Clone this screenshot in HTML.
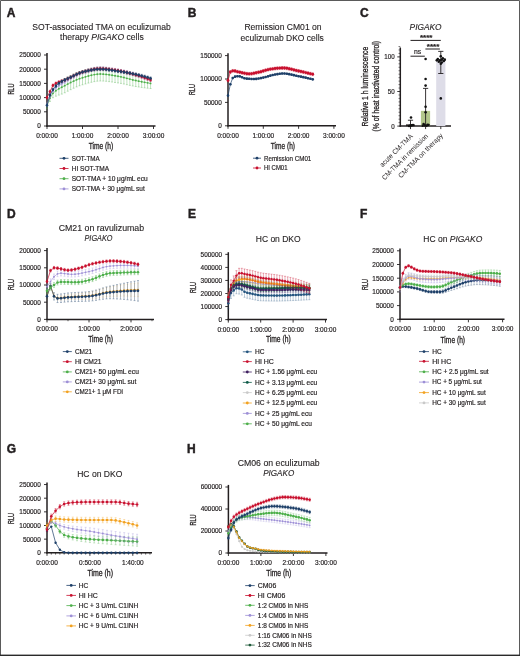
<!DOCTYPE html>
<html><head><meta charset="utf-8"><style>
html,body{margin:0;padding:0;background:#fff;width:520px;height:656px;overflow:hidden}
svg{display:block;will-change:transform}
text{font-family:"Liberation Sans", sans-serif}
</style></head><body>
<svg width="520" height="656" viewBox="0 0 520 656">
<rect x="0.5" y="0.5" width="519" height="655" fill="#fff" stroke="none"/>
<text x="6.80" y="16.65" font-size="12" font-weight="bold" fill="#231f20" stroke="#231f20" stroke-width="0.45">A</text>
<text x="101.50" y="29.60" font-size="9.2" text-anchor="middle" font-weight="normal" font-style="normal" fill="#231f20" stroke="#231f20" stroke-width="0.12" textLength="138.5" lengthAdjust="spacingAndGlyphs">SOT-associated TMA on eculizumab</text>
<text x="101.9" y="40.4" font-size="9.2" text-anchor="middle" fill="#231f20" stroke="#231f20" stroke-width="0.12" textLength="83.6" lengthAdjust="spacingAndGlyphs">therapy <tspan font-style="italic">PIGAKO</tspan> cells</text>
<line x1="47.00" y1="53.00" x2="47.00" y2="126.70" stroke="#231f20" stroke-width="1.5" stroke-opacity="1.0"/>
<line x1="46.30" y1="126.00" x2="155.50" y2="126.00" stroke="#231f20" stroke-width="1.5" stroke-opacity="1.0"/>
<line x1="44.00" y1="126.00" x2="47.00" y2="126.00" stroke="#231f20" stroke-width="0.9" stroke-opacity="1.0"/>
<text x="40.80" y="128.40" font-size="6.7" text-anchor="end" font-weight="normal" font-style="normal" fill="#231f20" stroke="#231f20" stroke-width="0.18" textLength="3.58" lengthAdjust="spacingAndGlyphs">0</text>
<line x1="44.00" y1="111.80" x2="47.00" y2="111.80" stroke="#231f20" stroke-width="0.9" stroke-opacity="1.0"/>
<text x="40.80" y="114.20" font-size="6.7" text-anchor="end" font-weight="normal" font-style="normal" fill="#231f20" stroke="#231f20" stroke-width="0.18" textLength="17.9" lengthAdjust="spacingAndGlyphs">50000</text>
<line x1="44.00" y1="97.60" x2="47.00" y2="97.60" stroke="#231f20" stroke-width="0.9" stroke-opacity="1.0"/>
<text x="40.80" y="100.00" font-size="6.7" text-anchor="end" font-weight="normal" font-style="normal" fill="#231f20" stroke="#231f20" stroke-width="0.18" textLength="21.48" lengthAdjust="spacingAndGlyphs">100000</text>
<line x1="44.00" y1="83.40" x2="47.00" y2="83.40" stroke="#231f20" stroke-width="0.9" stroke-opacity="1.0"/>
<text x="40.80" y="85.80" font-size="6.7" text-anchor="end" font-weight="normal" font-style="normal" fill="#231f20" stroke="#231f20" stroke-width="0.18" textLength="21.48" lengthAdjust="spacingAndGlyphs">150000</text>
<line x1="44.00" y1="69.20" x2="47.00" y2="69.20" stroke="#231f20" stroke-width="0.9" stroke-opacity="1.0"/>
<text x="40.80" y="71.60" font-size="6.7" text-anchor="end" font-weight="normal" font-style="normal" fill="#231f20" stroke="#231f20" stroke-width="0.18" textLength="21.48" lengthAdjust="spacingAndGlyphs">200000</text>
<line x1="44.00" y1="55.00" x2="47.00" y2="55.00" stroke="#231f20" stroke-width="0.9" stroke-opacity="1.0"/>
<text x="40.80" y="57.40" font-size="6.7" text-anchor="end" font-weight="normal" font-style="normal" fill="#231f20" stroke="#231f20" stroke-width="0.18" textLength="21.48" lengthAdjust="spacingAndGlyphs">250000</text>
<line x1="47.00" y1="126.00" x2="47.00" y2="129.00" stroke="#231f20" stroke-width="0.9" stroke-opacity="1.0"/>
<text x="47.00" y="138.00" font-size="6.6" text-anchor="middle" font-weight="normal" font-style="normal" fill="#231f20" stroke="#231f20" stroke-width="0.18" textLength="21.7" lengthAdjust="spacingAndGlyphs">0:00:00</text>
<line x1="82.50" y1="126.00" x2="82.50" y2="129.00" stroke="#231f20" stroke-width="0.9" stroke-opacity="1.0"/>
<text x="82.50" y="138.00" font-size="6.6" text-anchor="middle" font-weight="normal" font-style="normal" fill="#231f20" stroke="#231f20" stroke-width="0.18" textLength="21.7" lengthAdjust="spacingAndGlyphs">1:00:00</text>
<line x1="118.00" y1="126.00" x2="118.00" y2="129.00" stroke="#231f20" stroke-width="0.9" stroke-opacity="1.0"/>
<text x="118.00" y="138.00" font-size="6.6" text-anchor="middle" font-weight="normal" font-style="normal" fill="#231f20" stroke="#231f20" stroke-width="0.18" textLength="21.7" lengthAdjust="spacingAndGlyphs">2:00:00</text>
<line x1="153.50" y1="126.00" x2="153.50" y2="129.00" stroke="#231f20" stroke-width="0.9" stroke-opacity="1.0"/>
<text x="153.50" y="138.00" font-size="6.6" text-anchor="middle" font-weight="normal" font-style="normal" fill="#231f20" stroke="#231f20" stroke-width="0.18" textLength="21.7" lengthAdjust="spacingAndGlyphs">3:00:00</text>
<text x="13.70" y="89.10" font-size="9.2" text-anchor="middle" font-weight="normal" font-style="normal" fill="#231f20" stroke="#231f20" stroke-width="0.3" textLength="11" lengthAdjust="spacingAndGlyphs" transform="rotate(-90 13.7 89.1)">RLU</text>
<text x="101.00" y="149.00" font-size="8.5" text-anchor="middle" font-weight="normal" font-style="normal" fill="#231f20" stroke="#231f20" stroke-width="0.3" textLength="24.5" lengthAdjust="spacingAndGlyphs">Time (h)</text>
<g><path d="M47.00 103.85V108.39M46.00 103.85h2.00M46.00 108.39h2.00" stroke="#4daf4a" stroke-width="0.5" stroke-opacity="0.7" fill="none"/><path d="M49.96 94.85V101.44M48.96 94.85h2.00M48.96 101.44h2.00" stroke="#4daf4a" stroke-width="0.5" stroke-opacity="0.7" fill="none"/><path d="M52.92 88.98V97.72M51.92 88.98h2.00M51.92 97.72h2.00" stroke="#4daf4a" stroke-width="0.5" stroke-opacity="0.7" fill="none"/><path d="M55.88 85.36V96.16M54.88 85.36h2.00M54.88 96.16h2.00" stroke="#4daf4a" stroke-width="0.5" stroke-opacity="0.7" fill="none"/><path d="M58.83 82.53V95.08M57.83 82.53h2.00M57.83 95.08h2.00" stroke="#4daf4a" stroke-width="0.5" stroke-opacity="0.7" fill="none"/><path d="M61.79 80.33V94.08M60.79 80.33h2.00M60.79 94.08h2.00" stroke="#4daf4a" stroke-width="0.5" stroke-opacity="0.7" fill="none"/><path d="M64.75 78.57V92.77M63.75 78.57h2.00M63.75 92.77h2.00" stroke="#4daf4a" stroke-width="0.5" stroke-opacity="0.7" fill="none"/><path d="M67.71 77.00V91.20M66.71 77.00h2.00M66.71 91.20h2.00" stroke="#4daf4a" stroke-width="0.5" stroke-opacity="0.7" fill="none"/><path d="M70.67 75.47V89.67M69.67 75.47h2.00M69.67 89.67h2.00" stroke="#4daf4a" stroke-width="0.5" stroke-opacity="0.7" fill="none"/><path d="M73.62 74.04V88.23M72.62 74.04h2.00M72.62 88.23h2.00" stroke="#4daf4a" stroke-width="0.5" stroke-opacity="0.7" fill="none"/><path d="M76.58 72.73V86.92M75.58 72.73h2.00M75.58 86.92h2.00" stroke="#4daf4a" stroke-width="0.5" stroke-opacity="0.7" fill="none"/><path d="M79.54 71.58V85.76M78.54 71.58h2.00M78.54 85.76h2.00" stroke="#4daf4a" stroke-width="0.5" stroke-opacity="0.7" fill="none"/><path d="M82.50 70.64V84.80M81.50 70.64h2.00M81.50 84.80h2.00" stroke="#4daf4a" stroke-width="0.5" stroke-opacity="0.7" fill="none"/><path d="M85.46 69.79V83.94M84.46 69.79h2.00M84.46 83.94h2.00" stroke="#4daf4a" stroke-width="0.5" stroke-opacity="0.7" fill="none"/><path d="M88.42 68.96V83.07M87.42 68.96h2.00M87.42 83.07h2.00" stroke="#4daf4a" stroke-width="0.5" stroke-opacity="0.7" fill="none"/><path d="M91.38 68.20V82.28M90.38 68.20h2.00M90.38 82.28h2.00" stroke="#4daf4a" stroke-width="0.5" stroke-opacity="0.7" fill="none"/><path d="M94.33 67.59V81.63M93.33 67.59h2.00M93.33 81.63h2.00" stroke="#4daf4a" stroke-width="0.5" stroke-opacity="0.7" fill="none"/><path d="M97.29 67.19V81.18M96.29 67.19h2.00M96.29 81.18h2.00" stroke="#4daf4a" stroke-width="0.5" stroke-opacity="0.7" fill="none"/><path d="M100.25 67.07V80.99M99.25 67.07h2.00M99.25 80.99h2.00" stroke="#4daf4a" stroke-width="0.5" stroke-opacity="0.7" fill="none"/><path d="M103.21 67.21V81.05M102.21 67.21h2.00M102.21 81.05h2.00" stroke="#4daf4a" stroke-width="0.5" stroke-opacity="0.7" fill="none"/><path d="M106.17 67.52V81.27M105.17 67.52h2.00M105.17 81.27h2.00" stroke="#4daf4a" stroke-width="0.5" stroke-opacity="0.7" fill="none"/><path d="M109.12 67.97V81.62M108.12 67.97h2.00M108.12 81.62h2.00" stroke="#4daf4a" stroke-width="0.5" stroke-opacity="0.7" fill="none"/><path d="M112.08 68.50V82.04M111.08 68.50h2.00M111.08 82.04h2.00" stroke="#4daf4a" stroke-width="0.5" stroke-opacity="0.7" fill="none"/><path d="M115.04 69.09V82.49M114.04 69.09h2.00M114.04 82.49h2.00" stroke="#4daf4a" stroke-width="0.5" stroke-opacity="0.7" fill="none"/><path d="M118.00 69.67V82.93M117.00 69.67h2.00M117.00 82.93h2.00" stroke="#4daf4a" stroke-width="0.5" stroke-opacity="0.7" fill="none"/><path d="M120.96 70.33V83.41M119.96 70.33h2.00M119.96 83.41h2.00" stroke="#4daf4a" stroke-width="0.5" stroke-opacity="0.7" fill="none"/><path d="M123.92 71.11V84.02M122.92 71.11h2.00M122.92 84.02h2.00" stroke="#4daf4a" stroke-width="0.5" stroke-opacity="0.7" fill="none"/><path d="M126.88 71.98V84.68M125.88 71.98h2.00M125.88 84.68h2.00" stroke="#4daf4a" stroke-width="0.5" stroke-opacity="0.7" fill="none"/><path d="M129.83 72.88V85.35M128.83 72.88h2.00M128.83 85.35h2.00" stroke="#4daf4a" stroke-width="0.5" stroke-opacity="0.7" fill="none"/><path d="M132.79 73.77V85.99M131.79 73.77h2.00M131.79 85.99h2.00" stroke="#4daf4a" stroke-width="0.5" stroke-opacity="0.7" fill="none"/><path d="M135.75 74.58V86.54M134.75 74.58h2.00M134.75 86.54h2.00" stroke="#4daf4a" stroke-width="0.5" stroke-opacity="0.7" fill="none"/><path d="M138.71 75.34V87.01M137.71 75.34h2.00M137.71 87.01h2.00" stroke="#4daf4a" stroke-width="0.5" stroke-opacity="0.7" fill="none"/><path d="M141.67 76.09V87.44M140.67 76.09h2.00M140.67 87.44h2.00" stroke="#4daf4a" stroke-width="0.5" stroke-opacity="0.7" fill="none"/><path d="M144.62 76.83V87.83M143.62 76.83h2.00M143.62 87.83h2.00" stroke="#4daf4a" stroke-width="0.5" stroke-opacity="0.7" fill="none"/><path d="M147.58 77.55V88.19M146.58 77.55h2.00M146.58 88.19h2.00" stroke="#4daf4a" stroke-width="0.5" stroke-opacity="0.7" fill="none"/><path d="M150.54 78.26V88.50M149.54 78.26h2.00M149.54 88.50h2.00" stroke="#4daf4a" stroke-width="0.5" stroke-opacity="0.7" fill="none"/><polyline points="47.00,106.12 49.96,98.14 52.92,93.35 55.88,90.76 58.83,88.81 61.79,87.20 64.75,85.67 67.71,84.10 70.67,82.57 73.62,81.14 76.58,79.82 79.54,78.67 82.50,77.72 85.46,76.86 88.42,76.02 91.38,75.24 94.33,74.61 97.29,74.18 100.25,74.03 103.21,74.13 106.17,74.40 109.12,74.79 112.08,75.27 115.04,75.79 118.00,76.30 120.96,76.87 123.92,77.57 126.88,78.33 129.83,79.12 132.79,79.88 135.75,80.56 138.71,81.17 141.67,81.76 144.62,82.33 147.58,82.87 150.54,83.38" fill="none" stroke="#4daf4a" stroke-width="0.6"/><circle cx="47.00" cy="106.12" r="0.95" fill="#4daf4a"/><circle cx="49.96" cy="98.14" r="0.95" fill="#4daf4a"/><circle cx="52.92" cy="93.35" r="0.95" fill="#4daf4a"/><circle cx="55.88" cy="90.76" r="0.95" fill="#4daf4a"/><circle cx="58.83" cy="88.81" r="0.95" fill="#4daf4a"/><circle cx="61.79" cy="87.20" r="0.95" fill="#4daf4a"/><circle cx="64.75" cy="85.67" r="0.95" fill="#4daf4a"/><circle cx="67.71" cy="84.10" r="0.95" fill="#4daf4a"/><circle cx="70.67" cy="82.57" r="0.95" fill="#4daf4a"/><circle cx="73.62" cy="81.14" r="0.95" fill="#4daf4a"/><circle cx="76.58" cy="79.82" r="0.95" fill="#4daf4a"/><circle cx="79.54" cy="78.67" r="0.95" fill="#4daf4a"/><circle cx="82.50" cy="77.72" r="0.95" fill="#4daf4a"/><circle cx="85.46" cy="76.86" r="0.95" fill="#4daf4a"/><circle cx="88.42" cy="76.02" r="0.95" fill="#4daf4a"/><circle cx="91.38" cy="75.24" r="0.95" fill="#4daf4a"/><circle cx="94.33" cy="74.61" r="0.95" fill="#4daf4a"/><circle cx="97.29" cy="74.18" r="0.95" fill="#4daf4a"/><circle cx="100.25" cy="74.03" r="0.95" fill="#4daf4a"/><circle cx="103.21" cy="74.13" r="0.95" fill="#4daf4a"/><circle cx="106.17" cy="74.40" r="0.95" fill="#4daf4a"/><circle cx="109.12" cy="74.79" r="0.95" fill="#4daf4a"/><circle cx="112.08" cy="75.27" r="0.95" fill="#4daf4a"/><circle cx="115.04" cy="75.79" r="0.95" fill="#4daf4a"/><circle cx="118.00" cy="76.30" r="0.95" fill="#4daf4a"/><circle cx="120.96" cy="76.87" r="0.95" fill="#4daf4a"/><circle cx="123.92" cy="77.57" r="0.95" fill="#4daf4a"/><circle cx="126.88" cy="78.33" r="0.95" fill="#4daf4a"/><circle cx="129.83" cy="79.12" r="0.95" fill="#4daf4a"/><circle cx="132.79" cy="79.88" r="0.95" fill="#4daf4a"/><circle cx="135.75" cy="80.56" r="0.95" fill="#4daf4a"/><circle cx="138.71" cy="81.17" r="0.95" fill="#4daf4a"/><circle cx="141.67" cy="81.76" r="0.95" fill="#4daf4a"/><circle cx="144.62" cy="82.33" r="0.95" fill="#4daf4a"/><circle cx="147.58" cy="82.87" r="0.95" fill="#4daf4a"/><circle cx="150.54" cy="83.38" r="0.95" fill="#4daf4a"/></g>
<g><path d="M47.00 103.00V106.40M46.00 103.00h2.00M46.00 106.40h2.00" stroke="#9d8fd6" stroke-width="0.5" stroke-opacity="0.8" fill="none"/><path d="M49.96 94.45V97.86M48.96 94.45h2.00M48.96 97.86h2.00" stroke="#9d8fd6" stroke-width="0.5" stroke-opacity="0.8" fill="none"/><path d="M52.92 88.81V92.22M51.92 88.81h2.00M51.92 92.22h2.00" stroke="#9d8fd6" stroke-width="0.5" stroke-opacity="0.8" fill="none"/><path d="M55.88 85.90V89.31M54.88 85.90h2.00M54.88 89.31h2.00" stroke="#9d8fd6" stroke-width="0.5" stroke-opacity="0.8" fill="none"/><path d="M58.83 83.75V87.16M57.83 83.75h2.00M57.83 87.16h2.00" stroke="#9d8fd6" stroke-width="0.5" stroke-opacity="0.8" fill="none"/><path d="M61.79 82.00V85.40M60.79 82.00h2.00M60.79 85.40h2.00" stroke="#9d8fd6" stroke-width="0.5" stroke-opacity="0.8" fill="none"/><path d="M64.75 80.28V83.68M63.75 80.28h2.00M63.75 83.68h2.00" stroke="#9d8fd6" stroke-width="0.5" stroke-opacity="0.8" fill="none"/><path d="M67.71 78.45V81.86M66.71 78.45h2.00M66.71 81.86h2.00" stroke="#9d8fd6" stroke-width="0.5" stroke-opacity="0.8" fill="none"/><path d="M70.67 76.66V80.07M69.67 76.66h2.00M69.67 80.07h2.00" stroke="#9d8fd6" stroke-width="0.5" stroke-opacity="0.8" fill="none"/><path d="M73.62 74.96V78.36M72.62 74.96h2.00M72.62 78.36h2.00" stroke="#9d8fd6" stroke-width="0.5" stroke-opacity="0.8" fill="none"/><path d="M76.58 73.39V76.80M75.58 73.39h2.00M75.58 76.80h2.00" stroke="#9d8fd6" stroke-width="0.5" stroke-opacity="0.8" fill="none"/><path d="M79.54 72.02V75.43M78.54 72.02h2.00M78.54 75.43h2.00" stroke="#9d8fd6" stroke-width="0.5" stroke-opacity="0.8" fill="none"/><path d="M82.50 70.90V74.31M81.50 70.90h2.00M81.50 74.31h2.00" stroke="#9d8fd6" stroke-width="0.5" stroke-opacity="0.8" fill="none"/><path d="M85.46 69.91V73.32M84.46 69.91h2.00M84.46 73.32h2.00" stroke="#9d8fd6" stroke-width="0.5" stroke-opacity="0.8" fill="none"/><path d="M88.42 68.93V72.34M87.42 68.93h2.00M87.42 72.34h2.00" stroke="#9d8fd6" stroke-width="0.5" stroke-opacity="0.8" fill="none"/><path d="M91.38 68.04V71.45M90.38 68.04h2.00M90.38 71.45h2.00" stroke="#9d8fd6" stroke-width="0.5" stroke-opacity="0.8" fill="none"/><path d="M94.33 67.31V70.72M93.33 67.31h2.00M93.33 70.72h2.00" stroke="#9d8fd6" stroke-width="0.5" stroke-opacity="0.8" fill="none"/><path d="M97.29 66.82V70.23M96.29 66.82h2.00M96.29 70.23h2.00" stroke="#9d8fd6" stroke-width="0.5" stroke-opacity="0.8" fill="none"/><path d="M100.25 66.64V70.05M99.25 66.64h2.00M99.25 70.05h2.00" stroke="#9d8fd6" stroke-width="0.5" stroke-opacity="0.8" fill="none"/><path d="M103.21 66.74V70.15M102.21 66.74h2.00M102.21 70.15h2.00" stroke="#9d8fd6" stroke-width="0.5" stroke-opacity="0.8" fill="none"/><path d="M106.17 67.01V70.42M105.17 67.01h2.00M105.17 70.42h2.00" stroke="#9d8fd6" stroke-width="0.5" stroke-opacity="0.8" fill="none"/><path d="M109.12 67.41V70.82M108.12 67.41h2.00M108.12 70.82h2.00" stroke="#9d8fd6" stroke-width="0.5" stroke-opacity="0.8" fill="none"/><path d="M112.08 67.89V71.30M111.08 67.89h2.00M111.08 71.30h2.00" stroke="#9d8fd6" stroke-width="0.5" stroke-opacity="0.8" fill="none"/><path d="M115.04 68.40V71.81M114.04 68.40h2.00M114.04 71.81h2.00" stroke="#9d8fd6" stroke-width="0.5" stroke-opacity="0.8" fill="none"/><path d="M118.00 68.92V72.32M117.00 68.92h2.00M117.00 72.32h2.00" stroke="#9d8fd6" stroke-width="0.5" stroke-opacity="0.8" fill="none"/><path d="M120.96 69.46V72.87M119.96 69.46h2.00M119.96 72.87h2.00" stroke="#9d8fd6" stroke-width="0.5" stroke-opacity="0.8" fill="none"/><path d="M123.92 70.09V73.49M122.92 70.09h2.00M122.92 73.49h2.00" stroke="#9d8fd6" stroke-width="0.5" stroke-opacity="0.8" fill="none"/><path d="M126.88 70.79V74.19M125.88 70.79h2.00M125.88 74.19h2.00" stroke="#9d8fd6" stroke-width="0.5" stroke-opacity="0.8" fill="none"/><path d="M129.83 71.54V74.95M128.83 71.54h2.00M128.83 74.95h2.00" stroke="#9d8fd6" stroke-width="0.5" stroke-opacity="0.8" fill="none"/><path d="M132.79 72.35V75.75M131.79 72.35h2.00M131.79 75.75h2.00" stroke="#9d8fd6" stroke-width="0.5" stroke-opacity="0.8" fill="none"/><path d="M135.75 73.18V76.58M134.75 73.18h2.00M134.75 76.58h2.00" stroke="#9d8fd6" stroke-width="0.5" stroke-opacity="0.8" fill="none"/><path d="M138.71 74.06V77.46M137.71 74.06h2.00M137.71 77.46h2.00" stroke="#9d8fd6" stroke-width="0.5" stroke-opacity="0.8" fill="none"/><path d="M141.67 75.01V78.42M140.67 75.01h2.00M140.67 78.42h2.00" stroke="#9d8fd6" stroke-width="0.5" stroke-opacity="0.8" fill="none"/><path d="M144.62 76.03V79.44M143.62 76.03h2.00M143.62 79.44h2.00" stroke="#9d8fd6" stroke-width="0.5" stroke-opacity="0.8" fill="none"/><path d="M147.58 77.11V80.52M146.58 77.11h2.00M146.58 80.52h2.00" stroke="#9d8fd6" stroke-width="0.5" stroke-opacity="0.8" fill="none"/><path d="M150.54 78.24V81.65M149.54 78.24h2.00M149.54 81.65h2.00" stroke="#9d8fd6" stroke-width="0.5" stroke-opacity="0.8" fill="none"/><polyline points="47.00,104.70 49.96,96.15 52.92,90.51 55.88,87.61 58.83,85.46 61.79,83.70 64.75,81.98 67.71,80.16 70.67,78.36 73.62,76.66 76.58,75.10 79.54,73.73 82.50,72.61 85.46,71.61 88.42,70.64 91.38,69.75 94.33,69.02 97.29,68.53 100.25,68.35 103.21,68.45 106.17,68.72 109.12,69.11 112.08,69.59 115.04,70.11 118.00,70.62 120.96,71.16 123.92,71.79 126.88,72.49 129.83,73.25 132.79,74.05 135.75,74.88 138.71,75.76 141.67,76.71 144.62,77.74 147.58,78.82 150.54,79.95" fill="none" stroke="#9d8fd6" stroke-width="0.6"/><circle cx="47.00" cy="104.70" r="0.95" fill="#9d8fd6"/><circle cx="49.96" cy="96.15" r="0.95" fill="#9d8fd6"/><circle cx="52.92" cy="90.51" r="0.95" fill="#9d8fd6"/><circle cx="55.88" cy="87.61" r="0.95" fill="#9d8fd6"/><circle cx="58.83" cy="85.46" r="0.95" fill="#9d8fd6"/><circle cx="61.79" cy="83.70" r="0.95" fill="#9d8fd6"/><circle cx="64.75" cy="81.98" r="0.95" fill="#9d8fd6"/><circle cx="67.71" cy="80.16" r="0.95" fill="#9d8fd6"/><circle cx="70.67" cy="78.36" r="0.95" fill="#9d8fd6"/><circle cx="73.62" cy="76.66" r="0.95" fill="#9d8fd6"/><circle cx="76.58" cy="75.10" r="0.95" fill="#9d8fd6"/><circle cx="79.54" cy="73.73" r="0.95" fill="#9d8fd6"/><circle cx="82.50" cy="72.61" r="0.95" fill="#9d8fd6"/><circle cx="85.46" cy="71.61" r="0.95" fill="#9d8fd6"/><circle cx="88.42" cy="70.64" r="0.95" fill="#9d8fd6"/><circle cx="91.38" cy="69.75" r="0.95" fill="#9d8fd6"/><circle cx="94.33" cy="69.02" r="0.95" fill="#9d8fd6"/><circle cx="97.29" cy="68.53" r="0.95" fill="#9d8fd6"/><circle cx="100.25" cy="68.35" r="0.95" fill="#9d8fd6"/><circle cx="103.21" cy="68.45" r="0.95" fill="#9d8fd6"/><circle cx="106.17" cy="68.72" r="0.95" fill="#9d8fd6"/><circle cx="109.12" cy="69.11" r="0.95" fill="#9d8fd6"/><circle cx="112.08" cy="69.59" r="0.95" fill="#9d8fd6"/><circle cx="115.04" cy="70.11" r="0.95" fill="#9d8fd6"/><circle cx="118.00" cy="70.62" r="0.95" fill="#9d8fd6"/><circle cx="120.96" cy="71.16" r="0.95" fill="#9d8fd6"/><circle cx="123.92" cy="71.79" r="0.95" fill="#9d8fd6"/><circle cx="126.88" cy="72.49" r="0.95" fill="#9d8fd6"/><circle cx="129.83" cy="73.25" r="0.95" fill="#9d8fd6"/><circle cx="132.79" cy="74.05" r="0.95" fill="#9d8fd6"/><circle cx="135.75" cy="74.88" r="0.95" fill="#9d8fd6"/><circle cx="138.71" cy="75.76" r="0.95" fill="#9d8fd6"/><circle cx="141.67" cy="76.71" r="0.95" fill="#9d8fd6"/><circle cx="144.62" cy="77.74" r="0.95" fill="#9d8fd6"/><circle cx="147.58" cy="78.82" r="0.95" fill="#9d8fd6"/><circle cx="150.54" cy="79.95" r="0.95" fill="#9d8fd6"/></g>
<g><path d="M47.00 96.18V99.02M46.00 96.18h2.00M46.00 99.02h2.00" stroke="#c8102e" stroke-width="0.5" stroke-opacity="0.8" fill="none"/><path d="M49.96 90.19V93.03M48.96 90.19h2.00M48.96 93.03h2.00" stroke="#c8102e" stroke-width="0.5" stroke-opacity="0.8" fill="none"/><path d="M52.92 83.98V86.82M51.92 83.98h2.00M51.92 86.82h2.00" stroke="#c8102e" stroke-width="0.5" stroke-opacity="0.8" fill="none"/><path d="M55.88 81.98V84.82M54.88 81.98h2.00M54.88 84.82h2.00" stroke="#c8102e" stroke-width="0.5" stroke-opacity="0.8" fill="none"/><path d="M58.83 80.69V83.53M57.83 80.69h2.00M57.83 83.53h2.00" stroke="#c8102e" stroke-width="0.5" stroke-opacity="0.8" fill="none"/><path d="M61.79 79.66V82.50M60.79 79.66h2.00M60.79 82.50h2.00" stroke="#c8102e" stroke-width="0.5" stroke-opacity="0.8" fill="none"/><path d="M64.75 78.57V81.41M63.75 78.57h2.00M63.75 81.41h2.00" stroke="#c8102e" stroke-width="0.5" stroke-opacity="0.8" fill="none"/><path d="M67.71 77.25V80.09M66.71 77.25h2.00M66.71 80.09h2.00" stroke="#c8102e" stroke-width="0.5" stroke-opacity="0.8" fill="none"/><path d="M70.67 75.79V78.63M69.67 75.79h2.00M69.67 78.63h2.00" stroke="#c8102e" stroke-width="0.5" stroke-opacity="0.8" fill="none"/><path d="M73.62 74.28V77.12M72.62 74.28h2.00M72.62 77.12h2.00" stroke="#c8102e" stroke-width="0.5" stroke-opacity="0.8" fill="none"/><path d="M76.58 72.85V75.69M75.58 72.85h2.00M75.58 75.69h2.00" stroke="#c8102e" stroke-width="0.5" stroke-opacity="0.8" fill="none"/><path d="M79.54 71.59V74.43M78.54 71.59h2.00M78.54 74.43h2.00" stroke="#c8102e" stroke-width="0.5" stroke-opacity="0.8" fill="none"/><path d="M82.50 70.62V73.46M81.50 70.62h2.00M81.50 73.46h2.00" stroke="#c8102e" stroke-width="0.5" stroke-opacity="0.8" fill="none"/><path d="M85.46 69.82V72.66M84.46 69.82h2.00M84.46 72.66h2.00" stroke="#c8102e" stroke-width="0.5" stroke-opacity="0.8" fill="none"/><path d="M88.42 69.03V71.87M87.42 69.03h2.00M87.42 71.87h2.00" stroke="#c8102e" stroke-width="0.5" stroke-opacity="0.8" fill="none"/><path d="M91.38 68.32V71.16M90.38 68.32h2.00M90.38 71.16h2.00" stroke="#c8102e" stroke-width="0.5" stroke-opacity="0.8" fill="none"/><path d="M94.33 67.74V70.58M93.33 67.74h2.00M93.33 70.58h2.00" stroke="#c8102e" stroke-width="0.5" stroke-opacity="0.8" fill="none"/><path d="M97.29 67.35V70.19M96.29 67.35h2.00M96.29 70.19h2.00" stroke="#c8102e" stroke-width="0.5" stroke-opacity="0.8" fill="none"/><path d="M100.25 67.21V70.05M99.25 67.21h2.00M99.25 70.05h2.00" stroke="#c8102e" stroke-width="0.5" stroke-opacity="0.8" fill="none"/><path d="M103.21 67.30V70.14M102.21 67.30h2.00M102.21 70.14h2.00" stroke="#c8102e" stroke-width="0.5" stroke-opacity="0.8" fill="none"/><path d="M106.17 67.53V70.37M105.17 67.53h2.00M105.17 70.37h2.00" stroke="#c8102e" stroke-width="0.5" stroke-opacity="0.8" fill="none"/><path d="M109.12 67.87V70.71M108.12 67.87h2.00M108.12 70.71h2.00" stroke="#c8102e" stroke-width="0.5" stroke-opacity="0.8" fill="none"/><path d="M112.08 68.28V71.12M111.08 68.28h2.00M111.08 71.12h2.00" stroke="#c8102e" stroke-width="0.5" stroke-opacity="0.8" fill="none"/><path d="M115.04 68.74V71.58M114.04 68.74h2.00M114.04 71.58h2.00" stroke="#c8102e" stroke-width="0.5" stroke-opacity="0.8" fill="none"/><path d="M118.00 69.20V72.04M117.00 69.20h2.00M117.00 72.04h2.00" stroke="#c8102e" stroke-width="0.5" stroke-opacity="0.8" fill="none"/><path d="M120.96 69.71V72.55M119.96 69.71h2.00M119.96 72.55h2.00" stroke="#c8102e" stroke-width="0.5" stroke-opacity="0.8" fill="none"/><path d="M123.92 70.33V73.17M122.92 70.33h2.00M122.92 73.17h2.00" stroke="#c8102e" stroke-width="0.5" stroke-opacity="0.8" fill="none"/><path d="M126.88 71.04V73.88M125.88 71.04h2.00M125.88 73.88h2.00" stroke="#c8102e" stroke-width="0.5" stroke-opacity="0.8" fill="none"/><path d="M129.83 71.81V74.65M128.83 71.81h2.00M128.83 74.65h2.00" stroke="#c8102e" stroke-width="0.5" stroke-opacity="0.8" fill="none"/><path d="M132.79 72.62V75.46M131.79 72.62h2.00M131.79 75.46h2.00" stroke="#c8102e" stroke-width="0.5" stroke-opacity="0.8" fill="none"/><path d="M135.75 73.46V76.30M134.75 73.46h2.00M134.75 76.30h2.00" stroke="#c8102e" stroke-width="0.5" stroke-opacity="0.8" fill="none"/><path d="M138.71 74.34V77.18M137.71 74.34h2.00M137.71 77.18h2.00" stroke="#c8102e" stroke-width="0.5" stroke-opacity="0.8" fill="none"/><path d="M141.67 75.29V78.13M140.67 75.29h2.00M140.67 78.13h2.00" stroke="#c8102e" stroke-width="0.5" stroke-opacity="0.8" fill="none"/><path d="M144.62 76.32V79.16M143.62 76.32h2.00M143.62 79.16h2.00" stroke="#c8102e" stroke-width="0.5" stroke-opacity="0.8" fill="none"/><path d="M147.58 77.40V80.24M146.58 77.40h2.00M146.58 80.24h2.00" stroke="#c8102e" stroke-width="0.5" stroke-opacity="0.8" fill="none"/><path d="M150.54 78.53V81.37M149.54 78.53h2.00M149.54 81.37h2.00" stroke="#c8102e" stroke-width="0.5" stroke-opacity="0.8" fill="none"/><polyline points="47.00,97.60 49.96,91.61 52.92,85.40 55.88,83.40 58.83,82.11 61.79,81.08 64.75,79.99 67.71,78.67 70.67,77.21 73.62,75.70 76.58,74.27 79.54,73.01 82.50,72.04 85.46,71.24 88.42,70.45 91.38,69.74 94.33,69.16 97.29,68.77 100.25,68.63 103.21,68.72 106.17,68.95 109.12,69.29 112.08,69.70 115.04,70.16 118.00,70.62 120.96,71.13 123.92,71.75 126.88,72.46 129.83,73.23 132.79,74.04 135.75,74.88 138.71,75.76 141.67,76.71 144.62,77.74 147.58,78.82 150.54,79.95" fill="none" stroke="#c8102e" stroke-width="0.7"/><circle cx="47.00" cy="97.60" r="1.3" fill="#c8102e"/><circle cx="49.96" cy="91.61" r="1.3" fill="#c8102e"/><circle cx="52.92" cy="85.40" r="1.3" fill="#c8102e"/><circle cx="55.88" cy="83.40" r="1.3" fill="#c8102e"/><circle cx="58.83" cy="82.11" r="1.3" fill="#c8102e"/><circle cx="61.79" cy="81.08" r="1.3" fill="#c8102e"/><circle cx="64.75" cy="79.99" r="1.3" fill="#c8102e"/><circle cx="67.71" cy="78.67" r="1.3" fill="#c8102e"/><circle cx="70.67" cy="77.21" r="1.3" fill="#c8102e"/><circle cx="73.62" cy="75.70" r="1.3" fill="#c8102e"/><circle cx="76.58" cy="74.27" r="1.3" fill="#c8102e"/><circle cx="79.54" cy="73.01" r="1.3" fill="#c8102e"/><circle cx="82.50" cy="72.04" r="1.3" fill="#c8102e"/><circle cx="85.46" cy="71.24" r="1.3" fill="#c8102e"/><circle cx="88.42" cy="70.45" r="1.3" fill="#c8102e"/><circle cx="91.38" cy="69.74" r="1.3" fill="#c8102e"/><circle cx="94.33" cy="69.16" r="1.3" fill="#c8102e"/><circle cx="97.29" cy="68.77" r="1.3" fill="#c8102e"/><circle cx="100.25" cy="68.63" r="1.3" fill="#c8102e"/><circle cx="103.21" cy="68.72" r="1.3" fill="#c8102e"/><circle cx="106.17" cy="68.95" r="1.3" fill="#c8102e"/><circle cx="109.12" cy="69.29" r="1.3" fill="#c8102e"/><circle cx="112.08" cy="69.70" r="1.3" fill="#c8102e"/><circle cx="115.04" cy="70.16" r="1.3" fill="#c8102e"/><circle cx="118.00" cy="70.62" r="1.3" fill="#c8102e"/><circle cx="120.96" cy="71.13" r="1.3" fill="#c8102e"/><circle cx="123.92" cy="71.75" r="1.3" fill="#c8102e"/><circle cx="126.88" cy="72.46" r="1.3" fill="#c8102e"/><circle cx="129.83" cy="73.23" r="1.3" fill="#c8102e"/><circle cx="132.79" cy="74.04" r="1.3" fill="#c8102e"/><circle cx="135.75" cy="74.88" r="1.3" fill="#c8102e"/><circle cx="138.71" cy="75.76" r="1.3" fill="#c8102e"/><circle cx="141.67" cy="76.71" r="1.3" fill="#c8102e"/><circle cx="144.62" cy="77.74" r="1.3" fill="#c8102e"/><circle cx="147.58" cy="78.82" r="1.3" fill="#c8102e"/><circle cx="150.54" cy="79.95" r="1.3" fill="#c8102e"/></g>
<g><path d="M47.00 103.85V106.69M46.00 103.85h2.00M46.00 106.69h2.00" stroke="#1d3f68" stroke-width="0.5" stroke-opacity="0.8" fill="none"/><path d="M49.96 93.60V96.44M48.96 93.60h2.00M48.96 96.44h2.00" stroke="#1d3f68" stroke-width="0.5" stroke-opacity="0.8" fill="none"/><path d="M52.92 88.24V91.08M51.92 88.24h2.00M51.92 91.08h2.00" stroke="#1d3f68" stroke-width="0.5" stroke-opacity="0.8" fill="none"/><path d="M55.88 84.57V87.41M54.88 84.57h2.00M54.88 87.41h2.00" stroke="#1d3f68" stroke-width="0.5" stroke-opacity="0.8" fill="none"/><path d="M58.83 81.89V84.73M57.83 81.89h2.00M57.83 84.73h2.00" stroke="#1d3f68" stroke-width="0.5" stroke-opacity="0.8" fill="none"/><path d="M61.79 80.00V82.84M60.79 80.00h2.00M60.79 82.84h2.00" stroke="#1d3f68" stroke-width="0.5" stroke-opacity="0.8" fill="none"/><path d="M64.75 78.47V81.31M63.75 78.47h2.00M63.75 81.31h2.00" stroke="#1d3f68" stroke-width="0.5" stroke-opacity="0.8" fill="none"/><path d="M67.71 77.12V79.96M66.71 77.12h2.00M66.71 79.96h2.00" stroke="#1d3f68" stroke-width="0.5" stroke-opacity="0.8" fill="none"/><path d="M70.67 75.79V78.63M69.67 75.79h2.00M69.67 78.63h2.00" stroke="#1d3f68" stroke-width="0.5" stroke-opacity="0.8" fill="none"/><path d="M73.62 74.33V77.17M72.62 74.33h2.00M72.62 77.17h2.00" stroke="#1d3f68" stroke-width="0.5" stroke-opacity="0.8" fill="none"/><path d="M76.58 72.87V75.71M75.58 72.87h2.00M75.58 75.71h2.00" stroke="#1d3f68" stroke-width="0.5" stroke-opacity="0.8" fill="none"/><path d="M79.54 71.57V74.41M78.54 71.57h2.00M78.54 74.41h2.00" stroke="#1d3f68" stroke-width="0.5" stroke-opacity="0.8" fill="none"/><path d="M82.50 70.62V73.46M81.50 70.62h2.00M81.50 73.46h2.00" stroke="#1d3f68" stroke-width="0.5" stroke-opacity="0.8" fill="none"/><path d="M85.46 69.91V72.75M84.46 69.91h2.00M84.46 72.75h2.00" stroke="#1d3f68" stroke-width="0.5" stroke-opacity="0.8" fill="none"/><path d="M88.42 69.25V72.09M87.42 69.25h2.00M87.42 72.09h2.00" stroke="#1d3f68" stroke-width="0.5" stroke-opacity="0.8" fill="none"/><path d="M91.38 68.66V71.50M90.38 68.66h2.00M90.38 71.50h2.00" stroke="#1d3f68" stroke-width="0.5" stroke-opacity="0.8" fill="none"/><path d="M94.33 68.20V71.04M93.33 68.20h2.00M93.33 71.04h2.00" stroke="#1d3f68" stroke-width="0.5" stroke-opacity="0.8" fill="none"/><path d="M97.29 67.89V70.73M96.29 67.89h2.00M96.29 70.73h2.00" stroke="#1d3f68" stroke-width="0.5" stroke-opacity="0.8" fill="none"/><path d="M100.25 67.78V70.62M99.25 67.78h2.00M99.25 70.62h2.00" stroke="#1d3f68" stroke-width="0.5" stroke-opacity="0.8" fill="none"/><path d="M103.21 67.87V70.71M102.21 67.87h2.00M102.21 70.71h2.00" stroke="#1d3f68" stroke-width="0.5" stroke-opacity="0.8" fill="none"/><path d="M106.17 68.12V70.96M105.17 68.12h2.00M105.17 70.96h2.00" stroke="#1d3f68" stroke-width="0.5" stroke-opacity="0.8" fill="none"/><path d="M109.12 68.47V71.31M108.12 68.47h2.00M108.12 71.31h2.00" stroke="#1d3f68" stroke-width="0.5" stroke-opacity="0.8" fill="none"/><path d="M112.08 68.89V71.73M111.08 68.89h2.00M111.08 71.73h2.00" stroke="#1d3f68" stroke-width="0.5" stroke-opacity="0.8" fill="none"/><path d="M115.04 69.34V72.18M114.04 69.34h2.00M114.04 72.18h2.00" stroke="#1d3f68" stroke-width="0.5" stroke-opacity="0.8" fill="none"/><path d="M118.00 69.77V72.61M117.00 69.77h2.00M117.00 72.61h2.00" stroke="#1d3f68" stroke-width="0.5" stroke-opacity="0.8" fill="none"/><path d="M120.96 70.19V73.03M119.96 70.19h2.00M119.96 73.03h2.00" stroke="#1d3f68" stroke-width="0.5" stroke-opacity="0.8" fill="none"/><path d="M123.92 70.66V73.50M122.92 70.66h2.00M122.92 73.50h2.00" stroke="#1d3f68" stroke-width="0.5" stroke-opacity="0.8" fill="none"/><path d="M126.88 71.16V74.00M125.88 71.16h2.00M125.88 74.00h2.00" stroke="#1d3f68" stroke-width="0.5" stroke-opacity="0.8" fill="none"/><path d="M129.83 71.70V74.54M128.83 71.70h2.00M128.83 74.54h2.00" stroke="#1d3f68" stroke-width="0.5" stroke-opacity="0.8" fill="none"/><path d="M132.79 72.28V75.12M131.79 72.28h2.00M131.79 75.12h2.00" stroke="#1d3f68" stroke-width="0.5" stroke-opacity="0.8" fill="none"/><path d="M135.75 72.89V75.73M134.75 72.89h2.00M134.75 75.73h2.00" stroke="#1d3f68" stroke-width="0.5" stroke-opacity="0.8" fill="none"/><path d="M138.71 73.56V76.40M137.71 73.56h2.00M137.71 76.40h2.00" stroke="#1d3f68" stroke-width="0.5" stroke-opacity="0.8" fill="none"/><path d="M141.67 74.30V77.14M140.67 74.30h2.00M140.67 77.14h2.00" stroke="#1d3f68" stroke-width="0.5" stroke-opacity="0.8" fill="none"/><path d="M144.62 75.09V77.93M143.62 75.09h2.00M143.62 77.93h2.00" stroke="#1d3f68" stroke-width="0.5" stroke-opacity="0.8" fill="none"/><path d="M147.58 75.94V78.78M146.58 75.94h2.00M146.58 78.78h2.00" stroke="#1d3f68" stroke-width="0.5" stroke-opacity="0.8" fill="none"/><path d="M150.54 76.83V79.67M149.54 76.83h2.00M149.54 79.67h2.00" stroke="#1d3f68" stroke-width="0.5" stroke-opacity="0.8" fill="none"/><polyline points="47.00,105.27 49.96,95.02 52.92,89.66 55.88,85.99 58.83,83.31 61.79,81.42 64.75,79.89 67.71,78.54 70.67,77.21 73.62,75.75 76.58,74.29 79.54,72.99 82.50,72.04 85.46,71.33 88.42,70.67 91.38,70.08 94.33,69.62 97.29,69.31 100.25,69.20 103.21,69.29 106.17,69.54 109.12,69.89 112.08,70.31 115.04,70.76 118.00,71.19 120.96,71.61 123.92,72.08 126.88,72.58 129.83,73.12 132.79,73.70 135.75,74.31 138.71,74.98 141.67,75.72 144.62,76.51 147.58,77.36 150.54,78.25" fill="none" stroke="#1d3f68" stroke-width="0.7"/><circle cx="47.00" cy="105.27" r="1.3" fill="#1d3f68"/><circle cx="49.96" cy="95.02" r="1.3" fill="#1d3f68"/><circle cx="52.92" cy="89.66" r="1.3" fill="#1d3f68"/><circle cx="55.88" cy="85.99" r="1.3" fill="#1d3f68"/><circle cx="58.83" cy="83.31" r="1.3" fill="#1d3f68"/><circle cx="61.79" cy="81.42" r="1.3" fill="#1d3f68"/><circle cx="64.75" cy="79.89" r="1.3" fill="#1d3f68"/><circle cx="67.71" cy="78.54" r="1.3" fill="#1d3f68"/><circle cx="70.67" cy="77.21" r="1.3" fill="#1d3f68"/><circle cx="73.62" cy="75.75" r="1.3" fill="#1d3f68"/><circle cx="76.58" cy="74.29" r="1.3" fill="#1d3f68"/><circle cx="79.54" cy="72.99" r="1.3" fill="#1d3f68"/><circle cx="82.50" cy="72.04" r="1.3" fill="#1d3f68"/><circle cx="85.46" cy="71.33" r="1.3" fill="#1d3f68"/><circle cx="88.42" cy="70.67" r="1.3" fill="#1d3f68"/><circle cx="91.38" cy="70.08" r="1.3" fill="#1d3f68"/><circle cx="94.33" cy="69.62" r="1.3" fill="#1d3f68"/><circle cx="97.29" cy="69.31" r="1.3" fill="#1d3f68"/><circle cx="100.25" cy="69.20" r="1.3" fill="#1d3f68"/><circle cx="103.21" cy="69.29" r="1.3" fill="#1d3f68"/><circle cx="106.17" cy="69.54" r="1.3" fill="#1d3f68"/><circle cx="109.12" cy="69.89" r="1.3" fill="#1d3f68"/><circle cx="112.08" cy="70.31" r="1.3" fill="#1d3f68"/><circle cx="115.04" cy="70.76" r="1.3" fill="#1d3f68"/><circle cx="118.00" cy="71.19" r="1.3" fill="#1d3f68"/><circle cx="120.96" cy="71.61" r="1.3" fill="#1d3f68"/><circle cx="123.92" cy="72.08" r="1.3" fill="#1d3f68"/><circle cx="126.88" cy="72.58" r="1.3" fill="#1d3f68"/><circle cx="129.83" cy="73.12" r="1.3" fill="#1d3f68"/><circle cx="132.79" cy="73.70" r="1.3" fill="#1d3f68"/><circle cx="135.75" cy="74.31" r="1.3" fill="#1d3f68"/><circle cx="138.71" cy="74.98" r="1.3" fill="#1d3f68"/><circle cx="141.67" cy="75.72" r="1.3" fill="#1d3f68"/><circle cx="144.62" cy="76.51" r="1.3" fill="#1d3f68"/><circle cx="147.58" cy="77.36" r="1.3" fill="#1d3f68"/><circle cx="150.54" cy="78.25" r="1.3" fill="#1d3f68"/></g>
<line x1="59.50" y1="158.30" x2="68.50" y2="158.30" stroke="#1d3f68" stroke-width="0.8" stroke-opacity="1.0"/>
<circle cx="64.00" cy="158.30" r="1.4" fill="#1d3f68"/>
<text x="71.70" y="160.65" font-size="6.6" text-anchor="start" font-weight="normal" font-style="normal" fill="#231f20" stroke="#231f20" stroke-width="0.18" textLength="28" lengthAdjust="spacingAndGlyphs">SOT-TMA</text>
<line x1="59.50" y1="168.50" x2="68.50" y2="168.50" stroke="#c8102e" stroke-width="0.8" stroke-opacity="1.0"/>
<circle cx="64.00" cy="168.50" r="1.4" fill="#c8102e"/>
<text x="71.70" y="170.85" font-size="6.6" text-anchor="start" font-weight="normal" font-style="normal" fill="#231f20" stroke="#231f20" stroke-width="0.18" textLength="37.5" lengthAdjust="spacingAndGlyphs">HI SOT-TMA</text>
<line x1="59.50" y1="178.70" x2="68.50" y2="178.70" stroke="#4daf4a" stroke-width="0.8" stroke-opacity="1.0"/>
<circle cx="64.00" cy="178.70" r="1.4" fill="#4daf4a"/>
<text x="71.70" y="181.05" font-size="6.6" text-anchor="start" font-weight="normal" font-style="normal" fill="#231f20" stroke="#231f20" stroke-width="0.18" textLength="76" lengthAdjust="spacingAndGlyphs">SOT-TMA + 10 μg/mL ecu</text>
<line x1="59.50" y1="188.90" x2="68.50" y2="188.90" stroke="#9d8fd6" stroke-width="0.8" stroke-opacity="1.0"/>
<circle cx="64.00" cy="188.90" r="1.4" fill="#9d8fd6"/>
<text x="71.70" y="191.25" font-size="6.6" text-anchor="start" font-weight="normal" font-style="normal" fill="#231f20" stroke="#231f20" stroke-width="0.18" textLength="73" lengthAdjust="spacingAndGlyphs">SOT-TMA + 30 μg/mL sut</text>
<text x="187.70" y="16.65" font-size="12" font-weight="bold" fill="#231f20" stroke="#231f20" stroke-width="0.45">B</text>
<text x="283.00" y="29.50" font-size="9.2" text-anchor="middle" font-weight="normal" font-style="normal" fill="#231f20" stroke="#231f20" stroke-width="0.12" textLength="77.2" lengthAdjust="spacingAndGlyphs">Remission CM01 on</text>
<text x="282.20" y="40.80" font-size="9.2" text-anchor="middle" font-weight="normal" font-style="normal" fill="#231f20" stroke="#231f20" stroke-width="0.12" textLength="83.3" lengthAdjust="spacingAndGlyphs">eculizumab DKO cells</text>
<line x1="228.00" y1="53.30" x2="228.00" y2="126.50" stroke="#231f20" stroke-width="1.5" stroke-opacity="1.0"/>
<line x1="227.30" y1="125.80" x2="336.00" y2="125.80" stroke="#231f20" stroke-width="1.5" stroke-opacity="1.0"/>
<line x1="225.00" y1="125.80" x2="228.00" y2="125.80" stroke="#231f20" stroke-width="0.9" stroke-opacity="1.0"/>
<text x="221.80" y="128.20" font-size="6.7" text-anchor="end" font-weight="normal" font-style="normal" fill="#231f20" stroke="#231f20" stroke-width="0.18" textLength="3.58" lengthAdjust="spacingAndGlyphs">0</text>
<line x1="225.00" y1="102.40" x2="228.00" y2="102.40" stroke="#231f20" stroke-width="0.9" stroke-opacity="1.0"/>
<text x="221.80" y="104.80" font-size="6.7" text-anchor="end" font-weight="normal" font-style="normal" fill="#231f20" stroke="#231f20" stroke-width="0.18" textLength="17.9" lengthAdjust="spacingAndGlyphs">50000</text>
<line x1="225.00" y1="79.00" x2="228.00" y2="79.00" stroke="#231f20" stroke-width="0.9" stroke-opacity="1.0"/>
<text x="221.80" y="81.40" font-size="6.7" text-anchor="end" font-weight="normal" font-style="normal" fill="#231f20" stroke="#231f20" stroke-width="0.18" textLength="21.48" lengthAdjust="spacingAndGlyphs">100000</text>
<line x1="225.00" y1="55.60" x2="228.00" y2="55.60" stroke="#231f20" stroke-width="0.9" stroke-opacity="1.0"/>
<text x="221.80" y="58.00" font-size="6.7" text-anchor="end" font-weight="normal" font-style="normal" fill="#231f20" stroke="#231f20" stroke-width="0.18" textLength="21.48" lengthAdjust="spacingAndGlyphs">150000</text>
<line x1="228.00" y1="125.80" x2="228.00" y2="128.80" stroke="#231f20" stroke-width="0.9" stroke-opacity="1.0"/>
<text x="228.00" y="137.80" font-size="6.6" text-anchor="middle" font-weight="normal" font-style="normal" fill="#231f20" stroke="#231f20" stroke-width="0.18" textLength="21.7" lengthAdjust="spacingAndGlyphs">0:00:00</text>
<line x1="263.30" y1="125.80" x2="263.30" y2="128.80" stroke="#231f20" stroke-width="0.9" stroke-opacity="1.0"/>
<text x="263.30" y="137.80" font-size="6.6" text-anchor="middle" font-weight="normal" font-style="normal" fill="#231f20" stroke="#231f20" stroke-width="0.18" textLength="21.7" lengthAdjust="spacingAndGlyphs">1:00:00</text>
<line x1="298.60" y1="125.80" x2="298.60" y2="128.80" stroke="#231f20" stroke-width="0.9" stroke-opacity="1.0"/>
<text x="298.60" y="137.80" font-size="6.6" text-anchor="middle" font-weight="normal" font-style="normal" fill="#231f20" stroke="#231f20" stroke-width="0.18" textLength="21.7" lengthAdjust="spacingAndGlyphs">2:00:00</text>
<line x1="333.90" y1="125.80" x2="333.90" y2="128.80" stroke="#231f20" stroke-width="0.9" stroke-opacity="1.0"/>
<text x="333.90" y="137.80" font-size="6.6" text-anchor="middle" font-weight="normal" font-style="normal" fill="#231f20" stroke="#231f20" stroke-width="0.18" textLength="21.7" lengthAdjust="spacingAndGlyphs">3:00:00</text>
<text x="195.00" y="89.60" font-size="9.2" text-anchor="middle" font-weight="normal" font-style="normal" fill="#231f20" stroke="#231f20" stroke-width="0.3" textLength="11" lengthAdjust="spacingAndGlyphs" transform="rotate(-90 195.0 89.6)">RLU</text>
<text x="282.90" y="149.20" font-size="8.5" text-anchor="middle" font-weight="normal" font-style="normal" fill="#231f20" stroke="#231f20" stroke-width="0.3" textLength="24.2" lengthAdjust="spacingAndGlyphs">Time (h)</text>
<g><path d="M228.00 79.00V81.81M227.00 79.00h2.00M227.00 81.81h2.00" stroke="#c8102e" stroke-width="0.5" stroke-opacity="0.8" fill="none"/><path d="M230.35 70.58V73.39M229.35 70.58h2.00M229.35 73.39h2.00" stroke="#c8102e" stroke-width="0.5" stroke-opacity="0.8" fill="none"/><path d="M232.71 69.46V72.27M231.71 69.46h2.00M231.71 72.27h2.00" stroke="#c8102e" stroke-width="0.5" stroke-opacity="0.8" fill="none"/><path d="M235.06 69.63V72.44M234.06 69.63h2.00M234.06 72.44h2.00" stroke="#c8102e" stroke-width="0.5" stroke-opacity="0.8" fill="none"/><path d="M237.41 70.29V73.09M236.41 70.29h2.00M236.41 73.09h2.00" stroke="#c8102e" stroke-width="0.5" stroke-opacity="0.8" fill="none"/><path d="M239.77 70.83V73.63M238.77 70.83h2.00M238.77 73.63h2.00" stroke="#c8102e" stroke-width="0.5" stroke-opacity="0.8" fill="none"/><path d="M242.12 71.37V74.18M241.12 71.37h2.00M241.12 74.18h2.00" stroke="#c8102e" stroke-width="0.5" stroke-opacity="0.8" fill="none"/><path d="M244.47 71.90V74.71M243.47 71.90h2.00M243.47 74.71h2.00" stroke="#c8102e" stroke-width="0.5" stroke-opacity="0.8" fill="none"/><path d="M246.83 72.29V75.10M245.83 72.29h2.00M245.83 75.10h2.00" stroke="#c8102e" stroke-width="0.5" stroke-opacity="0.8" fill="none"/><path d="M249.18 72.45V75.26M248.18 72.45h2.00M248.18 75.26h2.00" stroke="#c8102e" stroke-width="0.5" stroke-opacity="0.8" fill="none"/><path d="M251.53 72.30V75.11M250.53 72.30h2.00M250.53 75.11h2.00" stroke="#c8102e" stroke-width="0.5" stroke-opacity="0.8" fill="none"/><path d="M253.89 71.91V74.72M252.89 71.91h2.00M252.89 74.72h2.00" stroke="#c8102e" stroke-width="0.5" stroke-opacity="0.8" fill="none"/><path d="M256.24 71.39V74.20M255.24 71.39h2.00M255.24 74.20h2.00" stroke="#c8102e" stroke-width="0.5" stroke-opacity="0.8" fill="none"/><path d="M258.59 70.84V73.65M257.59 70.84h2.00M257.59 73.65h2.00" stroke="#c8102e" stroke-width="0.5" stroke-opacity="0.8" fill="none"/><path d="M260.95 70.30V73.11M259.95 70.30h2.00M259.95 73.11h2.00" stroke="#c8102e" stroke-width="0.5" stroke-opacity="0.8" fill="none"/><path d="M263.30 69.62V72.43M262.30 69.62h2.00M262.30 72.43h2.00" stroke="#c8102e" stroke-width="0.5" stroke-opacity="0.8" fill="none"/><path d="M265.65 68.89V71.70M264.65 68.89h2.00M264.65 71.70h2.00" stroke="#c8102e" stroke-width="0.5" stroke-opacity="0.8" fill="none"/><path d="M268.01 68.23V71.04M267.01 68.23h2.00M267.01 71.04h2.00" stroke="#c8102e" stroke-width="0.5" stroke-opacity="0.8" fill="none"/><path d="M270.36 67.77V70.58M269.36 67.77h2.00M269.36 70.58h2.00" stroke="#c8102e" stroke-width="0.5" stroke-opacity="0.8" fill="none"/><path d="M272.71 67.45V70.25M271.71 67.45h2.00M271.71 70.25h2.00" stroke="#c8102e" stroke-width="0.5" stroke-opacity="0.8" fill="none"/><path d="M275.07 67.15V69.95M274.07 67.15h2.00M274.07 69.95h2.00" stroke="#c8102e" stroke-width="0.5" stroke-opacity="0.8" fill="none"/><path d="M277.42 66.89V69.70M276.42 66.89h2.00M276.42 69.70h2.00" stroke="#c8102e" stroke-width="0.5" stroke-opacity="0.8" fill="none"/><path d="M279.77 66.71V69.51M278.77 66.71h2.00M278.77 69.51h2.00" stroke="#c8102e" stroke-width="0.5" stroke-opacity="0.8" fill="none"/><path d="M282.13 66.61V69.42M281.13 66.61h2.00M281.13 69.42h2.00" stroke="#c8102e" stroke-width="0.5" stroke-opacity="0.8" fill="none"/><path d="M284.48 66.64V69.45M283.48 66.64h2.00M283.48 69.45h2.00" stroke="#c8102e" stroke-width="0.5" stroke-opacity="0.8" fill="none"/><path d="M286.83 66.90V69.71M285.83 66.90h2.00M285.83 69.71h2.00" stroke="#c8102e" stroke-width="0.5" stroke-opacity="0.8" fill="none"/><path d="M289.19 67.33V70.14M288.19 67.33h2.00M288.19 70.14h2.00" stroke="#c8102e" stroke-width="0.5" stroke-opacity="0.8" fill="none"/><path d="M291.54 67.88V70.69M290.54 67.88h2.00M290.54 70.69h2.00" stroke="#c8102e" stroke-width="0.5" stroke-opacity="0.8" fill="none"/><path d="M293.89 68.49V71.30M292.89 68.49h2.00M292.89 71.30h2.00" stroke="#c8102e" stroke-width="0.5" stroke-opacity="0.8" fill="none"/><path d="M296.25 69.09V71.90M295.25 69.09h2.00M295.25 71.90h2.00" stroke="#c8102e" stroke-width="0.5" stroke-opacity="0.8" fill="none"/><path d="M298.60 69.64V72.45M297.60 69.64h2.00M297.60 72.45h2.00" stroke="#c8102e" stroke-width="0.5" stroke-opacity="0.8" fill="none"/><path d="M300.95 70.14V72.95M299.95 70.14h2.00M299.95 72.95h2.00" stroke="#c8102e" stroke-width="0.5" stroke-opacity="0.8" fill="none"/><path d="M303.31 70.66V73.47M302.31 70.66h2.00M302.31 73.47h2.00" stroke="#c8102e" stroke-width="0.5" stroke-opacity="0.8" fill="none"/><path d="M305.66 71.19V74.00M304.66 71.19h2.00M304.66 74.00h2.00" stroke="#c8102e" stroke-width="0.5" stroke-opacity="0.8" fill="none"/><path d="M308.01 71.73V74.54M307.01 71.73h2.00M307.01 74.54h2.00" stroke="#c8102e" stroke-width="0.5" stroke-opacity="0.8" fill="none"/><path d="M310.37 72.28V75.09M309.37 72.28h2.00M309.37 75.09h2.00" stroke="#c8102e" stroke-width="0.5" stroke-opacity="0.8" fill="none"/><path d="M312.72 72.85V75.65M311.72 72.85h2.00M311.72 75.65h2.00" stroke="#c8102e" stroke-width="0.5" stroke-opacity="0.8" fill="none"/><polyline points="228.00,80.40 230.35,71.99 232.71,70.86 235.06,71.04 237.41,71.69 239.77,72.23 242.12,72.78 244.47,73.30 246.83,73.70 249.18,73.85 251.53,73.70 253.89,73.32 256.24,72.80 258.59,72.24 260.95,71.70 263.30,71.03 265.65,70.30 268.01,69.64 270.36,69.17 272.71,68.85 275.07,68.55 277.42,68.30 279.77,68.11 282.13,68.01 284.48,68.05 286.83,68.31 289.19,68.74 291.54,69.29 293.89,69.89 296.25,70.50 298.60,71.04 300.95,71.55 303.31,72.06 305.66,72.59 308.01,73.13 310.37,73.69 312.72,74.25" fill="none" stroke="#c8102e" stroke-width="0.7"/><circle cx="228.00" cy="80.40" r="1.45" fill="#c8102e"/><circle cx="230.35" cy="71.99" r="1.45" fill="#c8102e"/><circle cx="232.71" cy="70.86" r="1.45" fill="#c8102e"/><circle cx="235.06" cy="71.04" r="1.45" fill="#c8102e"/><circle cx="237.41" cy="71.69" r="1.45" fill="#c8102e"/><circle cx="239.77" cy="72.23" r="1.45" fill="#c8102e"/><circle cx="242.12" cy="72.78" r="1.45" fill="#c8102e"/><circle cx="244.47" cy="73.30" r="1.45" fill="#c8102e"/><circle cx="246.83" cy="73.70" r="1.45" fill="#c8102e"/><circle cx="249.18" cy="73.85" r="1.45" fill="#c8102e"/><circle cx="251.53" cy="73.70" r="1.45" fill="#c8102e"/><circle cx="253.89" cy="73.32" r="1.45" fill="#c8102e"/><circle cx="256.24" cy="72.80" r="1.45" fill="#c8102e"/><circle cx="258.59" cy="72.24" r="1.45" fill="#c8102e"/><circle cx="260.95" cy="71.70" r="1.45" fill="#c8102e"/><circle cx="263.30" cy="71.03" r="1.45" fill="#c8102e"/><circle cx="265.65" cy="70.30" r="1.45" fill="#c8102e"/><circle cx="268.01" cy="69.64" r="1.45" fill="#c8102e"/><circle cx="270.36" cy="69.17" r="1.45" fill="#c8102e"/><circle cx="272.71" cy="68.85" r="1.45" fill="#c8102e"/><circle cx="275.07" cy="68.55" r="1.45" fill="#c8102e"/><circle cx="277.42" cy="68.30" r="1.45" fill="#c8102e"/><circle cx="279.77" cy="68.11" r="1.45" fill="#c8102e"/><circle cx="282.13" cy="68.01" r="1.45" fill="#c8102e"/><circle cx="284.48" cy="68.05" r="1.45" fill="#c8102e"/><circle cx="286.83" cy="68.31" r="1.45" fill="#c8102e"/><circle cx="289.19" cy="68.74" r="1.45" fill="#c8102e"/><circle cx="291.54" cy="69.29" r="1.45" fill="#c8102e"/><circle cx="293.89" cy="69.89" r="1.45" fill="#c8102e"/><circle cx="296.25" cy="70.50" r="1.45" fill="#c8102e"/><circle cx="298.60" cy="71.04" r="1.45" fill="#c8102e"/><circle cx="300.95" cy="71.55" r="1.45" fill="#c8102e"/><circle cx="303.31" cy="72.06" r="1.45" fill="#c8102e"/><circle cx="305.66" cy="72.59" r="1.45" fill="#c8102e"/><circle cx="308.01" cy="73.13" r="1.45" fill="#c8102e"/><circle cx="310.37" cy="73.69" r="1.45" fill="#c8102e"/><circle cx="312.72" cy="74.25" r="1.45" fill="#c8102e"/></g>
<g><path d="M228.00 94.91V96.32M227.00 94.91h2.00M227.00 96.32h2.00" stroke="#1d3f68" stroke-width="0.5" stroke-opacity="0.8" fill="none"/><path d="M230.35 83.49V84.89M229.35 83.49h2.00M229.35 84.89h2.00" stroke="#1d3f68" stroke-width="0.5" stroke-opacity="0.8" fill="none"/><path d="M232.71 77.35V78.75M231.71 77.35h2.00M231.71 78.75h2.00" stroke="#1d3f68" stroke-width="0.5" stroke-opacity="0.8" fill="none"/><path d="M235.06 75.96V77.36M234.06 75.96h2.00M234.06 77.36h2.00" stroke="#1d3f68" stroke-width="0.5" stroke-opacity="0.8" fill="none"/><path d="M237.41 75.55V76.96M236.41 75.55h2.00M236.41 76.96h2.00" stroke="#1d3f68" stroke-width="0.5" stroke-opacity="0.8" fill="none"/><path d="M239.77 75.65V77.05M238.77 75.65h2.00M238.77 77.05h2.00" stroke="#1d3f68" stroke-width="0.5" stroke-opacity="0.8" fill="none"/><path d="M242.12 76.58V77.98M241.12 76.58h2.00M241.12 77.98h2.00" stroke="#1d3f68" stroke-width="0.5" stroke-opacity="0.8" fill="none"/><path d="M244.47 77.58V78.98M243.47 77.58h2.00M243.47 78.98h2.00" stroke="#1d3f68" stroke-width="0.5" stroke-opacity="0.8" fill="none"/><path d="M246.83 77.94V79.34M245.83 77.94h2.00M245.83 79.34h2.00" stroke="#1d3f68" stroke-width="0.5" stroke-opacity="0.8" fill="none"/><path d="M249.18 78.11V79.52M248.18 78.11h2.00M248.18 79.52h2.00" stroke="#1d3f68" stroke-width="0.5" stroke-opacity="0.8" fill="none"/><path d="M251.53 78.24V79.64M250.53 78.24h2.00M250.53 79.64h2.00" stroke="#1d3f68" stroke-width="0.5" stroke-opacity="0.8" fill="none"/><path d="M253.89 78.30V79.70M252.89 78.30h2.00M252.89 79.70h2.00" stroke="#1d3f68" stroke-width="0.5" stroke-opacity="0.8" fill="none"/><path d="M256.24 78.21V79.61M255.24 78.21h2.00M255.24 79.61h2.00" stroke="#1d3f68" stroke-width="0.5" stroke-opacity="0.8" fill="none"/><path d="M258.59 77.87V79.27M257.59 77.87h2.00M257.59 79.27h2.00" stroke="#1d3f68" stroke-width="0.5" stroke-opacity="0.8" fill="none"/><path d="M260.95 77.39V78.79M259.95 77.39h2.00M259.95 78.79h2.00" stroke="#1d3f68" stroke-width="0.5" stroke-opacity="0.8" fill="none"/><path d="M263.30 76.89V78.30M262.30 76.89h2.00M262.30 78.30h2.00" stroke="#1d3f68" stroke-width="0.5" stroke-opacity="0.8" fill="none"/><path d="M265.65 76.33V77.74M264.65 76.33h2.00M264.65 77.74h2.00" stroke="#1d3f68" stroke-width="0.5" stroke-opacity="0.8" fill="none"/><path d="M268.01 75.65V77.05M267.01 75.65h2.00M267.01 77.05h2.00" stroke="#1d3f68" stroke-width="0.5" stroke-opacity="0.8" fill="none"/><path d="M270.36 74.94V76.35M269.36 74.94h2.00M269.36 76.35h2.00" stroke="#1d3f68" stroke-width="0.5" stroke-opacity="0.8" fill="none"/><path d="M272.71 74.33V75.73M271.71 74.33h2.00M271.71 75.73h2.00" stroke="#1d3f68" stroke-width="0.5" stroke-opacity="0.8" fill="none"/><path d="M275.07 73.87V75.27M274.07 73.87h2.00M274.07 75.27h2.00" stroke="#1d3f68" stroke-width="0.5" stroke-opacity="0.8" fill="none"/><path d="M277.42 73.43V74.83M276.42 73.43h2.00M276.42 74.83h2.00" stroke="#1d3f68" stroke-width="0.5" stroke-opacity="0.8" fill="none"/><path d="M279.77 73.06V74.46M278.77 73.06h2.00M278.77 74.46h2.00" stroke="#1d3f68" stroke-width="0.5" stroke-opacity="0.8" fill="none"/><path d="M282.13 72.84V74.25M281.13 72.84h2.00M281.13 74.25h2.00" stroke="#1d3f68" stroke-width="0.5" stroke-opacity="0.8" fill="none"/><path d="M284.48 72.86V74.27M283.48 72.86h2.00M283.48 74.27h2.00" stroke="#1d3f68" stroke-width="0.5" stroke-opacity="0.8" fill="none"/><path d="M286.83 73.08V74.49M285.83 73.08h2.00M285.83 74.49h2.00" stroke="#1d3f68" stroke-width="0.5" stroke-opacity="0.8" fill="none"/><path d="M289.19 73.45V74.86M288.19 73.45h2.00M288.19 74.86h2.00" stroke="#1d3f68" stroke-width="0.5" stroke-opacity="0.8" fill="none"/><path d="M291.54 73.93V75.33M290.54 73.93h2.00M290.54 75.33h2.00" stroke="#1d3f68" stroke-width="0.5" stroke-opacity="0.8" fill="none"/><path d="M293.89 74.46V75.86M292.89 74.46h2.00M292.89 75.86h2.00" stroke="#1d3f68" stroke-width="0.5" stroke-opacity="0.8" fill="none"/><path d="M296.25 74.99V76.40M295.25 74.99h2.00M295.25 76.40h2.00" stroke="#1d3f68" stroke-width="0.5" stroke-opacity="0.8" fill="none"/><path d="M298.60 75.49V76.89M297.60 75.49h2.00M297.60 76.89h2.00" stroke="#1d3f68" stroke-width="0.5" stroke-opacity="0.8" fill="none"/><path d="M300.95 75.96V77.36M299.95 75.96h2.00M299.95 77.36h2.00" stroke="#1d3f68" stroke-width="0.5" stroke-opacity="0.8" fill="none"/><path d="M303.31 76.46V77.86M302.31 76.46h2.00M302.31 77.86h2.00" stroke="#1d3f68" stroke-width="0.5" stroke-opacity="0.8" fill="none"/><path d="M305.66 76.97V78.38M304.66 76.97h2.00M304.66 78.38h2.00" stroke="#1d3f68" stroke-width="0.5" stroke-opacity="0.8" fill="none"/><path d="M308.01 77.51V78.91M307.01 77.51h2.00M307.01 78.91h2.00" stroke="#1d3f68" stroke-width="0.5" stroke-opacity="0.8" fill="none"/><path d="M310.37 78.07V79.47M309.37 78.07h2.00M309.37 79.47h2.00" stroke="#1d3f68" stroke-width="0.5" stroke-opacity="0.8" fill="none"/><path d="M312.72 78.64V80.05M311.72 78.64h2.00M311.72 80.05h2.00" stroke="#1d3f68" stroke-width="0.5" stroke-opacity="0.8" fill="none"/><polyline points="228.00,95.61 230.35,84.19 232.71,78.05 235.06,76.66 237.41,76.25 239.77,76.35 242.12,77.28 244.47,78.28 246.83,78.64 249.18,78.82 251.53,78.94 253.89,79.00 256.24,78.91 258.59,78.57 260.95,78.09 263.30,77.60 265.65,77.03 268.01,76.35 270.36,75.64 272.71,75.03 275.07,74.57 277.42,74.13 279.77,73.76 282.13,73.55 284.48,73.56 286.83,73.78 289.19,74.16 291.54,74.63 293.89,75.16 296.25,75.70 298.60,76.19 300.95,76.66 303.31,77.16 305.66,77.67 308.01,78.21 310.37,78.77 312.72,79.34" fill="none" stroke="#1d3f68" stroke-width="0.7"/><circle cx="228.00" cy="95.61" r="1.3" fill="#1d3f68"/><circle cx="230.35" cy="84.19" r="1.3" fill="#1d3f68"/><circle cx="232.71" cy="78.05" r="1.3" fill="#1d3f68"/><circle cx="235.06" cy="76.66" r="1.3" fill="#1d3f68"/><circle cx="237.41" cy="76.25" r="1.3" fill="#1d3f68"/><circle cx="239.77" cy="76.35" r="1.3" fill="#1d3f68"/><circle cx="242.12" cy="77.28" r="1.3" fill="#1d3f68"/><circle cx="244.47" cy="78.28" r="1.3" fill="#1d3f68"/><circle cx="246.83" cy="78.64" r="1.3" fill="#1d3f68"/><circle cx="249.18" cy="78.82" r="1.3" fill="#1d3f68"/><circle cx="251.53" cy="78.94" r="1.3" fill="#1d3f68"/><circle cx="253.89" cy="79.00" r="1.3" fill="#1d3f68"/><circle cx="256.24" cy="78.91" r="1.3" fill="#1d3f68"/><circle cx="258.59" cy="78.57" r="1.3" fill="#1d3f68"/><circle cx="260.95" cy="78.09" r="1.3" fill="#1d3f68"/><circle cx="263.30" cy="77.60" r="1.3" fill="#1d3f68"/><circle cx="265.65" cy="77.03" r="1.3" fill="#1d3f68"/><circle cx="268.01" cy="76.35" r="1.3" fill="#1d3f68"/><circle cx="270.36" cy="75.64" r="1.3" fill="#1d3f68"/><circle cx="272.71" cy="75.03" r="1.3" fill="#1d3f68"/><circle cx="275.07" cy="74.57" r="1.3" fill="#1d3f68"/><circle cx="277.42" cy="74.13" r="1.3" fill="#1d3f68"/><circle cx="279.77" cy="73.76" r="1.3" fill="#1d3f68"/><circle cx="282.13" cy="73.55" r="1.3" fill="#1d3f68"/><circle cx="284.48" cy="73.56" r="1.3" fill="#1d3f68"/><circle cx="286.83" cy="73.78" r="1.3" fill="#1d3f68"/><circle cx="289.19" cy="74.16" r="1.3" fill="#1d3f68"/><circle cx="291.54" cy="74.63" r="1.3" fill="#1d3f68"/><circle cx="293.89" cy="75.16" r="1.3" fill="#1d3f68"/><circle cx="296.25" cy="75.70" r="1.3" fill="#1d3f68"/><circle cx="298.60" cy="76.19" r="1.3" fill="#1d3f68"/><circle cx="300.95" cy="76.66" r="1.3" fill="#1d3f68"/><circle cx="303.31" cy="77.16" r="1.3" fill="#1d3f68"/><circle cx="305.66" cy="77.67" r="1.3" fill="#1d3f68"/><circle cx="308.01" cy="78.21" r="1.3" fill="#1d3f68"/><circle cx="310.37" cy="78.77" r="1.3" fill="#1d3f68"/><circle cx="312.72" cy="79.34" r="1.3" fill="#1d3f68"/></g>
<line x1="253.00" y1="158.20" x2="261.00" y2="158.20" stroke="#1d3f68" stroke-width="0.8" stroke-opacity="1.0"/>
<circle cx="257.00" cy="158.20" r="1.4" fill="#1d3f68"/>
<text x="264.00" y="160.55" font-size="6.6" text-anchor="start" font-weight="normal" font-style="normal" fill="#231f20" stroke="#231f20" stroke-width="0.18" textLength="47.3" lengthAdjust="spacingAndGlyphs">Remission CM01</text>
<line x1="253.00" y1="168.00" x2="261.00" y2="168.00" stroke="#c8102e" stroke-width="0.8" stroke-opacity="1.0"/>
<circle cx="257.00" cy="168.00" r="1.4" fill="#c8102e"/>
<text x="264.00" y="170.35" font-size="6.6" text-anchor="start" font-weight="normal" font-style="normal" fill="#231f20" stroke="#231f20" stroke-width="0.18" textLength="23.5" lengthAdjust="spacingAndGlyphs">HI CM01</text>
<text x="359.90" y="16.65" font-size="12" font-weight="bold" fill="#231f20" stroke="#231f20" stroke-width="0.45">C</text>
<text x="425.60" y="30.30" font-size="9.0" text-anchor="middle" font-weight="normal" font-style="italic" fill="#231f20" stroke="#231f20" stroke-width="0.12" textLength="32.0" lengthAdjust="spacingAndGlyphs">PIGAKO</text>
<line x1="400.30" y1="47.50" x2="400.30" y2="126.80" stroke="#231f20" stroke-width="1.5" stroke-opacity="1.0"/>
<line x1="399.60" y1="126.10" x2="451.00" y2="126.10" stroke="#231f20" stroke-width="1.5" stroke-opacity="1.0"/>
<line x1="397.30" y1="126.10" x2="400.30" y2="126.10" stroke="#231f20" stroke-width="0.9" stroke-opacity="1.0"/>
<text x="394.70" y="128.50" font-size="6.6" text-anchor="end" font-weight="normal" font-style="normal" fill="#231f20" stroke="#231f20" stroke-width="0.18" textLength="3.45" lengthAdjust="spacingAndGlyphs">0</text>
<line x1="397.30" y1="91.50" x2="400.30" y2="91.50" stroke="#231f20" stroke-width="0.9" stroke-opacity="1.0"/>
<text x="394.70" y="93.90" font-size="6.6" text-anchor="end" font-weight="normal" font-style="normal" fill="#231f20" stroke="#231f20" stroke-width="0.18" textLength="6.9" lengthAdjust="spacingAndGlyphs">50</text>
<line x1="397.30" y1="56.90" x2="400.30" y2="56.90" stroke="#231f20" stroke-width="0.9" stroke-opacity="1.0"/>
<text x="394.70" y="59.30" font-size="6.6" text-anchor="end" font-weight="normal" font-style="normal" fill="#231f20" stroke="#231f20" stroke-width="0.18" textLength="10.350000000000001" lengthAdjust="spacingAndGlyphs">100</text>
<line x1="398.50" y1="122.64" x2="400.30" y2="122.64" stroke="#231f20" stroke-width="0.6" stroke-opacity="1.0"/>
<line x1="398.50" y1="119.18" x2="400.30" y2="119.18" stroke="#231f20" stroke-width="0.6" stroke-opacity="1.0"/>
<line x1="398.50" y1="115.72" x2="400.30" y2="115.72" stroke="#231f20" stroke-width="0.6" stroke-opacity="1.0"/>
<line x1="398.50" y1="112.26" x2="400.30" y2="112.26" stroke="#231f20" stroke-width="0.6" stroke-opacity="1.0"/>
<line x1="398.50" y1="108.80" x2="400.30" y2="108.80" stroke="#231f20" stroke-width="0.6" stroke-opacity="1.0"/>
<line x1="398.50" y1="105.34" x2="400.30" y2="105.34" stroke="#231f20" stroke-width="0.6" stroke-opacity="1.0"/>
<line x1="398.50" y1="101.88" x2="400.30" y2="101.88" stroke="#231f20" stroke-width="0.6" stroke-opacity="1.0"/>
<line x1="398.50" y1="98.42" x2="400.30" y2="98.42" stroke="#231f20" stroke-width="0.6" stroke-opacity="1.0"/>
<line x1="398.50" y1="94.96" x2="400.30" y2="94.96" stroke="#231f20" stroke-width="0.6" stroke-opacity="1.0"/>
<line x1="398.50" y1="88.04" x2="400.30" y2="88.04" stroke="#231f20" stroke-width="0.6" stroke-opacity="1.0"/>
<line x1="398.50" y1="84.58" x2="400.30" y2="84.58" stroke="#231f20" stroke-width="0.6" stroke-opacity="1.0"/>
<line x1="398.50" y1="81.12" x2="400.30" y2="81.12" stroke="#231f20" stroke-width="0.6" stroke-opacity="1.0"/>
<line x1="398.50" y1="77.66" x2="400.30" y2="77.66" stroke="#231f20" stroke-width="0.6" stroke-opacity="1.0"/>
<line x1="398.50" y1="74.20" x2="400.30" y2="74.20" stroke="#231f20" stroke-width="0.6" stroke-opacity="1.0"/>
<line x1="398.50" y1="70.74" x2="400.30" y2="70.74" stroke="#231f20" stroke-width="0.6" stroke-opacity="1.0"/>
<line x1="398.50" y1="67.28" x2="400.30" y2="67.28" stroke="#231f20" stroke-width="0.6" stroke-opacity="1.0"/>
<line x1="398.50" y1="63.82" x2="400.30" y2="63.82" stroke="#231f20" stroke-width="0.6" stroke-opacity="1.0"/>
<line x1="398.50" y1="60.36" x2="400.30" y2="60.36" stroke="#231f20" stroke-width="0.6" stroke-opacity="1.0"/>
<line x1="398.50" y1="53.44" x2="400.30" y2="53.44" stroke="#231f20" stroke-width="0.6" stroke-opacity="1.0"/>
<line x1="398.50" y1="49.98" x2="400.30" y2="49.98" stroke="#231f20" stroke-width="0.6" stroke-opacity="1.0"/>
<line x1="398.50" y1="46.52" x2="400.30" y2="46.52" stroke="#231f20" stroke-width="0.6" stroke-opacity="1.0"/>
<line x1="410.50" y1="126.10" x2="410.50" y2="129.10" stroke="#231f20" stroke-width="0.9" stroke-opacity="1.0"/>
<line x1="425.60" y1="126.10" x2="425.60" y2="129.10" stroke="#231f20" stroke-width="0.9" stroke-opacity="1.0"/>
<line x1="440.80" y1="126.10" x2="440.80" y2="129.10" stroke="#231f20" stroke-width="0.9" stroke-opacity="1.0"/>
<rect x="420.9" y="110.88" width="9.2" height="15.22" fill="#b3c78c"/>
<rect x="436.2" y="59.67" width="9.2" height="66.43" fill="#dedde8"/>
<rect x="406.0" y="124.4" width="8.8" height="1.8" fill="#231f20"/>
<line x1="410.50" y1="120.22" x2="410.50" y2="126.10" stroke="#231f20" stroke-width="0.9" stroke-opacity="1.0"/>
<line x1="407.90" y1="120.22" x2="413.10" y2="120.22" stroke="#231f20" stroke-width="0.9" stroke-opacity="1.0"/>
<line x1="425.60" y1="88.39" x2="425.60" y2="126.10" stroke="#231f20" stroke-width="0.9" stroke-opacity="1.0"/>
<line x1="423.00" y1="88.39" x2="428.20" y2="88.39" stroke="#231f20" stroke-width="0.9" stroke-opacity="1.0"/>
<line x1="440.80" y1="51.36" x2="440.80" y2="73.51" stroke="#231f20" stroke-width="0.9" stroke-opacity="1.0"/>
<line x1="438.20" y1="51.36" x2="443.40" y2="51.36" stroke="#231f20" stroke-width="0.9" stroke-opacity="1.0"/>
<line x1="438.20" y1="73.51" x2="443.40" y2="73.51" stroke="#231f20" stroke-width="0.9" stroke-opacity="1.0"/>
<circle cx="411.00" cy="117.45" r="1.3" fill="#111"/>
<circle cx="411.50" cy="125.41" r="1.3" fill="#111"/>
<circle cx="410.00" cy="125.75" r="1.3" fill="#111"/>
<circle cx="409.10" cy="125.96" r="1.3" fill="#111"/>
<circle cx="413.00" cy="125.06" r="1.3" fill="#111"/>
<circle cx="425.60" cy="58.98" r="1.3" fill="#111"/>
<circle cx="425.60" cy="79.04" r="1.3" fill="#111"/>
<circle cx="425.60" cy="85.62" r="1.3" fill="#111"/>
<circle cx="425.60" cy="106.72" r="1.3" fill="#111"/>
<circle cx="425.60" cy="112.26" r="1.3" fill="#111"/>
<circle cx="423.60" cy="124.02" r="1.3" fill="#111"/>
<circle cx="427.60" cy="124.72" r="1.3" fill="#111"/>
<circle cx="424.60" cy="125.41" r="1.3" fill="#111"/>
<circle cx="426.60" cy="125.75" r="1.3" fill="#111"/>
<circle cx="428.60" cy="125.06" r="1.3" fill="#111"/>
<circle cx="422.60" cy="125.75" r="1.3" fill="#111"/>
<circle cx="440.80" cy="98.42" r="1.3" fill="#111"/>
<circle cx="437.80" cy="58.98" r="1.3" fill="#111"/>
<circle cx="439.80" cy="60.36" r="1.3" fill="#111"/>
<circle cx="441.80" cy="59.67" r="1.3" fill="#111"/>
<circle cx="443.80" cy="61.05" r="1.3" fill="#111"/>
<circle cx="442.80" cy="58.28" r="1.3" fill="#111"/>
<circle cx="438.80" cy="61.74" r="1.3" fill="#111"/>
<circle cx="440.80" cy="56.21" r="1.3" fill="#111"/>
<circle cx="444.80" cy="59.67" r="1.3" fill="#111"/>
<circle cx="436.80" cy="60.36" r="1.3" fill="#111"/>
<circle cx="441.80" cy="62.44" r="1.3" fill="#111"/>
<circle cx="440.80" cy="63.82" r="1.3" fill="#111"/>
<line x1="410.50" y1="40.40" x2="440.80" y2="40.40" stroke="#231f20" stroke-width="1.0" stroke-opacity="1.0"/>
<text x="426.20" y="40.00" font-size="8.0" text-anchor="middle" font-weight="bold" font-style="normal" fill="#231f20" stroke="#231f20" stroke-width="0.18" textLength="12.5" lengthAdjust="spacingAndGlyphs">****</text>
<line x1="425.40" y1="49.00" x2="439.90" y2="49.00" stroke="#231f20" stroke-width="1.0" stroke-opacity="1.0"/>
<text x="433.00" y="48.60" font-size="8.0" text-anchor="middle" font-weight="bold" font-style="normal" fill="#231f20" stroke="#231f20" stroke-width="0.18" textLength="12.5" lengthAdjust="spacingAndGlyphs">****</text>
<line x1="410.50" y1="56.20" x2="424.80" y2="56.20" stroke="#231f20" stroke-width="1.0" stroke-opacity="1.0"/>
<text x="417.60" y="54.40" font-size="6.6" text-anchor="middle" font-weight="normal" font-style="normal" fill="#231f20" stroke="#231f20" stroke-width="0.18" textLength="7.2" lengthAdjust="spacingAndGlyphs">ns</text>
<text x="368.00" y="86.60" font-size="8.6" text-anchor="middle" font-weight="normal" font-style="normal" fill="#231f20" stroke="#231f20" stroke-width="0.3" textLength="79.7" lengthAdjust="spacingAndGlyphs" transform="rotate(-90 368.0 86.6)">Relative 1 h luminescence</text>
<text x="379.00" y="86.20" font-size="8.6" text-anchor="middle" font-weight="normal" font-style="normal" fill="#231f20" stroke="#231f20" stroke-width="0.3" textLength="90.5" lengthAdjust="spacingAndGlyphs" transform="rotate(-90 379.0 86.2)">(% of heat inactivated control)</text>
<text x="413.2" y="136.8" font-size="7.0" text-anchor="end" fill="#231f20" textLength="43.5" lengthAdjust="spacingAndGlyphs" transform="rotate(-45 413.2 136.8)">acute CM-TMA</text>
<text x="428.5" y="136.6" font-size="7.0" text-anchor="end" fill="#231f20" textLength="62.0" lengthAdjust="spacingAndGlyphs" transform="rotate(-45 428.5 136.6)">CM-TMA in remission</text>
<text x="443.4" y="136.0" font-size="7.0" text-anchor="end" fill="#231f20" textLength="60.0" lengthAdjust="spacingAndGlyphs" transform="rotate(-45 443.4 136.0)">CM-TMA on therapy</text>
<text x="6.90" y="218.25" font-size="12" font-weight="bold" fill="#231f20" stroke="#231f20" stroke-width="0.45">D</text>
<text x="101.40" y="231.30" font-size="9.2" text-anchor="middle" font-weight="normal" font-style="normal" fill="#231f20" stroke="#231f20" stroke-width="0.12" textLength="85.5" lengthAdjust="spacingAndGlyphs">CM21 on ravulizumab</text>
<text x="98.50" y="241.30" font-size="9.2" text-anchor="middle" font-weight="normal" font-style="italic" fill="#231f20" stroke="#231f20" stroke-width="0.12" textLength="28.0" lengthAdjust="spacingAndGlyphs">PIGAKO</text>
<line x1="47.00" y1="248.00" x2="47.00" y2="320.10" stroke="#231f20" stroke-width="1.5" stroke-opacity="1.0"/>
<line x1="46.30" y1="319.40" x2="154.00" y2="319.40" stroke="#231f20" stroke-width="1.5" stroke-opacity="1.0"/>
<line x1="44.00" y1="319.40" x2="47.00" y2="319.40" stroke="#231f20" stroke-width="0.9" stroke-opacity="1.0"/>
<text x="40.80" y="321.80" font-size="6.7" text-anchor="end" font-weight="normal" font-style="normal" fill="#231f20" stroke="#231f20" stroke-width="0.18" textLength="3.58" lengthAdjust="spacingAndGlyphs">0</text>
<line x1="44.00" y1="302.20" x2="47.00" y2="302.20" stroke="#231f20" stroke-width="0.9" stroke-opacity="1.0"/>
<text x="40.80" y="304.60" font-size="6.7" text-anchor="end" font-weight="normal" font-style="normal" fill="#231f20" stroke="#231f20" stroke-width="0.18" textLength="17.9" lengthAdjust="spacingAndGlyphs">50000</text>
<line x1="44.00" y1="285.00" x2="47.00" y2="285.00" stroke="#231f20" stroke-width="0.9" stroke-opacity="1.0"/>
<text x="40.80" y="287.40" font-size="6.7" text-anchor="end" font-weight="normal" font-style="normal" fill="#231f20" stroke="#231f20" stroke-width="0.18" textLength="21.48" lengthAdjust="spacingAndGlyphs">100000</text>
<line x1="44.00" y1="267.80" x2="47.00" y2="267.80" stroke="#231f20" stroke-width="0.9" stroke-opacity="1.0"/>
<text x="40.80" y="270.20" font-size="6.7" text-anchor="end" font-weight="normal" font-style="normal" fill="#231f20" stroke="#231f20" stroke-width="0.18" textLength="21.48" lengthAdjust="spacingAndGlyphs">150000</text>
<line x1="44.00" y1="250.60" x2="47.00" y2="250.60" stroke="#231f20" stroke-width="0.9" stroke-opacity="1.0"/>
<text x="40.80" y="253.00" font-size="6.7" text-anchor="end" font-weight="normal" font-style="normal" fill="#231f20" stroke="#231f20" stroke-width="0.18" textLength="21.48" lengthAdjust="spacingAndGlyphs">200000</text>
<line x1="47.00" y1="319.40" x2="47.00" y2="322.40" stroke="#231f20" stroke-width="0.9" stroke-opacity="1.0"/>
<text x="47.00" y="331.40" font-size="6.6" text-anchor="middle" font-weight="normal" font-style="normal" fill="#231f20" stroke="#231f20" stroke-width="0.18" textLength="21.7" lengthAdjust="spacingAndGlyphs">0:00:00</text>
<line x1="89.00" y1="319.40" x2="89.00" y2="322.40" stroke="#231f20" stroke-width="0.9" stroke-opacity="1.0"/>
<text x="89.00" y="331.40" font-size="6.6" text-anchor="middle" font-weight="normal" font-style="normal" fill="#231f20" stroke="#231f20" stroke-width="0.18" textLength="21.7" lengthAdjust="spacingAndGlyphs">1:00:00</text>
<line x1="131.00" y1="319.40" x2="131.00" y2="322.40" stroke="#231f20" stroke-width="0.9" stroke-opacity="1.0"/>
<text x="131.00" y="331.40" font-size="6.6" text-anchor="middle" font-weight="normal" font-style="normal" fill="#231f20" stroke="#231f20" stroke-width="0.18" textLength="21.7" lengthAdjust="spacingAndGlyphs">2:00:00</text>
<line x1="68.00" y1="319.40" x2="68.00" y2="321.20" stroke="#231f20" stroke-width="0.7" stroke-opacity="1.0"/>
<line x1="110.00" y1="319.40" x2="110.00" y2="321.20" stroke="#231f20" stroke-width="0.7" stroke-opacity="1.0"/>
<line x1="152.00" y1="319.40" x2="152.00" y2="321.20" stroke="#231f20" stroke-width="0.7" stroke-opacity="1.0"/>
<text x="13.50" y="284.50" font-size="9.2" text-anchor="middle" font-weight="normal" font-style="normal" fill="#231f20" stroke="#231f20" stroke-width="0.3" textLength="11" lengthAdjust="spacingAndGlyphs" transform="rotate(-90 13.5 284.5)">RLU</text>
<text x="100.60" y="342.20" font-size="8.5" text-anchor="middle" font-weight="normal" font-style="normal" fill="#231f20" stroke="#231f20" stroke-width="0.3" textLength="24.8" lengthAdjust="spacingAndGlyphs">Time (h)</text>
<g><path d="M47.00 294.29V297.73M46.00 294.29h2.00M46.00 297.73h2.00" stroke="#f2a11f" stroke-width="0.5" stroke-opacity="0.35" fill="none"/><path d="M50.50 284.21V287.85M49.50 284.21h2.00M49.50 287.85h2.00" stroke="#f2a11f" stroke-width="0.5" stroke-opacity="0.35" fill="none"/><path d="M54.00 294.06V297.93M53.00 294.06h2.00M53.00 297.93h2.00" stroke="#f2a11f" stroke-width="0.5" stroke-opacity="0.35" fill="none"/><path d="M57.50 296.02V300.12M56.50 296.02h2.00M56.50 300.12h2.00" stroke="#f2a11f" stroke-width="0.5" stroke-opacity="0.35" fill="none"/><path d="M61.00 295.68V300.04M60.00 295.68h2.00M60.00 300.04h2.00" stroke="#f2a11f" stroke-width="0.5" stroke-opacity="0.35" fill="none"/><path d="M64.50 295.11V299.74M63.50 295.11h2.00M63.50 299.74h2.00" stroke="#f2a11f" stroke-width="0.5" stroke-opacity="0.35" fill="none"/><path d="M68.00 294.58V299.50M67.00 294.58h2.00M67.00 299.50h2.00" stroke="#f2a11f" stroke-width="0.5" stroke-opacity="0.35" fill="none"/><path d="M71.50 294.21V299.42M70.50 294.21h2.00M70.50 299.42h2.00" stroke="#f2a11f" stroke-width="0.5" stroke-opacity="0.35" fill="none"/><path d="M75.00 293.87V299.39M74.00 293.87h2.00M74.00 299.39h2.00" stroke="#f2a11f" stroke-width="0.5" stroke-opacity="0.35" fill="none"/><path d="M78.50 293.55V299.40M77.50 293.55h2.00M77.50 299.40h2.00" stroke="#f2a11f" stroke-width="0.5" stroke-opacity="0.35" fill="none"/><path d="M82.00 293.22V299.40M81.00 293.22h2.00M81.00 299.40h2.00" stroke="#f2a11f" stroke-width="0.5" stroke-opacity="0.35" fill="none"/><path d="M85.50 292.84V299.37M84.50 292.84h2.00M84.50 299.37h2.00" stroke="#f2a11f" stroke-width="0.5" stroke-opacity="0.35" fill="none"/><path d="M89.00 292.40V299.28M88.00 292.40h2.00M88.00 299.28h2.00" stroke="#f2a11f" stroke-width="0.5" stroke-opacity="0.35" fill="none"/><path d="M92.50 291.74V298.99M91.50 291.74h2.00M91.50 298.99h2.00" stroke="#f2a11f" stroke-width="0.5" stroke-opacity="0.35" fill="none"/><path d="M96.00 290.83V298.47M95.00 290.83h2.00M95.00 298.47h2.00" stroke="#f2a11f" stroke-width="0.5" stroke-opacity="0.35" fill="none"/><path d="M99.50 289.78V297.83M98.50 289.78h2.00M98.50 297.83h2.00" stroke="#f2a11f" stroke-width="0.5" stroke-opacity="0.35" fill="none"/><path d="M103.00 288.72V297.20M102.00 288.72h2.00M102.00 297.20h2.00" stroke="#f2a11f" stroke-width="0.5" stroke-opacity="0.35" fill="none"/><path d="M106.50 287.75V296.69M105.50 287.75h2.00M105.50 296.69h2.00" stroke="#f2a11f" stroke-width="0.5" stroke-opacity="0.35" fill="none"/><path d="M110.00 287.01V296.41M109.00 287.01h2.00M109.00 296.41h2.00" stroke="#f2a11f" stroke-width="0.5" stroke-opacity="0.35" fill="none"/><path d="M113.50 286.41V296.30M112.50 286.41h2.00M112.50 296.30h2.00" stroke="#f2a11f" stroke-width="0.5" stroke-opacity="0.35" fill="none"/><path d="M117.00 285.81V296.21M116.00 285.81h2.00M116.00 296.21h2.00" stroke="#f2a11f" stroke-width="0.5" stroke-opacity="0.35" fill="none"/><path d="M120.50 285.24V296.15M119.50 285.24h2.00M119.50 296.15h2.00" stroke="#f2a11f" stroke-width="0.5" stroke-opacity="0.35" fill="none"/><path d="M124.00 284.68V296.13M123.00 284.68h2.00M123.00 296.13h2.00" stroke="#f2a11f" stroke-width="0.5" stroke-opacity="0.35" fill="none"/><path d="M127.50 284.17V296.17M126.50 284.17h2.00M126.50 296.17h2.00" stroke="#f2a11f" stroke-width="0.5" stroke-opacity="0.35" fill="none"/><path d="M131.00 283.70V296.26M130.00 283.70h2.00M130.00 296.26h2.00" stroke="#f2a11f" stroke-width="0.5" stroke-opacity="0.35" fill="none"/><path d="M134.50 283.29V296.43M133.50 283.29h2.00M133.50 296.43h2.00" stroke="#f2a11f" stroke-width="0.5" stroke-opacity="0.35" fill="none"/><path d="M138.00 282.95V296.68M137.00 282.95h2.00M137.00 296.68h2.00" stroke="#f2a11f" stroke-width="0.5" stroke-opacity="0.35" fill="none"/><polyline points="47.00,296.01 50.50,286.03 54.00,295.99 57.50,298.07 61.00,297.86 64.50,297.42 68.00,297.04 71.50,296.81 75.00,296.63 78.50,296.48 82.00,296.31 85.50,296.10 89.00,295.84 92.50,295.36 96.00,294.65 99.50,293.81 103.00,292.96 106.50,292.22 110.00,291.71 113.50,291.35 117.00,291.01 120.50,290.69 124.00,290.41 127.50,290.17 131.00,289.98 134.50,289.86 138.00,289.82" fill="none" stroke="#f2a11f" stroke-width="0.7"/><circle cx="47.00" cy="296.01" r="1.1" fill="#f2a11f"/><circle cx="50.50" cy="286.03" r="1.1" fill="#f2a11f"/><circle cx="54.00" cy="295.99" r="1.1" fill="#f2a11f"/><circle cx="57.50" cy="298.07" r="1.1" fill="#f2a11f"/><circle cx="61.00" cy="297.86" r="1.1" fill="#f2a11f"/><circle cx="64.50" cy="297.42" r="1.1" fill="#f2a11f"/><circle cx="68.00" cy="297.04" r="1.1" fill="#f2a11f"/><circle cx="71.50" cy="296.81" r="1.1" fill="#f2a11f"/><circle cx="75.00" cy="296.63" r="1.1" fill="#f2a11f"/><circle cx="78.50" cy="296.48" r="1.1" fill="#f2a11f"/><circle cx="82.00" cy="296.31" r="1.1" fill="#f2a11f"/><circle cx="85.50" cy="296.10" r="1.1" fill="#f2a11f"/><circle cx="89.00" cy="295.84" r="1.1" fill="#f2a11f"/><circle cx="92.50" cy="295.36" r="1.1" fill="#f2a11f"/><circle cx="96.00" cy="294.65" r="1.1" fill="#f2a11f"/><circle cx="99.50" cy="293.81" r="1.1" fill="#f2a11f"/><circle cx="103.00" cy="292.96" r="1.1" fill="#f2a11f"/><circle cx="106.50" cy="292.22" r="1.1" fill="#f2a11f"/><circle cx="110.00" cy="291.71" r="1.1" fill="#f2a11f"/><circle cx="113.50" cy="291.35" r="1.1" fill="#f2a11f"/><circle cx="117.00" cy="291.01" r="1.1" fill="#f2a11f"/><circle cx="120.50" cy="290.69" r="1.1" fill="#f2a11f"/><circle cx="124.00" cy="290.41" r="1.1" fill="#f2a11f"/><circle cx="127.50" cy="290.17" r="1.1" fill="#f2a11f"/><circle cx="131.00" cy="289.98" r="1.1" fill="#f2a11f"/><circle cx="134.50" cy="289.86" r="1.1" fill="#f2a11f"/><circle cx="138.00" cy="289.82" r="1.1" fill="#f2a11f"/></g>
<g><path d="M47.00 294.63V298.07M46.00 294.63h2.00M46.00 298.07h2.00" stroke="#1d3f68" stroke-width="0.5" stroke-opacity="0.7" fill="none"/><path d="M50.50 283.29V288.78M49.50 283.29h2.00M49.50 288.78h2.00" stroke="#1d3f68" stroke-width="0.5" stroke-opacity="0.7" fill="none"/><path d="M54.00 292.69V299.99M53.00 292.69h2.00M53.00 299.99h2.00" stroke="#1d3f68" stroke-width="0.5" stroke-opacity="0.7" fill="none"/><path d="M57.50 294.29V302.54M56.50 294.29h2.00M56.50 302.54h2.00" stroke="#1d3f68" stroke-width="0.5" stroke-opacity="0.7" fill="none"/><path d="M61.00 293.93V302.47M60.00 293.93h2.00M60.00 302.47h2.00" stroke="#1d3f68" stroke-width="0.5" stroke-opacity="0.7" fill="none"/><path d="M64.50 293.39V302.13M63.50 293.39h2.00M63.50 302.13h2.00" stroke="#1d3f68" stroke-width="0.5" stroke-opacity="0.7" fill="none"/><path d="M68.00 292.94V301.82M67.00 292.94h2.00M67.00 301.82h2.00" stroke="#1d3f68" stroke-width="0.5" stroke-opacity="0.7" fill="none"/><path d="M71.50 292.69V301.67M70.50 292.69h2.00M70.50 301.67h2.00" stroke="#1d3f68" stroke-width="0.5" stroke-opacity="0.7" fill="none"/><path d="M75.00 292.49V301.56M74.00 292.49h2.00M74.00 301.56h2.00" stroke="#1d3f68" stroke-width="0.5" stroke-opacity="0.7" fill="none"/><path d="M78.50 292.31V301.48M77.50 292.31h2.00M77.50 301.48h2.00" stroke="#1d3f68" stroke-width="0.5" stroke-opacity="0.7" fill="none"/><path d="M82.00 292.12V301.39M81.00 292.12h2.00M81.00 301.39h2.00" stroke="#1d3f68" stroke-width="0.5" stroke-opacity="0.7" fill="none"/><path d="M85.50 291.87V301.30M84.50 291.87h2.00M84.50 301.30h2.00" stroke="#1d3f68" stroke-width="0.5" stroke-opacity="0.7" fill="none"/><path d="M89.00 291.54V301.17M88.00 291.54h2.00M88.00 301.17h2.00" stroke="#1d3f68" stroke-width="0.5" stroke-opacity="0.7" fill="none"/><path d="M92.50 290.95V300.87M91.50 290.95h2.00M91.50 300.87h2.00" stroke="#1d3f68" stroke-width="0.5" stroke-opacity="0.7" fill="none"/><path d="M96.00 290.06V300.38M95.00 290.06h2.00M95.00 300.38h2.00" stroke="#1d3f68" stroke-width="0.5" stroke-opacity="0.7" fill="none"/><path d="M99.50 289.00V299.79M98.50 289.00h2.00M98.50 299.79h2.00" stroke="#1d3f68" stroke-width="0.5" stroke-opacity="0.7" fill="none"/><path d="M103.00 287.90V299.25M102.00 287.90h2.00M102.00 299.25h2.00" stroke="#1d3f68" stroke-width="0.5" stroke-opacity="0.7" fill="none"/><path d="M106.50 286.87V298.86M105.50 286.87h2.00M105.50 298.86h2.00" stroke="#1d3f68" stroke-width="0.5" stroke-opacity="0.7" fill="none"/><path d="M110.00 286.04V298.75M109.00 286.04h2.00M109.00 298.75h2.00" stroke="#1d3f68" stroke-width="0.5" stroke-opacity="0.7" fill="none"/><path d="M113.50 285.35V298.84M112.50 285.35h2.00M112.50 298.84h2.00" stroke="#1d3f68" stroke-width="0.5" stroke-opacity="0.7" fill="none"/><path d="M117.00 284.64V298.99M116.00 284.64h2.00M116.00 298.99h2.00" stroke="#1d3f68" stroke-width="0.5" stroke-opacity="0.7" fill="none"/><path d="M120.50 283.92V299.18M119.50 283.92h2.00M119.50 299.18h2.00" stroke="#1d3f68" stroke-width="0.5" stroke-opacity="0.7" fill="none"/><path d="M124.00 283.20V299.44M123.00 283.20h2.00M123.00 299.44h2.00" stroke="#1d3f68" stroke-width="0.5" stroke-opacity="0.7" fill="none"/><path d="M127.50 282.50V299.76M126.50 282.50h2.00M126.50 299.76h2.00" stroke="#1d3f68" stroke-width="0.5" stroke-opacity="0.7" fill="none"/><path d="M131.00 281.81V300.14M130.00 281.81h2.00M130.00 300.14h2.00" stroke="#1d3f68" stroke-width="0.5" stroke-opacity="0.7" fill="none"/><path d="M134.50 281.16V300.60M133.50 281.16h2.00M133.50 300.60h2.00" stroke="#1d3f68" stroke-width="0.5" stroke-opacity="0.7" fill="none"/><path d="M138.00 280.55V301.14M137.00 280.55h2.00M137.00 301.14h2.00" stroke="#1d3f68" stroke-width="0.5" stroke-opacity="0.7" fill="none"/><polyline points="47.00,296.35 50.50,286.03 54.00,296.34 57.50,298.42 61.00,298.20 64.50,297.76 68.00,297.38 71.50,297.18 75.00,297.03 78.50,296.89 82.00,296.76 85.50,296.58 89.00,296.35 92.50,295.91 96.00,295.22 99.50,294.40 103.00,293.57 106.50,292.86 110.00,292.40 113.50,292.10 117.00,291.81 120.50,291.55 124.00,291.32 127.50,291.13 131.00,290.98 134.50,290.88 138.00,290.85" fill="none" stroke="#1d3f68" stroke-width="0.7"/><circle cx="47.00" cy="296.35" r="1.3" fill="#1d3f68"/><circle cx="50.50" cy="286.03" r="1.3" fill="#1d3f68"/><circle cx="54.00" cy="296.34" r="1.3" fill="#1d3f68"/><circle cx="57.50" cy="298.42" r="1.3" fill="#1d3f68"/><circle cx="61.00" cy="298.20" r="1.3" fill="#1d3f68"/><circle cx="64.50" cy="297.76" r="1.3" fill="#1d3f68"/><circle cx="68.00" cy="297.38" r="1.3" fill="#1d3f68"/><circle cx="71.50" cy="297.18" r="1.3" fill="#1d3f68"/><circle cx="75.00" cy="297.03" r="1.3" fill="#1d3f68"/><circle cx="78.50" cy="296.89" r="1.3" fill="#1d3f68"/><circle cx="82.00" cy="296.76" r="1.3" fill="#1d3f68"/><circle cx="85.50" cy="296.58" r="1.3" fill="#1d3f68"/><circle cx="89.00" cy="296.35" r="1.3" fill="#1d3f68"/><circle cx="92.50" cy="295.91" r="1.3" fill="#1d3f68"/><circle cx="96.00" cy="295.22" r="1.3" fill="#1d3f68"/><circle cx="99.50" cy="294.40" r="1.3" fill="#1d3f68"/><circle cx="103.00" cy="293.57" r="1.3" fill="#1d3f68"/><circle cx="106.50" cy="292.86" r="1.3" fill="#1d3f68"/><circle cx="110.00" cy="292.40" r="1.3" fill="#1d3f68"/><circle cx="113.50" cy="292.10" r="1.3" fill="#1d3f68"/><circle cx="117.00" cy="291.81" r="1.3" fill="#1d3f68"/><circle cx="120.50" cy="291.55" r="1.3" fill="#1d3f68"/><circle cx="124.00" cy="291.32" r="1.3" fill="#1d3f68"/><circle cx="127.50" cy="291.13" r="1.3" fill="#1d3f68"/><circle cx="131.00" cy="290.98" r="1.3" fill="#1d3f68"/><circle cx="134.50" cy="290.88" r="1.3" fill="#1d3f68"/><circle cx="138.00" cy="290.85" r="1.3" fill="#1d3f68"/></g>
<g><path d="M47.00 288.44V293.26M46.00 288.44h2.00M46.00 293.26h2.00" stroke="#4daf4a" stroke-width="0.5" stroke-opacity="0.7" fill="none"/><path d="M50.50 285.33V290.15M49.50 285.33h2.00M49.50 290.15h2.00" stroke="#4daf4a" stroke-width="0.5" stroke-opacity="0.7" fill="none"/><path d="M54.00 282.60V287.42M53.00 282.60h2.00M53.00 287.42h2.00" stroke="#4daf4a" stroke-width="0.5" stroke-opacity="0.7" fill="none"/><path d="M57.50 280.16V284.97M56.50 280.16h2.00M56.50 284.97h2.00" stroke="#4daf4a" stroke-width="0.5" stroke-opacity="0.7" fill="none"/><path d="M61.00 279.50V284.32M60.00 279.50h2.00M60.00 284.32h2.00" stroke="#4daf4a" stroke-width="0.5" stroke-opacity="0.7" fill="none"/><path d="M64.50 279.57V284.38M63.50 279.57h2.00M63.50 284.38h2.00" stroke="#4daf4a" stroke-width="0.5" stroke-opacity="0.7" fill="none"/><path d="M68.00 279.67V284.48M67.00 279.67h2.00M67.00 284.48h2.00" stroke="#4daf4a" stroke-width="0.5" stroke-opacity="0.7" fill="none"/><path d="M71.50 279.77V284.59M70.50 279.77h2.00M70.50 284.59h2.00" stroke="#4daf4a" stroke-width="0.5" stroke-opacity="0.7" fill="none"/><path d="M75.00 279.83V284.65M74.00 279.83h2.00M74.00 284.65h2.00" stroke="#4daf4a" stroke-width="0.5" stroke-opacity="0.7" fill="none"/><path d="M78.50 279.75V284.57M77.50 279.75h2.00M77.50 284.57h2.00" stroke="#4daf4a" stroke-width="0.5" stroke-opacity="0.7" fill="none"/><path d="M82.00 279.27V284.09M81.00 279.27h2.00M81.00 284.09h2.00" stroke="#4daf4a" stroke-width="0.5" stroke-opacity="0.7" fill="none"/><path d="M85.50 278.55V283.37M84.50 278.55h2.00M84.50 283.37h2.00" stroke="#4daf4a" stroke-width="0.5" stroke-opacity="0.7" fill="none"/><path d="M89.00 277.78V282.59M88.00 277.78h2.00M88.00 282.59h2.00" stroke="#4daf4a" stroke-width="0.5" stroke-opacity="0.7" fill="none"/><path d="M92.50 276.78V281.60M91.50 276.78h2.00M91.50 281.60h2.00" stroke="#4daf4a" stroke-width="0.5" stroke-opacity="0.7" fill="none"/><path d="M96.00 275.44V280.25M95.00 275.44h2.00M95.00 280.25h2.00" stroke="#4daf4a" stroke-width="0.5" stroke-opacity="0.7" fill="none"/><path d="M99.50 273.96V278.77M98.50 273.96h2.00M98.50 278.77h2.00" stroke="#4daf4a" stroke-width="0.5" stroke-opacity="0.7" fill="none"/><path d="M103.00 272.56V277.38M102.00 272.56h2.00M102.00 277.38h2.00" stroke="#4daf4a" stroke-width="0.5" stroke-opacity="0.7" fill="none"/><path d="M106.50 271.47V276.29M105.50 271.47h2.00M105.50 276.29h2.00" stroke="#4daf4a" stroke-width="0.5" stroke-opacity="0.7" fill="none"/><path d="M110.00 270.90V275.71M109.00 270.90h2.00M109.00 275.71h2.00" stroke="#4daf4a" stroke-width="0.5" stroke-opacity="0.7" fill="none"/><path d="M113.50 270.67V275.48M112.50 270.67h2.00M112.50 275.48h2.00" stroke="#4daf4a" stroke-width="0.5" stroke-opacity="0.7" fill="none"/><path d="M117.00 270.47V275.28M116.00 270.47h2.00M116.00 275.28h2.00" stroke="#4daf4a" stroke-width="0.5" stroke-opacity="0.7" fill="none"/><path d="M120.50 270.29V275.11M119.50 270.29h2.00M119.50 275.11h2.00" stroke="#4daf4a" stroke-width="0.5" stroke-opacity="0.7" fill="none"/><path d="M124.00 270.14V274.96M123.00 270.14h2.00M123.00 274.96h2.00" stroke="#4daf4a" stroke-width="0.5" stroke-opacity="0.7" fill="none"/><path d="M127.50 270.02V274.84M126.50 270.02h2.00M126.50 274.84h2.00" stroke="#4daf4a" stroke-width="0.5" stroke-opacity="0.7" fill="none"/><path d="M131.00 269.94V274.75M130.00 269.94h2.00M130.00 274.75h2.00" stroke="#4daf4a" stroke-width="0.5" stroke-opacity="0.7" fill="none"/><path d="M134.50 269.88V274.70M133.50 269.88h2.00M133.50 274.70h2.00" stroke="#4daf4a" stroke-width="0.5" stroke-opacity="0.7" fill="none"/><path d="M138.00 269.86V274.68M137.00 269.86h2.00M137.00 274.68h2.00" stroke="#4daf4a" stroke-width="0.5" stroke-opacity="0.7" fill="none"/><polyline points="47.00,290.85 50.50,287.74 54.00,285.01 57.50,282.56 61.00,281.91 64.50,281.97 68.00,282.08 71.50,282.18 75.00,282.24 78.50,282.16 82.00,281.68 85.50,280.96 89.00,280.18 92.50,279.19 96.00,277.85 99.50,276.37 103.00,274.97 106.50,273.88 110.00,273.30 113.50,273.08 117.00,272.87 120.50,272.70 124.00,272.55 127.50,272.43 131.00,272.34 134.50,272.29 138.00,272.27" fill="none" stroke="#4daf4a" stroke-width="0.7"/><circle cx="47.00" cy="290.85" r="1.3" fill="#4daf4a"/><circle cx="50.50" cy="287.74" r="1.3" fill="#4daf4a"/><circle cx="54.00" cy="285.01" r="1.3" fill="#4daf4a"/><circle cx="57.50" cy="282.56" r="1.3" fill="#4daf4a"/><circle cx="61.00" cy="281.91" r="1.3" fill="#4daf4a"/><circle cx="64.50" cy="281.97" r="1.3" fill="#4daf4a"/><circle cx="68.00" cy="282.08" r="1.3" fill="#4daf4a"/><circle cx="71.50" cy="282.18" r="1.3" fill="#4daf4a"/><circle cx="75.00" cy="282.24" r="1.3" fill="#4daf4a"/><circle cx="78.50" cy="282.16" r="1.3" fill="#4daf4a"/><circle cx="82.00" cy="281.68" r="1.3" fill="#4daf4a"/><circle cx="85.50" cy="280.96" r="1.3" fill="#4daf4a"/><circle cx="89.00" cy="280.18" r="1.3" fill="#4daf4a"/><circle cx="92.50" cy="279.19" r="1.3" fill="#4daf4a"/><circle cx="96.00" cy="277.85" r="1.3" fill="#4daf4a"/><circle cx="99.50" cy="276.37" r="1.3" fill="#4daf4a"/><circle cx="103.00" cy="274.97" r="1.3" fill="#4daf4a"/><circle cx="106.50" cy="273.88" r="1.3" fill="#4daf4a"/><circle cx="110.00" cy="273.30" r="1.3" fill="#4daf4a"/><circle cx="113.50" cy="273.08" r="1.3" fill="#4daf4a"/><circle cx="117.00" cy="272.87" r="1.3" fill="#4daf4a"/><circle cx="120.50" cy="272.70" r="1.3" fill="#4daf4a"/><circle cx="124.00" cy="272.55" r="1.3" fill="#4daf4a"/><circle cx="127.50" cy="272.43" r="1.3" fill="#4daf4a"/><circle cx="131.00" cy="272.34" r="1.3" fill="#4daf4a"/><circle cx="134.50" cy="272.29" r="1.3" fill="#4daf4a"/><circle cx="138.00" cy="272.27" r="1.3" fill="#4daf4a"/></g>
<g><path d="M47.00 283.97V289.47M46.00 283.97h2.00M46.00 289.47h2.00" stroke="#9d8fd6" stroke-width="0.5" stroke-opacity="0.6" fill="none"/><path d="M50.50 278.79V284.29M49.50 278.79h2.00M49.50 284.29h2.00" stroke="#9d8fd6" stroke-width="0.5" stroke-opacity="0.6" fill="none"/><path d="M54.00 274.00V279.51M53.00 274.00h2.00M53.00 279.51h2.00" stroke="#9d8fd6" stroke-width="0.5" stroke-opacity="0.6" fill="none"/><path d="M57.50 271.08V276.59M56.50 271.08h2.00M56.50 276.59h2.00" stroke="#9d8fd6" stroke-width="0.5" stroke-opacity="0.6" fill="none"/><path d="M61.00 270.42V275.93M60.00 270.42h2.00M60.00 275.93h2.00" stroke="#9d8fd6" stroke-width="0.5" stroke-opacity="0.6" fill="none"/><path d="M64.50 270.78V276.29M63.50 270.78h2.00M63.50 276.29h2.00" stroke="#9d8fd6" stroke-width="0.5" stroke-opacity="0.6" fill="none"/><path d="M68.00 271.27V276.78M67.00 271.27h2.00M67.00 276.78h2.00" stroke="#9d8fd6" stroke-width="0.5" stroke-opacity="0.6" fill="none"/><path d="M71.50 271.57V277.08M70.50 271.57h2.00M70.50 277.08h2.00" stroke="#9d8fd6" stroke-width="0.5" stroke-opacity="0.6" fill="none"/><path d="M75.00 271.46V276.96M74.00 271.46h2.00M74.00 276.96h2.00" stroke="#9d8fd6" stroke-width="0.5" stroke-opacity="0.6" fill="none"/><path d="M78.50 271.01V276.51M77.50 271.01h2.00M77.50 276.51h2.00" stroke="#9d8fd6" stroke-width="0.5" stroke-opacity="0.6" fill="none"/><path d="M82.00 270.34V275.85M81.00 270.34h2.00M81.00 275.85h2.00" stroke="#9d8fd6" stroke-width="0.5" stroke-opacity="0.6" fill="none"/><path d="M85.50 269.58V275.08M84.50 269.58h2.00M84.50 275.08h2.00" stroke="#9d8fd6" stroke-width="0.5" stroke-opacity="0.6" fill="none"/><path d="M89.00 268.83V274.34M88.00 268.83h2.00M88.00 274.34h2.00" stroke="#9d8fd6" stroke-width="0.5" stroke-opacity="0.6" fill="none"/><path d="M92.50 267.98V273.48M91.50 267.98h2.00M91.50 273.48h2.00" stroke="#9d8fd6" stroke-width="0.5" stroke-opacity="0.6" fill="none"/><path d="M96.00 266.92V272.42M95.00 266.92h2.00M95.00 272.42h2.00" stroke="#9d8fd6" stroke-width="0.5" stroke-opacity="0.6" fill="none"/><path d="M99.50 265.78V271.28M98.50 265.78h2.00M98.50 271.28h2.00" stroke="#9d8fd6" stroke-width="0.5" stroke-opacity="0.6" fill="none"/><path d="M103.00 264.71V270.21M102.00 264.71h2.00M102.00 270.21h2.00" stroke="#9d8fd6" stroke-width="0.5" stroke-opacity="0.6" fill="none"/><path d="M106.50 263.85V269.35M105.50 263.85h2.00M105.50 269.35h2.00" stroke="#9d8fd6" stroke-width="0.5" stroke-opacity="0.6" fill="none"/><path d="M110.00 263.33V268.83M109.00 263.33h2.00M109.00 268.83h2.00" stroke="#9d8fd6" stroke-width="0.5" stroke-opacity="0.6" fill="none"/><path d="M113.50 263.04V268.55M112.50 263.04h2.00M112.50 268.55h2.00" stroke="#9d8fd6" stroke-width="0.5" stroke-opacity="0.6" fill="none"/><path d="M117.00 262.81V268.31M116.00 262.81h2.00M116.00 268.31h2.00" stroke="#9d8fd6" stroke-width="0.5" stroke-opacity="0.6" fill="none"/><path d="M120.50 262.67V268.17M119.50 262.67h2.00M119.50 268.17h2.00" stroke="#9d8fd6" stroke-width="0.5" stroke-opacity="0.6" fill="none"/><path d="M124.00 262.64V268.15M123.00 262.64h2.00M123.00 268.15h2.00" stroke="#9d8fd6" stroke-width="0.5" stroke-opacity="0.6" fill="none"/><path d="M127.50 262.70V268.20M126.50 262.70h2.00M126.50 268.20h2.00" stroke="#9d8fd6" stroke-width="0.5" stroke-opacity="0.6" fill="none"/><path d="M131.00 262.82V268.32M130.00 262.82h2.00M130.00 268.32h2.00" stroke="#9d8fd6" stroke-width="0.5" stroke-opacity="0.6" fill="none"/><path d="M134.50 263.02V268.53M133.50 263.02h2.00M133.50 268.53h2.00" stroke="#9d8fd6" stroke-width="0.5" stroke-opacity="0.6" fill="none"/><path d="M138.00 263.31V268.82M137.00 263.31h2.00M137.00 268.82h2.00" stroke="#9d8fd6" stroke-width="0.5" stroke-opacity="0.6" fill="none"/><polyline points="47.00,286.72 50.50,281.54 54.00,276.76 57.50,273.84 61.00,273.17 64.50,273.54 68.00,274.02 71.50,274.33 75.00,274.21 78.50,273.76 82.00,273.10 85.50,272.33 89.00,271.58 92.50,270.73 96.00,269.67 99.50,268.53 103.00,267.46 106.50,266.60 110.00,266.08 113.50,265.79 117.00,265.56 120.50,265.42 124.00,265.40 127.50,265.45 131.00,265.57 134.50,265.77 138.00,266.07" fill="none" stroke="#9d8fd6" stroke-width="0.6"/><circle cx="47.00" cy="286.72" r="0.9" fill="#9d8fd6"/><circle cx="50.50" cy="281.54" r="0.9" fill="#9d8fd6"/><circle cx="54.00" cy="276.76" r="0.9" fill="#9d8fd6"/><circle cx="57.50" cy="273.84" r="0.9" fill="#9d8fd6"/><circle cx="61.00" cy="273.17" r="0.9" fill="#9d8fd6"/><circle cx="64.50" cy="273.54" r="0.9" fill="#9d8fd6"/><circle cx="68.00" cy="274.02" r="0.9" fill="#9d8fd6"/><circle cx="71.50" cy="274.33" r="0.9" fill="#9d8fd6"/><circle cx="75.00" cy="274.21" r="0.9" fill="#9d8fd6"/><circle cx="78.50" cy="273.76" r="0.9" fill="#9d8fd6"/><circle cx="82.00" cy="273.10" r="0.9" fill="#9d8fd6"/><circle cx="85.50" cy="272.33" r="0.9" fill="#9d8fd6"/><circle cx="89.00" cy="271.58" r="0.9" fill="#9d8fd6"/><circle cx="92.50" cy="270.73" r="0.9" fill="#9d8fd6"/><circle cx="96.00" cy="269.67" r="0.9" fill="#9d8fd6"/><circle cx="99.50" cy="268.53" r="0.9" fill="#9d8fd6"/><circle cx="103.00" cy="267.46" r="0.9" fill="#9d8fd6"/><circle cx="106.50" cy="266.60" r="0.9" fill="#9d8fd6"/><circle cx="110.00" cy="266.08" r="0.9" fill="#9d8fd6"/><circle cx="113.50" cy="265.79" r="0.9" fill="#9d8fd6"/><circle cx="117.00" cy="265.56" r="0.9" fill="#9d8fd6"/><circle cx="120.50" cy="265.42" r="0.9" fill="#9d8fd6"/><circle cx="124.00" cy="265.40" r="0.9" fill="#9d8fd6"/><circle cx="127.50" cy="265.45" r="0.9" fill="#9d8fd6"/><circle cx="131.00" cy="265.57" r="0.9" fill="#9d8fd6"/><circle cx="134.50" cy="265.77" r="0.9" fill="#9d8fd6"/><circle cx="138.00" cy="266.07" r="0.9" fill="#9d8fd6"/></g>
<g><path d="M47.00 280.18V282.94M46.00 280.18h2.00M46.00 282.94h2.00" stroke="#c8102e" stroke-width="0.5" stroke-opacity="0.8" fill="none"/><path d="M50.50 269.16V271.91M49.50 269.16h2.00M49.50 271.91h2.00" stroke="#c8102e" stroke-width="0.5" stroke-opacity="0.8" fill="none"/><path d="M54.00 266.42V269.18M53.00 266.42h2.00M53.00 269.18h2.00" stroke="#c8102e" stroke-width="0.5" stroke-opacity="0.8" fill="none"/><path d="M57.50 266.77V269.52M56.50 266.77h2.00M56.50 269.52h2.00" stroke="#c8102e" stroke-width="0.5" stroke-opacity="0.8" fill="none"/><path d="M61.00 267.50V270.25M60.00 267.50h2.00M60.00 270.25h2.00" stroke="#c8102e" stroke-width="0.5" stroke-opacity="0.8" fill="none"/><path d="M64.50 268.39V271.15M63.50 268.39h2.00M63.50 271.15h2.00" stroke="#c8102e" stroke-width="0.5" stroke-opacity="0.8" fill="none"/><path d="M68.00 268.83V271.58M67.00 268.83h2.00M67.00 271.58h2.00" stroke="#c8102e" stroke-width="0.5" stroke-opacity="0.8" fill="none"/><path d="M71.50 268.56V271.31M70.50 268.56h2.00M70.50 271.31h2.00" stroke="#c8102e" stroke-width="0.5" stroke-opacity="0.8" fill="none"/><path d="M75.00 267.87V270.62M74.00 267.87h2.00M74.00 270.62h2.00" stroke="#c8102e" stroke-width="0.5" stroke-opacity="0.8" fill="none"/><path d="M78.50 266.98V269.73M77.50 266.98h2.00M77.50 269.73h2.00" stroke="#c8102e" stroke-width="0.5" stroke-opacity="0.8" fill="none"/><path d="M82.00 266.00V268.75M81.00 266.00h2.00M81.00 268.75h2.00" stroke="#c8102e" stroke-width="0.5" stroke-opacity="0.8" fill="none"/><path d="M85.50 264.61V267.36M84.50 264.61h2.00M84.50 267.36h2.00" stroke="#c8102e" stroke-width="0.5" stroke-opacity="0.8" fill="none"/><path d="M89.00 263.33V266.08M88.00 263.33h2.00M88.00 266.08h2.00" stroke="#c8102e" stroke-width="0.5" stroke-opacity="0.8" fill="none"/><path d="M92.50 262.40V265.15M91.50 262.40h2.00M91.50 265.15h2.00" stroke="#c8102e" stroke-width="0.5" stroke-opacity="0.8" fill="none"/><path d="M96.00 261.58V264.33M95.00 261.58h2.00M95.00 264.33h2.00" stroke="#c8102e" stroke-width="0.5" stroke-opacity="0.8" fill="none"/><path d="M99.50 260.90V263.66M98.50 260.90h2.00M98.50 263.66h2.00" stroke="#c8102e" stroke-width="0.5" stroke-opacity="0.8" fill="none"/><path d="M103.00 260.37V263.12M102.00 260.37h2.00M102.00 263.12h2.00" stroke="#c8102e" stroke-width="0.5" stroke-opacity="0.8" fill="none"/><path d="M106.50 259.88V262.63M105.50 259.88h2.00M105.50 262.63h2.00" stroke="#c8102e" stroke-width="0.5" stroke-opacity="0.8" fill="none"/><path d="M110.00 259.57V262.32M109.00 259.57h2.00M109.00 262.32h2.00" stroke="#c8102e" stroke-width="0.5" stroke-opacity="0.8" fill="none"/><path d="M113.50 259.58V262.33M112.50 259.58h2.00M112.50 262.33h2.00" stroke="#c8102e" stroke-width="0.5" stroke-opacity="0.8" fill="none"/><path d="M117.00 259.77V262.52M116.00 259.77h2.00M116.00 262.52h2.00" stroke="#c8102e" stroke-width="0.5" stroke-opacity="0.8" fill="none"/><path d="M120.50 260.05V262.80M119.50 260.05h2.00M119.50 262.80h2.00" stroke="#c8102e" stroke-width="0.5" stroke-opacity="0.8" fill="none"/><path d="M124.00 260.37V263.12M123.00 260.37h2.00M123.00 263.12h2.00" stroke="#c8102e" stroke-width="0.5" stroke-opacity="0.8" fill="none"/><path d="M127.50 260.82V263.58M126.50 260.82h2.00M126.50 263.58h2.00" stroke="#c8102e" stroke-width="0.5" stroke-opacity="0.8" fill="none"/><path d="M131.00 261.42V264.17M130.00 261.42h2.00M130.00 264.17h2.00" stroke="#c8102e" stroke-width="0.5" stroke-opacity="0.8" fill="none"/><path d="M134.50 262.14V264.89M133.50 262.14h2.00M133.50 264.89h2.00" stroke="#c8102e" stroke-width="0.5" stroke-opacity="0.8" fill="none"/><path d="M138.00 262.95V265.70M137.00 262.95h2.00M137.00 265.70h2.00" stroke="#c8102e" stroke-width="0.5" stroke-opacity="0.8" fill="none"/><polyline points="47.00,281.56 50.50,270.53 54.00,267.80 57.50,268.14 61.00,268.87 64.50,269.77 68.00,270.21 71.50,269.93 75.00,269.25 78.50,268.35 82.00,267.37 85.50,265.98 89.00,264.70 92.50,263.77 96.00,262.96 99.50,262.28 103.00,261.75 106.50,261.26 110.00,260.95 113.50,260.96 117.00,261.14 120.50,261.42 124.00,261.75 127.50,262.20 131.00,262.80 134.50,263.51 138.00,264.33" fill="none" stroke="#c8102e" stroke-width="0.7"/><circle cx="47.00" cy="281.56" r="1.3" fill="#c8102e"/><circle cx="50.50" cy="270.53" r="1.3" fill="#c8102e"/><circle cx="54.00" cy="267.80" r="1.3" fill="#c8102e"/><circle cx="57.50" cy="268.14" r="1.3" fill="#c8102e"/><circle cx="61.00" cy="268.87" r="1.3" fill="#c8102e"/><circle cx="64.50" cy="269.77" r="1.3" fill="#c8102e"/><circle cx="68.00" cy="270.21" r="1.3" fill="#c8102e"/><circle cx="71.50" cy="269.93" r="1.3" fill="#c8102e"/><circle cx="75.00" cy="269.25" r="1.3" fill="#c8102e"/><circle cx="78.50" cy="268.35" r="1.3" fill="#c8102e"/><circle cx="82.00" cy="267.37" r="1.3" fill="#c8102e"/><circle cx="85.50" cy="265.98" r="1.3" fill="#c8102e"/><circle cx="89.00" cy="264.70" r="1.3" fill="#c8102e"/><circle cx="92.50" cy="263.77" r="1.3" fill="#c8102e"/><circle cx="96.00" cy="262.96" r="1.3" fill="#c8102e"/><circle cx="99.50" cy="262.28" r="1.3" fill="#c8102e"/><circle cx="103.00" cy="261.75" r="1.3" fill="#c8102e"/><circle cx="106.50" cy="261.26" r="1.3" fill="#c8102e"/><circle cx="110.00" cy="260.95" r="1.3" fill="#c8102e"/><circle cx="113.50" cy="260.96" r="1.3" fill="#c8102e"/><circle cx="117.00" cy="261.14" r="1.3" fill="#c8102e"/><circle cx="120.50" cy="261.42" r="1.3" fill="#c8102e"/><circle cx="124.00" cy="261.75" r="1.3" fill="#c8102e"/><circle cx="127.50" cy="262.20" r="1.3" fill="#c8102e"/><circle cx="131.00" cy="262.80" r="1.3" fill="#c8102e"/><circle cx="134.50" cy="263.51" r="1.3" fill="#c8102e"/><circle cx="138.00" cy="264.33" r="1.3" fill="#c8102e"/></g>
<line x1="62.80" y1="351.60" x2="71.80" y2="351.60" stroke="#1d3f68" stroke-width="0.8" stroke-opacity="1.0"/>
<circle cx="67.30" cy="351.60" r="1.4" fill="#1d3f68"/>
<text x="74.90" y="353.95" font-size="6.6" text-anchor="start" font-weight="normal" font-style="normal" fill="#231f20" stroke="#231f20" stroke-width="0.18" textLength="17.3" lengthAdjust="spacingAndGlyphs">CM21</text>
<line x1="62.80" y1="361.70" x2="71.80" y2="361.70" stroke="#c8102e" stroke-width="0.8" stroke-opacity="1.0"/>
<circle cx="67.30" cy="361.70" r="1.4" fill="#c8102e"/>
<text x="74.90" y="364.05" font-size="6.6" text-anchor="start" font-weight="normal" font-style="normal" fill="#231f20" stroke="#231f20" stroke-width="0.18" textLength="26.5" lengthAdjust="spacingAndGlyphs">HI CM21</text>
<line x1="62.80" y1="371.90" x2="71.80" y2="371.90" stroke="#4daf4a" stroke-width="0.8" stroke-opacity="1.0"/>
<circle cx="67.30" cy="371.90" r="1.4" fill="#4daf4a"/>
<text x="74.90" y="374.25" font-size="6.6" text-anchor="start" font-weight="normal" font-style="normal" fill="#231f20" stroke="#231f20" stroke-width="0.18" textLength="64.0" lengthAdjust="spacingAndGlyphs">CM21+ 50 μg/mL ecu</text>
<line x1="62.80" y1="381.90" x2="71.80" y2="381.90" stroke="#9d8fd6" stroke-width="0.8" stroke-opacity="1.0"/>
<circle cx="67.30" cy="381.90" r="1.4" fill="#9d8fd6"/>
<text x="74.90" y="384.25" font-size="6.6" text-anchor="start" font-weight="normal" font-style="normal" fill="#231f20" stroke="#231f20" stroke-width="0.18" textLength="61.5" lengthAdjust="spacingAndGlyphs">CM21+ 30 μg/mL sut</text>
<line x1="62.80" y1="391.80" x2="71.80" y2="391.80" stroke="#f2a11f" stroke-width="0.8" stroke-opacity="1.0"/>
<circle cx="67.30" cy="391.80" r="1.4" fill="#f2a11f"/>
<text x="74.90" y="394.15" font-size="6.6" text-anchor="start" font-weight="normal" font-style="normal" fill="#231f20" stroke="#231f20" stroke-width="0.18" textLength="48.0" lengthAdjust="spacingAndGlyphs">CM21+ 1 μM FDi</text>
<text x="188.10" y="218.25" font-size="12" font-weight="bold" fill="#231f20" stroke="#231f20" stroke-width="0.45">E</text>
<text x="278.20" y="241.90" font-size="9.2" text-anchor="middle" font-weight="normal" font-style="normal" fill="#231f20" stroke="#231f20" stroke-width="0.12" textLength="44.9" lengthAdjust="spacingAndGlyphs">HC on DKO</text>
<line x1="228.30" y1="252.20" x2="228.30" y2="320.30" stroke="#231f20" stroke-width="1.5" stroke-opacity="1.0"/>
<line x1="227.60" y1="319.60" x2="327.00" y2="319.60" stroke="#231f20" stroke-width="1.5" stroke-opacity="1.0"/>
<line x1="225.30" y1="319.60" x2="228.30" y2="319.60" stroke="#231f20" stroke-width="0.9" stroke-opacity="1.0"/>
<text x="222.10" y="322.00" font-size="6.7" text-anchor="end" font-weight="normal" font-style="normal" fill="#231f20" stroke="#231f20" stroke-width="0.18" textLength="3.58" lengthAdjust="spacingAndGlyphs">0</text>
<line x1="225.30" y1="306.55" x2="228.30" y2="306.55" stroke="#231f20" stroke-width="0.9" stroke-opacity="1.0"/>
<text x="222.10" y="308.95" font-size="6.7" text-anchor="end" font-weight="normal" font-style="normal" fill="#231f20" stroke="#231f20" stroke-width="0.18" textLength="21.48" lengthAdjust="spacingAndGlyphs">100000</text>
<line x1="225.30" y1="293.50" x2="228.30" y2="293.50" stroke="#231f20" stroke-width="0.9" stroke-opacity="1.0"/>
<text x="222.10" y="295.90" font-size="6.7" text-anchor="end" font-weight="normal" font-style="normal" fill="#231f20" stroke="#231f20" stroke-width="0.18" textLength="21.48" lengthAdjust="spacingAndGlyphs">200000</text>
<line x1="225.30" y1="280.45" x2="228.30" y2="280.45" stroke="#231f20" stroke-width="0.9" stroke-opacity="1.0"/>
<text x="222.10" y="282.85" font-size="6.7" text-anchor="end" font-weight="normal" font-style="normal" fill="#231f20" stroke="#231f20" stroke-width="0.18" textLength="21.48" lengthAdjust="spacingAndGlyphs">300000</text>
<line x1="225.30" y1="267.40" x2="228.30" y2="267.40" stroke="#231f20" stroke-width="0.9" stroke-opacity="1.0"/>
<text x="222.10" y="269.80" font-size="6.7" text-anchor="end" font-weight="normal" font-style="normal" fill="#231f20" stroke="#231f20" stroke-width="0.18" textLength="21.48" lengthAdjust="spacingAndGlyphs">400000</text>
<line x1="225.30" y1="254.35" x2="228.30" y2="254.35" stroke="#231f20" stroke-width="0.9" stroke-opacity="1.0"/>
<text x="222.10" y="256.75" font-size="6.7" text-anchor="end" font-weight="normal" font-style="normal" fill="#231f20" stroke="#231f20" stroke-width="0.18" textLength="21.48" lengthAdjust="spacingAndGlyphs">500000</text>
<line x1="228.30" y1="319.60" x2="228.30" y2="322.60" stroke="#231f20" stroke-width="0.9" stroke-opacity="1.0"/>
<text x="228.30" y="331.60" font-size="6.6" text-anchor="middle" font-weight="normal" font-style="normal" fill="#231f20" stroke="#231f20" stroke-width="0.18" textLength="21.7" lengthAdjust="spacingAndGlyphs">0:00:00</text>
<line x1="260.70" y1="319.60" x2="260.70" y2="322.60" stroke="#231f20" stroke-width="0.9" stroke-opacity="1.0"/>
<text x="260.70" y="331.60" font-size="6.6" text-anchor="middle" font-weight="normal" font-style="normal" fill="#231f20" stroke="#231f20" stroke-width="0.18" textLength="21.7" lengthAdjust="spacingAndGlyphs">1:00:00</text>
<line x1="293.10" y1="319.60" x2="293.10" y2="322.60" stroke="#231f20" stroke-width="0.9" stroke-opacity="1.0"/>
<text x="293.10" y="331.60" font-size="6.6" text-anchor="middle" font-weight="normal" font-style="normal" fill="#231f20" stroke="#231f20" stroke-width="0.18" textLength="21.7" lengthAdjust="spacingAndGlyphs">2:00:00</text>
<line x1="325.50" y1="319.60" x2="325.50" y2="322.60" stroke="#231f20" stroke-width="0.9" stroke-opacity="1.0"/>
<text x="325.50" y="331.60" font-size="6.6" text-anchor="middle" font-weight="normal" font-style="normal" fill="#231f20" stroke="#231f20" stroke-width="0.18" textLength="21.7" lengthAdjust="spacingAndGlyphs">3:00:00</text>
<text x="195.50" y="287.50" font-size="9.2" text-anchor="middle" font-weight="normal" font-style="normal" fill="#231f20" stroke="#231f20" stroke-width="0.3" textLength="11" lengthAdjust="spacingAndGlyphs" transform="rotate(-90 195.5 287.5)">RLU</text>
<text x="278.30" y="342.40" font-size="8.5" text-anchor="middle" font-weight="normal" font-style="normal" fill="#231f20" stroke="#231f20" stroke-width="0.3" textLength="24.8" lengthAdjust="spacingAndGlyphs">Time (h)</text>
<g><path d="M228.30 292.59V301.72M227.30 292.59h2.00M227.30 301.72h2.00" stroke="#c9c9c9" stroke-width="0.5" stroke-opacity="0.5" fill="none"/><path d="M231.00 283.68V292.82M230.00 283.68h2.00M230.00 292.82h2.00" stroke="#c9c9c9" stroke-width="0.5" stroke-opacity="0.5" fill="none"/><path d="M233.70 277.86V286.99M232.70 277.86h2.00M232.70 286.99h2.00" stroke="#c9c9c9" stroke-width="0.5" stroke-opacity="0.5" fill="none"/><path d="M236.40 273.53V282.67M235.40 273.53h2.00M235.40 282.67h2.00" stroke="#c9c9c9" stroke-width="0.5" stroke-opacity="0.5" fill="none"/><path d="M239.10 272.58V281.72M238.10 272.58h2.00M238.10 281.72h2.00" stroke="#c9c9c9" stroke-width="0.5" stroke-opacity="0.5" fill="none"/><path d="M241.80 272.23V281.36M240.80 272.23h2.00M240.80 281.36h2.00" stroke="#c9c9c9" stroke-width="0.5" stroke-opacity="0.5" fill="none"/><path d="M244.50 272.38V281.51M243.50 272.38h2.00M243.50 281.51h2.00" stroke="#c9c9c9" stroke-width="0.5" stroke-opacity="0.5" fill="none"/><path d="M247.20 272.80V281.94M246.20 272.80h2.00M246.20 281.94h2.00" stroke="#c9c9c9" stroke-width="0.5" stroke-opacity="0.5" fill="none"/><path d="M249.90 273.42V282.55M248.90 273.42h2.00M248.90 282.55h2.00" stroke="#c9c9c9" stroke-width="0.5" stroke-opacity="0.5" fill="none"/><path d="M252.60 274.14V283.28M251.60 274.14h2.00M251.60 283.28h2.00" stroke="#c9c9c9" stroke-width="0.5" stroke-opacity="0.5" fill="none"/><path d="M255.30 274.89V284.03M254.30 274.89h2.00M254.30 284.03h2.00" stroke="#c9c9c9" stroke-width="0.5" stroke-opacity="0.5" fill="none"/><path d="M258.00 275.59V284.72M257.00 275.59h2.00M257.00 284.72h2.00" stroke="#c9c9c9" stroke-width="0.5" stroke-opacity="0.5" fill="none"/><path d="M260.70 276.14V285.28M259.70 276.14h2.00M259.70 285.28h2.00" stroke="#c9c9c9" stroke-width="0.5" stroke-opacity="0.5" fill="none"/><path d="M263.40 276.58V285.72M262.40 276.58h2.00M262.40 285.72h2.00" stroke="#c9c9c9" stroke-width="0.5" stroke-opacity="0.5" fill="none"/><path d="M266.10 276.99V286.12M265.10 276.99h2.00M265.10 286.12h2.00" stroke="#c9c9c9" stroke-width="0.5" stroke-opacity="0.5" fill="none"/><path d="M268.80 277.37V286.50M267.80 277.37h2.00M267.80 286.50h2.00" stroke="#c9c9c9" stroke-width="0.5" stroke-opacity="0.5" fill="none"/><path d="M271.50 277.74V286.87M270.50 277.74h2.00M270.50 286.87h2.00" stroke="#c9c9c9" stroke-width="0.5" stroke-opacity="0.5" fill="none"/><path d="M274.20 278.11V287.25M273.20 278.11h2.00M273.20 287.25h2.00" stroke="#c9c9c9" stroke-width="0.5" stroke-opacity="0.5" fill="none"/><path d="M276.90 278.49V287.63M275.90 278.49h2.00M275.90 287.63h2.00" stroke="#c9c9c9" stroke-width="0.5" stroke-opacity="0.5" fill="none"/><path d="M279.60 278.88V288.02M278.60 278.88h2.00M278.60 288.02h2.00" stroke="#c9c9c9" stroke-width="0.5" stroke-opacity="0.5" fill="none"/><path d="M282.30 279.26V288.40M281.30 279.26h2.00M281.30 288.40h2.00" stroke="#c9c9c9" stroke-width="0.5" stroke-opacity="0.5" fill="none"/><path d="M285.00 279.65V288.78M284.00 279.65h2.00M284.00 288.78h2.00" stroke="#c9c9c9" stroke-width="0.5" stroke-opacity="0.5" fill="none"/><path d="M287.70 280.04V289.17M286.70 280.04h2.00M286.70 289.17h2.00" stroke="#c9c9c9" stroke-width="0.5" stroke-opacity="0.5" fill="none"/><path d="M290.40 280.43V289.57M289.40 280.43h2.00M289.40 289.57h2.00" stroke="#c9c9c9" stroke-width="0.5" stroke-opacity="0.5" fill="none"/><path d="M293.10 280.84V289.98M292.10 280.84h2.00M292.10 289.98h2.00" stroke="#c9c9c9" stroke-width="0.5" stroke-opacity="0.5" fill="none"/><path d="M295.80 281.26V290.40M294.80 281.26h2.00M294.80 290.40h2.00" stroke="#c9c9c9" stroke-width="0.5" stroke-opacity="0.5" fill="none"/><path d="M298.50 281.69V290.82M297.50 281.69h2.00M297.50 290.82h2.00" stroke="#c9c9c9" stroke-width="0.5" stroke-opacity="0.5" fill="none"/><path d="M301.20 282.13V291.26M300.20 282.13h2.00M300.20 291.26h2.00" stroke="#c9c9c9" stroke-width="0.5" stroke-opacity="0.5" fill="none"/><path d="M303.90 282.57V291.71M302.90 282.57h2.00M302.90 291.71h2.00" stroke="#c9c9c9" stroke-width="0.5" stroke-opacity="0.5" fill="none"/><path d="M306.60 283.03V292.16M305.60 283.03h2.00M305.60 292.16h2.00" stroke="#c9c9c9" stroke-width="0.5" stroke-opacity="0.5" fill="none"/><path d="M309.30 283.49V292.62M308.30 283.49h2.00M308.30 292.62h2.00" stroke="#c9c9c9" stroke-width="0.5" stroke-opacity="0.5" fill="none"/><polyline points="228.30,297.15 231.00,288.25 233.70,282.43 236.40,278.10 239.10,277.15 241.80,276.80 244.50,276.95 247.20,277.37 249.90,277.99 252.60,278.71 255.30,279.46 258.00,280.15 260.70,280.71 263.40,281.15 266.10,281.55 268.80,281.94 271.50,282.31 274.20,282.68 276.90,283.06 279.60,283.45 282.30,283.83 285.00,284.22 287.70,284.60 290.40,285.00 293.10,285.41 295.80,285.83 298.50,286.26 301.20,286.69 303.90,287.14 306.60,287.59 309.30,288.06" fill="none" stroke="#c9c9c9" stroke-width="0.6"/><circle cx="228.30" cy="297.15" r="0.95" fill="#c9c9c9"/><circle cx="231.00" cy="288.25" r="0.95" fill="#c9c9c9"/><circle cx="233.70" cy="282.43" r="0.95" fill="#c9c9c9"/><circle cx="236.40" cy="278.10" r="0.95" fill="#c9c9c9"/><circle cx="239.10" cy="277.15" r="0.95" fill="#c9c9c9"/><circle cx="241.80" cy="276.80" r="0.95" fill="#c9c9c9"/><circle cx="244.50" cy="276.95" r="0.95" fill="#c9c9c9"/><circle cx="247.20" cy="277.37" r="0.95" fill="#c9c9c9"/><circle cx="249.90" cy="277.99" r="0.95" fill="#c9c9c9"/><circle cx="252.60" cy="278.71" r="0.95" fill="#c9c9c9"/><circle cx="255.30" cy="279.46" r="0.95" fill="#c9c9c9"/><circle cx="258.00" cy="280.15" r="0.95" fill="#c9c9c9"/><circle cx="260.70" cy="280.71" r="0.95" fill="#c9c9c9"/><circle cx="263.40" cy="281.15" r="0.95" fill="#c9c9c9"/><circle cx="266.10" cy="281.55" r="0.95" fill="#c9c9c9"/><circle cx="268.80" cy="281.94" r="0.95" fill="#c9c9c9"/><circle cx="271.50" cy="282.31" r="0.95" fill="#c9c9c9"/><circle cx="274.20" cy="282.68" r="0.95" fill="#c9c9c9"/><circle cx="276.90" cy="283.06" r="0.95" fill="#c9c9c9"/><circle cx="279.60" cy="283.45" r="0.95" fill="#c9c9c9"/><circle cx="282.30" cy="283.83" r="0.95" fill="#c9c9c9"/><circle cx="285.00" cy="284.22" r="0.95" fill="#c9c9c9"/><circle cx="287.70" cy="284.60" r="0.95" fill="#c9c9c9"/><circle cx="290.40" cy="285.00" r="0.95" fill="#c9c9c9"/><circle cx="293.10" cy="285.41" r="0.95" fill="#c9c9c9"/><circle cx="295.80" cy="285.83" r="0.95" fill="#c9c9c9"/><circle cx="298.50" cy="286.26" r="0.95" fill="#c9c9c9"/><circle cx="301.20" cy="286.69" r="0.95" fill="#c9c9c9"/><circle cx="303.90" cy="287.14" r="0.95" fill="#c9c9c9"/><circle cx="306.60" cy="287.59" r="0.95" fill="#c9c9c9"/><circle cx="309.30" cy="288.06" r="0.95" fill="#c9c9c9"/></g>
<g><path d="M228.30 293.24V301.07M227.30 293.24h2.00M227.30 301.07h2.00" stroke="#9d8fd6" stroke-width="0.5" stroke-opacity="0.5" fill="none"/><path d="M231.00 285.65V293.48M230.00 285.65h2.00M230.00 293.48h2.00" stroke="#9d8fd6" stroke-width="0.5" stroke-opacity="0.5" fill="none"/><path d="M233.70 281.12V288.95M232.70 281.12h2.00M232.70 288.95h2.00" stroke="#9d8fd6" stroke-width="0.5" stroke-opacity="0.5" fill="none"/><path d="M236.40 278.49V286.32M235.40 278.49h2.00M235.40 286.32h2.00" stroke="#9d8fd6" stroke-width="0.5" stroke-opacity="0.5" fill="none"/><path d="M239.10 277.83V285.66M238.10 277.83h2.00M238.10 285.66h2.00" stroke="#9d8fd6" stroke-width="0.5" stroke-opacity="0.5" fill="none"/><path d="M241.80 277.58V285.41M240.80 277.58h2.00M240.80 285.41h2.00" stroke="#9d8fd6" stroke-width="0.5" stroke-opacity="0.5" fill="none"/><path d="M244.50 277.67V285.50M243.50 277.67h2.00M243.50 285.50h2.00" stroke="#9d8fd6" stroke-width="0.5" stroke-opacity="0.5" fill="none"/><path d="M247.20 277.92V285.75M246.20 277.92h2.00M246.20 285.75h2.00" stroke="#9d8fd6" stroke-width="0.5" stroke-opacity="0.5" fill="none"/><path d="M249.90 278.28V286.11M248.90 278.28h2.00M248.90 286.11h2.00" stroke="#9d8fd6" stroke-width="0.5" stroke-opacity="0.5" fill="none"/><path d="M252.60 278.71V286.54M251.60 278.71h2.00M251.60 286.54h2.00" stroke="#9d8fd6" stroke-width="0.5" stroke-opacity="0.5" fill="none"/><path d="M255.30 279.16V286.99M254.30 279.16h2.00M254.30 286.99h2.00" stroke="#9d8fd6" stroke-width="0.5" stroke-opacity="0.5" fill="none"/><path d="M258.00 279.58V287.41M257.00 279.58h2.00M257.00 287.41h2.00" stroke="#9d8fd6" stroke-width="0.5" stroke-opacity="0.5" fill="none"/><path d="M260.70 279.93V287.76M259.70 279.93h2.00M259.70 287.76h2.00" stroke="#9d8fd6" stroke-width="0.5" stroke-opacity="0.5" fill="none"/><path d="M263.40 280.21V288.04M262.40 280.21h2.00M262.40 288.04h2.00" stroke="#9d8fd6" stroke-width="0.5" stroke-opacity="0.5" fill="none"/><path d="M266.10 280.49V288.32M265.10 280.49h2.00M265.10 288.32h2.00" stroke="#9d8fd6" stroke-width="0.5" stroke-opacity="0.5" fill="none"/><path d="M268.80 280.75V288.58M267.80 280.75h2.00M267.80 288.58h2.00" stroke="#9d8fd6" stroke-width="0.5" stroke-opacity="0.5" fill="none"/><path d="M271.50 281.01V288.84M270.50 281.01h2.00M270.50 288.84h2.00" stroke="#9d8fd6" stroke-width="0.5" stroke-opacity="0.5" fill="none"/><path d="M274.20 281.25V289.08M273.20 281.25h2.00M273.20 289.08h2.00" stroke="#9d8fd6" stroke-width="0.5" stroke-opacity="0.5" fill="none"/><path d="M276.90 281.49V289.32M275.90 281.49h2.00M275.90 289.32h2.00" stroke="#9d8fd6" stroke-width="0.5" stroke-opacity="0.5" fill="none"/><path d="M279.60 281.72V289.55M278.60 281.72h2.00M278.60 289.55h2.00" stroke="#9d8fd6" stroke-width="0.5" stroke-opacity="0.5" fill="none"/><path d="M282.30 281.93V289.76M281.30 281.93h2.00M281.30 289.76h2.00" stroke="#9d8fd6" stroke-width="0.5" stroke-opacity="0.5" fill="none"/><path d="M285.00 282.14V289.97M284.00 282.14h2.00M284.00 289.97h2.00" stroke="#9d8fd6" stroke-width="0.5" stroke-opacity="0.5" fill="none"/><path d="M287.70 282.35V290.18M286.70 282.35h2.00M286.70 290.18h2.00" stroke="#9d8fd6" stroke-width="0.5" stroke-opacity="0.5" fill="none"/><path d="M290.40 282.57V290.40M289.40 282.57h2.00M289.40 290.40h2.00" stroke="#9d8fd6" stroke-width="0.5" stroke-opacity="0.5" fill="none"/><path d="M293.10 282.80V290.63M292.10 282.80h2.00M292.10 290.63h2.00" stroke="#9d8fd6" stroke-width="0.5" stroke-opacity="0.5" fill="none"/><path d="M295.80 283.05V290.88M294.80 283.05h2.00M294.80 290.88h2.00" stroke="#9d8fd6" stroke-width="0.5" stroke-opacity="0.5" fill="none"/><path d="M298.50 283.31V291.14M297.50 283.31h2.00M297.50 291.14h2.00" stroke="#9d8fd6" stroke-width="0.5" stroke-opacity="0.5" fill="none"/><path d="M301.20 283.59V291.42M300.20 283.59h2.00M300.20 291.42h2.00" stroke="#9d8fd6" stroke-width="0.5" stroke-opacity="0.5" fill="none"/><path d="M303.90 283.87V291.70M302.90 283.87h2.00M302.90 291.70h2.00" stroke="#9d8fd6" stroke-width="0.5" stroke-opacity="0.5" fill="none"/><path d="M306.60 284.17V292.00M305.60 284.17h2.00M305.60 292.00h2.00" stroke="#9d8fd6" stroke-width="0.5" stroke-opacity="0.5" fill="none"/><path d="M309.30 284.48V292.31M308.30 284.48h2.00M308.30 292.31h2.00" stroke="#9d8fd6" stroke-width="0.5" stroke-opacity="0.5" fill="none"/><polyline points="228.30,297.15 231.00,289.56 233.70,285.03 236.40,282.41 239.10,281.75 241.80,281.49 244.50,281.58 247.20,281.83 249.90,282.19 252.60,282.62 255.30,283.07 258.00,283.50 260.70,283.84 263.40,284.13 266.10,284.40 268.80,284.67 271.50,284.92 274.20,285.17 276.90,285.41 279.60,285.64 282.30,285.85 285.00,286.06 287.70,286.26 290.40,286.48 293.10,286.71 295.80,286.97 298.50,287.23 301.20,287.50 303.90,287.79 306.60,288.08 309.30,288.39" fill="none" stroke="#9d8fd6" stroke-width="0.6"/><circle cx="228.30" cy="297.15" r="0.95" fill="#9d8fd6"/><circle cx="231.00" cy="289.56" r="0.95" fill="#9d8fd6"/><circle cx="233.70" cy="285.03" r="0.95" fill="#9d8fd6"/><circle cx="236.40" cy="282.41" r="0.95" fill="#9d8fd6"/><circle cx="239.10" cy="281.75" r="0.95" fill="#9d8fd6"/><circle cx="241.80" cy="281.49" r="0.95" fill="#9d8fd6"/><circle cx="244.50" cy="281.58" r="0.95" fill="#9d8fd6"/><circle cx="247.20" cy="281.83" r="0.95" fill="#9d8fd6"/><circle cx="249.90" cy="282.19" r="0.95" fill="#9d8fd6"/><circle cx="252.60" cy="282.62" r="0.95" fill="#9d8fd6"/><circle cx="255.30" cy="283.07" r="0.95" fill="#9d8fd6"/><circle cx="258.00" cy="283.50" r="0.95" fill="#9d8fd6"/><circle cx="260.70" cy="283.84" r="0.95" fill="#9d8fd6"/><circle cx="263.40" cy="284.13" r="0.95" fill="#9d8fd6"/><circle cx="266.10" cy="284.40" r="0.95" fill="#9d8fd6"/><circle cx="268.80" cy="284.67" r="0.95" fill="#9d8fd6"/><circle cx="271.50" cy="284.92" r="0.95" fill="#9d8fd6"/><circle cx="274.20" cy="285.17" r="0.95" fill="#9d8fd6"/><circle cx="276.90" cy="285.41" r="0.95" fill="#9d8fd6"/><circle cx="279.60" cy="285.64" r="0.95" fill="#9d8fd6"/><circle cx="282.30" cy="285.85" r="0.95" fill="#9d8fd6"/><circle cx="285.00" cy="286.06" r="0.95" fill="#9d8fd6"/><circle cx="287.70" cy="286.26" r="0.95" fill="#9d8fd6"/><circle cx="290.40" cy="286.48" r="0.95" fill="#9d8fd6"/><circle cx="293.10" cy="286.71" r="0.95" fill="#9d8fd6"/><circle cx="295.80" cy="286.97" r="0.95" fill="#9d8fd6"/><circle cx="298.50" cy="287.23" r="0.95" fill="#9d8fd6"/><circle cx="301.20" cy="287.50" r="0.95" fill="#9d8fd6"/><circle cx="303.90" cy="287.79" r="0.95" fill="#9d8fd6"/><circle cx="306.60" cy="288.08" r="0.95" fill="#9d8fd6"/><circle cx="309.30" cy="288.39" r="0.95" fill="#9d8fd6"/></g>
<g><path d="M228.30 294.81V301.33M227.30 294.81h2.00M227.30 301.33h2.00" stroke="#4daf4a" stroke-width="0.5" stroke-opacity="0.5" fill="none"/><path d="M231.00 285.65V292.17M230.00 285.65h2.00M230.00 292.17h2.00" stroke="#4daf4a" stroke-width="0.5" stroke-opacity="0.5" fill="none"/><path d="M233.70 282.15V288.68M232.70 282.15h2.00M232.70 288.68h2.00" stroke="#4daf4a" stroke-width="0.5" stroke-opacity="0.5" fill="none"/><path d="M236.40 280.92V287.44M235.40 280.92h2.00M235.40 287.44h2.00" stroke="#4daf4a" stroke-width="0.5" stroke-opacity="0.5" fill="none"/><path d="M239.10 280.45V286.98M238.10 280.45h2.00M238.10 286.98h2.00" stroke="#4daf4a" stroke-width="0.5" stroke-opacity="0.5" fill="none"/><path d="M241.80 280.74V287.26M240.80 280.74h2.00M240.80 287.26h2.00" stroke="#4daf4a" stroke-width="0.5" stroke-opacity="0.5" fill="none"/><path d="M244.50 281.36V287.88M243.50 281.36h2.00M243.50 287.88h2.00" stroke="#4daf4a" stroke-width="0.5" stroke-opacity="0.5" fill="none"/><path d="M247.20 282.03V288.56M246.20 282.03h2.00M246.20 288.56h2.00" stroke="#4daf4a" stroke-width="0.5" stroke-opacity="0.5" fill="none"/><path d="M249.90 282.67V289.19M248.90 282.67h2.00M248.90 289.19h2.00" stroke="#4daf4a" stroke-width="0.5" stroke-opacity="0.5" fill="none"/><path d="M252.60 283.45V289.97M251.60 283.45h2.00M251.60 289.97h2.00" stroke="#4daf4a" stroke-width="0.5" stroke-opacity="0.5" fill="none"/><path d="M255.30 284.21V290.73M254.30 284.21h2.00M254.30 290.73h2.00" stroke="#4daf4a" stroke-width="0.5" stroke-opacity="0.5" fill="none"/><path d="M258.00 284.79V291.31M257.00 284.79h2.00M257.00 291.31h2.00" stroke="#4daf4a" stroke-width="0.5" stroke-opacity="0.5" fill="none"/><path d="M260.70 285.02V291.54M259.70 285.02h2.00M259.70 291.54h2.00" stroke="#4daf4a" stroke-width="0.5" stroke-opacity="0.5" fill="none"/><path d="M263.40 285.00V291.52M262.40 285.00h2.00M262.40 291.52h2.00" stroke="#4daf4a" stroke-width="0.5" stroke-opacity="0.5" fill="none"/><path d="M266.10 284.95V291.47M265.10 284.95h2.00M265.10 291.47h2.00" stroke="#4daf4a" stroke-width="0.5" stroke-opacity="0.5" fill="none"/><path d="M268.80 284.87V291.40M267.80 284.87h2.00M267.80 291.40h2.00" stroke="#4daf4a" stroke-width="0.5" stroke-opacity="0.5" fill="none"/><path d="M271.50 284.79V291.31M270.50 284.79h2.00M270.50 291.31h2.00" stroke="#4daf4a" stroke-width="0.5" stroke-opacity="0.5" fill="none"/><path d="M274.20 284.70V291.23M273.20 284.70h2.00M273.20 291.23h2.00" stroke="#4daf4a" stroke-width="0.5" stroke-opacity="0.5" fill="none"/><path d="M276.90 284.63V291.15M275.90 284.63h2.00M275.90 291.15h2.00" stroke="#4daf4a" stroke-width="0.5" stroke-opacity="0.5" fill="none"/><path d="M279.60 284.55V291.08M278.60 284.55h2.00M278.60 291.08h2.00" stroke="#4daf4a" stroke-width="0.5" stroke-opacity="0.5" fill="none"/><path d="M282.30 284.47V290.99M281.30 284.47h2.00M281.30 290.99h2.00" stroke="#4daf4a" stroke-width="0.5" stroke-opacity="0.5" fill="none"/><path d="M285.00 284.38V290.91M284.00 284.38h2.00M284.00 290.91h2.00" stroke="#4daf4a" stroke-width="0.5" stroke-opacity="0.5" fill="none"/><path d="M287.70 284.31V290.83M286.70 284.31h2.00M286.70 290.83h2.00" stroke="#4daf4a" stroke-width="0.5" stroke-opacity="0.5" fill="none"/><path d="M290.40 284.25V290.78M289.40 284.25h2.00M289.40 290.78h2.00" stroke="#4daf4a" stroke-width="0.5" stroke-opacity="0.5" fill="none"/><path d="M293.10 284.23V290.76M292.10 284.23h2.00M292.10 290.76h2.00" stroke="#4daf4a" stroke-width="0.5" stroke-opacity="0.5" fill="none"/><path d="M295.80 284.26V290.78M294.80 284.26h2.00M294.80 290.78h2.00" stroke="#4daf4a" stroke-width="0.5" stroke-opacity="0.5" fill="none"/><path d="M298.50 284.32V290.84M297.50 284.32h2.00M297.50 290.84h2.00" stroke="#4daf4a" stroke-width="0.5" stroke-opacity="0.5" fill="none"/><path d="M301.20 284.42V290.95M300.20 284.42h2.00M300.20 290.95h2.00" stroke="#4daf4a" stroke-width="0.5" stroke-opacity="0.5" fill="none"/><path d="M303.90 284.56V291.08M302.90 284.56h2.00M302.90 291.08h2.00" stroke="#4daf4a" stroke-width="0.5" stroke-opacity="0.5" fill="none"/><path d="M306.60 284.72V291.25M305.60 284.72h2.00M305.60 291.25h2.00" stroke="#4daf4a" stroke-width="0.5" stroke-opacity="0.5" fill="none"/><path d="M309.30 284.92V291.44M308.30 284.92h2.00M308.30 291.44h2.00" stroke="#4daf4a" stroke-width="0.5" stroke-opacity="0.5" fill="none"/><polyline points="228.30,298.07 231.00,288.91 233.70,285.41 236.40,284.18 239.10,283.71 241.80,284.00 244.50,284.62 247.20,285.29 249.90,285.93 252.60,286.71 255.30,287.47 258.00,288.05 260.70,288.28 263.40,288.26 266.10,288.21 268.80,288.13 271.50,288.05 274.20,287.96 276.90,287.89 279.60,287.81 282.30,287.73 285.00,287.64 287.70,287.57 290.40,287.52 293.10,287.50 295.80,287.52 298.50,287.58 301.20,287.68 303.90,287.82 306.60,287.98 309.30,288.18" fill="none" stroke="#4daf4a" stroke-width="0.7"/><circle cx="228.30" cy="298.07" r="1.3" fill="#4daf4a"/><circle cx="231.00" cy="288.91" r="1.3" fill="#4daf4a"/><circle cx="233.70" cy="285.41" r="1.3" fill="#4daf4a"/><circle cx="236.40" cy="284.18" r="1.3" fill="#4daf4a"/><circle cx="239.10" cy="283.71" r="1.3" fill="#4daf4a"/><circle cx="241.80" cy="284.00" r="1.3" fill="#4daf4a"/><circle cx="244.50" cy="284.62" r="1.3" fill="#4daf4a"/><circle cx="247.20" cy="285.29" r="1.3" fill="#4daf4a"/><circle cx="249.90" cy="285.93" r="1.3" fill="#4daf4a"/><circle cx="252.60" cy="286.71" r="1.3" fill="#4daf4a"/><circle cx="255.30" cy="287.47" r="1.3" fill="#4daf4a"/><circle cx="258.00" cy="288.05" r="1.3" fill="#4daf4a"/><circle cx="260.70" cy="288.28" r="1.3" fill="#4daf4a"/><circle cx="263.40" cy="288.26" r="1.3" fill="#4daf4a"/><circle cx="266.10" cy="288.21" r="1.3" fill="#4daf4a"/><circle cx="268.80" cy="288.13" r="1.3" fill="#4daf4a"/><circle cx="271.50" cy="288.05" r="1.3" fill="#4daf4a"/><circle cx="274.20" cy="287.96" r="1.3" fill="#4daf4a"/><circle cx="276.90" cy="287.89" r="1.3" fill="#4daf4a"/><circle cx="279.60" cy="287.81" r="1.3" fill="#4daf4a"/><circle cx="282.30" cy="287.73" r="1.3" fill="#4daf4a"/><circle cx="285.00" cy="287.64" r="1.3" fill="#4daf4a"/><circle cx="287.70" cy="287.57" r="1.3" fill="#4daf4a"/><circle cx="290.40" cy="287.52" r="1.3" fill="#4daf4a"/><circle cx="293.10" cy="287.50" r="1.3" fill="#4daf4a"/><circle cx="295.80" cy="287.52" r="1.3" fill="#4daf4a"/><circle cx="298.50" cy="287.58" r="1.3" fill="#4daf4a"/><circle cx="301.20" cy="287.68" r="1.3" fill="#4daf4a"/><circle cx="303.90" cy="287.82" r="1.3" fill="#4daf4a"/><circle cx="306.60" cy="287.98" r="1.3" fill="#4daf4a"/><circle cx="309.30" cy="288.18" r="1.3" fill="#4daf4a"/></g>
<g><path d="M228.30 293.89V300.42M227.30 293.89h2.00M227.30 300.42h2.00" stroke="#f2a11f" stroke-width="0.5" stroke-opacity="0.6" fill="none"/><path d="M231.00 285.64V292.17M230.00 285.64h2.00M230.00 292.17h2.00" stroke="#f2a11f" stroke-width="0.5" stroke-opacity="0.6" fill="none"/><path d="M233.70 280.47V286.99M232.70 280.47h2.00M232.70 286.99h2.00" stroke="#f2a11f" stroke-width="0.5" stroke-opacity="0.6" fill="none"/><path d="M236.40 277.19V283.71M235.40 277.19h2.00M235.40 283.71h2.00" stroke="#f2a11f" stroke-width="0.5" stroke-opacity="0.6" fill="none"/><path d="M239.10 276.39V282.92M238.10 276.39h2.00M238.10 282.92h2.00" stroke="#f2a11f" stroke-width="0.5" stroke-opacity="0.6" fill="none"/><path d="M241.80 275.91V282.44M240.80 275.91h2.00M240.80 282.44h2.00" stroke="#f2a11f" stroke-width="0.5" stroke-opacity="0.6" fill="none"/><path d="M244.50 275.75V282.28M243.50 275.75h2.00M243.50 282.28h2.00" stroke="#f2a11f" stroke-width="0.5" stroke-opacity="0.6" fill="none"/><path d="M247.20 275.93V282.45M246.20 275.93h2.00M246.20 282.45h2.00" stroke="#f2a11f" stroke-width="0.5" stroke-opacity="0.6" fill="none"/><path d="M249.90 276.39V282.91M248.90 276.39h2.00M248.90 282.91h2.00" stroke="#f2a11f" stroke-width="0.5" stroke-opacity="0.6" fill="none"/><path d="M252.60 277.02V283.54M251.60 277.02h2.00M251.60 283.54h2.00" stroke="#f2a11f" stroke-width="0.5" stroke-opacity="0.6" fill="none"/><path d="M255.30 277.72V284.24M254.30 277.72h2.00M254.30 284.24h2.00" stroke="#f2a11f" stroke-width="0.5" stroke-opacity="0.6" fill="none"/><path d="M258.00 278.37V284.90M257.00 278.37h2.00M257.00 284.90h2.00" stroke="#f2a11f" stroke-width="0.5" stroke-opacity="0.6" fill="none"/><path d="M260.70 278.88V285.41M259.70 278.88h2.00M259.70 285.41h2.00" stroke="#f2a11f" stroke-width="0.5" stroke-opacity="0.6" fill="none"/><path d="M263.40 279.26V285.79M262.40 279.26h2.00M262.40 285.79h2.00" stroke="#f2a11f" stroke-width="0.5" stroke-opacity="0.6" fill="none"/><path d="M266.10 279.61V286.13M265.10 279.61h2.00M265.10 286.13h2.00" stroke="#f2a11f" stroke-width="0.5" stroke-opacity="0.6" fill="none"/><path d="M268.80 279.93V286.45M267.80 279.93h2.00M267.80 286.45h2.00" stroke="#f2a11f" stroke-width="0.5" stroke-opacity="0.6" fill="none"/><path d="M271.50 280.23V286.76M270.50 280.23h2.00M270.50 286.76h2.00" stroke="#f2a11f" stroke-width="0.5" stroke-opacity="0.6" fill="none"/><path d="M274.20 280.53V287.06M273.20 280.53h2.00M273.20 287.06h2.00" stroke="#f2a11f" stroke-width="0.5" stroke-opacity="0.6" fill="none"/><path d="M276.90 280.84V287.37M275.90 280.84h2.00M275.90 287.37h2.00" stroke="#f2a11f" stroke-width="0.5" stroke-opacity="0.6" fill="none"/><path d="M279.60 281.15V287.67M278.60 281.15h2.00M278.60 287.67h2.00" stroke="#f2a11f" stroke-width="0.5" stroke-opacity="0.6" fill="none"/><path d="M282.30 281.45V287.97M281.30 281.45h2.00M281.30 287.97h2.00" stroke="#f2a11f" stroke-width="0.5" stroke-opacity="0.6" fill="none"/><path d="M285.00 281.74V288.27M284.00 281.74h2.00M284.00 288.27h2.00" stroke="#f2a11f" stroke-width="0.5" stroke-opacity="0.6" fill="none"/><path d="M287.70 282.04V288.57M286.70 282.04h2.00M286.70 288.57h2.00" stroke="#f2a11f" stroke-width="0.5" stroke-opacity="0.6" fill="none"/><path d="M290.40 282.35V288.87M289.40 282.35h2.00M289.40 288.87h2.00" stroke="#f2a11f" stroke-width="0.5" stroke-opacity="0.6" fill="none"/><path d="M293.10 282.67V289.19M292.10 282.67h2.00M292.10 289.19h2.00" stroke="#f2a11f" stroke-width="0.5" stroke-opacity="0.6" fill="none"/><path d="M295.80 283.00V289.53M294.80 283.00h2.00M294.80 289.53h2.00" stroke="#f2a11f" stroke-width="0.5" stroke-opacity="0.6" fill="none"/><path d="M298.50 283.35V289.88M297.50 283.35h2.00M297.50 289.88h2.00" stroke="#f2a11f" stroke-width="0.5" stroke-opacity="0.6" fill="none"/><path d="M301.20 283.71V290.23M300.20 283.71h2.00M300.20 290.23h2.00" stroke="#f2a11f" stroke-width="0.5" stroke-opacity="0.6" fill="none"/><path d="M303.90 284.07V290.60M302.90 284.07h2.00M302.90 290.60h2.00" stroke="#f2a11f" stroke-width="0.5" stroke-opacity="0.6" fill="none"/><path d="M306.60 284.45V290.97M305.60 284.45h2.00M305.60 290.97h2.00" stroke="#f2a11f" stroke-width="0.5" stroke-opacity="0.6" fill="none"/><path d="M309.30 284.83V291.36M308.30 284.83h2.00M308.30 291.36h2.00" stroke="#f2a11f" stroke-width="0.5" stroke-opacity="0.6" fill="none"/><polyline points="228.30,297.15 231.00,288.91 233.70,283.73 236.40,280.45 239.10,279.65 241.80,279.17 244.50,279.01 247.20,279.19 249.90,279.65 252.60,280.28 255.30,280.98 258.00,281.64 260.70,282.15 263.40,282.53 266.10,282.87 268.80,283.19 271.50,283.49 274.20,283.80 276.90,284.10 279.60,284.41 282.30,284.71 285.00,285.01 287.70,285.30 290.40,285.61 293.10,285.93 295.80,286.27 298.50,286.61 301.20,286.97 303.90,287.33 306.60,287.71 309.30,288.09" fill="none" stroke="#f2a11f" stroke-width="0.7"/><circle cx="228.30" cy="297.15" r="1.3" fill="#f2a11f"/><circle cx="231.00" cy="288.91" r="1.3" fill="#f2a11f"/><circle cx="233.70" cy="283.73" r="1.3" fill="#f2a11f"/><circle cx="236.40" cy="280.45" r="1.3" fill="#f2a11f"/><circle cx="239.10" cy="279.65" r="1.3" fill="#f2a11f"/><circle cx="241.80" cy="279.17" r="1.3" fill="#f2a11f"/><circle cx="244.50" cy="279.01" r="1.3" fill="#f2a11f"/><circle cx="247.20" cy="279.19" r="1.3" fill="#f2a11f"/><circle cx="249.90" cy="279.65" r="1.3" fill="#f2a11f"/><circle cx="252.60" cy="280.28" r="1.3" fill="#f2a11f"/><circle cx="255.30" cy="280.98" r="1.3" fill="#f2a11f"/><circle cx="258.00" cy="281.64" r="1.3" fill="#f2a11f"/><circle cx="260.70" cy="282.15" r="1.3" fill="#f2a11f"/><circle cx="263.40" cy="282.53" r="1.3" fill="#f2a11f"/><circle cx="266.10" cy="282.87" r="1.3" fill="#f2a11f"/><circle cx="268.80" cy="283.19" r="1.3" fill="#f2a11f"/><circle cx="271.50" cy="283.49" r="1.3" fill="#f2a11f"/><circle cx="274.20" cy="283.80" r="1.3" fill="#f2a11f"/><circle cx="276.90" cy="284.10" r="1.3" fill="#f2a11f"/><circle cx="279.60" cy="284.41" r="1.3" fill="#f2a11f"/><circle cx="282.30" cy="284.71" r="1.3" fill="#f2a11f"/><circle cx="285.00" cy="285.01" r="1.3" fill="#f2a11f"/><circle cx="287.70" cy="285.30" r="1.3" fill="#f2a11f"/><circle cx="290.40" cy="285.61" r="1.3" fill="#f2a11f"/><circle cx="293.10" cy="285.93" r="1.3" fill="#f2a11f"/><circle cx="295.80" cy="286.27" r="1.3" fill="#f2a11f"/><circle cx="298.50" cy="286.61" r="1.3" fill="#f2a11f"/><circle cx="301.20" cy="286.97" r="1.3" fill="#f2a11f"/><circle cx="303.90" cy="287.33" r="1.3" fill="#f2a11f"/><circle cx="306.60" cy="287.71" r="1.3" fill="#f2a11f"/><circle cx="309.30" cy="288.09" r="1.3" fill="#f2a11f"/></g>
<g><path d="M228.30 297.81V308.77M227.30 297.81h2.00M227.30 308.77h2.00" stroke="#24557f" stroke-width="0.5" stroke-opacity="0.6" fill="none"/><path d="M231.00 287.48V298.44M230.00 287.48h2.00M230.00 298.44h2.00" stroke="#24557f" stroke-width="0.5" stroke-opacity="0.6" fill="none"/><path d="M233.70 284.90V295.86M232.70 284.90h2.00M232.70 295.86h2.00" stroke="#24557f" stroke-width="0.5" stroke-opacity="0.6" fill="none"/><path d="M236.40 282.80V293.76M235.40 282.80h2.00M235.40 293.76h2.00" stroke="#24557f" stroke-width="0.5" stroke-opacity="0.6" fill="none"/><path d="M239.10 283.08V294.04M238.10 283.08h2.00M238.10 294.04h2.00" stroke="#24557f" stroke-width="0.5" stroke-opacity="0.6" fill="none"/><path d="M241.80 284.05V295.01M240.80 284.05h2.00M240.80 295.01h2.00" stroke="#24557f" stroke-width="0.5" stroke-opacity="0.6" fill="none"/><path d="M244.50 286.32V297.28M243.50 286.32h2.00M243.50 297.28h2.00" stroke="#24557f" stroke-width="0.5" stroke-opacity="0.6" fill="none"/><path d="M247.20 287.26V298.22M246.20 287.26h2.00M246.20 298.22h2.00" stroke="#24557f" stroke-width="0.5" stroke-opacity="0.6" fill="none"/><path d="M249.90 287.88V298.84M248.90 287.88h2.00M248.90 298.84h2.00" stroke="#24557f" stroke-width="0.5" stroke-opacity="0.6" fill="none"/><path d="M252.60 288.41V299.37M251.60 288.41h2.00M251.60 299.37h2.00" stroke="#24557f" stroke-width="0.5" stroke-opacity="0.6" fill="none"/><path d="M255.30 289.02V299.98M254.30 289.02h2.00M254.30 299.98h2.00" stroke="#24557f" stroke-width="0.5" stroke-opacity="0.6" fill="none"/><path d="M258.00 289.56V300.52M257.00 289.56h2.00M257.00 300.52h2.00" stroke="#24557f" stroke-width="0.5" stroke-opacity="0.6" fill="none"/><path d="M260.70 289.85V300.81M259.70 289.85h2.00M259.70 300.81h2.00" stroke="#24557f" stroke-width="0.5" stroke-opacity="0.6" fill="none"/><path d="M263.40 289.93V300.89M262.40 289.93h2.00M262.40 300.89h2.00" stroke="#24557f" stroke-width="0.5" stroke-opacity="0.6" fill="none"/><path d="M266.10 289.99V300.95M265.10 289.99h2.00M265.10 300.95h2.00" stroke="#24557f" stroke-width="0.5" stroke-opacity="0.6" fill="none"/><path d="M268.80 290.04V301.00M267.80 290.04h2.00M267.80 301.00h2.00" stroke="#24557f" stroke-width="0.5" stroke-opacity="0.6" fill="none"/><path d="M271.50 290.08V301.04M270.50 290.08h2.00M270.50 301.04h2.00" stroke="#24557f" stroke-width="0.5" stroke-opacity="0.6" fill="none"/><path d="M274.20 290.10V301.06M273.20 290.10h2.00M273.20 301.06h2.00" stroke="#24557f" stroke-width="0.5" stroke-opacity="0.6" fill="none"/><path d="M276.90 290.11V301.07M275.90 290.11h2.00M275.90 301.07h2.00" stroke="#24557f" stroke-width="0.5" stroke-opacity="0.6" fill="none"/><path d="M279.60 290.08V301.05M278.60 290.08h2.00M278.60 301.05h2.00" stroke="#24557f" stroke-width="0.5" stroke-opacity="0.6" fill="none"/><path d="M282.30 290.02V300.98M281.30 290.02h2.00M281.30 300.98h2.00" stroke="#24557f" stroke-width="0.5" stroke-opacity="0.6" fill="none"/><path d="M285.00 289.93V300.89M284.00 289.93h2.00M284.00 300.89h2.00" stroke="#24557f" stroke-width="0.5" stroke-opacity="0.6" fill="none"/><path d="M287.70 289.82V300.78M286.70 289.82h2.00M286.70 300.78h2.00" stroke="#24557f" stroke-width="0.5" stroke-opacity="0.6" fill="none"/><path d="M290.40 289.70V300.66M289.40 289.70h2.00M289.40 300.66h2.00" stroke="#24557f" stroke-width="0.5" stroke-opacity="0.6" fill="none"/><path d="M293.10 289.59V300.55M292.10 289.59h2.00M292.10 300.55h2.00" stroke="#24557f" stroke-width="0.5" stroke-opacity="0.6" fill="none"/><path d="M295.80 289.47V300.43M294.80 289.47h2.00M294.80 300.43h2.00" stroke="#24557f" stroke-width="0.5" stroke-opacity="0.6" fill="none"/><path d="M298.50 289.35V300.31M297.50 289.35h2.00M297.50 300.31h2.00" stroke="#24557f" stroke-width="0.5" stroke-opacity="0.6" fill="none"/><path d="M301.20 289.21V300.17M300.20 289.21h2.00M300.20 300.17h2.00" stroke="#24557f" stroke-width="0.5" stroke-opacity="0.6" fill="none"/><path d="M303.90 289.07V300.03M302.90 289.07h2.00M302.90 300.03h2.00" stroke="#24557f" stroke-width="0.5" stroke-opacity="0.6" fill="none"/><path d="M306.60 288.91V299.88M305.60 288.91h2.00M305.60 299.88h2.00" stroke="#24557f" stroke-width="0.5" stroke-opacity="0.6" fill="none"/><path d="M309.30 288.75V299.71M308.30 288.75h2.00M308.30 299.71h2.00" stroke="#24557f" stroke-width="0.5" stroke-opacity="0.6" fill="none"/><polyline points="228.30,303.29 231.00,292.96 233.70,290.38 236.40,288.28 239.10,288.56 241.80,289.53 244.50,291.80 247.20,292.74 249.90,293.36 252.60,293.89 255.30,294.50 258.00,295.04 260.70,295.33 263.40,295.41 266.10,295.47 268.80,295.52 271.50,295.56 274.20,295.58 276.90,295.59 279.60,295.56 282.30,295.50 285.00,295.41 287.70,295.30 290.40,295.18 293.10,295.07 295.80,294.95 298.50,294.83 301.20,294.69 303.90,294.55 306.60,294.39 309.30,294.23" fill="none" stroke="#24557f" stroke-width="0.7"/><circle cx="228.30" cy="303.29" r="1.3" fill="#24557f"/><circle cx="231.00" cy="292.96" r="1.3" fill="#24557f"/><circle cx="233.70" cy="290.38" r="1.3" fill="#24557f"/><circle cx="236.40" cy="288.28" r="1.3" fill="#24557f"/><circle cx="239.10" cy="288.56" r="1.3" fill="#24557f"/><circle cx="241.80" cy="289.53" r="1.3" fill="#24557f"/><circle cx="244.50" cy="291.80" r="1.3" fill="#24557f"/><circle cx="247.20" cy="292.74" r="1.3" fill="#24557f"/><circle cx="249.90" cy="293.36" r="1.3" fill="#24557f"/><circle cx="252.60" cy="293.89" r="1.3" fill="#24557f"/><circle cx="255.30" cy="294.50" r="1.3" fill="#24557f"/><circle cx="258.00" cy="295.04" r="1.3" fill="#24557f"/><circle cx="260.70" cy="295.33" r="1.3" fill="#24557f"/><circle cx="263.40" cy="295.41" r="1.3" fill="#24557f"/><circle cx="266.10" cy="295.47" r="1.3" fill="#24557f"/><circle cx="268.80" cy="295.52" r="1.3" fill="#24557f"/><circle cx="271.50" cy="295.56" r="1.3" fill="#24557f"/><circle cx="274.20" cy="295.58" r="1.3" fill="#24557f"/><circle cx="276.90" cy="295.59" r="1.3" fill="#24557f"/><circle cx="279.60" cy="295.56" r="1.3" fill="#24557f"/><circle cx="282.30" cy="295.50" r="1.3" fill="#24557f"/><circle cx="285.00" cy="295.41" r="1.3" fill="#24557f"/><circle cx="287.70" cy="295.30" r="1.3" fill="#24557f"/><circle cx="290.40" cy="295.18" r="1.3" fill="#24557f"/><circle cx="293.10" cy="295.07" r="1.3" fill="#24557f"/><circle cx="295.80" cy="294.95" r="1.3" fill="#24557f"/><circle cx="298.50" cy="294.83" r="1.3" fill="#24557f"/><circle cx="301.20" cy="294.69" r="1.3" fill="#24557f"/><circle cx="303.90" cy="294.55" r="1.3" fill="#24557f"/><circle cx="306.60" cy="294.39" r="1.3" fill="#24557f"/><circle cx="309.30" cy="294.23" r="1.3" fill="#24557f"/></g>
<g><path d="M228.30 296.11V301.33M227.30 296.11h2.00M227.30 301.33h2.00" stroke="#0e5a48" stroke-width="0.5" stroke-opacity="0.6" fill="none"/><path d="M231.00 286.30V291.52M230.00 286.30h2.00M230.00 291.52h2.00" stroke="#0e5a48" stroke-width="0.5" stroke-opacity="0.6" fill="none"/><path d="M233.70 282.80V288.02M232.70 282.80h2.00M232.70 288.02h2.00" stroke="#0e5a48" stroke-width="0.5" stroke-opacity="0.6" fill="none"/><path d="M236.40 281.75V286.97M235.40 281.75h2.00M235.40 286.97h2.00" stroke="#0e5a48" stroke-width="0.5" stroke-opacity="0.6" fill="none"/><path d="M239.10 281.36V286.58M238.10 281.36h2.00M238.10 286.58h2.00" stroke="#0e5a48" stroke-width="0.5" stroke-opacity="0.6" fill="none"/><path d="M241.80 281.70V286.92M240.80 281.70h2.00M240.80 286.92h2.00" stroke="#0e5a48" stroke-width="0.5" stroke-opacity="0.6" fill="none"/><path d="M244.50 282.42V287.64M243.50 282.42h2.00M243.50 287.64h2.00" stroke="#0e5a48" stroke-width="0.5" stroke-opacity="0.6" fill="none"/><path d="M247.20 283.19V288.41M246.20 283.19h2.00M246.20 288.41h2.00" stroke="#0e5a48" stroke-width="0.5" stroke-opacity="0.6" fill="none"/><path d="M249.90 283.88V289.10M248.90 283.88h2.00M248.90 289.10h2.00" stroke="#0e5a48" stroke-width="0.5" stroke-opacity="0.6" fill="none"/><path d="M252.60 284.70V289.92M251.60 284.70h2.00M251.60 289.92h2.00" stroke="#0e5a48" stroke-width="0.5" stroke-opacity="0.6" fill="none"/><path d="M255.30 285.49V290.71M254.30 285.49h2.00M254.30 290.71h2.00" stroke="#0e5a48" stroke-width="0.5" stroke-opacity="0.6" fill="none"/><path d="M258.00 286.09V291.31M257.00 286.09h2.00M257.00 291.31h2.00" stroke="#0e5a48" stroke-width="0.5" stroke-opacity="0.6" fill="none"/><path d="M260.70 286.32V291.54M259.70 286.32h2.00M259.70 291.54h2.00" stroke="#0e5a48" stroke-width="0.5" stroke-opacity="0.6" fill="none"/><path d="M263.40 286.30V291.52M262.40 286.30h2.00M262.40 291.52h2.00" stroke="#0e5a48" stroke-width="0.5" stroke-opacity="0.6" fill="none"/><path d="M266.10 286.26V291.48M265.10 286.26h2.00M265.10 291.48h2.00" stroke="#0e5a48" stroke-width="0.5" stroke-opacity="0.6" fill="none"/><path d="M268.80 286.19V291.41M267.80 286.19h2.00M267.80 291.41h2.00" stroke="#0e5a48" stroke-width="0.5" stroke-opacity="0.6" fill="none"/><path d="M271.50 286.11V291.33M270.50 286.11h2.00M270.50 291.33h2.00" stroke="#0e5a48" stroke-width="0.5" stroke-opacity="0.6" fill="none"/><path d="M274.20 286.02V291.24M273.20 286.02h2.00M273.20 291.24h2.00" stroke="#0e5a48" stroke-width="0.5" stroke-opacity="0.6" fill="none"/><path d="M276.90 285.93V291.15M275.90 285.93h2.00M275.90 291.15h2.00" stroke="#0e5a48" stroke-width="0.5" stroke-opacity="0.6" fill="none"/><path d="M279.60 285.83V291.05M278.60 285.83h2.00M278.60 291.05h2.00" stroke="#0e5a48" stroke-width="0.5" stroke-opacity="0.6" fill="none"/><path d="M282.30 285.69V290.91M281.30 285.69h2.00M281.30 290.91h2.00" stroke="#0e5a48" stroke-width="0.5" stroke-opacity="0.6" fill="none"/><path d="M285.00 285.54V290.76M284.00 285.54h2.00M284.00 290.76h2.00" stroke="#0e5a48" stroke-width="0.5" stroke-opacity="0.6" fill="none"/><path d="M287.70 285.41V290.63M286.70 285.41h2.00M286.70 290.63h2.00" stroke="#0e5a48" stroke-width="0.5" stroke-opacity="0.6" fill="none"/><path d="M290.40 285.32V290.54M289.40 285.32h2.00M289.40 290.54h2.00" stroke="#0e5a48" stroke-width="0.5" stroke-opacity="0.6" fill="none"/><path d="M293.10 285.28V290.50M292.10 285.28h2.00M292.10 290.50h2.00" stroke="#0e5a48" stroke-width="0.5" stroke-opacity="0.6" fill="none"/><path d="M295.80 285.28V290.50M294.80 285.28h2.00M294.80 290.50h2.00" stroke="#0e5a48" stroke-width="0.5" stroke-opacity="0.6" fill="none"/><path d="M298.50 285.28V290.50M297.50 285.28h2.00M297.50 290.50h2.00" stroke="#0e5a48" stroke-width="0.5" stroke-opacity="0.6" fill="none"/><path d="M301.20 285.28V290.50M300.20 285.28h2.00M300.20 290.50h2.00" stroke="#0e5a48" stroke-width="0.5" stroke-opacity="0.6" fill="none"/><path d="M303.90 285.28V290.50M302.90 285.28h2.00M302.90 290.50h2.00" stroke="#0e5a48" stroke-width="0.5" stroke-opacity="0.6" fill="none"/><path d="M306.60 285.28V290.50M305.60 285.28h2.00M305.60 290.50h2.00" stroke="#0e5a48" stroke-width="0.5" stroke-opacity="0.6" fill="none"/><path d="M309.30 285.28V290.50M308.30 285.28h2.00M308.30 290.50h2.00" stroke="#0e5a48" stroke-width="0.5" stroke-opacity="0.6" fill="none"/><polyline points="228.30,298.72 231.00,288.91 233.70,285.41 236.40,284.36 239.10,283.97 241.80,284.31 244.50,285.03 247.20,285.80 249.90,286.49 252.60,287.31 255.30,288.10 258.00,288.70 260.70,288.93 263.40,288.91 266.10,288.87 268.80,288.80 271.50,288.72 274.20,288.63 276.90,288.54 279.60,288.44 282.30,288.30 285.00,288.15 287.70,288.02 290.40,287.93 293.10,287.89 295.80,287.89 298.50,287.89 301.20,287.89 303.90,287.89 306.60,287.89 309.30,287.89" fill="none" stroke="#0e5a48" stroke-width="0.7"/><circle cx="228.30" cy="298.72" r="1.3" fill="#0e5a48"/><circle cx="231.00" cy="288.91" r="1.3" fill="#0e5a48"/><circle cx="233.70" cy="285.41" r="1.3" fill="#0e5a48"/><circle cx="236.40" cy="284.36" r="1.3" fill="#0e5a48"/><circle cx="239.10" cy="283.97" r="1.3" fill="#0e5a48"/><circle cx="241.80" cy="284.31" r="1.3" fill="#0e5a48"/><circle cx="244.50" cy="285.03" r="1.3" fill="#0e5a48"/><circle cx="247.20" cy="285.80" r="1.3" fill="#0e5a48"/><circle cx="249.90" cy="286.49" r="1.3" fill="#0e5a48"/><circle cx="252.60" cy="287.31" r="1.3" fill="#0e5a48"/><circle cx="255.30" cy="288.10" r="1.3" fill="#0e5a48"/><circle cx="258.00" cy="288.70" r="1.3" fill="#0e5a48"/><circle cx="260.70" cy="288.93" r="1.3" fill="#0e5a48"/><circle cx="263.40" cy="288.91" r="1.3" fill="#0e5a48"/><circle cx="266.10" cy="288.87" r="1.3" fill="#0e5a48"/><circle cx="268.80" cy="288.80" r="1.3" fill="#0e5a48"/><circle cx="271.50" cy="288.72" r="1.3" fill="#0e5a48"/><circle cx="274.20" cy="288.63" r="1.3" fill="#0e5a48"/><circle cx="276.90" cy="288.54" r="1.3" fill="#0e5a48"/><circle cx="279.60" cy="288.44" r="1.3" fill="#0e5a48"/><circle cx="282.30" cy="288.30" r="1.3" fill="#0e5a48"/><circle cx="285.00" cy="288.15" r="1.3" fill="#0e5a48"/><circle cx="287.70" cy="288.02" r="1.3" fill="#0e5a48"/><circle cx="290.40" cy="287.93" r="1.3" fill="#0e5a48"/><circle cx="293.10" cy="287.89" r="1.3" fill="#0e5a48"/><circle cx="295.80" cy="287.89" r="1.3" fill="#0e5a48"/><circle cx="298.50" cy="287.89" r="1.3" fill="#0e5a48"/><circle cx="301.20" cy="287.89" r="1.3" fill="#0e5a48"/><circle cx="303.90" cy="287.89" r="1.3" fill="#0e5a48"/><circle cx="306.60" cy="287.89" r="1.3" fill="#0e5a48"/><circle cx="309.30" cy="287.89" r="1.3" fill="#0e5a48"/></g>
<g><path d="M228.30 297.42V302.64M227.30 297.42h2.00M227.30 302.64h2.00" stroke="#3f1f5f" stroke-width="0.5" stroke-opacity="0.6" fill="none"/><path d="M231.00 287.35V292.57M230.00 287.35h2.00M230.00 292.57h2.00" stroke="#3f1f5f" stroke-width="0.5" stroke-opacity="0.6" fill="none"/><path d="M233.70 284.11V289.33M232.70 284.11h2.00M232.70 289.33h2.00" stroke="#3f1f5f" stroke-width="0.5" stroke-opacity="0.6" fill="none"/><path d="M236.40 282.80V288.02M235.40 282.80h2.00M235.40 288.02h2.00" stroke="#3f1f5f" stroke-width="0.5" stroke-opacity="0.6" fill="none"/><path d="M239.10 282.28V287.50M238.10 282.28h2.00M238.10 287.50h2.00" stroke="#3f1f5f" stroke-width="0.5" stroke-opacity="0.6" fill="none"/><path d="M241.80 282.84V288.06M240.80 282.84h2.00M240.80 288.06h2.00" stroke="#3f1f5f" stroke-width="0.5" stroke-opacity="0.6" fill="none"/><path d="M244.50 283.71V288.93M243.50 283.71h2.00M243.50 288.93h2.00" stroke="#3f1f5f" stroke-width="0.5" stroke-opacity="0.6" fill="none"/><path d="M247.20 284.38V289.60M246.20 284.38h2.00M246.20 289.60h2.00" stroke="#3f1f5f" stroke-width="0.5" stroke-opacity="0.6" fill="none"/><path d="M249.90 285.03V290.25M248.90 285.03h2.00M248.90 290.25h2.00" stroke="#3f1f5f" stroke-width="0.5" stroke-opacity="0.6" fill="none"/><path d="M252.60 285.67V290.89M251.60 285.67h2.00M251.60 290.89h2.00" stroke="#3f1f5f" stroke-width="0.5" stroke-opacity="0.6" fill="none"/><path d="M255.30 286.42V291.64M254.30 286.42h2.00M254.30 291.64h2.00" stroke="#3f1f5f" stroke-width="0.5" stroke-opacity="0.6" fill="none"/><path d="M258.00 287.16V292.38M257.00 287.16h2.00M257.00 292.38h2.00" stroke="#3f1f5f" stroke-width="0.5" stroke-opacity="0.6" fill="none"/><path d="M260.70 287.50V292.72M259.70 287.50h2.00M259.70 292.72h2.00" stroke="#3f1f5f" stroke-width="0.5" stroke-opacity="0.6" fill="none"/><path d="M263.40 287.50V292.72M262.40 287.50h2.00M262.40 292.72h2.00" stroke="#3f1f5f" stroke-width="0.5" stroke-opacity="0.6" fill="none"/><path d="M266.10 287.50V292.72M265.10 287.50h2.00M265.10 292.72h2.00" stroke="#3f1f5f" stroke-width="0.5" stroke-opacity="0.6" fill="none"/><path d="M268.80 287.50V292.72M267.80 287.50h2.00M267.80 292.72h2.00" stroke="#3f1f5f" stroke-width="0.5" stroke-opacity="0.6" fill="none"/><path d="M271.50 287.50V292.72M270.50 287.50h2.00M270.50 292.72h2.00" stroke="#3f1f5f" stroke-width="0.5" stroke-opacity="0.6" fill="none"/><path d="M274.20 287.50V292.72M273.20 287.50h2.00M273.20 292.72h2.00" stroke="#3f1f5f" stroke-width="0.5" stroke-opacity="0.6" fill="none"/><path d="M276.90 287.50V292.72M275.90 287.50h2.00M275.90 292.72h2.00" stroke="#3f1f5f" stroke-width="0.5" stroke-opacity="0.6" fill="none"/><path d="M279.60 287.46V292.68M278.60 287.46h2.00M278.60 292.68h2.00" stroke="#3f1f5f" stroke-width="0.5" stroke-opacity="0.6" fill="none"/><path d="M282.30 287.36V292.58M281.30 287.36h2.00M281.30 292.58h2.00" stroke="#3f1f5f" stroke-width="0.5" stroke-opacity="0.6" fill="none"/><path d="M285.00 287.24V292.46M284.00 287.24h2.00M284.00 292.46h2.00" stroke="#3f1f5f" stroke-width="0.5" stroke-opacity="0.6" fill="none"/><path d="M287.70 287.11V292.33M286.70 287.11h2.00M286.70 292.33h2.00" stroke="#3f1f5f" stroke-width="0.5" stroke-opacity="0.6" fill="none"/><path d="M290.40 287.01V292.23M289.40 287.01h2.00M289.40 292.23h2.00" stroke="#3f1f5f" stroke-width="0.5" stroke-opacity="0.6" fill="none"/><path d="M293.10 286.98V292.20M292.10 286.98h2.00M292.10 292.20h2.00" stroke="#3f1f5f" stroke-width="0.5" stroke-opacity="0.6" fill="none"/><path d="M295.80 286.99V292.21M294.80 286.99h2.00M294.80 292.21h2.00" stroke="#3f1f5f" stroke-width="0.5" stroke-opacity="0.6" fill="none"/><path d="M298.50 287.02V292.24M297.50 287.02h2.00M297.50 292.24h2.00" stroke="#3f1f5f" stroke-width="0.5" stroke-opacity="0.6" fill="none"/><path d="M301.20 287.08V292.30M300.20 287.08h2.00M300.20 292.30h2.00" stroke="#3f1f5f" stroke-width="0.5" stroke-opacity="0.6" fill="none"/><path d="M303.90 287.17V292.39M302.90 287.17h2.00M302.90 292.39h2.00" stroke="#3f1f5f" stroke-width="0.5" stroke-opacity="0.6" fill="none"/><path d="M306.60 287.28V292.50M305.60 287.28h2.00M305.60 292.50h2.00" stroke="#3f1f5f" stroke-width="0.5" stroke-opacity="0.6" fill="none"/><path d="M309.30 287.42V292.64M308.30 287.42h2.00M308.30 292.64h2.00" stroke="#3f1f5f" stroke-width="0.5" stroke-opacity="0.6" fill="none"/><polyline points="228.30,300.03 231.00,289.96 233.70,286.72 236.40,285.41 239.10,284.89 241.80,285.45 244.50,286.32 247.20,286.99 249.90,287.64 252.60,288.28 255.30,289.03 258.00,289.77 260.70,290.11 263.40,290.11 266.10,290.11 268.80,290.11 271.50,290.11 274.20,290.11 276.90,290.11 279.60,290.07 282.30,289.97 285.00,289.85 287.70,289.72 290.40,289.62 293.10,289.59 295.80,289.60 298.50,289.63 301.20,289.69 303.90,289.78 306.60,289.89 309.30,290.03" fill="none" stroke="#3f1f5f" stroke-width="0.7"/><circle cx="228.30" cy="300.03" r="1.25" fill="#3f1f5f"/><circle cx="231.00" cy="289.96" r="1.25" fill="#3f1f5f"/><circle cx="233.70" cy="286.72" r="1.25" fill="#3f1f5f"/><circle cx="236.40" cy="285.41" r="1.25" fill="#3f1f5f"/><circle cx="239.10" cy="284.89" r="1.25" fill="#3f1f5f"/><circle cx="241.80" cy="285.45" r="1.25" fill="#3f1f5f"/><circle cx="244.50" cy="286.32" r="1.25" fill="#3f1f5f"/><circle cx="247.20" cy="286.99" r="1.25" fill="#3f1f5f"/><circle cx="249.90" cy="287.64" r="1.25" fill="#3f1f5f"/><circle cx="252.60" cy="288.28" r="1.25" fill="#3f1f5f"/><circle cx="255.30" cy="289.03" r="1.25" fill="#3f1f5f"/><circle cx="258.00" cy="289.77" r="1.25" fill="#3f1f5f"/><circle cx="260.70" cy="290.11" r="1.25" fill="#3f1f5f"/><circle cx="263.40" cy="290.11" r="1.25" fill="#3f1f5f"/><circle cx="266.10" cy="290.11" r="1.25" fill="#3f1f5f"/><circle cx="268.80" cy="290.11" r="1.25" fill="#3f1f5f"/><circle cx="271.50" cy="290.11" r="1.25" fill="#3f1f5f"/><circle cx="274.20" cy="290.11" r="1.25" fill="#3f1f5f"/><circle cx="276.90" cy="290.11" r="1.25" fill="#3f1f5f"/><circle cx="279.60" cy="290.07" r="1.25" fill="#3f1f5f"/><circle cx="282.30" cy="289.97" r="1.25" fill="#3f1f5f"/><circle cx="285.00" cy="289.85" r="1.25" fill="#3f1f5f"/><circle cx="287.70" cy="289.72" r="1.25" fill="#3f1f5f"/><circle cx="290.40" cy="289.62" r="1.25" fill="#3f1f5f"/><circle cx="293.10" cy="289.59" r="1.25" fill="#3f1f5f"/><circle cx="295.80" cy="289.60" r="1.25" fill="#3f1f5f"/><circle cx="298.50" cy="289.63" r="1.25" fill="#3f1f5f"/><circle cx="301.20" cy="289.69" r="1.25" fill="#3f1f5f"/><circle cx="303.90" cy="289.78" r="1.25" fill="#3f1f5f"/><circle cx="306.60" cy="289.89" r="1.25" fill="#3f1f5f"/><circle cx="309.30" cy="290.03" r="1.25" fill="#3f1f5f"/></g>
<g><path d="M228.30 292.20V302.11M227.30 292.20h2.00M227.30 302.11h2.00" stroke="#c8102e" stroke-width="0.5" stroke-opacity="0.7" fill="none"/><path d="M231.00 279.90V289.82M230.00 279.90h2.00M230.00 289.82h2.00" stroke="#c8102e" stroke-width="0.5" stroke-opacity="0.7" fill="none"/><path d="M233.70 275.90V285.82M232.70 275.90h2.00M232.70 285.82h2.00" stroke="#c8102e" stroke-width="0.5" stroke-opacity="0.7" fill="none"/><path d="M236.40 270.66V280.58M235.40 270.66h2.00M235.40 280.58h2.00" stroke="#c8102e" stroke-width="0.5" stroke-opacity="0.7" fill="none"/><path d="M239.10 268.31V278.23M238.10 268.31h2.00M238.10 278.23h2.00" stroke="#c8102e" stroke-width="0.5" stroke-opacity="0.7" fill="none"/><path d="M241.80 268.31V278.23M240.80 268.31h2.00M240.80 278.23h2.00" stroke="#c8102e" stroke-width="0.5" stroke-opacity="0.7" fill="none"/><path d="M244.50 268.97V278.88M243.50 268.97h2.00M243.50 278.88h2.00" stroke="#c8102e" stroke-width="0.5" stroke-opacity="0.7" fill="none"/><path d="M247.20 269.55V279.46M246.20 269.55h2.00M246.20 279.46h2.00" stroke="#c8102e" stroke-width="0.5" stroke-opacity="0.7" fill="none"/><path d="M249.90 270.08V280.00M248.90 270.08h2.00M248.90 280.00h2.00" stroke="#c8102e" stroke-width="0.5" stroke-opacity="0.7" fill="none"/><path d="M252.60 270.66V280.58M251.60 270.66h2.00M251.60 280.58h2.00" stroke="#c8102e" stroke-width="0.5" stroke-opacity="0.7" fill="none"/><path d="M255.30 271.37V281.29M254.30 271.37h2.00M254.30 281.29h2.00" stroke="#c8102e" stroke-width="0.5" stroke-opacity="0.7" fill="none"/><path d="M258.00 272.13V282.05M257.00 272.13h2.00M257.00 282.05h2.00" stroke="#c8102e" stroke-width="0.5" stroke-opacity="0.7" fill="none"/><path d="M260.70 272.75V282.67M259.70 272.75h2.00M259.70 282.67h2.00" stroke="#c8102e" stroke-width="0.5" stroke-opacity="0.7" fill="none"/><path d="M263.40 273.18V283.10M262.40 273.18h2.00M262.40 283.10h2.00" stroke="#c8102e" stroke-width="0.5" stroke-opacity="0.7" fill="none"/><path d="M266.10 273.53V283.45M265.10 273.53h2.00M265.10 283.45h2.00" stroke="#c8102e" stroke-width="0.5" stroke-opacity="0.7" fill="none"/><path d="M268.80 273.84V283.76M267.80 273.84h2.00M267.80 283.76h2.00" stroke="#c8102e" stroke-width="0.5" stroke-opacity="0.7" fill="none"/><path d="M271.50 274.13V284.05M270.50 274.13h2.00M270.50 284.05h2.00" stroke="#c8102e" stroke-width="0.5" stroke-opacity="0.7" fill="none"/><path d="M274.20 274.46V284.37M273.20 274.46h2.00M273.20 284.37h2.00" stroke="#c8102e" stroke-width="0.5" stroke-opacity="0.7" fill="none"/><path d="M276.90 274.84V284.76M275.90 274.84h2.00M275.90 284.76h2.00" stroke="#c8102e" stroke-width="0.5" stroke-opacity="0.7" fill="none"/><path d="M279.60 275.28V285.20M278.60 275.28h2.00M278.60 285.20h2.00" stroke="#c8102e" stroke-width="0.5" stroke-opacity="0.7" fill="none"/><path d="M282.30 275.76V285.68M281.30 275.76h2.00M281.30 285.68h2.00" stroke="#c8102e" stroke-width="0.5" stroke-opacity="0.7" fill="none"/><path d="M285.00 276.28V286.20M284.00 276.28h2.00M284.00 286.20h2.00" stroke="#c8102e" stroke-width="0.5" stroke-opacity="0.7" fill="none"/><path d="M287.70 276.85V286.76M286.70 276.85h2.00M286.70 286.76h2.00" stroke="#c8102e" stroke-width="0.5" stroke-opacity="0.7" fill="none"/><path d="M290.40 277.45V287.37M289.40 277.45h2.00M289.40 287.37h2.00" stroke="#c8102e" stroke-width="0.5" stroke-opacity="0.7" fill="none"/><path d="M293.10 278.10V288.02M292.10 278.10h2.00M292.10 288.02h2.00" stroke="#c8102e" stroke-width="0.5" stroke-opacity="0.7" fill="none"/><path d="M295.80 278.81V288.73M294.80 278.81h2.00M294.80 288.73h2.00" stroke="#c8102e" stroke-width="0.5" stroke-opacity="0.7" fill="none"/><path d="M298.50 279.59V289.51M297.50 279.59h2.00M297.50 289.51h2.00" stroke="#c8102e" stroke-width="0.5" stroke-opacity="0.7" fill="none"/><path d="M301.20 280.44V290.36M300.20 280.44h2.00M300.20 290.36h2.00" stroke="#c8102e" stroke-width="0.5" stroke-opacity="0.7" fill="none"/><path d="M303.90 281.35V291.27M302.90 281.35h2.00M302.90 291.27h2.00" stroke="#c8102e" stroke-width="0.5" stroke-opacity="0.7" fill="none"/><path d="M306.60 282.32V292.24M305.60 282.32h2.00M305.60 292.24h2.00" stroke="#c8102e" stroke-width="0.5" stroke-opacity="0.7" fill="none"/><path d="M309.30 283.34V293.26M308.30 283.34h2.00M308.30 293.26h2.00" stroke="#c8102e" stroke-width="0.5" stroke-opacity="0.7" fill="none"/><polyline points="228.30,297.15 231.00,284.86 233.70,280.86 236.40,275.62 239.10,273.27 241.80,273.27 244.50,273.93 247.20,274.50 249.90,275.04 252.60,275.62 255.30,276.33 258.00,277.09 260.70,277.71 263.40,278.14 266.10,278.49 268.80,278.80 271.50,279.09 274.20,279.42 276.90,279.80 279.60,280.24 282.30,280.72 285.00,281.24 287.70,281.81 290.40,282.41 293.10,283.06 295.80,283.77 298.50,284.55 301.20,285.40 303.90,286.31 306.60,287.28 309.30,288.30" fill="none" stroke="#c8102e" stroke-width="0.7"/><circle cx="228.30" cy="297.15" r="1.2" fill="#c8102e"/><circle cx="231.00" cy="284.86" r="1.2" fill="#c8102e"/><circle cx="233.70" cy="280.86" r="1.2" fill="#c8102e"/><circle cx="236.40" cy="275.62" r="1.2" fill="#c8102e"/><circle cx="239.10" cy="273.27" r="1.2" fill="#c8102e"/><circle cx="241.80" cy="273.27" r="1.2" fill="#c8102e"/><circle cx="244.50" cy="273.93" r="1.2" fill="#c8102e"/><circle cx="247.20" cy="274.50" r="1.2" fill="#c8102e"/><circle cx="249.90" cy="275.04" r="1.2" fill="#c8102e"/><circle cx="252.60" cy="275.62" r="1.2" fill="#c8102e"/><circle cx="255.30" cy="276.33" r="1.2" fill="#c8102e"/><circle cx="258.00" cy="277.09" r="1.2" fill="#c8102e"/><circle cx="260.70" cy="277.71" r="1.2" fill="#c8102e"/><circle cx="263.40" cy="278.14" r="1.2" fill="#c8102e"/><circle cx="266.10" cy="278.49" r="1.2" fill="#c8102e"/><circle cx="268.80" cy="278.80" r="1.2" fill="#c8102e"/><circle cx="271.50" cy="279.09" r="1.2" fill="#c8102e"/><circle cx="274.20" cy="279.42" r="1.2" fill="#c8102e"/><circle cx="276.90" cy="279.80" r="1.2" fill="#c8102e"/><circle cx="279.60" cy="280.24" r="1.2" fill="#c8102e"/><circle cx="282.30" cy="280.72" r="1.2" fill="#c8102e"/><circle cx="285.00" cy="281.24" r="1.2" fill="#c8102e"/><circle cx="287.70" cy="281.81" r="1.2" fill="#c8102e"/><circle cx="290.40" cy="282.41" r="1.2" fill="#c8102e"/><circle cx="293.10" cy="283.06" r="1.2" fill="#c8102e"/><circle cx="295.80" cy="283.77" r="1.2" fill="#c8102e"/><circle cx="298.50" cy="284.55" r="1.2" fill="#c8102e"/><circle cx="301.20" cy="285.40" r="1.2" fill="#c8102e"/><circle cx="303.90" cy="286.31" r="1.2" fill="#c8102e"/><circle cx="306.60" cy="287.28" r="1.2" fill="#c8102e"/><circle cx="309.30" cy="288.30" r="1.2" fill="#c8102e"/></g>
<line x1="242.80" y1="351.80" x2="251.80" y2="351.80" stroke="#24557f" stroke-width="0.8" stroke-opacity="1.0"/>
<circle cx="247.30" cy="351.80" r="1.4" fill="#24557f"/>
<text x="254.90" y="354.15" font-size="6.6" text-anchor="start" font-weight="normal" font-style="normal" fill="#231f20" stroke="#231f20" stroke-width="0.18" textLength="9.5" lengthAdjust="spacingAndGlyphs">HC</text>
<line x1="242.80" y1="361.60" x2="251.80" y2="361.60" stroke="#c8102e" stroke-width="0.8" stroke-opacity="1.0"/>
<circle cx="247.30" cy="361.60" r="1.4" fill="#c8102e"/>
<text x="254.90" y="363.95" font-size="6.6" text-anchor="start" font-weight="normal" font-style="normal" fill="#231f20" stroke="#231f20" stroke-width="0.18" textLength="19.0" lengthAdjust="spacingAndGlyphs">HI HC</text>
<line x1="242.80" y1="372.00" x2="251.80" y2="372.00" stroke="#3f1f5f" stroke-width="0.8" stroke-opacity="1.0"/>
<circle cx="247.30" cy="372.00" r="1.4" fill="#3f1f5f"/>
<text x="254.90" y="374.35" font-size="6.6" text-anchor="start" font-weight="normal" font-style="normal" fill="#231f20" stroke="#231f20" stroke-width="0.18" textLength="62.3" lengthAdjust="spacingAndGlyphs">HC + 1.56 μg/mL ecu</text>
<line x1="242.80" y1="382.40" x2="251.80" y2="382.40" stroke="#0e5a48" stroke-width="0.8" stroke-opacity="1.0"/>
<circle cx="247.30" cy="382.40" r="1.4" fill="#0e5a48"/>
<text x="254.90" y="384.75" font-size="6.6" text-anchor="start" font-weight="normal" font-style="normal" fill="#231f20" stroke="#231f20" stroke-width="0.18" textLength="62.3" lengthAdjust="spacingAndGlyphs">HC + 3.13 μg/mL ecu</text>
<line x1="242.80" y1="392.60" x2="251.80" y2="392.60" stroke="#c9c9c9" stroke-width="0.8" stroke-opacity="1.0"/>
<circle cx="247.30" cy="392.60" r="1.4" fill="#c9c9c9"/>
<text x="254.90" y="394.95" font-size="6.6" text-anchor="start" font-weight="normal" font-style="normal" fill="#231f20" stroke="#231f20" stroke-width="0.18" textLength="62.3" lengthAdjust="spacingAndGlyphs">HC + 6.25 μg/mL ecu</text>
<line x1="242.80" y1="403.00" x2="251.80" y2="403.00" stroke="#f2a11f" stroke-width="0.8" stroke-opacity="1.0"/>
<circle cx="247.30" cy="403.00" r="1.4" fill="#f2a11f"/>
<text x="254.90" y="405.35" font-size="6.6" text-anchor="start" font-weight="normal" font-style="normal" fill="#231f20" stroke="#231f20" stroke-width="0.18" textLength="62.3" lengthAdjust="spacingAndGlyphs">HC + 12.5 μg/mL ecu</text>
<line x1="242.80" y1="413.40" x2="251.80" y2="413.40" stroke="#9d8fd6" stroke-width="0.8" stroke-opacity="1.0"/>
<circle cx="247.30" cy="413.40" r="1.4" fill="#9d8fd6"/>
<text x="254.90" y="415.75" font-size="6.6" text-anchor="start" font-weight="normal" font-style="normal" fill="#231f20" stroke="#231f20" stroke-width="0.18" textLength="57.0" lengthAdjust="spacingAndGlyphs">HC + 25 μg/mL ecu</text>
<line x1="242.80" y1="423.80" x2="251.80" y2="423.80" stroke="#4daf4a" stroke-width="0.8" stroke-opacity="1.0"/>
<circle cx="247.30" cy="423.80" r="1.4" fill="#4daf4a"/>
<text x="254.90" y="426.15" font-size="6.6" text-anchor="start" font-weight="normal" font-style="normal" fill="#231f20" stroke="#231f20" stroke-width="0.18" textLength="57.0" lengthAdjust="spacingAndGlyphs">HC + 50 μg/mL ecu</text>
<text x="360.00" y="218.25" font-size="12" font-weight="bold" fill="#231f20" stroke="#231f20" stroke-width="0.45">F</text>
<text x="452.8" y="241.9" font-size="9.2" text-anchor="middle" fill="#231f20" stroke="#231f20" stroke-width="0.12" textLength="59.0" lengthAdjust="spacingAndGlyphs">HC on <tspan font-style="italic">PIGAKO</tspan></text>
<line x1="400.00" y1="248.60" x2="400.00" y2="320.00" stroke="#231f20" stroke-width="1.5" stroke-opacity="1.0"/>
<line x1="399.30" y1="319.30" x2="504.50" y2="319.30" stroke="#231f20" stroke-width="1.5" stroke-opacity="1.0"/>
<line x1="397.00" y1="319.30" x2="400.00" y2="319.30" stroke="#231f20" stroke-width="0.9" stroke-opacity="1.0"/>
<text x="393.80" y="321.70" font-size="6.7" text-anchor="end" font-weight="normal" font-style="normal" fill="#231f20" stroke="#231f20" stroke-width="0.18" textLength="3.58" lengthAdjust="spacingAndGlyphs">0</text>
<line x1="397.00" y1="305.60" x2="400.00" y2="305.60" stroke="#231f20" stroke-width="0.9" stroke-opacity="1.0"/>
<text x="393.80" y="308.00" font-size="6.7" text-anchor="end" font-weight="normal" font-style="normal" fill="#231f20" stroke="#231f20" stroke-width="0.18" textLength="17.9" lengthAdjust="spacingAndGlyphs">50000</text>
<line x1="397.00" y1="291.90" x2="400.00" y2="291.90" stroke="#231f20" stroke-width="0.9" stroke-opacity="1.0"/>
<text x="393.80" y="294.30" font-size="6.7" text-anchor="end" font-weight="normal" font-style="normal" fill="#231f20" stroke="#231f20" stroke-width="0.18" textLength="21.48" lengthAdjust="spacingAndGlyphs">100000</text>
<line x1="397.00" y1="278.20" x2="400.00" y2="278.20" stroke="#231f20" stroke-width="0.9" stroke-opacity="1.0"/>
<text x="393.80" y="280.60" font-size="6.7" text-anchor="end" font-weight="normal" font-style="normal" fill="#231f20" stroke="#231f20" stroke-width="0.18" textLength="21.48" lengthAdjust="spacingAndGlyphs">150000</text>
<line x1="397.00" y1="264.50" x2="400.00" y2="264.50" stroke="#231f20" stroke-width="0.9" stroke-opacity="1.0"/>
<text x="393.80" y="266.90" font-size="6.7" text-anchor="end" font-weight="normal" font-style="normal" fill="#231f20" stroke="#231f20" stroke-width="0.18" textLength="21.48" lengthAdjust="spacingAndGlyphs">200000</text>
<line x1="397.00" y1="250.80" x2="400.00" y2="250.80" stroke="#231f20" stroke-width="0.9" stroke-opacity="1.0"/>
<text x="393.80" y="253.20" font-size="6.7" text-anchor="end" font-weight="normal" font-style="normal" fill="#231f20" stroke="#231f20" stroke-width="0.18" textLength="21.48" lengthAdjust="spacingAndGlyphs">250000</text>
<line x1="400.00" y1="319.30" x2="400.00" y2="322.30" stroke="#231f20" stroke-width="0.9" stroke-opacity="1.0"/>
<text x="400.00" y="331.30" font-size="6.6" text-anchor="middle" font-weight="normal" font-style="normal" fill="#231f20" stroke="#231f20" stroke-width="0.18" textLength="21.7" lengthAdjust="spacingAndGlyphs">0:00:00</text>
<line x1="434.20" y1="319.30" x2="434.20" y2="322.30" stroke="#231f20" stroke-width="0.9" stroke-opacity="1.0"/>
<text x="434.20" y="331.30" font-size="6.6" text-anchor="middle" font-weight="normal" font-style="normal" fill="#231f20" stroke="#231f20" stroke-width="0.18" textLength="21.7" lengthAdjust="spacingAndGlyphs">1:00:00</text>
<line x1="468.40" y1="319.30" x2="468.40" y2="322.30" stroke="#231f20" stroke-width="0.9" stroke-opacity="1.0"/>
<text x="468.40" y="331.30" font-size="6.6" text-anchor="middle" font-weight="normal" font-style="normal" fill="#231f20" stroke="#231f20" stroke-width="0.18" textLength="21.7" lengthAdjust="spacingAndGlyphs">2:00:00</text>
<line x1="502.60" y1="319.30" x2="502.60" y2="322.30" stroke="#231f20" stroke-width="0.9" stroke-opacity="1.0"/>
<text x="502.60" y="331.30" font-size="6.6" text-anchor="middle" font-weight="normal" font-style="normal" fill="#231f20" stroke="#231f20" stroke-width="0.18" textLength="21.7" lengthAdjust="spacingAndGlyphs">3:00:00</text>
<text x="367.50" y="284.50" font-size="9.2" text-anchor="middle" font-weight="normal" font-style="normal" fill="#231f20" stroke="#231f20" stroke-width="0.3" textLength="11" lengthAdjust="spacingAndGlyphs" transform="rotate(-90 367.5 284.5)">RLU</text>
<text x="452.80" y="343.00" font-size="8.5" text-anchor="middle" font-weight="normal" font-style="normal" fill="#231f20" stroke="#231f20" stroke-width="0.3" textLength="24.5" lengthAdjust="spacingAndGlyphs">Time (h)</text>
<g><path d="M400.00 286.15V288.34M399.00 286.15h2.00M399.00 288.34h2.00" stroke="#1d3f68" stroke-width="0.5" stroke-opacity="0.6" fill="none"/><path d="M402.85 285.32V287.52M401.85 285.32h2.00M401.85 287.52h2.00" stroke="#1d3f68" stroke-width="0.5" stroke-opacity="0.6" fill="none"/><path d="M405.70 285.50V287.71M404.70 285.50h2.00M404.70 287.71h2.00" stroke="#1d3f68" stroke-width="0.5" stroke-opacity="0.6" fill="none"/><path d="M408.55 285.85V288.08M407.55 285.85h2.00M407.55 288.08h2.00" stroke="#1d3f68" stroke-width="0.5" stroke-opacity="0.6" fill="none"/><path d="M411.40 286.29V288.55M410.40 286.29h2.00M410.40 288.55h2.00" stroke="#1d3f68" stroke-width="0.5" stroke-opacity="0.6" fill="none"/><path d="M414.25 286.85V289.15M413.25 286.85h2.00M413.25 289.15h2.00" stroke="#1d3f68" stroke-width="0.5" stroke-opacity="0.6" fill="none"/><path d="M417.10 287.44V289.78M416.10 287.44h2.00M416.10 289.78h2.00" stroke="#1d3f68" stroke-width="0.5" stroke-opacity="0.6" fill="none"/><path d="M419.95 288.16V290.56M418.95 288.16h2.00M418.95 290.56h2.00" stroke="#1d3f68" stroke-width="0.5" stroke-opacity="0.6" fill="none"/><path d="M422.80 289.03V291.48M421.80 289.03h2.00M421.80 291.48h2.00" stroke="#1d3f68" stroke-width="0.5" stroke-opacity="0.6" fill="none"/><path d="M425.65 289.86V292.37M424.65 289.86h2.00M424.65 292.37h2.00" stroke="#1d3f68" stroke-width="0.5" stroke-opacity="0.6" fill="none"/><path d="M428.50 290.43V293.02M427.50 290.43h2.00M427.50 293.02h2.00" stroke="#1d3f68" stroke-width="0.5" stroke-opacity="0.6" fill="none"/><path d="M431.35 290.57V293.23M430.35 290.57h2.00M430.35 293.23h2.00" stroke="#1d3f68" stroke-width="0.5" stroke-opacity="0.6" fill="none"/><path d="M434.20 290.53V293.27M433.20 290.53h2.00M433.20 293.27h2.00" stroke="#1d3f68" stroke-width="0.5" stroke-opacity="0.6" fill="none"/><path d="M437.05 290.45V293.35M436.05 290.45h2.00M436.05 293.35h2.00" stroke="#1d3f68" stroke-width="0.5" stroke-opacity="0.6" fill="none"/><path d="M439.90 290.30V293.50M438.90 290.30h2.00M438.90 293.50h2.00" stroke="#1d3f68" stroke-width="0.5" stroke-opacity="0.6" fill="none"/><path d="M442.75 289.67V293.28M441.75 289.67h2.00M441.75 293.28h2.00" stroke="#1d3f68" stroke-width="0.5" stroke-opacity="0.6" fill="none"/><path d="M445.60 288.33V292.44M444.60 288.33h2.00M444.60 292.44h2.00" stroke="#1d3f68" stroke-width="0.5" stroke-opacity="0.6" fill="none"/><path d="M448.45 286.69V291.36M447.45 286.69h2.00M447.45 291.36h2.00" stroke="#1d3f68" stroke-width="0.5" stroke-opacity="0.6" fill="none"/><path d="M451.30 285.15V290.43M450.30 285.15h2.00M450.30 290.43h2.00" stroke="#1d3f68" stroke-width="0.5" stroke-opacity="0.6" fill="none"/><path d="M454.15 283.73V289.62M453.15 283.73h2.00M453.15 289.62h2.00" stroke="#1d3f68" stroke-width="0.5" stroke-opacity="0.6" fill="none"/><path d="M457.00 282.23V288.71M456.00 282.23h2.00M456.00 288.71h2.00" stroke="#1d3f68" stroke-width="0.5" stroke-opacity="0.6" fill="none"/><path d="M459.85 280.74V287.78M458.85 280.74h2.00M458.85 287.78h2.00" stroke="#1d3f68" stroke-width="0.5" stroke-opacity="0.6" fill="none"/><path d="M462.70 279.37V286.90M461.70 279.37h2.00M461.70 286.90h2.00" stroke="#1d3f68" stroke-width="0.5" stroke-opacity="0.6" fill="none"/><path d="M465.55 278.22V286.15M464.55 278.22h2.00M464.55 286.15h2.00" stroke="#1d3f68" stroke-width="0.5" stroke-opacity="0.6" fill="none"/><path d="M468.40 277.38V285.60M467.40 277.38h2.00M467.40 285.60h2.00" stroke="#1d3f68" stroke-width="0.5" stroke-opacity="0.6" fill="none"/><path d="M471.25 276.73V285.17M470.25 276.73h2.00M470.25 285.17h2.00" stroke="#1d3f68" stroke-width="0.5" stroke-opacity="0.6" fill="none"/><path d="M474.10 276.15V284.80M473.10 276.15h2.00M473.10 284.80h2.00" stroke="#1d3f68" stroke-width="0.5" stroke-opacity="0.6" fill="none"/><path d="M476.95 275.74V284.61M475.95 275.74h2.00M475.95 284.61h2.00" stroke="#1d3f68" stroke-width="0.5" stroke-opacity="0.6" fill="none"/><path d="M479.80 275.59V284.65M478.80 275.59h2.00M478.80 284.65h2.00" stroke="#1d3f68" stroke-width="0.5" stroke-opacity="0.6" fill="none"/><path d="M482.65 275.50V284.75M481.65 275.50h2.00M481.65 284.75h2.00" stroke="#1d3f68" stroke-width="0.5" stroke-opacity="0.6" fill="none"/><path d="M485.50 275.46V284.86M484.50 275.46h2.00M484.50 284.86h2.00" stroke="#1d3f68" stroke-width="0.5" stroke-opacity="0.6" fill="none"/><path d="M488.35 275.46V285.01M487.35 275.46h2.00M487.35 285.01h2.00" stroke="#1d3f68" stroke-width="0.5" stroke-opacity="0.6" fill="none"/><path d="M491.20 275.54V285.21M490.20 275.54h2.00M490.20 285.21h2.00" stroke="#1d3f68" stroke-width="0.5" stroke-opacity="0.6" fill="none"/><path d="M494.05 275.71V285.48M493.05 275.71h2.00M493.05 285.48h2.00" stroke="#1d3f68" stroke-width="0.5" stroke-opacity="0.6" fill="none"/><path d="M496.90 275.99V285.83M495.90 275.99h2.00M495.90 285.83h2.00" stroke="#1d3f68" stroke-width="0.5" stroke-opacity="0.6" fill="none"/><path d="M499.75 276.41V286.27M498.75 276.41h2.00M498.75 286.27h2.00" stroke="#1d3f68" stroke-width="0.5" stroke-opacity="0.6" fill="none"/><polyline points="400.00,287.24 402.85,286.42 405.70,286.61 408.55,286.97 411.40,287.42 414.25,288.00 417.10,288.61 419.95,289.36 422.80,290.26 425.65,291.11 428.50,291.72 431.35,291.90 434.20,291.90 437.05,291.90 439.90,291.90 442.75,291.48 445.60,290.39 448.45,289.03 451.30,287.79 454.15,286.67 457.00,285.47 459.85,284.26 462.70,283.14 465.55,282.18 468.40,281.49 471.25,280.95 474.10,280.48 476.95,280.17 479.80,280.12 482.65,280.13 485.50,280.16 488.35,280.24 491.20,280.38 494.05,280.59 496.90,280.91 499.75,281.34" fill="none" stroke="#1d3f68" stroke-width="0.7"/><circle cx="400.00" cy="287.24" r="1.3" fill="#1d3f68"/><circle cx="402.85" cy="286.42" r="1.3" fill="#1d3f68"/><circle cx="405.70" cy="286.61" r="1.3" fill="#1d3f68"/><circle cx="408.55" cy="286.97" r="1.3" fill="#1d3f68"/><circle cx="411.40" cy="287.42" r="1.3" fill="#1d3f68"/><circle cx="414.25" cy="288.00" r="1.3" fill="#1d3f68"/><circle cx="417.10" cy="288.61" r="1.3" fill="#1d3f68"/><circle cx="419.95" cy="289.36" r="1.3" fill="#1d3f68"/><circle cx="422.80" cy="290.26" r="1.3" fill="#1d3f68"/><circle cx="425.65" cy="291.11" r="1.3" fill="#1d3f68"/><circle cx="428.50" cy="291.72" r="1.3" fill="#1d3f68"/><circle cx="431.35" cy="291.90" r="1.3" fill="#1d3f68"/><circle cx="434.20" cy="291.90" r="1.3" fill="#1d3f68"/><circle cx="437.05" cy="291.90" r="1.3" fill="#1d3f68"/><circle cx="439.90" cy="291.90" r="1.3" fill="#1d3f68"/><circle cx="442.75" cy="291.48" r="1.3" fill="#1d3f68"/><circle cx="445.60" cy="290.39" r="1.3" fill="#1d3f68"/><circle cx="448.45" cy="289.03" r="1.3" fill="#1d3f68"/><circle cx="451.30" cy="287.79" r="1.3" fill="#1d3f68"/><circle cx="454.15" cy="286.67" r="1.3" fill="#1d3f68"/><circle cx="457.00" cy="285.47" r="1.3" fill="#1d3f68"/><circle cx="459.85" cy="284.26" r="1.3" fill="#1d3f68"/><circle cx="462.70" cy="283.14" r="1.3" fill="#1d3f68"/><circle cx="465.55" cy="282.18" r="1.3" fill="#1d3f68"/><circle cx="468.40" cy="281.49" r="1.3" fill="#1d3f68"/><circle cx="471.25" cy="280.95" r="1.3" fill="#1d3f68"/><circle cx="474.10" cy="280.48" r="1.3" fill="#1d3f68"/><circle cx="476.95" cy="280.17" r="1.3" fill="#1d3f68"/><circle cx="479.80" cy="280.12" r="1.3" fill="#1d3f68"/><circle cx="482.65" cy="280.13" r="1.3" fill="#1d3f68"/><circle cx="485.50" cy="280.16" r="1.3" fill="#1d3f68"/><circle cx="488.35" cy="280.24" r="1.3" fill="#1d3f68"/><circle cx="491.20" cy="280.38" r="1.3" fill="#1d3f68"/><circle cx="494.05" cy="280.59" r="1.3" fill="#1d3f68"/><circle cx="496.90" cy="280.91" r="1.3" fill="#1d3f68"/><circle cx="499.75" cy="281.34" r="1.3" fill="#1d3f68"/></g>
<g><path d="M400.00 286.97V289.16M399.00 286.97h2.00M399.00 289.16h2.00" stroke="#4daf4a" stroke-width="0.5" stroke-opacity="0.6" fill="none"/><path d="M402.85 283.95V286.14M401.85 283.95h2.00M401.85 286.14h2.00" stroke="#4daf4a" stroke-width="0.5" stroke-opacity="0.6" fill="none"/><path d="M405.70 282.96V285.17M404.70 282.96h2.00M404.70 285.17h2.00" stroke="#4daf4a" stroke-width="0.5" stroke-opacity="0.6" fill="none"/><path d="M408.55 282.56V284.80M407.55 282.56h2.00M407.55 284.80h2.00" stroke="#4daf4a" stroke-width="0.5" stroke-opacity="0.6" fill="none"/><path d="M411.40 282.81V285.07M410.40 282.81h2.00M410.40 285.07h2.00" stroke="#4daf4a" stroke-width="0.5" stroke-opacity="0.6" fill="none"/><path d="M414.25 283.35V285.66M413.25 283.35h2.00M413.25 285.66h2.00" stroke="#4daf4a" stroke-width="0.5" stroke-opacity="0.6" fill="none"/><path d="M417.10 283.87V286.23M416.10 283.87h2.00M416.10 286.23h2.00" stroke="#4daf4a" stroke-width="0.5" stroke-opacity="0.6" fill="none"/><path d="M419.95 284.33V286.74M418.95 284.33h2.00M418.95 286.74h2.00" stroke="#4daf4a" stroke-width="0.5" stroke-opacity="0.6" fill="none"/><path d="M422.80 284.83V287.29M421.80 284.83h2.00M421.80 287.29h2.00" stroke="#4daf4a" stroke-width="0.5" stroke-opacity="0.6" fill="none"/><path d="M425.65 285.28V287.80M424.65 285.28h2.00M424.65 287.80h2.00" stroke="#4daf4a" stroke-width="0.5" stroke-opacity="0.6" fill="none"/><path d="M428.50 285.58V288.17M427.50 285.58h2.00M427.50 288.17h2.00" stroke="#4daf4a" stroke-width="0.5" stroke-opacity="0.6" fill="none"/><path d="M431.35 285.63V288.30M430.35 285.63h2.00M430.35 288.30h2.00" stroke="#4daf4a" stroke-width="0.5" stroke-opacity="0.6" fill="none"/><path d="M434.20 285.56V288.30M433.20 285.56h2.00M433.20 288.30h2.00" stroke="#4daf4a" stroke-width="0.5" stroke-opacity="0.6" fill="none"/><path d="M437.05 285.41V288.26M436.05 285.41h2.00M436.05 288.26h2.00" stroke="#4daf4a" stroke-width="0.5" stroke-opacity="0.6" fill="none"/><path d="M439.90 285.19V288.21M438.90 285.19h2.00M438.90 288.21h2.00" stroke="#4daf4a" stroke-width="0.5" stroke-opacity="0.6" fill="none"/><path d="M442.75 284.54V287.76M441.75 284.54h2.00M441.75 287.76h2.00" stroke="#4daf4a" stroke-width="0.5" stroke-opacity="0.6" fill="none"/><path d="M445.60 283.26V286.72M444.60 283.26h2.00M444.60 286.72h2.00" stroke="#4daf4a" stroke-width="0.5" stroke-opacity="0.6" fill="none"/><path d="M448.45 281.71V285.45M447.45 281.71h2.00M447.45 285.45h2.00" stroke="#4daf4a" stroke-width="0.5" stroke-opacity="0.6" fill="none"/><path d="M451.30 280.30V284.32M450.30 280.30h2.00M450.30 284.32h2.00" stroke="#4daf4a" stroke-width="0.5" stroke-opacity="0.6" fill="none"/><path d="M454.15 279.05V283.36M453.15 279.05h2.00M453.15 283.36h2.00" stroke="#4daf4a" stroke-width="0.5" stroke-opacity="0.6" fill="none"/><path d="M457.00 277.76V282.36M456.00 277.76h2.00M456.00 282.36h2.00" stroke="#4daf4a" stroke-width="0.5" stroke-opacity="0.6" fill="none"/><path d="M459.85 276.50V281.37M458.85 276.50h2.00M458.85 281.37h2.00" stroke="#4daf4a" stroke-width="0.5" stroke-opacity="0.6" fill="none"/><path d="M462.70 275.30V280.41M461.70 275.30h2.00M461.70 280.41h2.00" stroke="#4daf4a" stroke-width="0.5" stroke-opacity="0.6" fill="none"/><path d="M465.55 274.21V279.52M464.55 274.21h2.00M464.55 279.52h2.00" stroke="#4daf4a" stroke-width="0.5" stroke-opacity="0.6" fill="none"/><path d="M468.40 273.27V278.75M467.40 273.27h2.00M467.40 278.75h2.00" stroke="#4daf4a" stroke-width="0.5" stroke-opacity="0.6" fill="none"/><path d="M471.25 272.37V277.99M470.25 272.37h2.00M470.25 277.99h2.00" stroke="#4daf4a" stroke-width="0.5" stroke-opacity="0.6" fill="none"/><path d="M474.10 271.47V277.22M473.10 271.47h2.00M473.10 277.22h2.00" stroke="#4daf4a" stroke-width="0.5" stroke-opacity="0.6" fill="none"/><path d="M476.95 270.68V276.55M475.95 270.68h2.00M475.95 276.55h2.00" stroke="#4daf4a" stroke-width="0.5" stroke-opacity="0.6" fill="none"/><path d="M479.80 270.14V276.13M478.80 270.14h2.00M478.80 276.13h2.00" stroke="#4daf4a" stroke-width="0.5" stroke-opacity="0.6" fill="none"/><path d="M482.65 269.94V276.05M481.65 269.94h2.00M481.65 276.05h2.00" stroke="#4daf4a" stroke-width="0.5" stroke-opacity="0.6" fill="none"/><path d="M485.50 269.89V276.10M484.50 269.89h2.00M484.50 276.10h2.00" stroke="#4daf4a" stroke-width="0.5" stroke-opacity="0.6" fill="none"/><path d="M488.35 269.87V276.18M487.35 269.87h2.00M487.35 276.18h2.00" stroke="#4daf4a" stroke-width="0.5" stroke-opacity="0.6" fill="none"/><path d="M491.20 269.90V276.29M490.20 269.90h2.00M490.20 276.29h2.00" stroke="#4daf4a" stroke-width="0.5" stroke-opacity="0.6" fill="none"/><path d="M494.05 269.99V276.45M493.05 269.99h2.00M493.05 276.45h2.00" stroke="#4daf4a" stroke-width="0.5" stroke-opacity="0.6" fill="none"/><path d="M496.90 270.16V276.68M495.90 270.16h2.00M495.90 276.68h2.00" stroke="#4daf4a" stroke-width="0.5" stroke-opacity="0.6" fill="none"/><path d="M499.75 270.43V277.00M498.75 270.43h2.00M498.75 277.00h2.00" stroke="#4daf4a" stroke-width="0.5" stroke-opacity="0.6" fill="none"/><polyline points="400.00,288.06 402.85,285.05 405.70,284.06 408.55,283.68 411.40,283.94 414.25,284.50 417.10,285.05 419.95,285.53 422.80,286.06 425.65,286.54 428.50,286.87 431.35,286.97 434.20,286.93 437.05,286.83 439.90,286.70 442.75,286.15 445.60,284.99 448.45,283.58 451.30,282.31 454.15,281.20 457.00,280.06 459.85,278.93 462.70,277.85 465.55,276.87 468.40,276.01 471.25,275.18 474.10,274.34 476.95,273.62 479.80,273.13 482.65,272.99 485.50,273.00 488.35,273.03 491.20,273.09 494.05,273.22 496.90,273.42 499.75,273.71" fill="none" stroke="#4daf4a" stroke-width="0.7"/><circle cx="400.00" cy="288.06" r="1.3" fill="#4daf4a"/><circle cx="402.85" cy="285.05" r="1.3" fill="#4daf4a"/><circle cx="405.70" cy="284.06" r="1.3" fill="#4daf4a"/><circle cx="408.55" cy="283.68" r="1.3" fill="#4daf4a"/><circle cx="411.40" cy="283.94" r="1.3" fill="#4daf4a"/><circle cx="414.25" cy="284.50" r="1.3" fill="#4daf4a"/><circle cx="417.10" cy="285.05" r="1.3" fill="#4daf4a"/><circle cx="419.95" cy="285.53" r="1.3" fill="#4daf4a"/><circle cx="422.80" cy="286.06" r="1.3" fill="#4daf4a"/><circle cx="425.65" cy="286.54" r="1.3" fill="#4daf4a"/><circle cx="428.50" cy="286.87" r="1.3" fill="#4daf4a"/><circle cx="431.35" cy="286.97" r="1.3" fill="#4daf4a"/><circle cx="434.20" cy="286.93" r="1.3" fill="#4daf4a"/><circle cx="437.05" cy="286.83" r="1.3" fill="#4daf4a"/><circle cx="439.90" cy="286.70" r="1.3" fill="#4daf4a"/><circle cx="442.75" cy="286.15" r="1.3" fill="#4daf4a"/><circle cx="445.60" cy="284.99" r="1.3" fill="#4daf4a"/><circle cx="448.45" cy="283.58" r="1.3" fill="#4daf4a"/><circle cx="451.30" cy="282.31" r="1.3" fill="#4daf4a"/><circle cx="454.15" cy="281.20" r="1.3" fill="#4daf4a"/><circle cx="457.00" cy="280.06" r="1.3" fill="#4daf4a"/><circle cx="459.85" cy="278.93" r="1.3" fill="#4daf4a"/><circle cx="462.70" cy="277.85" r="1.3" fill="#4daf4a"/><circle cx="465.55" cy="276.87" r="1.3" fill="#4daf4a"/><circle cx="468.40" cy="276.01" r="1.3" fill="#4daf4a"/><circle cx="471.25" cy="275.18" r="1.3" fill="#4daf4a"/><circle cx="474.10" cy="274.34" r="1.3" fill="#4daf4a"/><circle cx="476.95" cy="273.62" r="1.3" fill="#4daf4a"/><circle cx="479.80" cy="273.13" r="1.3" fill="#4daf4a"/><circle cx="482.65" cy="272.99" r="1.3" fill="#4daf4a"/><circle cx="485.50" cy="273.00" r="1.3" fill="#4daf4a"/><circle cx="488.35" cy="273.03" r="1.3" fill="#4daf4a"/><circle cx="491.20" cy="273.09" r="1.3" fill="#4daf4a"/><circle cx="494.05" cy="273.22" r="1.3" fill="#4daf4a"/><circle cx="496.90" cy="273.42" r="1.3" fill="#4daf4a"/><circle cx="499.75" cy="273.71" r="1.3" fill="#4daf4a"/></g>
<g><path d="M400.00 287.24V289.98M399.00 287.24h2.00M399.00 289.98h2.00" stroke="#f2a11f" stroke-width="0.5" stroke-opacity="0.4" fill="none"/><path d="M402.85 281.75V284.49M401.85 281.75h2.00M401.85 284.49h2.00" stroke="#f2a11f" stroke-width="0.5" stroke-opacity="0.4" fill="none"/><path d="M405.70 278.06V280.80M404.70 278.06h2.00M404.70 280.80h2.00" stroke="#f2a11f" stroke-width="0.5" stroke-opacity="0.4" fill="none"/><path d="M408.55 276.28V279.02M407.55 276.28h2.00M407.55 279.02h2.00" stroke="#f2a11f" stroke-width="0.5" stroke-opacity="0.4" fill="none"/><path d="M411.40 276.44V279.18M410.40 276.44h2.00M410.40 279.18h2.00" stroke="#f2a11f" stroke-width="0.5" stroke-opacity="0.4" fill="none"/><path d="M414.25 276.79V279.53M413.25 276.79h2.00M413.25 279.53h2.00" stroke="#f2a11f" stroke-width="0.5" stroke-opacity="0.4" fill="none"/><path d="M417.10 277.16V279.90M416.10 277.16h2.00M416.10 279.90h2.00" stroke="#f2a11f" stroke-width="0.5" stroke-opacity="0.4" fill="none"/><path d="M419.95 277.37V280.11M418.95 277.37h2.00M418.95 280.11h2.00" stroke="#f2a11f" stroke-width="0.5" stroke-opacity="0.4" fill="none"/><path d="M422.80 277.38V280.12M421.80 277.38h2.00M421.80 280.12h2.00" stroke="#f2a11f" stroke-width="0.5" stroke-opacity="0.4" fill="none"/><path d="M425.65 277.38V280.12M424.65 277.38h2.00M424.65 280.12h2.00" stroke="#f2a11f" stroke-width="0.5" stroke-opacity="0.4" fill="none"/><path d="M428.50 277.38V280.12M427.50 277.38h2.00M427.50 280.12h2.00" stroke="#f2a11f" stroke-width="0.5" stroke-opacity="0.4" fill="none"/><path d="M431.35 277.38V280.12M430.35 277.38h2.00M430.35 280.12h2.00" stroke="#f2a11f" stroke-width="0.5" stroke-opacity="0.4" fill="none"/><path d="M434.20 277.38V280.12M433.20 277.38h2.00M433.20 280.12h2.00" stroke="#f2a11f" stroke-width="0.5" stroke-opacity="0.4" fill="none"/><path d="M437.05 277.31V280.05M436.05 277.31h2.00M436.05 280.05h2.00" stroke="#f2a11f" stroke-width="0.5" stroke-opacity="0.4" fill="none"/><path d="M439.90 277.13V279.87M438.90 277.13h2.00M438.90 279.87h2.00" stroke="#f2a11f" stroke-width="0.5" stroke-opacity="0.4" fill="none"/><path d="M442.75 276.88V279.62M441.75 276.88h2.00M441.75 279.62h2.00" stroke="#f2a11f" stroke-width="0.5" stroke-opacity="0.4" fill="none"/><path d="M445.60 276.63V279.37M444.60 276.63h2.00M444.60 279.37h2.00" stroke="#f2a11f" stroke-width="0.5" stroke-opacity="0.4" fill="none"/><path d="M448.45 276.41V279.15M447.45 276.41h2.00M447.45 279.15h2.00" stroke="#f2a11f" stroke-width="0.5" stroke-opacity="0.4" fill="none"/><path d="M451.30 276.28V279.02M450.30 276.28h2.00M450.30 279.02h2.00" stroke="#f2a11f" stroke-width="0.5" stroke-opacity="0.4" fill="none"/><path d="M454.15 276.21V278.95M453.15 276.21h2.00M453.15 278.95h2.00" stroke="#f2a11f" stroke-width="0.5" stroke-opacity="0.4" fill="none"/><path d="M457.00 276.15V278.89M456.00 276.15h2.00M456.00 278.89h2.00" stroke="#f2a11f" stroke-width="0.5" stroke-opacity="0.4" fill="none"/><path d="M459.85 276.09V278.83M458.85 276.09h2.00M458.85 278.83h2.00" stroke="#f2a11f" stroke-width="0.5" stroke-opacity="0.4" fill="none"/><path d="M462.70 276.05V278.79M461.70 276.05h2.00M461.70 278.79h2.00" stroke="#f2a11f" stroke-width="0.5" stroke-opacity="0.4" fill="none"/><path d="M465.55 276.02V278.76M464.55 276.02h2.00M464.55 278.76h2.00" stroke="#f2a11f" stroke-width="0.5" stroke-opacity="0.4" fill="none"/><path d="M468.40 276.01V278.75M467.40 276.01h2.00M467.40 278.75h2.00" stroke="#f2a11f" stroke-width="0.5" stroke-opacity="0.4" fill="none"/><path d="M471.25 276.04V278.78M470.25 276.04h2.00M470.25 278.78h2.00" stroke="#f2a11f" stroke-width="0.5" stroke-opacity="0.4" fill="none"/><path d="M474.10 276.12V278.86M473.10 276.12h2.00M473.10 278.86h2.00" stroke="#f2a11f" stroke-width="0.5" stroke-opacity="0.4" fill="none"/><path d="M476.95 276.26V279.00M475.95 276.26h2.00M475.95 279.00h2.00" stroke="#f2a11f" stroke-width="0.5" stroke-opacity="0.4" fill="none"/><path d="M479.80 276.44V279.18M478.80 276.44h2.00M478.80 279.18h2.00" stroke="#f2a11f" stroke-width="0.5" stroke-opacity="0.4" fill="none"/><path d="M482.65 276.68V279.42M481.65 276.68h2.00M481.65 279.42h2.00" stroke="#f2a11f" stroke-width="0.5" stroke-opacity="0.4" fill="none"/><path d="M485.50 276.95V279.69M484.50 276.95h2.00M484.50 279.69h2.00" stroke="#f2a11f" stroke-width="0.5" stroke-opacity="0.4" fill="none"/><path d="M488.35 277.27V280.01M487.35 277.27h2.00M487.35 280.01h2.00" stroke="#f2a11f" stroke-width="0.5" stroke-opacity="0.4" fill="none"/><path d="M491.20 277.63V280.37M490.20 277.63h2.00M490.20 280.37h2.00" stroke="#f2a11f" stroke-width="0.5" stroke-opacity="0.4" fill="none"/><path d="M494.05 278.02V280.76M493.05 278.02h2.00M493.05 280.76h2.00" stroke="#f2a11f" stroke-width="0.5" stroke-opacity="0.4" fill="none"/><path d="M496.90 278.44V281.18M495.90 278.44h2.00M495.90 281.18h2.00" stroke="#f2a11f" stroke-width="0.5" stroke-opacity="0.4" fill="none"/><path d="M499.75 278.89V281.63M498.75 278.89h2.00M498.75 281.63h2.00" stroke="#f2a11f" stroke-width="0.5" stroke-opacity="0.4" fill="none"/><polyline points="400.00,288.61 402.85,283.12 405.70,279.43 408.55,277.65 411.40,277.81 414.25,278.16 417.10,278.53 419.95,278.74 422.80,278.75 425.65,278.75 428.50,278.75 431.35,278.75 434.20,278.75 437.05,278.68 439.90,278.50 442.75,278.25 445.60,278.00 448.45,277.78 451.30,277.65 454.15,277.58 457.00,277.52 459.85,277.46 462.70,277.42 465.55,277.39 468.40,277.38 471.25,277.41 474.10,277.49 476.95,277.63 479.80,277.81 482.65,278.05 485.50,278.32 488.35,278.64 491.20,279.00 494.05,279.39 496.90,279.81 499.75,280.26" fill="none" stroke="#f2a11f" stroke-width="0.6"/><circle cx="400.00" cy="288.61" r="0.9" fill="#f2a11f"/><circle cx="402.85" cy="283.12" r="0.9" fill="#f2a11f"/><circle cx="405.70" cy="279.43" r="0.9" fill="#f2a11f"/><circle cx="408.55" cy="277.65" r="0.9" fill="#f2a11f"/><circle cx="411.40" cy="277.81" r="0.9" fill="#f2a11f"/><circle cx="414.25" cy="278.16" r="0.9" fill="#f2a11f"/><circle cx="417.10" cy="278.53" r="0.9" fill="#f2a11f"/><circle cx="419.95" cy="278.74" r="0.9" fill="#f2a11f"/><circle cx="422.80" cy="278.75" r="0.9" fill="#f2a11f"/><circle cx="425.65" cy="278.75" r="0.9" fill="#f2a11f"/><circle cx="428.50" cy="278.75" r="0.9" fill="#f2a11f"/><circle cx="431.35" cy="278.75" r="0.9" fill="#f2a11f"/><circle cx="434.20" cy="278.75" r="0.9" fill="#f2a11f"/><circle cx="437.05" cy="278.68" r="0.9" fill="#f2a11f"/><circle cx="439.90" cy="278.50" r="0.9" fill="#f2a11f"/><circle cx="442.75" cy="278.25" r="0.9" fill="#f2a11f"/><circle cx="445.60" cy="278.00" r="0.9" fill="#f2a11f"/><circle cx="448.45" cy="277.78" r="0.9" fill="#f2a11f"/><circle cx="451.30" cy="277.65" r="0.9" fill="#f2a11f"/><circle cx="454.15" cy="277.58" r="0.9" fill="#f2a11f"/><circle cx="457.00" cy="277.52" r="0.9" fill="#f2a11f"/><circle cx="459.85" cy="277.46" r="0.9" fill="#f2a11f"/><circle cx="462.70" cy="277.42" r="0.9" fill="#f2a11f"/><circle cx="465.55" cy="277.39" r="0.9" fill="#f2a11f"/><circle cx="468.40" cy="277.38" r="0.9" fill="#f2a11f"/><circle cx="471.25" cy="277.41" r="0.9" fill="#f2a11f"/><circle cx="474.10" cy="277.49" r="0.9" fill="#f2a11f"/><circle cx="476.95" cy="277.63" r="0.9" fill="#f2a11f"/><circle cx="479.80" cy="277.81" r="0.9" fill="#f2a11f"/><circle cx="482.65" cy="278.05" r="0.9" fill="#f2a11f"/><circle cx="485.50" cy="278.32" r="0.9" fill="#f2a11f"/><circle cx="488.35" cy="278.64" r="0.9" fill="#f2a11f"/><circle cx="491.20" cy="279.00" r="0.9" fill="#f2a11f"/><circle cx="494.05" cy="279.39" r="0.9" fill="#f2a11f"/><circle cx="496.90" cy="279.81" r="0.9" fill="#f2a11f"/><circle cx="499.75" cy="280.26" r="0.9" fill="#f2a11f"/></g>
<g><path d="M400.00 285.32V291.90M399.00 285.32h2.00M399.00 291.90h2.00" stroke="#9d8fd6" stroke-width="0.5" stroke-opacity="0.7" fill="none"/><path d="M402.85 278.18V284.76M401.85 278.18h2.00M401.85 284.76h2.00" stroke="#9d8fd6" stroke-width="0.5" stroke-opacity="0.7" fill="none"/><path d="M405.70 274.41V280.99M404.70 274.41h2.00M404.70 280.99h2.00" stroke="#9d8fd6" stroke-width="0.5" stroke-opacity="0.7" fill="none"/><path d="M408.55 272.72V279.30M407.55 272.72h2.00M407.55 279.30h2.00" stroke="#9d8fd6" stroke-width="0.5" stroke-opacity="0.7" fill="none"/><path d="M411.40 273.06V279.64M410.40 273.06h2.00M410.40 279.64h2.00" stroke="#9d8fd6" stroke-width="0.5" stroke-opacity="0.7" fill="none"/><path d="M414.25 273.86V280.43M413.25 273.86h2.00M413.25 280.43h2.00" stroke="#9d8fd6" stroke-width="0.5" stroke-opacity="0.7" fill="none"/><path d="M417.10 274.75V281.32M416.10 274.75h2.00M416.10 281.32h2.00" stroke="#9d8fd6" stroke-width="0.5" stroke-opacity="0.7" fill="none"/><path d="M419.95 275.39V281.97M418.95 275.39h2.00M418.95 281.97h2.00" stroke="#9d8fd6" stroke-width="0.5" stroke-opacity="0.7" fill="none"/><path d="M422.80 275.67V282.25M421.80 275.67h2.00M421.80 282.25h2.00" stroke="#9d8fd6" stroke-width="0.5" stroke-opacity="0.7" fill="none"/><path d="M425.65 275.91V282.49M424.65 275.91h2.00M424.65 282.49h2.00" stroke="#9d8fd6" stroke-width="0.5" stroke-opacity="0.7" fill="none"/><path d="M428.50 276.11V282.68M427.50 276.11h2.00M427.50 282.68h2.00" stroke="#9d8fd6" stroke-width="0.5" stroke-opacity="0.7" fill="none"/><path d="M431.35 276.24V282.81M430.35 276.24h2.00M430.35 282.81h2.00" stroke="#9d8fd6" stroke-width="0.5" stroke-opacity="0.7" fill="none"/><path d="M434.20 276.28V282.86M433.20 276.28h2.00M433.20 282.86h2.00" stroke="#9d8fd6" stroke-width="0.5" stroke-opacity="0.7" fill="none"/><path d="M437.05 276.20V282.78M436.05 276.20h2.00M436.05 282.78h2.00" stroke="#9d8fd6" stroke-width="0.5" stroke-opacity="0.7" fill="none"/><path d="M439.90 276.00V282.58M438.90 276.00h2.00M438.90 282.58h2.00" stroke="#9d8fd6" stroke-width="0.5" stroke-opacity="0.7" fill="none"/><path d="M442.75 275.73V282.30M441.75 275.73h2.00M441.75 282.30h2.00" stroke="#9d8fd6" stroke-width="0.5" stroke-opacity="0.7" fill="none"/><path d="M445.60 275.42V282.00M444.60 275.42h2.00M444.60 282.00h2.00" stroke="#9d8fd6" stroke-width="0.5" stroke-opacity="0.7" fill="none"/><path d="M448.45 275.13V281.71M447.45 275.13h2.00M447.45 281.71h2.00" stroke="#9d8fd6" stroke-width="0.5" stroke-opacity="0.7" fill="none"/><path d="M451.30 274.91V281.49M450.30 274.91h2.00M450.30 281.49h2.00" stroke="#9d8fd6" stroke-width="0.5" stroke-opacity="0.7" fill="none"/><path d="M454.15 274.73V281.31M453.15 274.73h2.00M453.15 281.31h2.00" stroke="#9d8fd6" stroke-width="0.5" stroke-opacity="0.7" fill="none"/><path d="M457.00 274.55V281.12M456.00 274.55h2.00M456.00 281.12h2.00" stroke="#9d8fd6" stroke-width="0.5" stroke-opacity="0.7" fill="none"/><path d="M459.85 274.37V280.95M458.85 274.37h2.00M458.85 280.95h2.00" stroke="#9d8fd6" stroke-width="0.5" stroke-opacity="0.7" fill="none"/><path d="M462.70 274.23V280.80M461.70 274.23h2.00M461.70 280.80h2.00" stroke="#9d8fd6" stroke-width="0.5" stroke-opacity="0.7" fill="none"/><path d="M465.55 274.13V280.70M464.55 274.13h2.00M464.55 280.70h2.00" stroke="#9d8fd6" stroke-width="0.5" stroke-opacity="0.7" fill="none"/><path d="M468.40 274.09V280.67M467.40 274.09h2.00M467.40 280.67h2.00" stroke="#9d8fd6" stroke-width="0.5" stroke-opacity="0.7" fill="none"/><path d="M471.25 274.20V280.78M470.25 274.20h2.00M470.25 280.78h2.00" stroke="#9d8fd6" stroke-width="0.5" stroke-opacity="0.7" fill="none"/><path d="M474.10 274.50V281.07M473.10 274.50h2.00M473.10 281.07h2.00" stroke="#9d8fd6" stroke-width="0.5" stroke-opacity="0.7" fill="none"/><path d="M476.95 274.91V281.49M475.95 274.91h2.00M475.95 281.49h2.00" stroke="#9d8fd6" stroke-width="0.5" stroke-opacity="0.7" fill="none"/><path d="M479.80 275.39V281.97M478.80 275.39h2.00M478.80 281.97h2.00" stroke="#9d8fd6" stroke-width="0.5" stroke-opacity="0.7" fill="none"/><path d="M482.65 275.87V282.44M481.65 275.87h2.00M481.65 282.44h2.00" stroke="#9d8fd6" stroke-width="0.5" stroke-opacity="0.7" fill="none"/><path d="M485.50 276.28V282.86M484.50 276.28h2.00M484.50 282.86h2.00" stroke="#9d8fd6" stroke-width="0.5" stroke-opacity="0.7" fill="none"/><path d="M488.35 276.65V283.22M487.35 276.65h2.00M487.35 283.22h2.00" stroke="#9d8fd6" stroke-width="0.5" stroke-opacity="0.7" fill="none"/><path d="M491.20 277.01V283.59M490.20 277.01h2.00M490.20 283.59h2.00" stroke="#9d8fd6" stroke-width="0.5" stroke-opacity="0.7" fill="none"/><path d="M494.05 277.37V283.95M493.05 277.37h2.00M493.05 283.95h2.00" stroke="#9d8fd6" stroke-width="0.5" stroke-opacity="0.7" fill="none"/><path d="M496.90 277.74V284.31M495.90 277.74h2.00M495.90 284.31h2.00" stroke="#9d8fd6" stroke-width="0.5" stroke-opacity="0.7" fill="none"/><path d="M499.75 278.10V284.67M498.75 278.10h2.00M498.75 284.67h2.00" stroke="#9d8fd6" stroke-width="0.5" stroke-opacity="0.7" fill="none"/><polyline points="400.00,288.61 402.85,281.47 405.70,277.70 408.55,276.01 411.40,276.35 414.25,277.14 417.10,278.04 419.95,278.68 422.80,278.96 425.65,279.20 428.50,279.39 431.35,279.52 434.20,279.57 437.05,279.49 439.90,279.29 442.75,279.01 445.60,278.71 448.45,278.42 451.30,278.20 454.15,278.02 457.00,277.83 459.85,277.66 462.70,277.51 465.55,277.42 468.40,277.38 471.25,277.49 474.10,277.78 476.95,278.20 479.80,278.68 482.65,279.15 485.50,279.57 488.35,279.93 491.20,280.30 494.05,280.66 496.90,281.02 499.75,281.39" fill="none" stroke="#9d8fd6" stroke-width="0.6"/><circle cx="400.00" cy="288.61" r="0.95" fill="#9d8fd6"/><circle cx="402.85" cy="281.47" r="0.95" fill="#9d8fd6"/><circle cx="405.70" cy="277.70" r="0.95" fill="#9d8fd6"/><circle cx="408.55" cy="276.01" r="0.95" fill="#9d8fd6"/><circle cx="411.40" cy="276.35" r="0.95" fill="#9d8fd6"/><circle cx="414.25" cy="277.14" r="0.95" fill="#9d8fd6"/><circle cx="417.10" cy="278.04" r="0.95" fill="#9d8fd6"/><circle cx="419.95" cy="278.68" r="0.95" fill="#9d8fd6"/><circle cx="422.80" cy="278.96" r="0.95" fill="#9d8fd6"/><circle cx="425.65" cy="279.20" r="0.95" fill="#9d8fd6"/><circle cx="428.50" cy="279.39" r="0.95" fill="#9d8fd6"/><circle cx="431.35" cy="279.52" r="0.95" fill="#9d8fd6"/><circle cx="434.20" cy="279.57" r="0.95" fill="#9d8fd6"/><circle cx="437.05" cy="279.49" r="0.95" fill="#9d8fd6"/><circle cx="439.90" cy="279.29" r="0.95" fill="#9d8fd6"/><circle cx="442.75" cy="279.01" r="0.95" fill="#9d8fd6"/><circle cx="445.60" cy="278.71" r="0.95" fill="#9d8fd6"/><circle cx="448.45" cy="278.42" r="0.95" fill="#9d8fd6"/><circle cx="451.30" cy="278.20" r="0.95" fill="#9d8fd6"/><circle cx="454.15" cy="278.02" r="0.95" fill="#9d8fd6"/><circle cx="457.00" cy="277.83" r="0.95" fill="#9d8fd6"/><circle cx="459.85" cy="277.66" r="0.95" fill="#9d8fd6"/><circle cx="462.70" cy="277.51" r="0.95" fill="#9d8fd6"/><circle cx="465.55" cy="277.42" r="0.95" fill="#9d8fd6"/><circle cx="468.40" cy="277.38" r="0.95" fill="#9d8fd6"/><circle cx="471.25" cy="277.49" r="0.95" fill="#9d8fd6"/><circle cx="474.10" cy="277.78" r="0.95" fill="#9d8fd6"/><circle cx="476.95" cy="278.20" r="0.95" fill="#9d8fd6"/><circle cx="479.80" cy="278.68" r="0.95" fill="#9d8fd6"/><circle cx="482.65" cy="279.15" r="0.95" fill="#9d8fd6"/><circle cx="485.50" cy="279.57" r="0.95" fill="#9d8fd6"/><circle cx="488.35" cy="279.93" r="0.95" fill="#9d8fd6"/><circle cx="491.20" cy="280.30" r="0.95" fill="#9d8fd6"/><circle cx="494.05" cy="280.66" r="0.95" fill="#9d8fd6"/><circle cx="496.90" cy="281.02" r="0.95" fill="#9d8fd6"/><circle cx="499.75" cy="281.39" r="0.95" fill="#9d8fd6"/></g>
<g><path d="M400.00 286.15V289.43M399.00 286.15h2.00M399.00 289.43h2.00" stroke="#c9c9c9" stroke-width="0.5" stroke-opacity="0.7" fill="none"/><path d="M402.85 278.73V282.02M401.85 278.73h2.00M401.85 282.02h2.00" stroke="#c9c9c9" stroke-width="0.5" stroke-opacity="0.7" fill="none"/><path d="M405.70 274.95V278.23M404.70 274.95h2.00M404.70 278.23h2.00" stroke="#c9c9c9" stroke-width="0.5" stroke-opacity="0.7" fill="none"/><path d="M408.55 273.27V276.56M407.55 273.27h2.00M407.55 276.56h2.00" stroke="#c9c9c9" stroke-width="0.5" stroke-opacity="0.7" fill="none"/><path d="M411.40 273.52V276.81M410.40 273.52h2.00M410.40 276.81h2.00" stroke="#c9c9c9" stroke-width="0.5" stroke-opacity="0.7" fill="none"/><path d="M414.25 274.01V277.30M413.25 274.01h2.00M413.25 277.30h2.00" stroke="#c9c9c9" stroke-width="0.5" stroke-opacity="0.7" fill="none"/><path d="M417.10 274.36V277.65M416.10 274.36h2.00M416.10 277.65h2.00" stroke="#c9c9c9" stroke-width="0.5" stroke-opacity="0.7" fill="none"/><path d="M419.95 274.51V277.80M418.95 274.51h2.00M418.95 277.80h2.00" stroke="#c9c9c9" stroke-width="0.5" stroke-opacity="0.7" fill="none"/><path d="M422.80 274.65V277.93M421.80 274.65h2.00M421.80 277.93h2.00" stroke="#c9c9c9" stroke-width="0.5" stroke-opacity="0.7" fill="none"/><path d="M425.65 274.76V278.04M424.65 274.76h2.00M424.65 278.04h2.00" stroke="#c9c9c9" stroke-width="0.5" stroke-opacity="0.7" fill="none"/><path d="M428.50 274.84V278.13M427.50 274.84h2.00M427.50 278.13h2.00" stroke="#c9c9c9" stroke-width="0.5" stroke-opacity="0.7" fill="none"/><path d="M431.35 274.89V278.18M430.35 274.89h2.00M430.35 278.18h2.00" stroke="#c9c9c9" stroke-width="0.5" stroke-opacity="0.7" fill="none"/><path d="M434.20 274.91V278.20M433.20 274.91h2.00M433.20 278.20h2.00" stroke="#c9c9c9" stroke-width="0.5" stroke-opacity="0.7" fill="none"/><path d="M437.05 274.87V278.16M436.05 274.87h2.00M436.05 278.16h2.00" stroke="#c9c9c9" stroke-width="0.5" stroke-opacity="0.7" fill="none"/><path d="M439.90 274.77V278.06M438.90 274.77h2.00M438.90 278.06h2.00" stroke="#c9c9c9" stroke-width="0.5" stroke-opacity="0.7" fill="none"/><path d="M442.75 274.64V277.93M441.75 274.64h2.00M441.75 277.93h2.00" stroke="#c9c9c9" stroke-width="0.5" stroke-opacity="0.7" fill="none"/><path d="M445.60 274.51V277.79M444.60 274.51h2.00M444.60 277.79h2.00" stroke="#c9c9c9" stroke-width="0.5" stroke-opacity="0.7" fill="none"/><path d="M448.45 274.40V277.69M447.45 274.40h2.00M447.45 277.69h2.00" stroke="#c9c9c9" stroke-width="0.5" stroke-opacity="0.7" fill="none"/><path d="M451.30 274.36V277.65M450.30 274.36h2.00M450.30 277.65h2.00" stroke="#c9c9c9" stroke-width="0.5" stroke-opacity="0.7" fill="none"/><path d="M454.15 274.43V277.71M453.15 274.43h2.00M453.15 277.71h2.00" stroke="#c9c9c9" stroke-width="0.5" stroke-opacity="0.7" fill="none"/><path d="M457.00 274.59V277.88M456.00 274.59h2.00M456.00 277.88h2.00" stroke="#c9c9c9" stroke-width="0.5" stroke-opacity="0.7" fill="none"/><path d="M459.85 274.84V278.13M458.85 274.84h2.00M458.85 278.13h2.00" stroke="#c9c9c9" stroke-width="0.5" stroke-opacity="0.7" fill="none"/><path d="M462.70 275.13V278.42M461.70 275.13h2.00M461.70 278.42h2.00" stroke="#c9c9c9" stroke-width="0.5" stroke-opacity="0.7" fill="none"/><path d="M465.55 275.44V278.73M464.55 275.44h2.00M464.55 278.73h2.00" stroke="#c9c9c9" stroke-width="0.5" stroke-opacity="0.7" fill="none"/><path d="M468.40 275.73V279.02M467.40 275.73h2.00M467.40 279.02h2.00" stroke="#c9c9c9" stroke-width="0.5" stroke-opacity="0.7" fill="none"/><path d="M471.25 276.05V279.34M470.25 276.05h2.00M470.25 279.34h2.00" stroke="#c9c9c9" stroke-width="0.5" stroke-opacity="0.7" fill="none"/><path d="M474.10 276.42V279.71M473.10 276.42h2.00M473.10 279.71h2.00" stroke="#c9c9c9" stroke-width="0.5" stroke-opacity="0.7" fill="none"/><path d="M476.95 276.81V280.10M475.95 276.81h2.00M475.95 280.10h2.00" stroke="#c9c9c9" stroke-width="0.5" stroke-opacity="0.7" fill="none"/><path d="M479.80 277.21V280.50M478.80 277.21h2.00M478.80 280.50h2.00" stroke="#c9c9c9" stroke-width="0.5" stroke-opacity="0.7" fill="none"/><path d="M482.65 277.59V280.88M481.65 277.59h2.00M481.65 280.88h2.00" stroke="#c9c9c9" stroke-width="0.5" stroke-opacity="0.7" fill="none"/><path d="M485.50 277.93V281.21M484.50 277.93h2.00M484.50 281.21h2.00" stroke="#c9c9c9" stroke-width="0.5" stroke-opacity="0.7" fill="none"/><path d="M488.35 278.22V281.51M487.35 278.22h2.00M487.35 281.51h2.00" stroke="#c9c9c9" stroke-width="0.5" stroke-opacity="0.7" fill="none"/><path d="M491.20 278.50V281.79M490.20 278.50h2.00M490.20 281.79h2.00" stroke="#c9c9c9" stroke-width="0.5" stroke-opacity="0.7" fill="none"/><path d="M494.05 278.76V282.05M493.05 278.76h2.00M493.05 282.05h2.00" stroke="#c9c9c9" stroke-width="0.5" stroke-opacity="0.7" fill="none"/><path d="M496.90 279.01V282.30M495.90 279.01h2.00M495.90 282.30h2.00" stroke="#c9c9c9" stroke-width="0.5" stroke-opacity="0.7" fill="none"/><path d="M499.75 279.24V282.52M498.75 279.24h2.00M498.75 282.52h2.00" stroke="#c9c9c9" stroke-width="0.5" stroke-opacity="0.7" fill="none"/><polyline points="400.00,287.79 402.85,280.38 405.70,276.59 408.55,274.91 411.40,275.16 414.25,275.65 417.10,276.01 419.95,276.16 422.80,276.29 425.65,276.40 428.50,276.48 431.35,276.54 434.20,276.56 437.05,276.52 439.90,276.41 442.75,276.28 445.60,276.15 448.45,276.05 451.30,276.01 454.15,276.07 457.00,276.24 459.85,276.48 462.70,276.77 465.55,277.08 468.40,277.38 471.25,277.69 474.10,278.06 476.95,278.46 479.80,278.86 482.65,279.24 485.50,279.57 488.35,279.87 491.20,280.15 494.05,280.41 496.90,280.65 499.75,280.88" fill="none" stroke="#c9c9c9" stroke-width="0.6"/><circle cx="400.00" cy="287.79" r="0.95" fill="#c9c9c9"/><circle cx="402.85" cy="280.38" r="0.95" fill="#c9c9c9"/><circle cx="405.70" cy="276.59" r="0.95" fill="#c9c9c9"/><circle cx="408.55" cy="274.91" r="0.95" fill="#c9c9c9"/><circle cx="411.40" cy="275.16" r="0.95" fill="#c9c9c9"/><circle cx="414.25" cy="275.65" r="0.95" fill="#c9c9c9"/><circle cx="417.10" cy="276.01" r="0.95" fill="#c9c9c9"/><circle cx="419.95" cy="276.16" r="0.95" fill="#c9c9c9"/><circle cx="422.80" cy="276.29" r="0.95" fill="#c9c9c9"/><circle cx="425.65" cy="276.40" r="0.95" fill="#c9c9c9"/><circle cx="428.50" cy="276.48" r="0.95" fill="#c9c9c9"/><circle cx="431.35" cy="276.54" r="0.95" fill="#c9c9c9"/><circle cx="434.20" cy="276.56" r="0.95" fill="#c9c9c9"/><circle cx="437.05" cy="276.52" r="0.95" fill="#c9c9c9"/><circle cx="439.90" cy="276.41" r="0.95" fill="#c9c9c9"/><circle cx="442.75" cy="276.28" r="0.95" fill="#c9c9c9"/><circle cx="445.60" cy="276.15" r="0.95" fill="#c9c9c9"/><circle cx="448.45" cy="276.05" r="0.95" fill="#c9c9c9"/><circle cx="451.30" cy="276.01" r="0.95" fill="#c9c9c9"/><circle cx="454.15" cy="276.07" r="0.95" fill="#c9c9c9"/><circle cx="457.00" cy="276.24" r="0.95" fill="#c9c9c9"/><circle cx="459.85" cy="276.48" r="0.95" fill="#c9c9c9"/><circle cx="462.70" cy="276.77" r="0.95" fill="#c9c9c9"/><circle cx="465.55" cy="277.08" r="0.95" fill="#c9c9c9"/><circle cx="468.40" cy="277.38" r="0.95" fill="#c9c9c9"/><circle cx="471.25" cy="277.69" r="0.95" fill="#c9c9c9"/><circle cx="474.10" cy="278.06" r="0.95" fill="#c9c9c9"/><circle cx="476.95" cy="278.46" r="0.95" fill="#c9c9c9"/><circle cx="479.80" cy="278.86" r="0.95" fill="#c9c9c9"/><circle cx="482.65" cy="279.24" r="0.95" fill="#c9c9c9"/><circle cx="485.50" cy="279.57" r="0.95" fill="#c9c9c9"/><circle cx="488.35" cy="279.87" r="0.95" fill="#c9c9c9"/><circle cx="491.20" cy="280.15" r="0.95" fill="#c9c9c9"/><circle cx="494.05" cy="280.41" r="0.95" fill="#c9c9c9"/><circle cx="496.90" cy="280.65" r="0.95" fill="#c9c9c9"/><circle cx="499.75" cy="280.88" r="0.95" fill="#c9c9c9"/></g>
<g><path d="M400.00 286.42V288.61M399.00 286.42h2.00M399.00 288.61h2.00" stroke="#c8102e" stroke-width="0.5" stroke-opacity="0.8" fill="none"/><path d="M402.85 272.14V274.33M401.85 272.14h2.00M401.85 274.33h2.00" stroke="#c8102e" stroke-width="0.5" stroke-opacity="0.8" fill="none"/><path d="M405.70 266.15V268.35M404.70 266.15h2.00M404.70 268.35h2.00" stroke="#c8102e" stroke-width="0.5" stroke-opacity="0.8" fill="none"/><path d="M408.55 264.77V266.97M407.55 264.77h2.00M407.55 266.97h2.00" stroke="#c8102e" stroke-width="0.5" stroke-opacity="0.8" fill="none"/><path d="M411.40 266.07V268.26M410.40 266.07h2.00M410.40 268.26h2.00" stroke="#c8102e" stroke-width="0.5" stroke-opacity="0.8" fill="none"/><path d="M414.25 267.77V269.96M413.25 267.77h2.00M413.25 269.96h2.00" stroke="#c8102e" stroke-width="0.5" stroke-opacity="0.8" fill="none"/><path d="M417.10 269.05V271.24M416.10 269.05h2.00M416.10 271.24h2.00" stroke="#c8102e" stroke-width="0.5" stroke-opacity="0.8" fill="none"/><path d="M419.95 269.91V272.10M418.95 269.91h2.00M418.95 272.10h2.00" stroke="#c8102e" stroke-width="0.5" stroke-opacity="0.8" fill="none"/><path d="M422.80 270.13V272.32M421.80 270.13h2.00M421.80 272.32h2.00" stroke="#c8102e" stroke-width="0.5" stroke-opacity="0.8" fill="none"/><path d="M425.65 270.26V272.45M424.65 270.26h2.00M424.65 272.45h2.00" stroke="#c8102e" stroke-width="0.5" stroke-opacity="0.8" fill="none"/><path d="M428.50 270.35V272.54M427.50 270.35h2.00M427.50 272.54h2.00" stroke="#c8102e" stroke-width="0.5" stroke-opacity="0.8" fill="none"/><path d="M431.35 270.43V272.62M430.35 270.43h2.00M430.35 272.62h2.00" stroke="#c8102e" stroke-width="0.5" stroke-opacity="0.8" fill="none"/><path d="M434.20 270.53V272.72M433.20 270.53h2.00M433.20 272.72h2.00" stroke="#c8102e" stroke-width="0.5" stroke-opacity="0.8" fill="none"/><path d="M437.05 270.65V272.85M436.05 270.65h2.00M436.05 272.85h2.00" stroke="#c8102e" stroke-width="0.5" stroke-opacity="0.8" fill="none"/><path d="M439.90 270.80V272.99M438.90 270.80h2.00M438.90 272.99h2.00" stroke="#c8102e" stroke-width="0.5" stroke-opacity="0.8" fill="none"/><path d="M442.75 270.96V273.15M441.75 270.96h2.00M441.75 273.15h2.00" stroke="#c8102e" stroke-width="0.5" stroke-opacity="0.8" fill="none"/><path d="M445.60 271.14V273.34M444.60 271.14h2.00M444.60 273.34h2.00" stroke="#c8102e" stroke-width="0.5" stroke-opacity="0.8" fill="none"/><path d="M448.45 271.36V273.55M447.45 271.36h2.00M447.45 273.55h2.00" stroke="#c8102e" stroke-width="0.5" stroke-opacity="0.8" fill="none"/><path d="M451.30 271.62V273.82M450.30 271.62h2.00M450.30 273.82h2.00" stroke="#c8102e" stroke-width="0.5" stroke-opacity="0.8" fill="none"/><path d="M454.15 271.99V274.18M453.15 271.99h2.00M453.15 274.18h2.00" stroke="#c8102e" stroke-width="0.5" stroke-opacity="0.8" fill="none"/><path d="M457.00 272.48V274.67M456.00 272.48h2.00M456.00 274.67h2.00" stroke="#c8102e" stroke-width="0.5" stroke-opacity="0.8" fill="none"/><path d="M459.85 273.06V275.25M458.85 273.06h2.00M458.85 275.25h2.00" stroke="#c8102e" stroke-width="0.5" stroke-opacity="0.8" fill="none"/><path d="M462.70 273.68V275.87M461.70 273.68h2.00M461.70 275.87h2.00" stroke="#c8102e" stroke-width="0.5" stroke-opacity="0.8" fill="none"/><path d="M465.55 274.31V276.51M464.55 274.31h2.00M464.55 276.51h2.00" stroke="#c8102e" stroke-width="0.5" stroke-opacity="0.8" fill="none"/><path d="M468.40 274.91V277.10M467.40 274.91h2.00M467.40 277.10h2.00" stroke="#c8102e" stroke-width="0.5" stroke-opacity="0.8" fill="none"/><path d="M471.25 275.50V277.70M470.25 275.50h2.00M470.25 277.70h2.00" stroke="#c8102e" stroke-width="0.5" stroke-opacity="0.8" fill="none"/><path d="M474.10 276.13V278.32M473.10 276.13h2.00M473.10 278.32h2.00" stroke="#c8102e" stroke-width="0.5" stroke-opacity="0.8" fill="none"/><path d="M476.95 276.76V278.95M475.95 276.76h2.00M475.95 278.95h2.00" stroke="#c8102e" stroke-width="0.5" stroke-opacity="0.8" fill="none"/><path d="M479.80 277.37V279.56M478.80 277.37h2.00M478.80 279.56h2.00" stroke="#c8102e" stroke-width="0.5" stroke-opacity="0.8" fill="none"/><path d="M482.65 277.95V280.14M481.65 277.95h2.00M481.65 280.14h2.00" stroke="#c8102e" stroke-width="0.5" stroke-opacity="0.8" fill="none"/><path d="M485.50 278.47V280.67M484.50 278.47h2.00M484.50 280.67h2.00" stroke="#c8102e" stroke-width="0.5" stroke-opacity="0.8" fill="none"/><path d="M488.35 278.95V281.14M487.35 278.95h2.00M487.35 281.14h2.00" stroke="#c8102e" stroke-width="0.5" stroke-opacity="0.8" fill="none"/><path d="M491.20 279.40V281.59M490.20 279.40h2.00M490.20 281.59h2.00" stroke="#c8102e" stroke-width="0.5" stroke-opacity="0.8" fill="none"/><path d="M494.05 279.82V282.01M493.05 279.82h2.00M493.05 282.01h2.00" stroke="#c8102e" stroke-width="0.5" stroke-opacity="0.8" fill="none"/><path d="M496.90 280.21V282.40M495.90 280.21h2.00M495.90 282.40h2.00" stroke="#c8102e" stroke-width="0.5" stroke-opacity="0.8" fill="none"/><path d="M499.75 280.57V282.76M498.75 280.57h2.00M498.75 282.76h2.00" stroke="#c8102e" stroke-width="0.5" stroke-opacity="0.8" fill="none"/><polyline points="400.00,287.52 402.85,273.23 405.70,267.25 408.55,265.87 411.40,267.16 414.25,268.86 417.10,270.15 419.95,271.01 422.80,271.23 425.65,271.36 428.50,271.44 431.35,271.52 434.20,271.62 437.05,271.75 439.90,271.89 442.75,272.06 445.60,272.24 448.45,272.46 451.30,272.72 454.15,273.09 457.00,273.58 459.85,274.16 462.70,274.78 465.55,275.41 468.40,276.01 471.25,276.60 474.10,277.22 476.95,277.85 479.80,278.47 482.65,279.05 485.50,279.57 488.35,280.05 491.20,280.49 494.05,280.92 496.90,281.31 499.75,281.67" fill="none" stroke="#c8102e" stroke-width="0.7"/><circle cx="400.00" cy="287.52" r="1.3" fill="#c8102e"/><circle cx="402.85" cy="273.23" r="1.3" fill="#c8102e"/><circle cx="405.70" cy="267.25" r="1.3" fill="#c8102e"/><circle cx="408.55" cy="265.87" r="1.3" fill="#c8102e"/><circle cx="411.40" cy="267.16" r="1.3" fill="#c8102e"/><circle cx="414.25" cy="268.86" r="1.3" fill="#c8102e"/><circle cx="417.10" cy="270.15" r="1.3" fill="#c8102e"/><circle cx="419.95" cy="271.01" r="1.3" fill="#c8102e"/><circle cx="422.80" cy="271.23" r="1.3" fill="#c8102e"/><circle cx="425.65" cy="271.36" r="1.3" fill="#c8102e"/><circle cx="428.50" cy="271.44" r="1.3" fill="#c8102e"/><circle cx="431.35" cy="271.52" r="1.3" fill="#c8102e"/><circle cx="434.20" cy="271.62" r="1.3" fill="#c8102e"/><circle cx="437.05" cy="271.75" r="1.3" fill="#c8102e"/><circle cx="439.90" cy="271.89" r="1.3" fill="#c8102e"/><circle cx="442.75" cy="272.06" r="1.3" fill="#c8102e"/><circle cx="445.60" cy="272.24" r="1.3" fill="#c8102e"/><circle cx="448.45" cy="272.46" r="1.3" fill="#c8102e"/><circle cx="451.30" cy="272.72" r="1.3" fill="#c8102e"/><circle cx="454.15" cy="273.09" r="1.3" fill="#c8102e"/><circle cx="457.00" cy="273.58" r="1.3" fill="#c8102e"/><circle cx="459.85" cy="274.16" r="1.3" fill="#c8102e"/><circle cx="462.70" cy="274.78" r="1.3" fill="#c8102e"/><circle cx="465.55" cy="275.41" r="1.3" fill="#c8102e"/><circle cx="468.40" cy="276.01" r="1.3" fill="#c8102e"/><circle cx="471.25" cy="276.60" r="1.3" fill="#c8102e"/><circle cx="474.10" cy="277.22" r="1.3" fill="#c8102e"/><circle cx="476.95" cy="277.85" r="1.3" fill="#c8102e"/><circle cx="479.80" cy="278.47" r="1.3" fill="#c8102e"/><circle cx="482.65" cy="279.05" r="1.3" fill="#c8102e"/><circle cx="485.50" cy="279.57" r="1.3" fill="#c8102e"/><circle cx="488.35" cy="280.05" r="1.3" fill="#c8102e"/><circle cx="491.20" cy="280.49" r="1.3" fill="#c8102e"/><circle cx="494.05" cy="280.92" r="1.3" fill="#c8102e"/><circle cx="496.90" cy="281.31" r="1.3" fill="#c8102e"/><circle cx="499.75" cy="281.67" r="1.3" fill="#c8102e"/></g>
<line x1="419.00" y1="351.60" x2="429.00" y2="351.60" stroke="#1d3f68" stroke-width="0.8" stroke-opacity="1.0"/>
<circle cx="424.00" cy="351.60" r="1.4" fill="#1d3f68"/>
<text x="432.20" y="353.95" font-size="6.6" text-anchor="start" font-weight="normal" font-style="normal" fill="#231f20" stroke="#231f20" stroke-width="0.18" textLength="9.5" lengthAdjust="spacingAndGlyphs">HC</text>
<line x1="419.00" y1="361.30" x2="429.00" y2="361.30" stroke="#c8102e" stroke-width="0.8" stroke-opacity="1.0"/>
<circle cx="424.00" cy="361.30" r="1.4" fill="#c8102e"/>
<text x="432.20" y="363.65" font-size="6.6" text-anchor="start" font-weight="normal" font-style="normal" fill="#231f20" stroke="#231f20" stroke-width="0.18" textLength="19.0" lengthAdjust="spacingAndGlyphs">HI HC</text>
<line x1="419.00" y1="371.80" x2="429.00" y2="371.80" stroke="#4daf4a" stroke-width="0.8" stroke-opacity="1.0"/>
<circle cx="424.00" cy="371.80" r="1.4" fill="#4daf4a"/>
<text x="432.20" y="374.15" font-size="6.6" text-anchor="start" font-weight="normal" font-style="normal" fill="#231f20" stroke="#231f20" stroke-width="0.18" textLength="56.5" lengthAdjust="spacingAndGlyphs">HC + 2.5 μg/mL sut</text>
<line x1="419.00" y1="382.10" x2="429.00" y2="382.10" stroke="#9d8fd6" stroke-width="0.8" stroke-opacity="1.0"/>
<circle cx="424.00" cy="382.10" r="1.4" fill="#9d8fd6"/>
<text x="432.20" y="384.45" font-size="6.6" text-anchor="start" font-weight="normal" font-style="normal" fill="#231f20" stroke="#231f20" stroke-width="0.18" textLength="49.5" lengthAdjust="spacingAndGlyphs">HC + 5 μg/mL sut</text>
<line x1="419.00" y1="392.60" x2="429.00" y2="392.60" stroke="#f2a11f" stroke-width="0.8" stroke-opacity="1.0"/>
<circle cx="424.00" cy="392.60" r="1.4" fill="#f2a11f"/>
<text x="432.20" y="394.95" font-size="6.6" text-anchor="start" font-weight="normal" font-style="normal" fill="#231f20" stroke="#231f20" stroke-width="0.18" textLength="53.5" lengthAdjust="spacingAndGlyphs">HC + 10 μg/mL sut</text>
<line x1="419.00" y1="402.90" x2="429.00" y2="402.90" stroke="#c9c9c9" stroke-width="0.8" stroke-opacity="1.0"/>
<circle cx="424.00" cy="402.90" r="1.4" fill="#c9c9c9"/>
<text x="432.20" y="405.25" font-size="6.6" text-anchor="start" font-weight="normal" font-style="normal" fill="#231f20" stroke="#231f20" stroke-width="0.18" textLength="53.5" lengthAdjust="spacingAndGlyphs">HC + 30 μg/mL sut</text>
<text x="6.80" y="453.20" font-size="12" font-weight="bold" fill="#231f20" stroke="#231f20" stroke-width="0.45">G</text>
<text x="99.80" y="476.60" font-size="9.2" text-anchor="middle" font-weight="normal" font-style="normal" fill="#231f20" stroke="#231f20" stroke-width="0.12" textLength="45.3" lengthAdjust="spacingAndGlyphs">HC on DKO</text>
<line x1="47.00" y1="482.50" x2="47.00" y2="553.50" stroke="#231f20" stroke-width="1.5" stroke-opacity="1.0"/>
<line x1="46.30" y1="552.80" x2="152.00" y2="552.80" stroke="#231f20" stroke-width="1.5" stroke-opacity="1.0"/>
<line x1="44.00" y1="552.80" x2="47.00" y2="552.80" stroke="#231f20" stroke-width="0.9" stroke-opacity="1.0"/>
<text x="40.80" y="555.20" font-size="6.7" text-anchor="end" font-weight="normal" font-style="normal" fill="#231f20" stroke="#231f20" stroke-width="0.18" textLength="3.58" lengthAdjust="spacingAndGlyphs">0</text>
<line x1="44.00" y1="539.15" x2="47.00" y2="539.15" stroke="#231f20" stroke-width="0.9" stroke-opacity="1.0"/>
<text x="40.80" y="541.55" font-size="6.7" text-anchor="end" font-weight="normal" font-style="normal" fill="#231f20" stroke="#231f20" stroke-width="0.18" textLength="17.9" lengthAdjust="spacingAndGlyphs">50000</text>
<line x1="44.00" y1="525.50" x2="47.00" y2="525.50" stroke="#231f20" stroke-width="0.9" stroke-opacity="1.0"/>
<text x="40.80" y="527.90" font-size="6.7" text-anchor="end" font-weight="normal" font-style="normal" fill="#231f20" stroke="#231f20" stroke-width="0.18" textLength="21.48" lengthAdjust="spacingAndGlyphs">100000</text>
<line x1="44.00" y1="511.85" x2="47.00" y2="511.85" stroke="#231f20" stroke-width="0.9" stroke-opacity="1.0"/>
<text x="40.80" y="514.25" font-size="6.7" text-anchor="end" font-weight="normal" font-style="normal" fill="#231f20" stroke="#231f20" stroke-width="0.18" textLength="21.48" lengthAdjust="spacingAndGlyphs">150000</text>
<line x1="44.00" y1="498.20" x2="47.00" y2="498.20" stroke="#231f20" stroke-width="0.9" stroke-opacity="1.0"/>
<text x="40.80" y="500.60" font-size="6.7" text-anchor="end" font-weight="normal" font-style="normal" fill="#231f20" stroke="#231f20" stroke-width="0.18" textLength="21.48" lengthAdjust="spacingAndGlyphs">200000</text>
<line x1="44.00" y1="484.55" x2="47.00" y2="484.55" stroke="#231f20" stroke-width="0.9" stroke-opacity="1.0"/>
<text x="40.80" y="486.95" font-size="6.7" text-anchor="end" font-weight="normal" font-style="normal" fill="#231f20" stroke="#231f20" stroke-width="0.18" textLength="21.48" lengthAdjust="spacingAndGlyphs">250000</text>
<line x1="47.00" y1="552.80" x2="47.00" y2="555.80" stroke="#231f20" stroke-width="0.9" stroke-opacity="1.0"/>
<text x="47.00" y="564.80" font-size="6.6" text-anchor="middle" font-weight="normal" font-style="normal" fill="#231f20" stroke="#231f20" stroke-width="0.18" textLength="21.7" lengthAdjust="spacingAndGlyphs">0:00:00</text>
<line x1="89.90" y1="552.80" x2="89.90" y2="555.80" stroke="#231f20" stroke-width="0.9" stroke-opacity="1.0"/>
<text x="89.90" y="564.80" font-size="6.6" text-anchor="middle" font-weight="normal" font-style="normal" fill="#231f20" stroke="#231f20" stroke-width="0.18" textLength="21.7" lengthAdjust="spacingAndGlyphs">0:50:00</text>
<line x1="132.80" y1="552.80" x2="132.80" y2="555.80" stroke="#231f20" stroke-width="0.9" stroke-opacity="1.0"/>
<text x="132.80" y="564.80" font-size="6.6" text-anchor="middle" font-weight="normal" font-style="normal" fill="#231f20" stroke="#231f20" stroke-width="0.18" textLength="21.7" lengthAdjust="spacingAndGlyphs">1:40:00</text>
<line x1="51.29" y1="552.80" x2="51.29" y2="554.60" stroke="#231f20" stroke-width="0.7" stroke-opacity="1.0"/>
<line x1="55.58" y1="552.80" x2="55.58" y2="554.60" stroke="#231f20" stroke-width="0.7" stroke-opacity="1.0"/>
<line x1="59.87" y1="552.80" x2="59.87" y2="554.60" stroke="#231f20" stroke-width="0.7" stroke-opacity="1.0"/>
<line x1="64.16" y1="552.80" x2="64.16" y2="554.60" stroke="#231f20" stroke-width="0.7" stroke-opacity="1.0"/>
<line x1="68.45" y1="552.80" x2="68.45" y2="554.60" stroke="#231f20" stroke-width="0.7" stroke-opacity="1.0"/>
<line x1="72.74" y1="552.80" x2="72.74" y2="554.60" stroke="#231f20" stroke-width="0.7" stroke-opacity="1.0"/>
<line x1="77.03" y1="552.80" x2="77.03" y2="554.60" stroke="#231f20" stroke-width="0.7" stroke-opacity="1.0"/>
<line x1="81.32" y1="552.80" x2="81.32" y2="554.60" stroke="#231f20" stroke-width="0.7" stroke-opacity="1.0"/>
<line x1="85.61" y1="552.80" x2="85.61" y2="554.60" stroke="#231f20" stroke-width="0.7" stroke-opacity="1.0"/>
<line x1="94.19" y1="552.80" x2="94.19" y2="554.60" stroke="#231f20" stroke-width="0.7" stroke-opacity="1.0"/>
<line x1="98.48" y1="552.80" x2="98.48" y2="554.60" stroke="#231f20" stroke-width="0.7" stroke-opacity="1.0"/>
<line x1="102.77" y1="552.80" x2="102.77" y2="554.60" stroke="#231f20" stroke-width="0.7" stroke-opacity="1.0"/>
<line x1="107.06" y1="552.80" x2="107.06" y2="554.60" stroke="#231f20" stroke-width="0.7" stroke-opacity="1.0"/>
<line x1="111.35" y1="552.80" x2="111.35" y2="554.60" stroke="#231f20" stroke-width="0.7" stroke-opacity="1.0"/>
<line x1="115.64" y1="552.80" x2="115.64" y2="554.60" stroke="#231f20" stroke-width="0.7" stroke-opacity="1.0"/>
<line x1="119.93" y1="552.80" x2="119.93" y2="554.60" stroke="#231f20" stroke-width="0.7" stroke-opacity="1.0"/>
<line x1="124.22" y1="552.80" x2="124.22" y2="554.60" stroke="#231f20" stroke-width="0.7" stroke-opacity="1.0"/>
<line x1="128.51" y1="552.80" x2="128.51" y2="554.60" stroke="#231f20" stroke-width="0.7" stroke-opacity="1.0"/>
<line x1="137.09" y1="552.80" x2="137.09" y2="554.60" stroke="#231f20" stroke-width="0.7" stroke-opacity="1.0"/>
<line x1="141.38" y1="552.80" x2="141.38" y2="554.60" stroke="#231f20" stroke-width="0.7" stroke-opacity="1.0"/>
<line x1="145.67" y1="552.80" x2="145.67" y2="554.60" stroke="#231f20" stroke-width="0.7" stroke-opacity="1.0"/>
<line x1="149.96" y1="552.80" x2="149.96" y2="554.60" stroke="#231f20" stroke-width="0.7" stroke-opacity="1.0"/>
<text x="13.50" y="518.50" font-size="9.2" text-anchor="middle" font-weight="normal" font-style="normal" fill="#231f20" stroke="#231f20" stroke-width="0.3" textLength="11" lengthAdjust="spacingAndGlyphs" transform="rotate(-90 13.5 518.5)">RLU</text>
<text x="100.20" y="575.90" font-size="8.5" text-anchor="middle" font-weight="normal" font-style="normal" fill="#231f20" stroke="#231f20" stroke-width="0.3" textLength="25.6" lengthAdjust="spacingAndGlyphs">Time (h)</text>
<g><polyline points="47.00,530.96 51.29,526.59 55.58,542.70 59.87,549.80 64.16,552.25 68.45,552.80 72.74,552.80 77.03,552.80 81.32,552.80 85.61,552.80 89.90,552.80 94.19,552.80 98.48,552.80 102.77,552.80 107.06,552.80 111.35,552.80 115.64,552.80 119.93,552.80 124.22,552.80 128.51,552.80 132.80,552.80 137.09,552.80" fill="none" stroke="#1d3f68" stroke-width="0.7"/><circle cx="47.00" cy="530.96" r="1.2" fill="#1d3f68"/><circle cx="51.29" cy="526.59" r="1.2" fill="#1d3f68"/><circle cx="55.58" cy="542.70" r="1.2" fill="#1d3f68"/><circle cx="59.87" cy="549.80" r="1.2" fill="#1d3f68"/><circle cx="64.16" cy="552.25" r="1.2" fill="#1d3f68"/><circle cx="68.45" cy="552.80" r="1.2" fill="#1d3f68"/><circle cx="72.74" cy="552.80" r="1.2" fill="#1d3f68"/><circle cx="77.03" cy="552.80" r="1.2" fill="#1d3f68"/><circle cx="81.32" cy="552.80" r="1.2" fill="#1d3f68"/><circle cx="85.61" cy="552.80" r="1.2" fill="#1d3f68"/><circle cx="89.90" cy="552.80" r="1.2" fill="#1d3f68"/><circle cx="94.19" cy="552.80" r="1.2" fill="#1d3f68"/><circle cx="98.48" cy="552.80" r="1.2" fill="#1d3f68"/><circle cx="102.77" cy="552.80" r="1.2" fill="#1d3f68"/><circle cx="107.06" cy="552.80" r="1.2" fill="#1d3f68"/><circle cx="111.35" cy="552.80" r="1.2" fill="#1d3f68"/><circle cx="115.64" cy="552.80" r="1.2" fill="#1d3f68"/><circle cx="119.93" cy="552.80" r="1.2" fill="#1d3f68"/><circle cx="124.22" cy="552.80" r="1.2" fill="#1d3f68"/><circle cx="128.51" cy="552.80" r="1.2" fill="#1d3f68"/><circle cx="132.80" cy="552.80" r="1.2" fill="#1d3f68"/><circle cx="137.09" cy="552.80" r="1.2" fill="#1d3f68"/></g>
<g><path d="M47.00 526.87V529.59M46.00 526.87h2.00M46.00 529.59h2.00" stroke="#4daf4a" stroke-width="0.5" stroke-opacity="0.6" fill="none"/><path d="M51.29 519.78V523.03M50.29 519.78h2.00M50.29 523.03h2.00" stroke="#4daf4a" stroke-width="0.5" stroke-opacity="0.6" fill="none"/><path d="M55.58 523.63V527.37M54.58 523.63h2.00M54.58 527.37h2.00" stroke="#4daf4a" stroke-width="0.5" stroke-opacity="0.6" fill="none"/><path d="M59.87 529.39V533.62M58.87 529.39h2.00M58.87 533.62h2.00" stroke="#4daf4a" stroke-width="0.5" stroke-opacity="0.6" fill="none"/><path d="M64.16 532.72V537.39M63.16 532.72h2.00M63.16 537.39h2.00" stroke="#4daf4a" stroke-width="0.5" stroke-opacity="0.6" fill="none"/><path d="M68.45 533.87V538.96M67.45 533.87h2.00M67.45 538.96h2.00" stroke="#4daf4a" stroke-width="0.5" stroke-opacity="0.6" fill="none"/><path d="M72.74 534.51V539.97M71.74 534.51h2.00M71.74 539.97h2.00" stroke="#4daf4a" stroke-width="0.5" stroke-opacity="0.6" fill="none"/><path d="M77.03 534.97V540.77M76.03 534.97h2.00M76.03 540.77h2.00" stroke="#4daf4a" stroke-width="0.5" stroke-opacity="0.6" fill="none"/><path d="M81.32 535.32V541.45M80.32 535.32h2.00M80.32 541.45h2.00" stroke="#4daf4a" stroke-width="0.5" stroke-opacity="0.6" fill="none"/><path d="M85.61 535.58V542.03M84.61 535.58h2.00M84.61 542.03h2.00" stroke="#4daf4a" stroke-width="0.5" stroke-opacity="0.6" fill="none"/><path d="M89.90 535.76V542.54M88.90 535.76h2.00M88.90 542.54h2.00" stroke="#4daf4a" stroke-width="0.5" stroke-opacity="0.6" fill="none"/><path d="M94.19 535.90V542.98M93.19 535.90h2.00M93.19 542.98h2.00" stroke="#4daf4a" stroke-width="0.5" stroke-opacity="0.6" fill="none"/><path d="M98.48 536.00V543.38M97.48 536.00h2.00M97.48 543.38h2.00" stroke="#4daf4a" stroke-width="0.5" stroke-opacity="0.6" fill="none"/><path d="M102.77 536.07V543.73M101.77 536.07h2.00M101.77 543.73h2.00" stroke="#4daf4a" stroke-width="0.5" stroke-opacity="0.6" fill="none"/><path d="M107.06 536.14V544.07M106.06 536.14h2.00M106.06 544.07h2.00" stroke="#4daf4a" stroke-width="0.5" stroke-opacity="0.6" fill="none"/><path d="M111.35 536.21V544.40M110.35 536.21h2.00M110.35 544.40h2.00" stroke="#4daf4a" stroke-width="0.5" stroke-opacity="0.6" fill="none"/><path d="M115.64 536.30V544.73M114.64 536.30h2.00M114.64 544.73h2.00" stroke="#4daf4a" stroke-width="0.5" stroke-opacity="0.6" fill="none"/><path d="M119.93 536.42V545.06M118.93 536.42h2.00M118.93 545.06h2.00" stroke="#4daf4a" stroke-width="0.5" stroke-opacity="0.6" fill="none"/><path d="M124.22 536.54V545.37M123.22 536.54h2.00M123.22 545.37h2.00" stroke="#4daf4a" stroke-width="0.5" stroke-opacity="0.6" fill="none"/><path d="M128.51 536.67V545.68M127.51 536.67h2.00M127.51 545.68h2.00" stroke="#4daf4a" stroke-width="0.5" stroke-opacity="0.6" fill="none"/><path d="M132.80 536.81V545.97M131.80 536.81h2.00M131.80 545.97h2.00" stroke="#4daf4a" stroke-width="0.5" stroke-opacity="0.6" fill="none"/><path d="M137.09 536.97V546.25M136.09 536.97h2.00M136.09 546.25h2.00" stroke="#4daf4a" stroke-width="0.5" stroke-opacity="0.6" fill="none"/><polyline points="47.00,528.23 51.29,521.40 55.58,525.50 59.87,531.51 64.16,535.05 68.45,536.42 72.74,537.24 77.03,537.87 81.32,538.38 85.61,538.80 89.90,539.15 94.19,539.44 98.48,539.69 102.77,539.90 107.06,540.10 111.35,540.30 115.64,540.51 119.93,540.74 124.22,540.96 128.51,541.18 132.80,541.39 137.09,541.61" fill="none" stroke="#4daf4a" stroke-width="0.7"/><circle cx="47.00" cy="528.23" r="1.3" fill="#4daf4a"/><circle cx="51.29" cy="521.40" r="1.3" fill="#4daf4a"/><circle cx="55.58" cy="525.50" r="1.3" fill="#4daf4a"/><circle cx="59.87" cy="531.51" r="1.3" fill="#4daf4a"/><circle cx="64.16" cy="535.05" r="1.3" fill="#4daf4a"/><circle cx="68.45" cy="536.42" r="1.3" fill="#4daf4a"/><circle cx="72.74" cy="537.24" r="1.3" fill="#4daf4a"/><circle cx="77.03" cy="537.87" r="1.3" fill="#4daf4a"/><circle cx="81.32" cy="538.38" r="1.3" fill="#4daf4a"/><circle cx="85.61" cy="538.80" r="1.3" fill="#4daf4a"/><circle cx="89.90" cy="539.15" r="1.3" fill="#4daf4a"/><circle cx="94.19" cy="539.44" r="1.3" fill="#4daf4a"/><circle cx="98.48" cy="539.69" r="1.3" fill="#4daf4a"/><circle cx="102.77" cy="539.90" r="1.3" fill="#4daf4a"/><circle cx="107.06" cy="540.10" r="1.3" fill="#4daf4a"/><circle cx="111.35" cy="540.30" r="1.3" fill="#4daf4a"/><circle cx="115.64" cy="540.51" r="1.3" fill="#4daf4a"/><circle cx="119.93" cy="540.74" r="1.3" fill="#4daf4a"/><circle cx="124.22" cy="540.96" r="1.3" fill="#4daf4a"/><circle cx="128.51" cy="541.18" r="1.3" fill="#4daf4a"/><circle cx="132.80" cy="541.39" r="1.3" fill="#4daf4a"/><circle cx="137.09" cy="541.61" r="1.3" fill="#4daf4a"/></g>
<g><path d="M47.00 526.87V529.59M46.00 526.87h2.00M46.00 529.59h2.00" stroke="#9d8fd6" stroke-width="0.5" stroke-opacity="0.6" fill="none"/><path d="M51.29 520.61V523.84M50.29 520.61h2.00M50.29 523.84h2.00" stroke="#9d8fd6" stroke-width="0.5" stroke-opacity="0.6" fill="none"/><path d="M55.58 521.46V525.18M54.58 521.46h2.00M54.58 525.18h2.00" stroke="#9d8fd6" stroke-width="0.5" stroke-opacity="0.6" fill="none"/><path d="M59.87 523.40V527.60M58.87 523.40h2.00M58.87 527.60h2.00" stroke="#9d8fd6" stroke-width="0.5" stroke-opacity="0.6" fill="none"/><path d="M64.16 524.54V529.19M63.16 524.54h2.00M63.16 529.19h2.00" stroke="#9d8fd6" stroke-width="0.5" stroke-opacity="0.6" fill="none"/><path d="M68.45 525.38V530.45M67.45 525.38h2.00M67.45 530.45h2.00" stroke="#9d8fd6" stroke-width="0.5" stroke-opacity="0.6" fill="none"/><path d="M72.74 526.05V531.51M71.74 526.05h2.00M71.74 531.51h2.00" stroke="#9d8fd6" stroke-width="0.5" stroke-opacity="0.6" fill="none"/><path d="M77.03 526.55V532.38M76.03 526.55h2.00M76.03 532.38h2.00" stroke="#9d8fd6" stroke-width="0.5" stroke-opacity="0.6" fill="none"/><path d="M81.32 526.96V533.14M80.32 526.96h2.00M80.32 533.14h2.00" stroke="#9d8fd6" stroke-width="0.5" stroke-opacity="0.6" fill="none"/><path d="M85.61 527.34V533.88M84.61 527.34h2.00M84.61 533.88h2.00" stroke="#9d8fd6" stroke-width="0.5" stroke-opacity="0.6" fill="none"/><path d="M89.90 527.79V534.67M88.90 527.79h2.00M88.90 534.67h2.00" stroke="#9d8fd6" stroke-width="0.5" stroke-opacity="0.6" fill="none"/><path d="M94.19 528.34V535.56M93.19 528.34h2.00M93.19 535.56h2.00" stroke="#9d8fd6" stroke-width="0.5" stroke-opacity="0.6" fill="none"/><path d="M98.48 528.96V536.50M97.48 528.96h2.00M97.48 536.50h2.00" stroke="#9d8fd6" stroke-width="0.5" stroke-opacity="0.6" fill="none"/><path d="M102.77 529.61V537.46M101.77 529.61h2.00M101.77 537.46h2.00" stroke="#9d8fd6" stroke-width="0.5" stroke-opacity="0.6" fill="none"/><path d="M107.06 530.27V538.42M106.06 530.27h2.00M106.06 538.42h2.00" stroke="#9d8fd6" stroke-width="0.5" stroke-opacity="0.6" fill="none"/><path d="M111.35 530.91V539.35M110.35 530.91h2.00M110.35 539.35h2.00" stroke="#9d8fd6" stroke-width="0.5" stroke-opacity="0.6" fill="none"/><path d="M115.64 531.52V540.23M114.64 531.52h2.00M114.64 540.23h2.00" stroke="#9d8fd6" stroke-width="0.5" stroke-opacity="0.6" fill="none"/><path d="M119.93 532.08V541.06M118.93 532.08h2.00M118.93 541.06h2.00" stroke="#9d8fd6" stroke-width="0.5" stroke-opacity="0.6" fill="none"/><path d="M124.22 532.64V541.86M123.22 532.64h2.00M123.22 541.86h2.00" stroke="#9d8fd6" stroke-width="0.5" stroke-opacity="0.6" fill="none"/><path d="M128.51 533.18V542.62M127.51 533.18h2.00M127.51 542.62h2.00" stroke="#9d8fd6" stroke-width="0.5" stroke-opacity="0.6" fill="none"/><path d="M132.80 533.72V543.36M131.80 533.72h2.00M131.80 543.36h2.00" stroke="#9d8fd6" stroke-width="0.5" stroke-opacity="0.6" fill="none"/><path d="M137.09 534.24V544.06M136.09 534.24h2.00M136.09 544.06h2.00" stroke="#9d8fd6" stroke-width="0.5" stroke-opacity="0.6" fill="none"/><polyline points="47.00,528.23 51.29,522.22 55.58,523.32 59.87,525.50 64.16,526.87 68.45,527.92 72.74,528.78 77.03,529.46 81.32,530.05 85.61,530.61 89.90,531.23 94.19,531.95 98.48,532.73 102.77,533.53 107.06,534.34 111.35,535.13 115.64,535.87 119.93,536.57 124.22,537.25 128.51,537.90 132.80,538.54 137.09,539.15" fill="none" stroke="#9d8fd6" stroke-width="0.6"/><circle cx="47.00" cy="528.23" r="0.95" fill="#9d8fd6"/><circle cx="51.29" cy="522.22" r="0.95" fill="#9d8fd6"/><circle cx="55.58" cy="523.32" r="0.95" fill="#9d8fd6"/><circle cx="59.87" cy="525.50" r="0.95" fill="#9d8fd6"/><circle cx="64.16" cy="526.87" r="0.95" fill="#9d8fd6"/><circle cx="68.45" cy="527.92" r="0.95" fill="#9d8fd6"/><circle cx="72.74" cy="528.78" r="0.95" fill="#9d8fd6"/><circle cx="77.03" cy="529.46" r="0.95" fill="#9d8fd6"/><circle cx="81.32" cy="530.05" r="0.95" fill="#9d8fd6"/><circle cx="85.61" cy="530.61" r="0.95" fill="#9d8fd6"/><circle cx="89.90" cy="531.23" r="0.95" fill="#9d8fd6"/><circle cx="94.19" cy="531.95" r="0.95" fill="#9d8fd6"/><circle cx="98.48" cy="532.73" r="0.95" fill="#9d8fd6"/><circle cx="102.77" cy="533.53" r="0.95" fill="#9d8fd6"/><circle cx="107.06" cy="534.34" r="0.95" fill="#9d8fd6"/><circle cx="111.35" cy="535.13" r="0.95" fill="#9d8fd6"/><circle cx="115.64" cy="535.87" r="0.95" fill="#9d8fd6"/><circle cx="119.93" cy="536.57" r="0.95" fill="#9d8fd6"/><circle cx="124.22" cy="537.25" r="0.95" fill="#9d8fd6"/><circle cx="128.51" cy="537.90" r="0.95" fill="#9d8fd6"/><circle cx="132.80" cy="538.54" r="0.95" fill="#9d8fd6"/><circle cx="137.09" cy="539.15" r="0.95" fill="#9d8fd6"/></g>
<g><path d="M47.00 522.77V528.23M46.00 522.77h2.00M46.00 528.23h2.00" stroke="#f2a11f" stroke-width="0.5" stroke-opacity="0.6" fill="none"/><path d="M51.29 517.31V522.77M50.29 517.31h2.00M50.29 522.77h2.00" stroke="#f2a11f" stroke-width="0.5" stroke-opacity="0.6" fill="none"/><path d="M55.58 515.94V521.40M54.58 515.94h2.00M54.58 521.40h2.00" stroke="#f2a11f" stroke-width="0.5" stroke-opacity="0.6" fill="none"/><path d="M59.87 516.31V521.77M58.87 516.31h2.00M58.87 521.77h2.00" stroke="#f2a11f" stroke-width="0.5" stroke-opacity="0.6" fill="none"/><path d="M64.16 516.76V522.22M63.16 516.76h2.00M63.16 522.22h2.00" stroke="#f2a11f" stroke-width="0.5" stroke-opacity="0.6" fill="none"/><path d="M68.45 516.92V522.38M67.45 516.92h2.00M67.45 522.38h2.00" stroke="#f2a11f" stroke-width="0.5" stroke-opacity="0.6" fill="none"/><path d="M72.74 517.05V522.51M71.74 517.05h2.00M71.74 522.51h2.00" stroke="#f2a11f" stroke-width="0.5" stroke-opacity="0.6" fill="none"/><path d="M77.03 517.16V522.62M76.03 517.16h2.00M76.03 522.62h2.00" stroke="#f2a11f" stroke-width="0.5" stroke-opacity="0.6" fill="none"/><path d="M81.32 517.24V522.70M80.32 517.24h2.00M80.32 522.70h2.00" stroke="#f2a11f" stroke-width="0.5" stroke-opacity="0.6" fill="none"/><path d="M85.61 517.29V522.75M84.61 517.29h2.00M84.61 522.75h2.00" stroke="#f2a11f" stroke-width="0.5" stroke-opacity="0.6" fill="none"/><path d="M89.90 517.31V522.77M88.90 517.31h2.00M88.90 522.77h2.00" stroke="#f2a11f" stroke-width="0.5" stroke-opacity="0.6" fill="none"/><path d="M94.19 517.31V522.77M93.19 517.31h2.00M93.19 522.77h2.00" stroke="#f2a11f" stroke-width="0.5" stroke-opacity="0.6" fill="none"/><path d="M98.48 517.31V522.77M97.48 517.31h2.00M97.48 522.77h2.00" stroke="#f2a11f" stroke-width="0.5" stroke-opacity="0.6" fill="none"/><path d="M102.77 517.31V522.77M101.77 517.31h2.00M101.77 522.77h2.00" stroke="#f2a11f" stroke-width="0.5" stroke-opacity="0.6" fill="none"/><path d="M107.06 517.31V522.77M106.06 517.31h2.00M106.06 522.77h2.00" stroke="#f2a11f" stroke-width="0.5" stroke-opacity="0.6" fill="none"/><path d="M111.35 517.31V522.77M110.35 517.31h2.00M110.35 522.77h2.00" stroke="#f2a11f" stroke-width="0.5" stroke-opacity="0.6" fill="none"/><path d="M115.64 517.68V523.14M114.64 517.68h2.00M114.64 523.14h2.00" stroke="#f2a11f" stroke-width="0.5" stroke-opacity="0.6" fill="none"/><path d="M119.93 518.54V524.00M118.93 518.54h2.00M118.93 524.00h2.00" stroke="#f2a11f" stroke-width="0.5" stroke-opacity="0.6" fill="none"/><path d="M124.22 519.49V524.95M123.22 519.49h2.00M123.22 524.95h2.00" stroke="#f2a11f" stroke-width="0.5" stroke-opacity="0.6" fill="none"/><path d="M128.51 520.45V525.91M127.51 520.45h2.00M127.51 525.91h2.00" stroke="#f2a11f" stroke-width="0.5" stroke-opacity="0.6" fill="none"/><path d="M132.80 521.55V527.01M131.80 521.55h2.00M131.80 527.01h2.00" stroke="#f2a11f" stroke-width="0.5" stroke-opacity="0.6" fill="none"/><path d="M137.09 522.77V528.23M136.09 522.77h2.00M136.09 528.23h2.00" stroke="#f2a11f" stroke-width="0.5" stroke-opacity="0.6" fill="none"/><polyline points="47.00,525.50 51.29,520.04 55.58,518.67 59.87,519.04 64.16,519.49 68.45,519.65 72.74,519.78 77.03,519.89 81.32,519.97 85.61,520.02 89.90,520.04 94.19,520.04 98.48,520.04 102.77,520.04 107.06,520.04 111.35,520.04 115.64,520.41 119.93,521.27 124.22,522.22 128.51,523.18 132.80,524.28 137.09,525.50" fill="none" stroke="#f2a11f" stroke-width="0.7"/><circle cx="47.00" cy="525.50" r="1.3" fill="#f2a11f"/><circle cx="51.29" cy="520.04" r="1.3" fill="#f2a11f"/><circle cx="55.58" cy="518.67" r="1.3" fill="#f2a11f"/><circle cx="59.87" cy="519.04" r="1.3" fill="#f2a11f"/><circle cx="64.16" cy="519.49" r="1.3" fill="#f2a11f"/><circle cx="68.45" cy="519.65" r="1.3" fill="#f2a11f"/><circle cx="72.74" cy="519.78" r="1.3" fill="#f2a11f"/><circle cx="77.03" cy="519.89" r="1.3" fill="#f2a11f"/><circle cx="81.32" cy="519.97" r="1.3" fill="#f2a11f"/><circle cx="85.61" cy="520.02" r="1.3" fill="#f2a11f"/><circle cx="89.90" cy="520.04" r="1.3" fill="#f2a11f"/><circle cx="94.19" cy="520.04" r="1.3" fill="#f2a11f"/><circle cx="98.48" cy="520.04" r="1.3" fill="#f2a11f"/><circle cx="102.77" cy="520.04" r="1.3" fill="#f2a11f"/><circle cx="107.06" cy="520.04" r="1.3" fill="#f2a11f"/><circle cx="111.35" cy="520.04" r="1.3" fill="#f2a11f"/><circle cx="115.64" cy="520.41" r="1.3" fill="#f2a11f"/><circle cx="119.93" cy="521.27" r="1.3" fill="#f2a11f"/><circle cx="124.22" cy="522.22" r="1.3" fill="#f2a11f"/><circle cx="128.51" cy="523.18" r="1.3" fill="#f2a11f"/><circle cx="132.80" cy="524.28" r="1.3" fill="#f2a11f"/><circle cx="137.09" cy="525.50" r="1.3" fill="#f2a11f"/></g>
<g><path d="M47.00 527.41V531.78M46.00 527.41h2.00M46.00 531.78h2.00" stroke="#c8102e" stroke-width="0.5" stroke-opacity="0.8" fill="none"/><path d="M51.29 514.03V518.40M50.29 514.03h2.00M50.29 518.40h2.00" stroke="#c8102e" stroke-width="0.5" stroke-opacity="0.8" fill="none"/><path d="M55.58 508.57V512.94M54.58 508.57h2.00M54.58 512.94h2.00" stroke="#c8102e" stroke-width="0.5" stroke-opacity="0.8" fill="none"/><path d="M59.87 504.48V508.85M58.87 504.48h2.00M58.87 508.85h2.00" stroke="#c8102e" stroke-width="0.5" stroke-opacity="0.8" fill="none"/><path d="M64.16 501.75V506.12M63.16 501.75h2.00M63.16 506.12h2.00" stroke="#c8102e" stroke-width="0.5" stroke-opacity="0.8" fill="none"/><path d="M68.45 500.93V505.30M67.45 500.93h2.00M67.45 505.30h2.00" stroke="#c8102e" stroke-width="0.5" stroke-opacity="0.8" fill="none"/><path d="M72.74 500.38V504.75M71.74 500.38h2.00M71.74 504.75h2.00" stroke="#c8102e" stroke-width="0.5" stroke-opacity="0.8" fill="none"/><path d="M77.03 500.16V504.53M76.03 500.16h2.00M76.03 504.53h2.00" stroke="#c8102e" stroke-width="0.5" stroke-opacity="0.8" fill="none"/><path d="M81.32 499.99V504.35M80.32 499.99h2.00M80.32 504.35h2.00" stroke="#c8102e" stroke-width="0.5" stroke-opacity="0.8" fill="none"/><path d="M85.61 499.88V504.24M84.61 499.88h2.00M84.61 504.24h2.00" stroke="#c8102e" stroke-width="0.5" stroke-opacity="0.8" fill="none"/><path d="M89.90 499.84V504.21M88.90 499.84h2.00M88.90 504.21h2.00" stroke="#c8102e" stroke-width="0.5" stroke-opacity="0.8" fill="none"/><path d="M94.19 499.84V504.21M93.19 499.84h2.00M93.19 504.21h2.00" stroke="#c8102e" stroke-width="0.5" stroke-opacity="0.8" fill="none"/><path d="M98.48 499.84V504.21M97.48 499.84h2.00M97.48 504.21h2.00" stroke="#c8102e" stroke-width="0.5" stroke-opacity="0.8" fill="none"/><path d="M102.77 499.84V504.21M101.77 499.84h2.00M101.77 504.21h2.00" stroke="#c8102e" stroke-width="0.5" stroke-opacity="0.8" fill="none"/><path d="M107.06 499.84V504.21M106.06 499.84h2.00M106.06 504.21h2.00" stroke="#c8102e" stroke-width="0.5" stroke-opacity="0.8" fill="none"/><path d="M111.35 499.84V504.21M110.35 499.84h2.00M110.35 504.21h2.00" stroke="#c8102e" stroke-width="0.5" stroke-opacity="0.8" fill="none"/><path d="M115.64 499.84V504.21M114.64 499.84h2.00M114.64 504.21h2.00" stroke="#c8102e" stroke-width="0.5" stroke-opacity="0.8" fill="none"/><path d="M119.93 500.16V504.53M118.93 500.16h2.00M118.93 504.53h2.00" stroke="#c8102e" stroke-width="0.5" stroke-opacity="0.8" fill="none"/><path d="M124.22 500.85V505.21M123.22 500.85h2.00M123.22 505.21h2.00" stroke="#c8102e" stroke-width="0.5" stroke-opacity="0.8" fill="none"/><path d="M128.51 501.48V505.84M127.51 501.48h2.00M127.51 505.84h2.00" stroke="#c8102e" stroke-width="0.5" stroke-opacity="0.8" fill="none"/><path d="M132.80 501.91V506.28M131.80 501.91h2.00M131.80 506.28h2.00" stroke="#c8102e" stroke-width="0.5" stroke-opacity="0.8" fill="none"/><path d="M137.09 502.29V506.66M136.09 502.29h2.00M136.09 506.66h2.00" stroke="#c8102e" stroke-width="0.5" stroke-opacity="0.8" fill="none"/><polyline points="47.00,529.59 51.29,516.22 55.58,510.76 59.87,506.66 64.16,503.93 68.45,503.11 72.74,502.57 77.03,502.34 81.32,502.17 85.61,502.06 89.90,502.02 94.19,502.02 98.48,502.02 102.77,502.02 107.06,502.02 111.35,502.02 115.64,502.02 119.93,502.34 124.22,503.03 128.51,503.66 132.80,504.10 137.09,504.48" fill="none" stroke="#c8102e" stroke-width="0.7"/><circle cx="47.00" cy="529.59" r="1.3" fill="#c8102e"/><circle cx="51.29" cy="516.22" r="1.3" fill="#c8102e"/><circle cx="55.58" cy="510.76" r="1.3" fill="#c8102e"/><circle cx="59.87" cy="506.66" r="1.3" fill="#c8102e"/><circle cx="64.16" cy="503.93" r="1.3" fill="#c8102e"/><circle cx="68.45" cy="503.11" r="1.3" fill="#c8102e"/><circle cx="72.74" cy="502.57" r="1.3" fill="#c8102e"/><circle cx="77.03" cy="502.34" r="1.3" fill="#c8102e"/><circle cx="81.32" cy="502.17" r="1.3" fill="#c8102e"/><circle cx="85.61" cy="502.06" r="1.3" fill="#c8102e"/><circle cx="89.90" cy="502.02" r="1.3" fill="#c8102e"/><circle cx="94.19" cy="502.02" r="1.3" fill="#c8102e"/><circle cx="98.48" cy="502.02" r="1.3" fill="#c8102e"/><circle cx="102.77" cy="502.02" r="1.3" fill="#c8102e"/><circle cx="107.06" cy="502.02" r="1.3" fill="#c8102e"/><circle cx="111.35" cy="502.02" r="1.3" fill="#c8102e"/><circle cx="115.64" cy="502.02" r="1.3" fill="#c8102e"/><circle cx="119.93" cy="502.34" r="1.3" fill="#c8102e"/><circle cx="124.22" cy="503.03" r="1.3" fill="#c8102e"/><circle cx="128.51" cy="503.66" r="1.3" fill="#c8102e"/><circle cx="132.80" cy="504.10" r="1.3" fill="#c8102e"/><circle cx="137.09" cy="504.48" r="1.3" fill="#c8102e"/></g>
<line x1="66.40" y1="585.40" x2="76.00" y2="585.40" stroke="#1d3f68" stroke-width="0.8" stroke-opacity="1.0"/>
<circle cx="71.20" cy="585.40" r="1.4" fill="#1d3f68"/>
<text x="78.80" y="587.75" font-size="6.6" text-anchor="start" font-weight="normal" font-style="normal" fill="#231f20" stroke="#231f20" stroke-width="0.18" textLength="9.5" lengthAdjust="spacingAndGlyphs">HC</text>
<line x1="66.40" y1="595.40" x2="76.00" y2="595.40" stroke="#c8102e" stroke-width="0.8" stroke-opacity="1.0"/>
<circle cx="71.20" cy="595.40" r="1.4" fill="#c8102e"/>
<text x="78.80" y="597.75" font-size="6.6" text-anchor="start" font-weight="normal" font-style="normal" fill="#231f20" stroke="#231f20" stroke-width="0.18" textLength="19.0" lengthAdjust="spacingAndGlyphs">HI HC</text>
<line x1="66.40" y1="605.60" x2="76.00" y2="605.60" stroke="#4daf4a" stroke-width="0.8" stroke-opacity="1.0"/>
<circle cx="71.20" cy="605.60" r="1.4" fill="#4daf4a"/>
<text x="78.80" y="607.95" font-size="6.6" text-anchor="start" font-weight="normal" font-style="normal" fill="#231f20" stroke="#231f20" stroke-width="0.18" textLength="59.5" lengthAdjust="spacingAndGlyphs">HC + 3 U/mL C1INH</text>
<line x1="66.40" y1="615.90" x2="76.00" y2="615.90" stroke="#9d8fd6" stroke-width="0.8" stroke-opacity="1.0"/>
<circle cx="71.20" cy="615.90" r="1.4" fill="#9d8fd6"/>
<text x="78.80" y="618.25" font-size="6.6" text-anchor="start" font-weight="normal" font-style="normal" fill="#231f20" stroke="#231f20" stroke-width="0.18" textLength="59.5" lengthAdjust="spacingAndGlyphs">HC + 6 U/mL C1INH</text>
<line x1="66.40" y1="625.90" x2="76.00" y2="625.90" stroke="#f2a11f" stroke-width="0.8" stroke-opacity="1.0"/>
<circle cx="71.20" cy="625.90" r="1.4" fill="#f2a11f"/>
<text x="78.80" y="628.25" font-size="6.6" text-anchor="start" font-weight="normal" font-style="normal" fill="#231f20" stroke="#231f20" stroke-width="0.18" textLength="59.5" lengthAdjust="spacingAndGlyphs">HC + 9 U/mL C1INH</text>
<text x="186.90" y="453.20" font-size="12" font-weight="bold" fill="#231f20" stroke="#231f20" stroke-width="0.45">H</text>
<text x="278.70" y="466.20" font-size="9.2" text-anchor="middle" font-weight="normal" font-style="normal" fill="#231f20" stroke="#231f20" stroke-width="0.12" textLength="82.0" lengthAdjust="spacingAndGlyphs">CM06 on eculizumab</text>
<text x="278.70" y="476.20" font-size="9.2" text-anchor="middle" font-weight="normal" font-style="italic" fill="#231f20" stroke="#231f20" stroke-width="0.12" textLength="31.0" lengthAdjust="spacingAndGlyphs">PIGAKO</text>
<line x1="228.40" y1="484.90" x2="228.40" y2="553.70" stroke="#231f20" stroke-width="1.5" stroke-opacity="1.0"/>
<line x1="227.70" y1="553.00" x2="327.50" y2="553.00" stroke="#231f20" stroke-width="1.5" stroke-opacity="1.0"/>
<line x1="225.40" y1="553.00" x2="228.40" y2="553.00" stroke="#231f20" stroke-width="0.9" stroke-opacity="1.0"/>
<text x="222.20" y="555.40" font-size="6.7" text-anchor="end" font-weight="normal" font-style="normal" fill="#231f20" stroke="#231f20" stroke-width="0.18" textLength="3.58" lengthAdjust="spacingAndGlyphs">0</text>
<line x1="225.40" y1="531.00" x2="228.40" y2="531.00" stroke="#231f20" stroke-width="0.9" stroke-opacity="1.0"/>
<text x="222.20" y="533.40" font-size="6.7" text-anchor="end" font-weight="normal" font-style="normal" fill="#231f20" stroke="#231f20" stroke-width="0.18" textLength="21.48" lengthAdjust="spacingAndGlyphs">200000</text>
<line x1="225.40" y1="509.00" x2="228.40" y2="509.00" stroke="#231f20" stroke-width="0.9" stroke-opacity="1.0"/>
<text x="222.20" y="511.40" font-size="6.7" text-anchor="end" font-weight="normal" font-style="normal" fill="#231f20" stroke="#231f20" stroke-width="0.18" textLength="21.48" lengthAdjust="spacingAndGlyphs">400000</text>
<line x1="225.40" y1="487.00" x2="228.40" y2="487.00" stroke="#231f20" stroke-width="0.9" stroke-opacity="1.0"/>
<text x="222.20" y="489.40" font-size="6.7" text-anchor="end" font-weight="normal" font-style="normal" fill="#231f20" stroke="#231f20" stroke-width="0.18" textLength="21.48" lengthAdjust="spacingAndGlyphs">600000</text>
<line x1="228.40" y1="553.00" x2="228.40" y2="556.00" stroke="#231f20" stroke-width="0.9" stroke-opacity="1.0"/>
<text x="228.40" y="565.00" font-size="6.6" text-anchor="middle" font-weight="normal" font-style="normal" fill="#231f20" stroke="#231f20" stroke-width="0.18" textLength="21.7" lengthAdjust="spacingAndGlyphs">0:00:00</text>
<line x1="260.90" y1="553.00" x2="260.90" y2="556.00" stroke="#231f20" stroke-width="0.9" stroke-opacity="1.0"/>
<text x="260.90" y="565.00" font-size="6.6" text-anchor="middle" font-weight="normal" font-style="normal" fill="#231f20" stroke="#231f20" stroke-width="0.18" textLength="21.7" lengthAdjust="spacingAndGlyphs">1:00:00</text>
<line x1="293.40" y1="553.00" x2="293.40" y2="556.00" stroke="#231f20" stroke-width="0.9" stroke-opacity="1.0"/>
<text x="293.40" y="565.00" font-size="6.6" text-anchor="middle" font-weight="normal" font-style="normal" fill="#231f20" stroke="#231f20" stroke-width="0.18" textLength="21.7" lengthAdjust="spacingAndGlyphs">2:00:00</text>
<line x1="325.90" y1="553.00" x2="325.90" y2="556.00" stroke="#231f20" stroke-width="0.9" stroke-opacity="1.0"/>
<text x="325.90" y="565.00" font-size="6.6" text-anchor="middle" font-weight="normal" font-style="normal" fill="#231f20" stroke="#231f20" stroke-width="0.18" textLength="21.7" lengthAdjust="spacingAndGlyphs">3:00:00</text>
<text x="195.50" y="520.00" font-size="9.2" text-anchor="middle" font-weight="normal" font-style="normal" fill="#231f20" stroke="#231f20" stroke-width="0.3" textLength="11" lengthAdjust="spacingAndGlyphs" transform="rotate(-90 195.5 520.0)">RLU</text>
<text x="278.80" y="576.40" font-size="8.5" text-anchor="middle" font-weight="normal" font-style="normal" fill="#231f20" stroke="#231f20" stroke-width="0.3" textLength="25.1" lengthAdjust="spacingAndGlyphs">Time (h)</text>
<g><path d="M228.40 526.71V527.59M227.40 526.71h2.00M227.40 527.59h2.00" stroke="#c9c9c9" stroke-width="0.5" stroke-opacity="0.6" fill="none"/><path d="M231.11 525.61V526.49M230.11 525.61h2.00M230.11 526.49h2.00" stroke="#c9c9c9" stroke-width="0.5" stroke-opacity="0.6" fill="none"/><path d="M233.82 527.80V528.68M232.82 527.80h2.00M232.82 528.68h2.00" stroke="#c9c9c9" stroke-width="0.5" stroke-opacity="0.6" fill="none"/><path d="M236.53 533.86V534.74M235.53 533.86h2.00M235.53 534.74h2.00" stroke="#c9c9c9" stroke-width="0.5" stroke-opacity="0.6" fill="none"/><path d="M239.23 540.71V541.59M238.23 540.71h2.00M238.23 541.59h2.00" stroke="#c9c9c9" stroke-width="0.5" stroke-opacity="0.6" fill="none"/><path d="M241.94 546.37V547.25M240.94 546.37h2.00M240.94 547.25h2.00" stroke="#c9c9c9" stroke-width="0.5" stroke-opacity="0.6" fill="none"/><path d="M244.65 548.71V549.59M243.65 548.71h2.00M243.65 549.59h2.00" stroke="#c9c9c9" stroke-width="0.5" stroke-opacity="0.6" fill="none"/><path d="M247.36 549.75V550.63M246.36 549.75h2.00M246.36 550.63h2.00" stroke="#c9c9c9" stroke-width="0.5" stroke-opacity="0.6" fill="none"/><path d="M250.07 550.34V551.22M249.07 550.34h2.00M249.07 551.22h2.00" stroke="#c9c9c9" stroke-width="0.5" stroke-opacity="0.6" fill="none"/><path d="M252.78 550.68V551.56M251.78 550.68h2.00M251.78 551.56h2.00" stroke="#c9c9c9" stroke-width="0.5" stroke-opacity="0.6" fill="none"/><path d="M255.48 550.93V551.81M254.48 550.93h2.00M254.48 551.81h2.00" stroke="#c9c9c9" stroke-width="0.5" stroke-opacity="0.6" fill="none"/><path d="M258.19 551.12V552.00M257.19 551.12h2.00M257.19 552.00h2.00" stroke="#c9c9c9" stroke-width="0.5" stroke-opacity="0.6" fill="none"/><path d="M260.90 551.24V552.12M259.90 551.24h2.00M259.90 552.12h2.00" stroke="#c9c9c9" stroke-width="0.5" stroke-opacity="0.6" fill="none"/><path d="M263.61 551.33V552.21M262.61 551.33h2.00M262.61 552.21h2.00" stroke="#c9c9c9" stroke-width="0.5" stroke-opacity="0.6" fill="none"/><path d="M266.32 551.41V552.29M265.32 551.41h2.00M265.32 552.29h2.00" stroke="#c9c9c9" stroke-width="0.5" stroke-opacity="0.6" fill="none"/><path d="M269.02 551.49V552.37M268.02 551.49h2.00M268.02 552.37h2.00" stroke="#c9c9c9" stroke-width="0.5" stroke-opacity="0.6" fill="none"/><path d="M271.73 551.57V552.45M270.73 551.57h2.00M270.73 552.45h2.00" stroke="#c9c9c9" stroke-width="0.5" stroke-opacity="0.6" fill="none"/><path d="M274.44 551.64V552.52M273.44 551.64h2.00M273.44 552.52h2.00" stroke="#c9c9c9" stroke-width="0.5" stroke-opacity="0.6" fill="none"/><path d="M277.15 551.71V552.59M276.15 551.71h2.00M276.15 552.59h2.00" stroke="#c9c9c9" stroke-width="0.5" stroke-opacity="0.6" fill="none"/><path d="M279.86 551.77V552.65M278.86 551.77h2.00M278.86 552.65h2.00" stroke="#c9c9c9" stroke-width="0.5" stroke-opacity="0.6" fill="none"/><path d="M282.57 551.83V552.71M281.57 551.83h2.00M281.57 552.71h2.00" stroke="#c9c9c9" stroke-width="0.5" stroke-opacity="0.6" fill="none"/><path d="M285.27 551.88V552.76M284.27 551.88h2.00M284.27 552.76h2.00" stroke="#c9c9c9" stroke-width="0.5" stroke-opacity="0.6" fill="none"/><path d="M287.98 551.93V552.81M286.98 551.93h2.00M286.98 552.81h2.00" stroke="#c9c9c9" stroke-width="0.5" stroke-opacity="0.6" fill="none"/><path d="M290.69 551.97V552.85M289.69 551.97h2.00M289.69 552.85h2.00" stroke="#c9c9c9" stroke-width="0.5" stroke-opacity="0.6" fill="none"/><path d="M293.40 552.01V552.89M292.40 552.01h2.00M292.40 552.89h2.00" stroke="#c9c9c9" stroke-width="0.5" stroke-opacity="0.6" fill="none"/><path d="M296.11 552.04V552.92M295.11 552.04h2.00M295.11 552.92h2.00" stroke="#c9c9c9" stroke-width="0.5" stroke-opacity="0.6" fill="none"/><path d="M298.82 552.06V552.94M297.82 552.06h2.00M297.82 552.94h2.00" stroke="#c9c9c9" stroke-width="0.5" stroke-opacity="0.6" fill="none"/><path d="M301.52 552.09V552.97M300.52 552.09h2.00M300.52 552.97h2.00" stroke="#c9c9c9" stroke-width="0.5" stroke-opacity="0.6" fill="none"/><path d="M304.23 552.10V552.98M303.23 552.10h2.00M303.23 552.98h2.00" stroke="#c9c9c9" stroke-width="0.5" stroke-opacity="0.6" fill="none"/><path d="M306.94 552.11V552.99M305.94 552.11h2.00M305.94 552.99h2.00" stroke="#c9c9c9" stroke-width="0.5" stroke-opacity="0.6" fill="none"/><path d="M309.65 552.12V553.00M308.65 552.12h2.00M308.65 553.00h2.00" stroke="#c9c9c9" stroke-width="0.5" stroke-opacity="0.6" fill="none"/><polyline points="228.40,527.15 231.11,526.05 233.82,528.24 236.53,534.30 239.23,541.15 241.94,546.81 244.65,549.15 247.36,550.19 250.07,550.78 252.78,551.12 255.48,551.37 258.19,551.56 260.90,551.68 263.61,551.77 266.32,551.85 269.02,551.93 271.73,552.01 274.44,552.08 277.15,552.15 279.86,552.21 282.57,552.27 285.27,552.32 287.98,552.37 290.69,552.41 293.40,552.45 296.11,552.48 298.82,552.50 301.52,552.53 304.23,552.54 306.94,552.55 309.65,552.56" fill="none" stroke="#c9c9c9" stroke-width="0.6"/><circle cx="228.40" cy="527.15" r="0.95" fill="#c9c9c9"/><circle cx="231.11" cy="526.05" r="0.95" fill="#c9c9c9"/><circle cx="233.82" cy="528.24" r="0.95" fill="#c9c9c9"/><circle cx="236.53" cy="534.30" r="0.95" fill="#c9c9c9"/><circle cx="239.23" cy="541.15" r="0.95" fill="#c9c9c9"/><circle cx="241.94" cy="546.81" r="0.95" fill="#c9c9c9"/><circle cx="244.65" cy="549.15" r="0.95" fill="#c9c9c9"/><circle cx="247.36" cy="550.19" r="0.95" fill="#c9c9c9"/><circle cx="250.07" cy="550.78" r="0.95" fill="#c9c9c9"/><circle cx="252.78" cy="551.12" r="0.95" fill="#c9c9c9"/><circle cx="255.48" cy="551.37" r="0.95" fill="#c9c9c9"/><circle cx="258.19" cy="551.56" r="0.95" fill="#c9c9c9"/><circle cx="260.90" cy="551.68" r="0.95" fill="#c9c9c9"/><circle cx="263.61" cy="551.77" r="0.95" fill="#c9c9c9"/><circle cx="266.32" cy="551.85" r="0.95" fill="#c9c9c9"/><circle cx="269.02" cy="551.93" r="0.95" fill="#c9c9c9"/><circle cx="271.73" cy="552.01" r="0.95" fill="#c9c9c9"/><circle cx="274.44" cy="552.08" r="0.95" fill="#c9c9c9"/><circle cx="277.15" cy="552.15" r="0.95" fill="#c9c9c9"/><circle cx="279.86" cy="552.21" r="0.95" fill="#c9c9c9"/><circle cx="282.57" cy="552.27" r="0.95" fill="#c9c9c9"/><circle cx="285.27" cy="552.32" r="0.95" fill="#c9c9c9"/><circle cx="287.98" cy="552.37" r="0.95" fill="#c9c9c9"/><circle cx="290.69" cy="552.41" r="0.95" fill="#c9c9c9"/><circle cx="293.40" cy="552.45" r="0.95" fill="#c9c9c9"/><circle cx="296.11" cy="552.48" r="0.95" fill="#c9c9c9"/><circle cx="298.82" cy="552.50" r="0.95" fill="#c9c9c9"/><circle cx="301.52" cy="552.53" r="0.95" fill="#c9c9c9"/><circle cx="304.23" cy="552.54" r="0.95" fill="#c9c9c9"/><circle cx="306.94" cy="552.55" r="0.95" fill="#c9c9c9"/><circle cx="309.65" cy="552.56" r="0.95" fill="#c9c9c9"/></g>
<g><path d="M228.40 525.94V527.04M227.40 525.94h2.00M227.40 527.04h2.00" stroke="#1f5a3a" stroke-width="0.5" stroke-opacity="0.6" fill="none"/><path d="M231.11 523.63V524.73M230.11 523.63h2.00M230.11 524.73h2.00" stroke="#1f5a3a" stroke-width="0.5" stroke-opacity="0.6" fill="none"/><path d="M233.82 525.60V526.70M232.82 525.60h2.00M232.82 526.70h2.00" stroke="#1f5a3a" stroke-width="0.5" stroke-opacity="0.6" fill="none"/><path d="M236.53 531.00V532.10M235.53 531.00h2.00M235.53 532.10h2.00" stroke="#1f5a3a" stroke-width="0.5" stroke-opacity="0.6" fill="none"/><path d="M239.23 536.89V537.99M238.23 536.89h2.00M238.23 537.99h2.00" stroke="#1f5a3a" stroke-width="0.5" stroke-opacity="0.6" fill="none"/><path d="M241.94 540.11V541.21M240.94 540.11h2.00M240.94 541.21h2.00" stroke="#1f5a3a" stroke-width="0.5" stroke-opacity="0.6" fill="none"/><path d="M244.65 543.21V544.31M243.65 543.21h2.00M243.65 544.31h2.00" stroke="#1f5a3a" stroke-width="0.5" stroke-opacity="0.6" fill="none"/><path d="M247.36 546.02V547.12M246.36 546.02h2.00M246.36 547.12h2.00" stroke="#1f5a3a" stroke-width="0.5" stroke-opacity="0.6" fill="none"/><path d="M250.07 547.14V548.24M249.07 547.14h2.00M249.07 548.24h2.00" stroke="#1f5a3a" stroke-width="0.5" stroke-opacity="0.6" fill="none"/><path d="M252.78 547.75V548.85M251.78 547.75h2.00M251.78 548.85h2.00" stroke="#1f5a3a" stroke-width="0.5" stroke-opacity="0.6" fill="none"/><path d="M255.48 548.30V549.40M254.48 548.30h2.00M254.48 549.40h2.00" stroke="#1f5a3a" stroke-width="0.5" stroke-opacity="0.6" fill="none"/><path d="M258.19 549.14V550.24M257.19 549.14h2.00M257.19 550.24h2.00" stroke="#1f5a3a" stroke-width="0.5" stroke-opacity="0.6" fill="none"/><path d="M260.90 549.81V550.91M259.90 549.81h2.00M259.90 550.91h2.00" stroke="#1f5a3a" stroke-width="0.5" stroke-opacity="0.6" fill="none"/><path d="M263.61 550.11V551.21M262.61 550.11h2.00M262.61 551.21h2.00" stroke="#1f5a3a" stroke-width="0.5" stroke-opacity="0.6" fill="none"/><path d="M266.32 550.35V551.45M265.32 550.35h2.00M265.32 551.45h2.00" stroke="#1f5a3a" stroke-width="0.5" stroke-opacity="0.6" fill="none"/><path d="M269.02 550.54V551.64M268.02 550.54h2.00M268.02 551.64h2.00" stroke="#1f5a3a" stroke-width="0.5" stroke-opacity="0.6" fill="none"/><path d="M271.73 550.69V551.79M270.73 550.69h2.00M270.73 551.79h2.00" stroke="#1f5a3a" stroke-width="0.5" stroke-opacity="0.6" fill="none"/><path d="M274.44 550.81V551.91M273.44 550.81h2.00M273.44 551.91h2.00" stroke="#1f5a3a" stroke-width="0.5" stroke-opacity="0.6" fill="none"/><path d="M277.15 550.91V552.01M276.15 550.91h2.00M276.15 552.01h2.00" stroke="#1f5a3a" stroke-width="0.5" stroke-opacity="0.6" fill="none"/><path d="M279.86 551.00V552.10M278.86 551.00h2.00M278.86 552.10h2.00" stroke="#1f5a3a" stroke-width="0.5" stroke-opacity="0.6" fill="none"/><path d="M282.57 551.08V552.18M281.57 551.08h2.00M281.57 552.18h2.00" stroke="#1f5a3a" stroke-width="0.5" stroke-opacity="0.6" fill="none"/><path d="M285.27 551.16V552.26M284.27 551.16h2.00M284.27 552.26h2.00" stroke="#1f5a3a" stroke-width="0.5" stroke-opacity="0.6" fill="none"/><path d="M287.98 551.23V552.33M286.98 551.23h2.00M286.98 552.33h2.00" stroke="#1f5a3a" stroke-width="0.5" stroke-opacity="0.6" fill="none"/><path d="M290.69 551.30V552.40M289.69 551.30h2.00M289.69 552.40h2.00" stroke="#1f5a3a" stroke-width="0.5" stroke-opacity="0.6" fill="none"/><path d="M293.40 551.36V552.46M292.40 551.36h2.00M292.40 552.46h2.00" stroke="#1f5a3a" stroke-width="0.5" stroke-opacity="0.6" fill="none"/><path d="M296.11 551.42V552.52M295.11 551.42h2.00M295.11 552.52h2.00" stroke="#1f5a3a" stroke-width="0.5" stroke-opacity="0.6" fill="none"/><path d="M298.82 551.47V552.57M297.82 551.47h2.00M297.82 552.57h2.00" stroke="#1f5a3a" stroke-width="0.5" stroke-opacity="0.6" fill="none"/><path d="M301.52 551.51V552.61M300.52 551.51h2.00M300.52 552.61h2.00" stroke="#1f5a3a" stroke-width="0.5" stroke-opacity="0.6" fill="none"/><path d="M304.23 551.54V552.64M303.23 551.54h2.00M303.23 552.64h2.00" stroke="#1f5a3a" stroke-width="0.5" stroke-opacity="0.6" fill="none"/><path d="M306.94 551.56V552.66M305.94 551.56h2.00M305.94 552.66h2.00" stroke="#1f5a3a" stroke-width="0.5" stroke-opacity="0.6" fill="none"/><path d="M309.65 551.57V552.67M308.65 551.57h2.00M308.65 552.67h2.00" stroke="#1f5a3a" stroke-width="0.5" stroke-opacity="0.6" fill="none"/><polyline points="228.40,526.49 231.11,524.18 233.82,526.15 236.53,531.55 239.23,537.44 241.94,540.66 244.65,543.76 247.36,546.57 250.07,547.69 252.78,548.30 255.48,548.85 258.19,549.69 260.90,550.36 263.61,550.66 266.32,550.90 269.02,551.09 271.73,551.24 274.44,551.36 277.15,551.46 279.86,551.55 282.57,551.63 285.27,551.71 287.98,551.78 290.69,551.85 293.40,551.91 296.11,551.97 298.82,552.02 301.52,552.06 304.23,552.09 306.94,552.11 309.65,552.12" fill="none" stroke="#1f5a3a" stroke-width="0.7"/><circle cx="228.40" cy="526.49" r="1.25" fill="#1f5a3a"/><circle cx="231.11" cy="524.18" r="1.25" fill="#1f5a3a"/><circle cx="233.82" cy="526.15" r="1.25" fill="#1f5a3a"/><circle cx="236.53" cy="531.55" r="1.25" fill="#1f5a3a"/><circle cx="239.23" cy="537.44" r="1.25" fill="#1f5a3a"/><circle cx="241.94" cy="540.66" r="1.25" fill="#1f5a3a"/><circle cx="244.65" cy="543.76" r="1.25" fill="#1f5a3a"/><circle cx="247.36" cy="546.57" r="1.25" fill="#1f5a3a"/><circle cx="250.07" cy="547.69" r="1.25" fill="#1f5a3a"/><circle cx="252.78" cy="548.30" r="1.25" fill="#1f5a3a"/><circle cx="255.48" cy="548.85" r="1.25" fill="#1f5a3a"/><circle cx="258.19" cy="549.69" r="1.25" fill="#1f5a3a"/><circle cx="260.90" cy="550.36" r="1.25" fill="#1f5a3a"/><circle cx="263.61" cy="550.66" r="1.25" fill="#1f5a3a"/><circle cx="266.32" cy="550.90" r="1.25" fill="#1f5a3a"/><circle cx="269.02" cy="551.09" r="1.25" fill="#1f5a3a"/><circle cx="271.73" cy="551.24" r="1.25" fill="#1f5a3a"/><circle cx="274.44" cy="551.36" r="1.25" fill="#1f5a3a"/><circle cx="277.15" cy="551.46" r="1.25" fill="#1f5a3a"/><circle cx="279.86" cy="551.55" r="1.25" fill="#1f5a3a"/><circle cx="282.57" cy="551.63" r="1.25" fill="#1f5a3a"/><circle cx="285.27" cy="551.71" r="1.25" fill="#1f5a3a"/><circle cx="287.98" cy="551.78" r="1.25" fill="#1f5a3a"/><circle cx="290.69" cy="551.85" r="1.25" fill="#1f5a3a"/><circle cx="293.40" cy="551.91" r="1.25" fill="#1f5a3a"/><circle cx="296.11" cy="551.97" r="1.25" fill="#1f5a3a"/><circle cx="298.82" cy="552.02" r="1.25" fill="#1f5a3a"/><circle cx="301.52" cy="552.06" r="1.25" fill="#1f5a3a"/><circle cx="304.23" cy="552.09" r="1.25" fill="#1f5a3a"/><circle cx="306.94" cy="552.11" r="1.25" fill="#1f5a3a"/><circle cx="309.65" cy="552.12" r="1.25" fill="#1f5a3a"/></g>
<g><path d="M228.40 526.16V527.48M227.40 526.16h2.00M227.40 527.48h2.00" stroke="#f2a11f" stroke-width="0.5" stroke-opacity="0.6" fill="none"/><path d="M231.11 524.29V525.61M230.11 524.29h2.00M230.11 525.61h2.00" stroke="#f2a11f" stroke-width="0.5" stroke-opacity="0.6" fill="none"/><path d="M233.82 526.15V527.47M232.82 526.15h2.00M232.82 527.47h2.00" stroke="#f2a11f" stroke-width="0.5" stroke-opacity="0.6" fill="none"/><path d="M236.53 531.66V532.98M235.53 531.66h2.00M235.53 532.98h2.00" stroke="#f2a11f" stroke-width="0.5" stroke-opacity="0.6" fill="none"/><path d="M239.23 537.43V538.75M238.23 537.43h2.00M238.23 538.75h2.00" stroke="#f2a11f" stroke-width="0.5" stroke-opacity="0.6" fill="none"/><path d="M241.94 540.56V541.88M240.94 540.56h2.00M240.94 541.88h2.00" stroke="#f2a11f" stroke-width="0.5" stroke-opacity="0.6" fill="none"/><path d="M244.65 543.54V544.86M243.65 543.54h2.00M243.65 544.86h2.00" stroke="#f2a11f" stroke-width="0.5" stroke-opacity="0.6" fill="none"/><path d="M247.36 545.80V547.12M246.36 545.80h2.00M246.36 547.12h2.00" stroke="#f2a11f" stroke-width="0.5" stroke-opacity="0.6" fill="none"/><path d="M250.07 546.81V548.13M249.07 546.81h2.00M249.07 548.13h2.00" stroke="#f2a11f" stroke-width="0.5" stroke-opacity="0.6" fill="none"/><path d="M252.78 547.44V548.76M251.78 547.44h2.00M251.78 548.76h2.00" stroke="#f2a11f" stroke-width="0.5" stroke-opacity="0.6" fill="none"/><path d="M255.48 547.96V549.28M254.48 547.96h2.00M254.48 549.28h2.00" stroke="#f2a11f" stroke-width="0.5" stroke-opacity="0.6" fill="none"/><path d="M258.19 548.57V549.89M257.19 548.57h2.00M257.19 549.89h2.00" stroke="#f2a11f" stroke-width="0.5" stroke-opacity="0.6" fill="none"/><path d="M260.90 549.04V550.36M259.90 549.04h2.00M259.90 550.36h2.00" stroke="#f2a11f" stroke-width="0.5" stroke-opacity="0.6" fill="none"/><path d="M263.61 549.31V550.63M262.61 549.31h2.00M262.61 550.63h2.00" stroke="#f2a11f" stroke-width="0.5" stroke-opacity="0.6" fill="none"/><path d="M266.32 549.54V550.86M265.32 549.54h2.00M265.32 550.86h2.00" stroke="#f2a11f" stroke-width="0.5" stroke-opacity="0.6" fill="none"/><path d="M269.02 549.73V551.05M268.02 549.73h2.00M268.02 551.05h2.00" stroke="#f2a11f" stroke-width="0.5" stroke-opacity="0.6" fill="none"/><path d="M271.73 549.89V551.21M270.73 549.89h2.00M270.73 551.21h2.00" stroke="#f2a11f" stroke-width="0.5" stroke-opacity="0.6" fill="none"/><path d="M274.44 550.03V551.35M273.44 550.03h2.00M273.44 551.35h2.00" stroke="#f2a11f" stroke-width="0.5" stroke-opacity="0.6" fill="none"/><path d="M277.15 550.14V551.46M276.15 550.14h2.00M276.15 551.46h2.00" stroke="#f2a11f" stroke-width="0.5" stroke-opacity="0.6" fill="none"/><path d="M279.86 550.25V551.57M278.86 550.25h2.00M278.86 551.57h2.00" stroke="#f2a11f" stroke-width="0.5" stroke-opacity="0.6" fill="none"/><path d="M282.57 550.35V551.67M281.57 550.35h2.00M281.57 551.67h2.00" stroke="#f2a11f" stroke-width="0.5" stroke-opacity="0.6" fill="none"/><path d="M285.27 550.45V551.77M284.27 550.45h2.00M284.27 551.77h2.00" stroke="#f2a11f" stroke-width="0.5" stroke-opacity="0.6" fill="none"/><path d="M287.98 550.55V551.87M286.98 550.55h2.00M286.98 551.87h2.00" stroke="#f2a11f" stroke-width="0.5" stroke-opacity="0.6" fill="none"/><path d="M290.69 550.64V551.96M289.69 550.64h2.00M289.69 551.96h2.00" stroke="#f2a11f" stroke-width="0.5" stroke-opacity="0.6" fill="none"/><path d="M293.40 550.73V552.05M292.40 550.73h2.00M292.40 552.05h2.00" stroke="#f2a11f" stroke-width="0.5" stroke-opacity="0.6" fill="none"/><path d="M296.11 550.80V552.12M295.11 550.80h2.00M295.11 552.12h2.00" stroke="#f2a11f" stroke-width="0.5" stroke-opacity="0.6" fill="none"/><path d="M298.82 550.87V552.19M297.82 550.87h2.00M297.82 552.19h2.00" stroke="#f2a11f" stroke-width="0.5" stroke-opacity="0.6" fill="none"/><path d="M301.52 550.93V552.25M300.52 550.93h2.00M300.52 552.25h2.00" stroke="#f2a11f" stroke-width="0.5" stroke-opacity="0.6" fill="none"/><path d="M304.23 550.97V552.29M303.23 550.97h2.00M303.23 552.29h2.00" stroke="#f2a11f" stroke-width="0.5" stroke-opacity="0.6" fill="none"/><path d="M306.94 551.00V552.32M305.94 551.00h2.00M305.94 552.32h2.00" stroke="#f2a11f" stroke-width="0.5" stroke-opacity="0.6" fill="none"/><path d="M309.65 551.02V552.34M308.65 551.02h2.00M308.65 552.34h2.00" stroke="#f2a11f" stroke-width="0.5" stroke-opacity="0.6" fill="none"/><polyline points="228.40,526.82 231.11,524.95 233.82,526.81 236.53,532.32 239.23,538.09 241.94,541.22 244.65,544.20 247.36,546.46 250.07,547.47 252.78,548.10 255.48,548.62 258.19,549.23 260.90,549.70 263.61,549.97 266.32,550.20 269.02,550.39 271.73,550.55 274.44,550.69 277.15,550.80 279.86,550.91 282.57,551.01 285.27,551.11 287.98,551.21 290.69,551.30 293.40,551.39 296.11,551.46 298.82,551.53 301.52,551.59 304.23,551.63 306.94,551.66 309.65,551.68" fill="none" stroke="#f2a11f" stroke-width="0.8"/><circle cx="228.40" cy="526.82" r="0.8" fill="#f2a11f"/><circle cx="231.11" cy="524.95" r="0.8" fill="#f2a11f"/><circle cx="233.82" cy="526.81" r="0.8" fill="#f2a11f"/><circle cx="236.53" cy="532.32" r="0.8" fill="#f2a11f"/><circle cx="239.23" cy="538.09" r="0.8" fill="#f2a11f"/><circle cx="241.94" cy="541.22" r="0.8" fill="#f2a11f"/><circle cx="244.65" cy="544.20" r="0.8" fill="#f2a11f"/><circle cx="247.36" cy="546.46" r="0.8" fill="#f2a11f"/><circle cx="250.07" cy="547.47" r="0.8" fill="#f2a11f"/><circle cx="252.78" cy="548.10" r="0.8" fill="#f2a11f"/><circle cx="255.48" cy="548.62" r="0.8" fill="#f2a11f"/><circle cx="258.19" cy="549.23" r="0.8" fill="#f2a11f"/><circle cx="260.90" cy="549.70" r="0.8" fill="#f2a11f"/><circle cx="263.61" cy="549.97" r="0.8" fill="#f2a11f"/><circle cx="266.32" cy="550.20" r="0.8" fill="#f2a11f"/><circle cx="269.02" cy="550.39" r="0.8" fill="#f2a11f"/><circle cx="271.73" cy="550.55" r="0.8" fill="#f2a11f"/><circle cx="274.44" cy="550.69" r="0.8" fill="#f2a11f"/><circle cx="277.15" cy="550.80" r="0.8" fill="#f2a11f"/><circle cx="279.86" cy="550.91" r="0.8" fill="#f2a11f"/><circle cx="282.57" cy="551.01" r="0.8" fill="#f2a11f"/><circle cx="285.27" cy="551.11" r="0.8" fill="#f2a11f"/><circle cx="287.98" cy="551.21" r="0.8" fill="#f2a11f"/><circle cx="290.69" cy="551.30" r="0.8" fill="#f2a11f"/><circle cx="293.40" cy="551.39" r="0.8" fill="#f2a11f"/><circle cx="296.11" cy="551.46" r="0.8" fill="#f2a11f"/><circle cx="298.82" cy="551.53" r="0.8" fill="#f2a11f"/><circle cx="301.52" cy="551.59" r="0.8" fill="#f2a11f"/><circle cx="304.23" cy="551.63" r="0.8" fill="#f2a11f"/><circle cx="306.94" cy="551.66" r="0.8" fill="#f2a11f"/><circle cx="309.65" cy="551.68" r="0.8" fill="#f2a11f"/></g>
<g><path d="M228.40 528.58V533.42M227.40 528.58h2.00M227.40 533.42h2.00" stroke="#9d8fd6" stroke-width="0.5" stroke-opacity="0.5" fill="none"/><path d="M231.11 524.16V529.00M230.11 524.16h2.00M230.11 529.00h2.00" stroke="#9d8fd6" stroke-width="0.5" stroke-opacity="0.5" fill="none"/><path d="M233.82 518.69V523.53M232.82 518.69h2.00M232.82 523.53h2.00" stroke="#9d8fd6" stroke-width="0.5" stroke-opacity="0.5" fill="none"/><path d="M236.53 516.41V521.25M235.53 516.41h2.00M235.53 521.25h2.00" stroke="#9d8fd6" stroke-width="0.5" stroke-opacity="0.5" fill="none"/><path d="M239.23 515.37V520.21M238.23 515.37h2.00M238.23 520.21h2.00" stroke="#9d8fd6" stroke-width="0.5" stroke-opacity="0.5" fill="none"/><path d="M241.94 515.09V519.93M240.94 515.09h2.00M240.94 519.93h2.00" stroke="#9d8fd6" stroke-width="0.5" stroke-opacity="0.5" fill="none"/><path d="M244.65 514.91V519.75M243.65 514.91h2.00M243.65 519.75h2.00" stroke="#9d8fd6" stroke-width="0.5" stroke-opacity="0.5" fill="none"/><path d="M247.36 514.83V519.67M246.36 514.83h2.00M246.36 519.67h2.00" stroke="#9d8fd6" stroke-width="0.5" stroke-opacity="0.5" fill="none"/><path d="M250.07 514.90V519.74M249.07 514.90h2.00M249.07 519.74h2.00" stroke="#9d8fd6" stroke-width="0.5" stroke-opacity="0.5" fill="none"/><path d="M252.78 515.15V519.99M251.78 515.15h2.00M251.78 519.99h2.00" stroke="#9d8fd6" stroke-width="0.5" stroke-opacity="0.5" fill="none"/><path d="M255.48 515.51V520.35M254.48 515.51h2.00M254.48 520.35h2.00" stroke="#9d8fd6" stroke-width="0.5" stroke-opacity="0.5" fill="none"/><path d="M258.19 515.91V520.75M257.19 515.91h2.00M257.19 520.75h2.00" stroke="#9d8fd6" stroke-width="0.5" stroke-opacity="0.5" fill="none"/><path d="M260.90 516.26V521.10M259.90 516.26h2.00M259.90 521.10h2.00" stroke="#9d8fd6" stroke-width="0.5" stroke-opacity="0.5" fill="none"/><path d="M263.61 516.56V521.40M262.61 516.56h2.00M262.61 521.40h2.00" stroke="#9d8fd6" stroke-width="0.5" stroke-opacity="0.5" fill="none"/><path d="M266.32 516.87V521.71M265.32 516.87h2.00M265.32 521.71h2.00" stroke="#9d8fd6" stroke-width="0.5" stroke-opacity="0.5" fill="none"/><path d="M269.02 517.17V522.01M268.02 517.17h2.00M268.02 522.01h2.00" stroke="#9d8fd6" stroke-width="0.5" stroke-opacity="0.5" fill="none"/><path d="M271.73 517.48V522.32M270.73 517.48h2.00M270.73 522.32h2.00" stroke="#9d8fd6" stroke-width="0.5" stroke-opacity="0.5" fill="none"/><path d="M274.44 517.80V522.64M273.44 517.80h2.00M273.44 522.64h2.00" stroke="#9d8fd6" stroke-width="0.5" stroke-opacity="0.5" fill="none"/><path d="M277.15 518.13V522.97M276.15 518.13h2.00M276.15 522.97h2.00" stroke="#9d8fd6" stroke-width="0.5" stroke-opacity="0.5" fill="none"/><path d="M279.86 518.47V523.31M278.86 518.47h2.00M278.86 523.31h2.00" stroke="#9d8fd6" stroke-width="0.5" stroke-opacity="0.5" fill="none"/><path d="M282.57 518.83V523.67M281.57 518.83h2.00M281.57 523.67h2.00" stroke="#9d8fd6" stroke-width="0.5" stroke-opacity="0.5" fill="none"/><path d="M285.27 519.19V524.03M284.27 519.19h2.00M284.27 524.03h2.00" stroke="#9d8fd6" stroke-width="0.5" stroke-opacity="0.5" fill="none"/><path d="M287.98 519.56V524.40M286.98 519.56h2.00M286.98 524.40h2.00" stroke="#9d8fd6" stroke-width="0.5" stroke-opacity="0.5" fill="none"/><path d="M290.69 519.94V524.78M289.69 519.94h2.00M289.69 524.78h2.00" stroke="#9d8fd6" stroke-width="0.5" stroke-opacity="0.5" fill="none"/><path d="M293.40 520.33V525.17M292.40 520.33h2.00M292.40 525.17h2.00" stroke="#9d8fd6" stroke-width="0.5" stroke-opacity="0.5" fill="none"/><path d="M296.11 520.73V525.57M295.11 520.73h2.00M295.11 525.57h2.00" stroke="#9d8fd6" stroke-width="0.5" stroke-opacity="0.5" fill="none"/><path d="M298.82 521.14V525.98M297.82 521.14h2.00M297.82 525.98h2.00" stroke="#9d8fd6" stroke-width="0.5" stroke-opacity="0.5" fill="none"/><path d="M301.52 521.55V526.39M300.52 521.55h2.00M300.52 526.39h2.00" stroke="#9d8fd6" stroke-width="0.5" stroke-opacity="0.5" fill="none"/><path d="M304.23 521.98V526.82M303.23 521.98h2.00M303.23 526.82h2.00" stroke="#9d8fd6" stroke-width="0.5" stroke-opacity="0.5" fill="none"/><path d="M306.94 522.42V527.26M305.94 522.42h2.00M305.94 527.26h2.00" stroke="#9d8fd6" stroke-width="0.5" stroke-opacity="0.5" fill="none"/><path d="M309.65 522.86V527.70M308.65 522.86h2.00M308.65 527.70h2.00" stroke="#9d8fd6" stroke-width="0.5" stroke-opacity="0.5" fill="none"/><polyline points="228.40,531.00 231.11,526.58 233.82,521.11 236.53,518.83 239.23,517.79 241.94,517.51 244.65,517.33 247.36,517.25 250.07,517.32 252.78,517.57 255.48,517.93 258.19,518.33 260.90,518.68 263.61,518.98 266.32,519.29 269.02,519.59 271.73,519.90 274.44,520.22 277.15,520.55 279.86,520.89 282.57,521.25 285.27,521.61 287.98,521.98 290.69,522.36 293.40,522.75 296.11,523.15 298.82,523.56 301.52,523.97 304.23,524.40 306.94,524.84 309.65,525.28" fill="none" stroke="#9d8fd6" stroke-width="0.6"/><circle cx="228.40" cy="531.00" r="0.9" fill="#9d8fd6"/><circle cx="231.11" cy="526.58" r="0.9" fill="#9d8fd6"/><circle cx="233.82" cy="521.11" r="0.9" fill="#9d8fd6"/><circle cx="236.53" cy="518.83" r="0.9" fill="#9d8fd6"/><circle cx="239.23" cy="517.79" r="0.9" fill="#9d8fd6"/><circle cx="241.94" cy="517.51" r="0.9" fill="#9d8fd6"/><circle cx="244.65" cy="517.33" r="0.9" fill="#9d8fd6"/><circle cx="247.36" cy="517.25" r="0.9" fill="#9d8fd6"/><circle cx="250.07" cy="517.32" r="0.9" fill="#9d8fd6"/><circle cx="252.78" cy="517.57" r="0.9" fill="#9d8fd6"/><circle cx="255.48" cy="517.93" r="0.9" fill="#9d8fd6"/><circle cx="258.19" cy="518.33" r="0.9" fill="#9d8fd6"/><circle cx="260.90" cy="518.68" r="0.9" fill="#9d8fd6"/><circle cx="263.61" cy="518.98" r="0.9" fill="#9d8fd6"/><circle cx="266.32" cy="519.29" r="0.9" fill="#9d8fd6"/><circle cx="269.02" cy="519.59" r="0.9" fill="#9d8fd6"/><circle cx="271.73" cy="519.90" r="0.9" fill="#9d8fd6"/><circle cx="274.44" cy="520.22" r="0.9" fill="#9d8fd6"/><circle cx="277.15" cy="520.55" r="0.9" fill="#9d8fd6"/><circle cx="279.86" cy="520.89" r="0.9" fill="#9d8fd6"/><circle cx="282.57" cy="521.25" r="0.9" fill="#9d8fd6"/><circle cx="285.27" cy="521.61" r="0.9" fill="#9d8fd6"/><circle cx="287.98" cy="521.98" r="0.9" fill="#9d8fd6"/><circle cx="290.69" cy="522.36" r="0.9" fill="#9d8fd6"/><circle cx="293.40" cy="522.75" r="0.9" fill="#9d8fd6"/><circle cx="296.11" cy="523.15" r="0.9" fill="#9d8fd6"/><circle cx="298.82" cy="523.56" r="0.9" fill="#9d8fd6"/><circle cx="301.52" cy="523.97" r="0.9" fill="#9d8fd6"/><circle cx="304.23" cy="524.40" r="0.9" fill="#9d8fd6"/><circle cx="306.94" cy="524.84" r="0.9" fill="#9d8fd6"/><circle cx="309.65" cy="525.28" r="0.9" fill="#9d8fd6"/></g>
<g><path d="M228.40 530.45V535.95M227.40 530.45h2.00M227.40 535.95h2.00" stroke="#4daf4a" stroke-width="0.5" stroke-opacity="0.5" fill="none"/><path d="M231.11 524.93V530.43M230.11 524.93h2.00M230.11 530.43h2.00" stroke="#4daf4a" stroke-width="0.5" stroke-opacity="0.5" fill="none"/><path d="M233.82 519.46V524.96M232.82 519.46h2.00M232.82 524.96h2.00" stroke="#4daf4a" stroke-width="0.5" stroke-opacity="0.5" fill="none"/><path d="M236.53 516.76V522.26M235.53 516.76h2.00M235.53 522.26h2.00" stroke="#4daf4a" stroke-width="0.5" stroke-opacity="0.5" fill="none"/><path d="M239.23 515.23V520.73M238.23 515.23h2.00M238.23 520.73h2.00" stroke="#4daf4a" stroke-width="0.5" stroke-opacity="0.5" fill="none"/><path d="M241.94 514.45V519.95M240.94 514.45h2.00M240.94 519.95h2.00" stroke="#4daf4a" stroke-width="0.5" stroke-opacity="0.5" fill="none"/><path d="M244.65 513.90V519.40M243.65 513.90h2.00M243.65 519.40h2.00" stroke="#4daf4a" stroke-width="0.5" stroke-opacity="0.5" fill="none"/><path d="M247.36 513.46V518.96M246.36 513.46h2.00M246.36 518.96h2.00" stroke="#4daf4a" stroke-width="0.5" stroke-opacity="0.5" fill="none"/><path d="M250.07 513.04V518.54M249.07 513.04h2.00M249.07 518.54h2.00" stroke="#4daf4a" stroke-width="0.5" stroke-opacity="0.5" fill="none"/><path d="M252.78 512.55V518.05M251.78 512.55h2.00M251.78 518.05h2.00" stroke="#4daf4a" stroke-width="0.5" stroke-opacity="0.5" fill="none"/><path d="M255.48 512.04V517.54M254.48 512.04h2.00M254.48 517.54h2.00" stroke="#4daf4a" stroke-width="0.5" stroke-opacity="0.5" fill="none"/><path d="M258.19 511.57V517.07M257.19 511.57h2.00M257.19 517.07h2.00" stroke="#4daf4a" stroke-width="0.5" stroke-opacity="0.5" fill="none"/><path d="M260.90 511.20V516.70M259.90 511.20h2.00M259.90 516.70h2.00" stroke="#4daf4a" stroke-width="0.5" stroke-opacity="0.5" fill="none"/><path d="M263.61 510.88V516.38M262.61 510.88h2.00M262.61 516.38h2.00" stroke="#4daf4a" stroke-width="0.5" stroke-opacity="0.5" fill="none"/><path d="M266.32 510.57V516.07M265.32 510.57h2.00M265.32 516.07h2.00" stroke="#4daf4a" stroke-width="0.5" stroke-opacity="0.5" fill="none"/><path d="M269.02 510.32V515.82M268.02 510.32h2.00M268.02 515.82h2.00" stroke="#4daf4a" stroke-width="0.5" stroke-opacity="0.5" fill="none"/><path d="M271.73 510.15V515.65M270.73 510.15h2.00M270.73 515.65h2.00" stroke="#4daf4a" stroke-width="0.5" stroke-opacity="0.5" fill="none"/><path d="M274.44 510.10V515.60M273.44 510.10h2.00M273.44 515.60h2.00" stroke="#4daf4a" stroke-width="0.5" stroke-opacity="0.5" fill="none"/><path d="M277.15 510.25V515.75M276.15 510.25h2.00M276.15 515.75h2.00" stroke="#4daf4a" stroke-width="0.5" stroke-opacity="0.5" fill="none"/><path d="M279.86 510.58V516.08M278.86 510.58h2.00M278.86 516.08h2.00" stroke="#4daf4a" stroke-width="0.5" stroke-opacity="0.5" fill="none"/><path d="M282.57 511.04V516.54M281.57 511.04h2.00M281.57 516.54h2.00" stroke="#4daf4a" stroke-width="0.5" stroke-opacity="0.5" fill="none"/><path d="M285.27 511.60V517.10M284.27 511.60h2.00M284.27 517.10h2.00" stroke="#4daf4a" stroke-width="0.5" stroke-opacity="0.5" fill="none"/><path d="M287.98 512.20V517.70M286.98 512.20h2.00M286.98 517.70h2.00" stroke="#4daf4a" stroke-width="0.5" stroke-opacity="0.5" fill="none"/><path d="M290.69 512.82V518.32M289.69 512.82h2.00M289.69 518.32h2.00" stroke="#4daf4a" stroke-width="0.5" stroke-opacity="0.5" fill="none"/><path d="M293.40 513.40V518.90M292.40 513.40h2.00M292.40 518.90h2.00" stroke="#4daf4a" stroke-width="0.5" stroke-opacity="0.5" fill="none"/><path d="M296.11 513.97V519.47M295.11 513.97h2.00M295.11 519.47h2.00" stroke="#4daf4a" stroke-width="0.5" stroke-opacity="0.5" fill="none"/><path d="M298.82 514.59V520.09M297.82 514.59h2.00M297.82 520.09h2.00" stroke="#4daf4a" stroke-width="0.5" stroke-opacity="0.5" fill="none"/><path d="M301.52 515.25V520.75M300.52 515.25h2.00M300.52 520.75h2.00" stroke="#4daf4a" stroke-width="0.5" stroke-opacity="0.5" fill="none"/><path d="M304.23 515.94V521.44M303.23 515.94h2.00M303.23 521.44h2.00" stroke="#4daf4a" stroke-width="0.5" stroke-opacity="0.5" fill="none"/><path d="M306.94 516.67V522.17M305.94 516.67h2.00M305.94 522.17h2.00" stroke="#4daf4a" stroke-width="0.5" stroke-opacity="0.5" fill="none"/><path d="M309.65 517.43V522.93M308.65 517.43h2.00M308.65 522.93h2.00" stroke="#4daf4a" stroke-width="0.5" stroke-opacity="0.5" fill="none"/><polyline points="228.40,533.20 231.11,527.68 233.82,522.21 236.53,519.51 239.23,517.98 241.94,517.20 244.65,516.65 247.36,516.21 250.07,515.79 252.78,515.30 255.48,514.79 258.19,514.32 260.90,513.95 263.61,513.63 266.32,513.32 269.02,513.07 271.73,512.90 274.44,512.85 277.15,513.00 279.86,513.33 282.57,513.79 285.27,514.35 287.98,514.95 290.69,515.57 293.40,516.15 296.11,516.72 298.82,517.34 301.52,518.00 304.23,518.69 306.94,519.42 309.65,520.18" fill="none" stroke="#4daf4a" stroke-width="0.7"/><circle cx="228.40" cy="533.20" r="1.3" fill="#4daf4a"/><circle cx="231.11" cy="527.68" r="1.3" fill="#4daf4a"/><circle cx="233.82" cy="522.21" r="1.3" fill="#4daf4a"/><circle cx="236.53" cy="519.51" r="1.3" fill="#4daf4a"/><circle cx="239.23" cy="517.98" r="1.3" fill="#4daf4a"/><circle cx="241.94" cy="517.20" r="1.3" fill="#4daf4a"/><circle cx="244.65" cy="516.65" r="1.3" fill="#4daf4a"/><circle cx="247.36" cy="516.21" r="1.3" fill="#4daf4a"/><circle cx="250.07" cy="515.79" r="1.3" fill="#4daf4a"/><circle cx="252.78" cy="515.30" r="1.3" fill="#4daf4a"/><circle cx="255.48" cy="514.79" r="1.3" fill="#4daf4a"/><circle cx="258.19" cy="514.32" r="1.3" fill="#4daf4a"/><circle cx="260.90" cy="513.95" r="1.3" fill="#4daf4a"/><circle cx="263.61" cy="513.63" r="1.3" fill="#4daf4a"/><circle cx="266.32" cy="513.32" r="1.3" fill="#4daf4a"/><circle cx="269.02" cy="513.07" r="1.3" fill="#4daf4a"/><circle cx="271.73" cy="512.90" r="1.3" fill="#4daf4a"/><circle cx="274.44" cy="512.85" r="1.3" fill="#4daf4a"/><circle cx="277.15" cy="513.00" r="1.3" fill="#4daf4a"/><circle cx="279.86" cy="513.33" r="1.3" fill="#4daf4a"/><circle cx="282.57" cy="513.79" r="1.3" fill="#4daf4a"/><circle cx="285.27" cy="514.35" r="1.3" fill="#4daf4a"/><circle cx="287.98" cy="514.95" r="1.3" fill="#4daf4a"/><circle cx="290.69" cy="515.57" r="1.3" fill="#4daf4a"/><circle cx="293.40" cy="516.15" r="1.3" fill="#4daf4a"/><circle cx="296.11" cy="516.72" r="1.3" fill="#4daf4a"/><circle cx="298.82" cy="517.34" r="1.3" fill="#4daf4a"/><circle cx="301.52" cy="518.00" r="1.3" fill="#4daf4a"/><circle cx="304.23" cy="518.69" r="1.3" fill="#4daf4a"/><circle cx="306.94" cy="519.42" r="1.3" fill="#4daf4a"/><circle cx="309.65" cy="520.18" r="1.3" fill="#4daf4a"/></g>
<g><path d="M228.40 536.28V539.58M227.40 536.28h2.00M227.40 539.58h2.00" stroke="#1d3f68" stroke-width="0.5" stroke-opacity="0.6" fill="none"/><path d="M231.11 528.22V531.52M230.11 528.22h2.00M230.11 531.52h2.00" stroke="#1d3f68" stroke-width="0.5" stroke-opacity="0.6" fill="none"/><path d="M233.82 521.12V524.42M232.82 521.12h2.00M232.82 524.42h2.00" stroke="#1d3f68" stroke-width="0.5" stroke-opacity="0.6" fill="none"/><path d="M236.53 517.80V521.10M235.53 517.80h2.00M235.53 521.10h2.00" stroke="#1d3f68" stroke-width="0.5" stroke-opacity="0.6" fill="none"/><path d="M239.23 516.09V519.39M238.23 516.09h2.00M238.23 519.39h2.00" stroke="#1d3f68" stroke-width="0.5" stroke-opacity="0.6" fill="none"/><path d="M241.94 514.69V517.99M240.94 514.69h2.00M240.94 517.99h2.00" stroke="#1d3f68" stroke-width="0.5" stroke-opacity="0.6" fill="none"/><path d="M244.65 513.40V516.70M243.65 513.40h2.00M243.65 516.70h2.00" stroke="#1d3f68" stroke-width="0.5" stroke-opacity="0.6" fill="none"/><path d="M247.36 512.07V515.37M246.36 512.07h2.00M246.36 515.37h2.00" stroke="#1d3f68" stroke-width="0.5" stroke-opacity="0.6" fill="none"/><path d="M250.07 510.76V514.06M249.07 510.76h2.00M249.07 514.06h2.00" stroke="#1d3f68" stroke-width="0.5" stroke-opacity="0.6" fill="none"/><path d="M252.78 509.55V512.85M251.78 509.55h2.00M251.78 512.85h2.00" stroke="#1d3f68" stroke-width="0.5" stroke-opacity="0.6" fill="none"/><path d="M255.48 508.37V511.67M254.48 508.37h2.00M254.48 511.67h2.00" stroke="#1d3f68" stroke-width="0.5" stroke-opacity="0.6" fill="none"/><path d="M258.19 507.28V510.58M257.19 507.28h2.00M257.19 510.58h2.00" stroke="#1d3f68" stroke-width="0.5" stroke-opacity="0.6" fill="none"/><path d="M260.90 506.47V509.77M259.90 506.47h2.00M259.90 509.77h2.00" stroke="#1d3f68" stroke-width="0.5" stroke-opacity="0.6" fill="none"/><path d="M263.61 505.89V509.19M262.61 505.89h2.00M262.61 509.19h2.00" stroke="#1d3f68" stroke-width="0.5" stroke-opacity="0.6" fill="none"/><path d="M266.32 505.37V508.67M265.32 505.37h2.00M265.32 508.67h2.00" stroke="#1d3f68" stroke-width="0.5" stroke-opacity="0.6" fill="none"/><path d="M269.02 504.94V508.24M268.02 504.94h2.00M268.02 508.24h2.00" stroke="#1d3f68" stroke-width="0.5" stroke-opacity="0.6" fill="none"/><path d="M271.73 504.67V507.97M270.73 504.67h2.00M270.73 507.97h2.00" stroke="#1d3f68" stroke-width="0.5" stroke-opacity="0.6" fill="none"/><path d="M274.44 504.60V507.90M273.44 504.60h2.00M273.44 507.90h2.00" stroke="#1d3f68" stroke-width="0.5" stroke-opacity="0.6" fill="none"/><path d="M277.15 504.68V507.98M276.15 504.68h2.00M276.15 507.98h2.00" stroke="#1d3f68" stroke-width="0.5" stroke-opacity="0.6" fill="none"/><path d="M279.86 504.84V508.14M278.86 504.84h2.00M278.86 508.14h2.00" stroke="#1d3f68" stroke-width="0.5" stroke-opacity="0.6" fill="none"/><path d="M282.57 505.08V508.38M281.57 505.08h2.00M281.57 508.38h2.00" stroke="#1d3f68" stroke-width="0.5" stroke-opacity="0.6" fill="none"/><path d="M285.27 505.38V508.68M284.27 505.38h2.00M284.27 508.68h2.00" stroke="#1d3f68" stroke-width="0.5" stroke-opacity="0.6" fill="none"/><path d="M287.98 505.72V509.02M286.98 505.72h2.00M286.98 509.02h2.00" stroke="#1d3f68" stroke-width="0.5" stroke-opacity="0.6" fill="none"/><path d="M290.69 506.09V509.39M289.69 506.09h2.00M289.69 509.39h2.00" stroke="#1d3f68" stroke-width="0.5" stroke-opacity="0.6" fill="none"/><path d="M293.40 506.47V509.77M292.40 506.47h2.00M292.40 509.77h2.00" stroke="#1d3f68" stroke-width="0.5" stroke-opacity="0.6" fill="none"/><path d="M296.11 506.91V510.21M295.11 506.91h2.00M295.11 510.21h2.00" stroke="#1d3f68" stroke-width="0.5" stroke-opacity="0.6" fill="none"/><path d="M298.82 507.46V510.76M297.82 507.46h2.00M297.82 510.76h2.00" stroke="#1d3f68" stroke-width="0.5" stroke-opacity="0.6" fill="none"/><path d="M301.52 508.10V511.40M300.52 508.10h2.00M300.52 511.40h2.00" stroke="#1d3f68" stroke-width="0.5" stroke-opacity="0.6" fill="none"/><path d="M304.23 508.82V512.12M303.23 508.82h2.00M303.23 512.12h2.00" stroke="#1d3f68" stroke-width="0.5" stroke-opacity="0.6" fill="none"/><path d="M306.94 509.61V512.91M305.94 509.61h2.00M305.94 512.91h2.00" stroke="#1d3f68" stroke-width="0.5" stroke-opacity="0.6" fill="none"/><path d="M309.65 510.45V513.75M308.65 510.45h2.00M308.65 513.75h2.00" stroke="#1d3f68" stroke-width="0.5" stroke-opacity="0.6" fill="none"/><polyline points="228.40,537.93 231.11,529.87 233.82,522.77 236.53,519.45 239.23,517.74 241.94,516.34 244.65,515.05 247.36,513.72 250.07,512.41 252.78,511.20 255.48,510.02 258.19,508.93 260.90,508.12 263.61,507.54 266.32,507.02 269.02,506.59 271.73,506.32 274.44,506.25 277.15,506.33 279.86,506.49 282.57,506.73 285.27,507.03 287.98,507.37 290.69,507.74 293.40,508.12 296.11,508.56 298.82,509.11 301.52,509.75 304.23,510.47 306.94,511.26 309.65,512.10" fill="none" stroke="#1d3f68" stroke-width="0.7"/><circle cx="228.40" cy="537.93" r="1.3" fill="#1d3f68"/><circle cx="231.11" cy="529.87" r="1.3" fill="#1d3f68"/><circle cx="233.82" cy="522.77" r="1.3" fill="#1d3f68"/><circle cx="236.53" cy="519.45" r="1.3" fill="#1d3f68"/><circle cx="239.23" cy="517.74" r="1.3" fill="#1d3f68"/><circle cx="241.94" cy="516.34" r="1.3" fill="#1d3f68"/><circle cx="244.65" cy="515.05" r="1.3" fill="#1d3f68"/><circle cx="247.36" cy="513.72" r="1.3" fill="#1d3f68"/><circle cx="250.07" cy="512.41" r="1.3" fill="#1d3f68"/><circle cx="252.78" cy="511.20" r="1.3" fill="#1d3f68"/><circle cx="255.48" cy="510.02" r="1.3" fill="#1d3f68"/><circle cx="258.19" cy="508.93" r="1.3" fill="#1d3f68"/><circle cx="260.90" cy="508.12" r="1.3" fill="#1d3f68"/><circle cx="263.61" cy="507.54" r="1.3" fill="#1d3f68"/><circle cx="266.32" cy="507.02" r="1.3" fill="#1d3f68"/><circle cx="269.02" cy="506.59" r="1.3" fill="#1d3f68"/><circle cx="271.73" cy="506.32" r="1.3" fill="#1d3f68"/><circle cx="274.44" cy="506.25" r="1.3" fill="#1d3f68"/><circle cx="277.15" cy="506.33" r="1.3" fill="#1d3f68"/><circle cx="279.86" cy="506.49" r="1.3" fill="#1d3f68"/><circle cx="282.57" cy="506.73" r="1.3" fill="#1d3f68"/><circle cx="285.27" cy="507.03" r="1.3" fill="#1d3f68"/><circle cx="287.98" cy="507.37" r="1.3" fill="#1d3f68"/><circle cx="290.69" cy="507.74" r="1.3" fill="#1d3f68"/><circle cx="293.40" cy="508.12" r="1.3" fill="#1d3f68"/><circle cx="296.11" cy="508.56" r="1.3" fill="#1d3f68"/><circle cx="298.82" cy="509.11" r="1.3" fill="#1d3f68"/><circle cx="301.52" cy="509.75" r="1.3" fill="#1d3f68"/><circle cx="304.23" cy="510.47" r="1.3" fill="#1d3f68"/><circle cx="306.94" cy="511.26" r="1.3" fill="#1d3f68"/><circle cx="309.65" cy="512.10" r="1.3" fill="#1d3f68"/></g>
<g><path d="M228.40 525.39V528.69M227.40 525.39h2.00M227.40 528.69h2.00" stroke="#c8102e" stroke-width="0.5" stroke-opacity="0.6" fill="none"/><path d="M231.11 519.10V522.40M230.11 519.10h2.00M230.11 522.40h2.00" stroke="#c8102e" stroke-width="0.5" stroke-opacity="0.6" fill="none"/><path d="M233.82 515.06V518.36M232.82 515.06h2.00M232.82 518.36h2.00" stroke="#c8102e" stroke-width="0.5" stroke-opacity="0.6" fill="none"/><path d="M236.53 512.85V516.15M235.53 512.85h2.00M235.53 516.15h2.00" stroke="#c8102e" stroke-width="0.5" stroke-opacity="0.6" fill="none"/><path d="M239.23 511.14V514.44M238.23 511.14h2.00M238.23 514.44h2.00" stroke="#c8102e" stroke-width="0.5" stroke-opacity="0.6" fill="none"/><path d="M241.94 509.73V513.03M240.94 509.73h2.00M240.94 513.03h2.00" stroke="#c8102e" stroke-width="0.5" stroke-opacity="0.6" fill="none"/><path d="M244.65 508.45V511.75M243.65 508.45h2.00M243.65 511.75h2.00" stroke="#c8102e" stroke-width="0.5" stroke-opacity="0.6" fill="none"/><path d="M247.36 507.17V510.47M246.36 507.17h2.00M246.36 510.47h2.00" stroke="#c8102e" stroke-width="0.5" stroke-opacity="0.6" fill="none"/><path d="M250.07 505.89V509.19M249.07 505.89h2.00M249.07 509.19h2.00" stroke="#c8102e" stroke-width="0.5" stroke-opacity="0.6" fill="none"/><path d="M252.78 504.65V507.95M251.78 504.65h2.00M251.78 507.95h2.00" stroke="#c8102e" stroke-width="0.5" stroke-opacity="0.6" fill="none"/><path d="M255.48 503.45V506.75M254.48 503.45h2.00M254.48 506.75h2.00" stroke="#c8102e" stroke-width="0.5" stroke-opacity="0.6" fill="none"/><path d="M258.19 502.33V505.63M257.19 502.33h2.00M257.19 505.63h2.00" stroke="#c8102e" stroke-width="0.5" stroke-opacity="0.6" fill="none"/><path d="M260.90 501.30V504.60M259.90 501.30h2.00M259.90 504.60h2.00" stroke="#c8102e" stroke-width="0.5" stroke-opacity="0.6" fill="none"/><path d="M263.61 500.32V503.62M262.61 500.32h2.00M262.61 503.62h2.00" stroke="#c8102e" stroke-width="0.5" stroke-opacity="0.6" fill="none"/><path d="M266.32 499.36V502.66M265.32 499.36h2.00M265.32 502.66h2.00" stroke="#c8102e" stroke-width="0.5" stroke-opacity="0.6" fill="none"/><path d="M269.02 498.45V501.75M268.02 498.45h2.00M268.02 501.75h2.00" stroke="#c8102e" stroke-width="0.5" stroke-opacity="0.6" fill="none"/><path d="M271.73 497.63V500.93M270.73 497.63h2.00M270.73 500.93h2.00" stroke="#c8102e" stroke-width="0.5" stroke-opacity="0.6" fill="none"/><path d="M274.44 496.92V500.22M273.44 496.92h2.00M273.44 500.22h2.00" stroke="#c8102e" stroke-width="0.5" stroke-opacity="0.6" fill="none"/><path d="M277.15 496.35V499.65M276.15 496.35h2.00M276.15 499.65h2.00" stroke="#c8102e" stroke-width="0.5" stroke-opacity="0.6" fill="none"/><path d="M279.86 495.86V499.16M278.86 495.86h2.00M278.86 499.16h2.00" stroke="#c8102e" stroke-width="0.5" stroke-opacity="0.6" fill="none"/><path d="M282.57 495.51V498.81M281.57 495.51h2.00M281.57 498.81h2.00" stroke="#c8102e" stroke-width="0.5" stroke-opacity="0.6" fill="none"/><path d="M285.27 495.48V498.78M284.27 495.48h2.00M284.27 498.78h2.00" stroke="#c8102e" stroke-width="0.5" stroke-opacity="0.6" fill="none"/><path d="M287.98 495.55V498.85M286.98 495.55h2.00M286.98 498.85h2.00" stroke="#c8102e" stroke-width="0.5" stroke-opacity="0.6" fill="none"/><path d="M290.69 495.66V498.96M289.69 495.66h2.00M289.69 498.96h2.00" stroke="#c8102e" stroke-width="0.5" stroke-opacity="0.6" fill="none"/><path d="M293.40 495.80V499.10M292.40 495.80h2.00M292.40 499.10h2.00" stroke="#c8102e" stroke-width="0.5" stroke-opacity="0.6" fill="none"/><path d="M296.11 495.99V499.29M295.11 495.99h2.00M295.11 499.29h2.00" stroke="#c8102e" stroke-width="0.5" stroke-opacity="0.6" fill="none"/><path d="M298.82 496.27V499.57M297.82 496.27h2.00M297.82 499.57h2.00" stroke="#c8102e" stroke-width="0.5" stroke-opacity="0.6" fill="none"/><path d="M301.52 496.64V499.94M300.52 496.64h2.00M300.52 499.94h2.00" stroke="#c8102e" stroke-width="0.5" stroke-opacity="0.6" fill="none"/><path d="M304.23 497.08V500.38M303.23 497.08h2.00M303.23 500.38h2.00" stroke="#c8102e" stroke-width="0.5" stroke-opacity="0.6" fill="none"/><path d="M306.94 497.59V500.89M305.94 497.59h2.00M305.94 500.89h2.00" stroke="#c8102e" stroke-width="0.5" stroke-opacity="0.6" fill="none"/><path d="M309.65 498.15V501.45M308.65 498.15h2.00M308.65 501.45h2.00" stroke="#c8102e" stroke-width="0.5" stroke-opacity="0.6" fill="none"/><polyline points="228.40,527.04 231.11,520.75 233.82,516.71 236.53,514.50 239.23,512.79 241.94,511.38 244.65,510.10 247.36,508.82 250.07,507.54 252.78,506.30 255.48,505.10 258.19,503.98 260.90,502.95 263.61,501.97 266.32,501.01 269.02,500.10 271.73,499.28 274.44,498.57 277.15,498.00 279.86,497.51 282.57,497.16 285.27,497.13 287.98,497.20 290.69,497.31 293.40,497.45 296.11,497.64 298.82,497.92 301.52,498.29 304.23,498.73 306.94,499.24 309.65,499.80" fill="none" stroke="#c8102e" stroke-width="0.7"/><circle cx="228.40" cy="527.04" r="1.3" fill="#c8102e"/><circle cx="231.11" cy="520.75" r="1.3" fill="#c8102e"/><circle cx="233.82" cy="516.71" r="1.3" fill="#c8102e"/><circle cx="236.53" cy="514.50" r="1.3" fill="#c8102e"/><circle cx="239.23" cy="512.79" r="1.3" fill="#c8102e"/><circle cx="241.94" cy="511.38" r="1.3" fill="#c8102e"/><circle cx="244.65" cy="510.10" r="1.3" fill="#c8102e"/><circle cx="247.36" cy="508.82" r="1.3" fill="#c8102e"/><circle cx="250.07" cy="507.54" r="1.3" fill="#c8102e"/><circle cx="252.78" cy="506.30" r="1.3" fill="#c8102e"/><circle cx="255.48" cy="505.10" r="1.3" fill="#c8102e"/><circle cx="258.19" cy="503.98" r="1.3" fill="#c8102e"/><circle cx="260.90" cy="502.95" r="1.3" fill="#c8102e"/><circle cx="263.61" cy="501.97" r="1.3" fill="#c8102e"/><circle cx="266.32" cy="501.01" r="1.3" fill="#c8102e"/><circle cx="269.02" cy="500.10" r="1.3" fill="#c8102e"/><circle cx="271.73" cy="499.28" r="1.3" fill="#c8102e"/><circle cx="274.44" cy="498.57" r="1.3" fill="#c8102e"/><circle cx="277.15" cy="498.00" r="1.3" fill="#c8102e"/><circle cx="279.86" cy="497.51" r="1.3" fill="#c8102e"/><circle cx="282.57" cy="497.16" r="1.3" fill="#c8102e"/><circle cx="285.27" cy="497.13" r="1.3" fill="#c8102e"/><circle cx="287.98" cy="497.20" r="1.3" fill="#c8102e"/><circle cx="290.69" cy="497.31" r="1.3" fill="#c8102e"/><circle cx="293.40" cy="497.45" r="1.3" fill="#c8102e"/><circle cx="296.11" cy="497.64" r="1.3" fill="#c8102e"/><circle cx="298.82" cy="497.92" r="1.3" fill="#c8102e"/><circle cx="301.52" cy="498.29" r="1.3" fill="#c8102e"/><circle cx="304.23" cy="498.73" r="1.3" fill="#c8102e"/><circle cx="306.94" cy="499.24" r="1.3" fill="#c8102e"/><circle cx="309.65" cy="499.80" r="1.3" fill="#c8102e"/></g>
<line x1="245.20" y1="585.60" x2="254.70" y2="585.60" stroke="#1d3f68" stroke-width="0.8" stroke-opacity="1.0"/>
<circle cx="249.95" cy="585.60" r="1.4" fill="#1d3f68"/>
<text x="257.80" y="587.95" font-size="6.6" text-anchor="start" font-weight="normal" font-style="normal" fill="#231f20" stroke="#231f20" stroke-width="0.18" textLength="18.5" lengthAdjust="spacingAndGlyphs">CM06</text>
<line x1="245.20" y1="595.50" x2="254.70" y2="595.50" stroke="#c8102e" stroke-width="0.8" stroke-opacity="1.0"/>
<circle cx="249.95" cy="595.50" r="1.4" fill="#c8102e"/>
<text x="257.80" y="597.85" font-size="6.6" text-anchor="start" font-weight="normal" font-style="normal" fill="#231f20" stroke="#231f20" stroke-width="0.18" textLength="27.5" lengthAdjust="spacingAndGlyphs">HI CM06</text>
<line x1="245.20" y1="605.30" x2="254.70" y2="605.30" stroke="#4daf4a" stroke-width="0.8" stroke-opacity="1.0"/>
<circle cx="249.95" cy="605.30" r="1.4" fill="#4daf4a"/>
<text x="257.80" y="607.65" font-size="6.6" text-anchor="start" font-weight="normal" font-style="normal" fill="#231f20" stroke="#231f20" stroke-width="0.18" textLength="50.5" lengthAdjust="spacingAndGlyphs">1:2 CM06 in NHS</text>
<line x1="245.20" y1="615.40" x2="254.70" y2="615.40" stroke="#9d8fd6" stroke-width="0.8" stroke-opacity="1.0"/>
<circle cx="249.95" cy="615.40" r="1.4" fill="#9d8fd6"/>
<text x="257.80" y="617.75" font-size="6.6" text-anchor="start" font-weight="normal" font-style="normal" fill="#231f20" stroke="#231f20" stroke-width="0.18" textLength="50.5" lengthAdjust="spacingAndGlyphs">1:4 CM06 in NHS</text>
<line x1="245.20" y1="625.40" x2="254.70" y2="625.40" stroke="#f2a11f" stroke-width="0.8" stroke-opacity="1.0"/>
<circle cx="249.95" cy="625.40" r="1.4" fill="#f2a11f"/>
<text x="257.80" y="627.75" font-size="6.6" text-anchor="start" font-weight="normal" font-style="normal" fill="#231f20" stroke="#231f20" stroke-width="0.18" textLength="50.5" lengthAdjust="spacingAndGlyphs">1:8 CM06 in NHS</text>
<line x1="245.20" y1="635.30" x2="254.70" y2="635.30" stroke="#c9c9c9" stroke-width="0.8" stroke-opacity="1.0"/>
<circle cx="249.95" cy="635.30" r="1.4" fill="#c9c9c9"/>
<text x="257.80" y="637.65" font-size="6.6" text-anchor="start" font-weight="normal" font-style="normal" fill="#231f20" stroke="#231f20" stroke-width="0.18" textLength="54.0" lengthAdjust="spacingAndGlyphs">1:16 CM06 in NHS</text>
<line x1="245.20" y1="645.10" x2="254.70" y2="645.10" stroke="#1f5a3a" stroke-width="0.8" stroke-opacity="1.0"/>
<circle cx="249.95" cy="645.10" r="1.4" fill="#1f5a3a"/>
<text x="257.80" y="647.45" font-size="6.6" text-anchor="start" font-weight="normal" font-style="normal" fill="#231f20" stroke="#231f20" stroke-width="0.18" textLength="54.0" lengthAdjust="spacingAndGlyphs">1:32 CM06 in NHS</text>
<path d="M0.5 656V0.5H519.5V656" fill="none" stroke="#5a5a5a" stroke-width="1"/>
<rect x="0" y="654.6" width="520" height="1.4" fill="#2a2a2a"/>
</svg>
</body></html>
